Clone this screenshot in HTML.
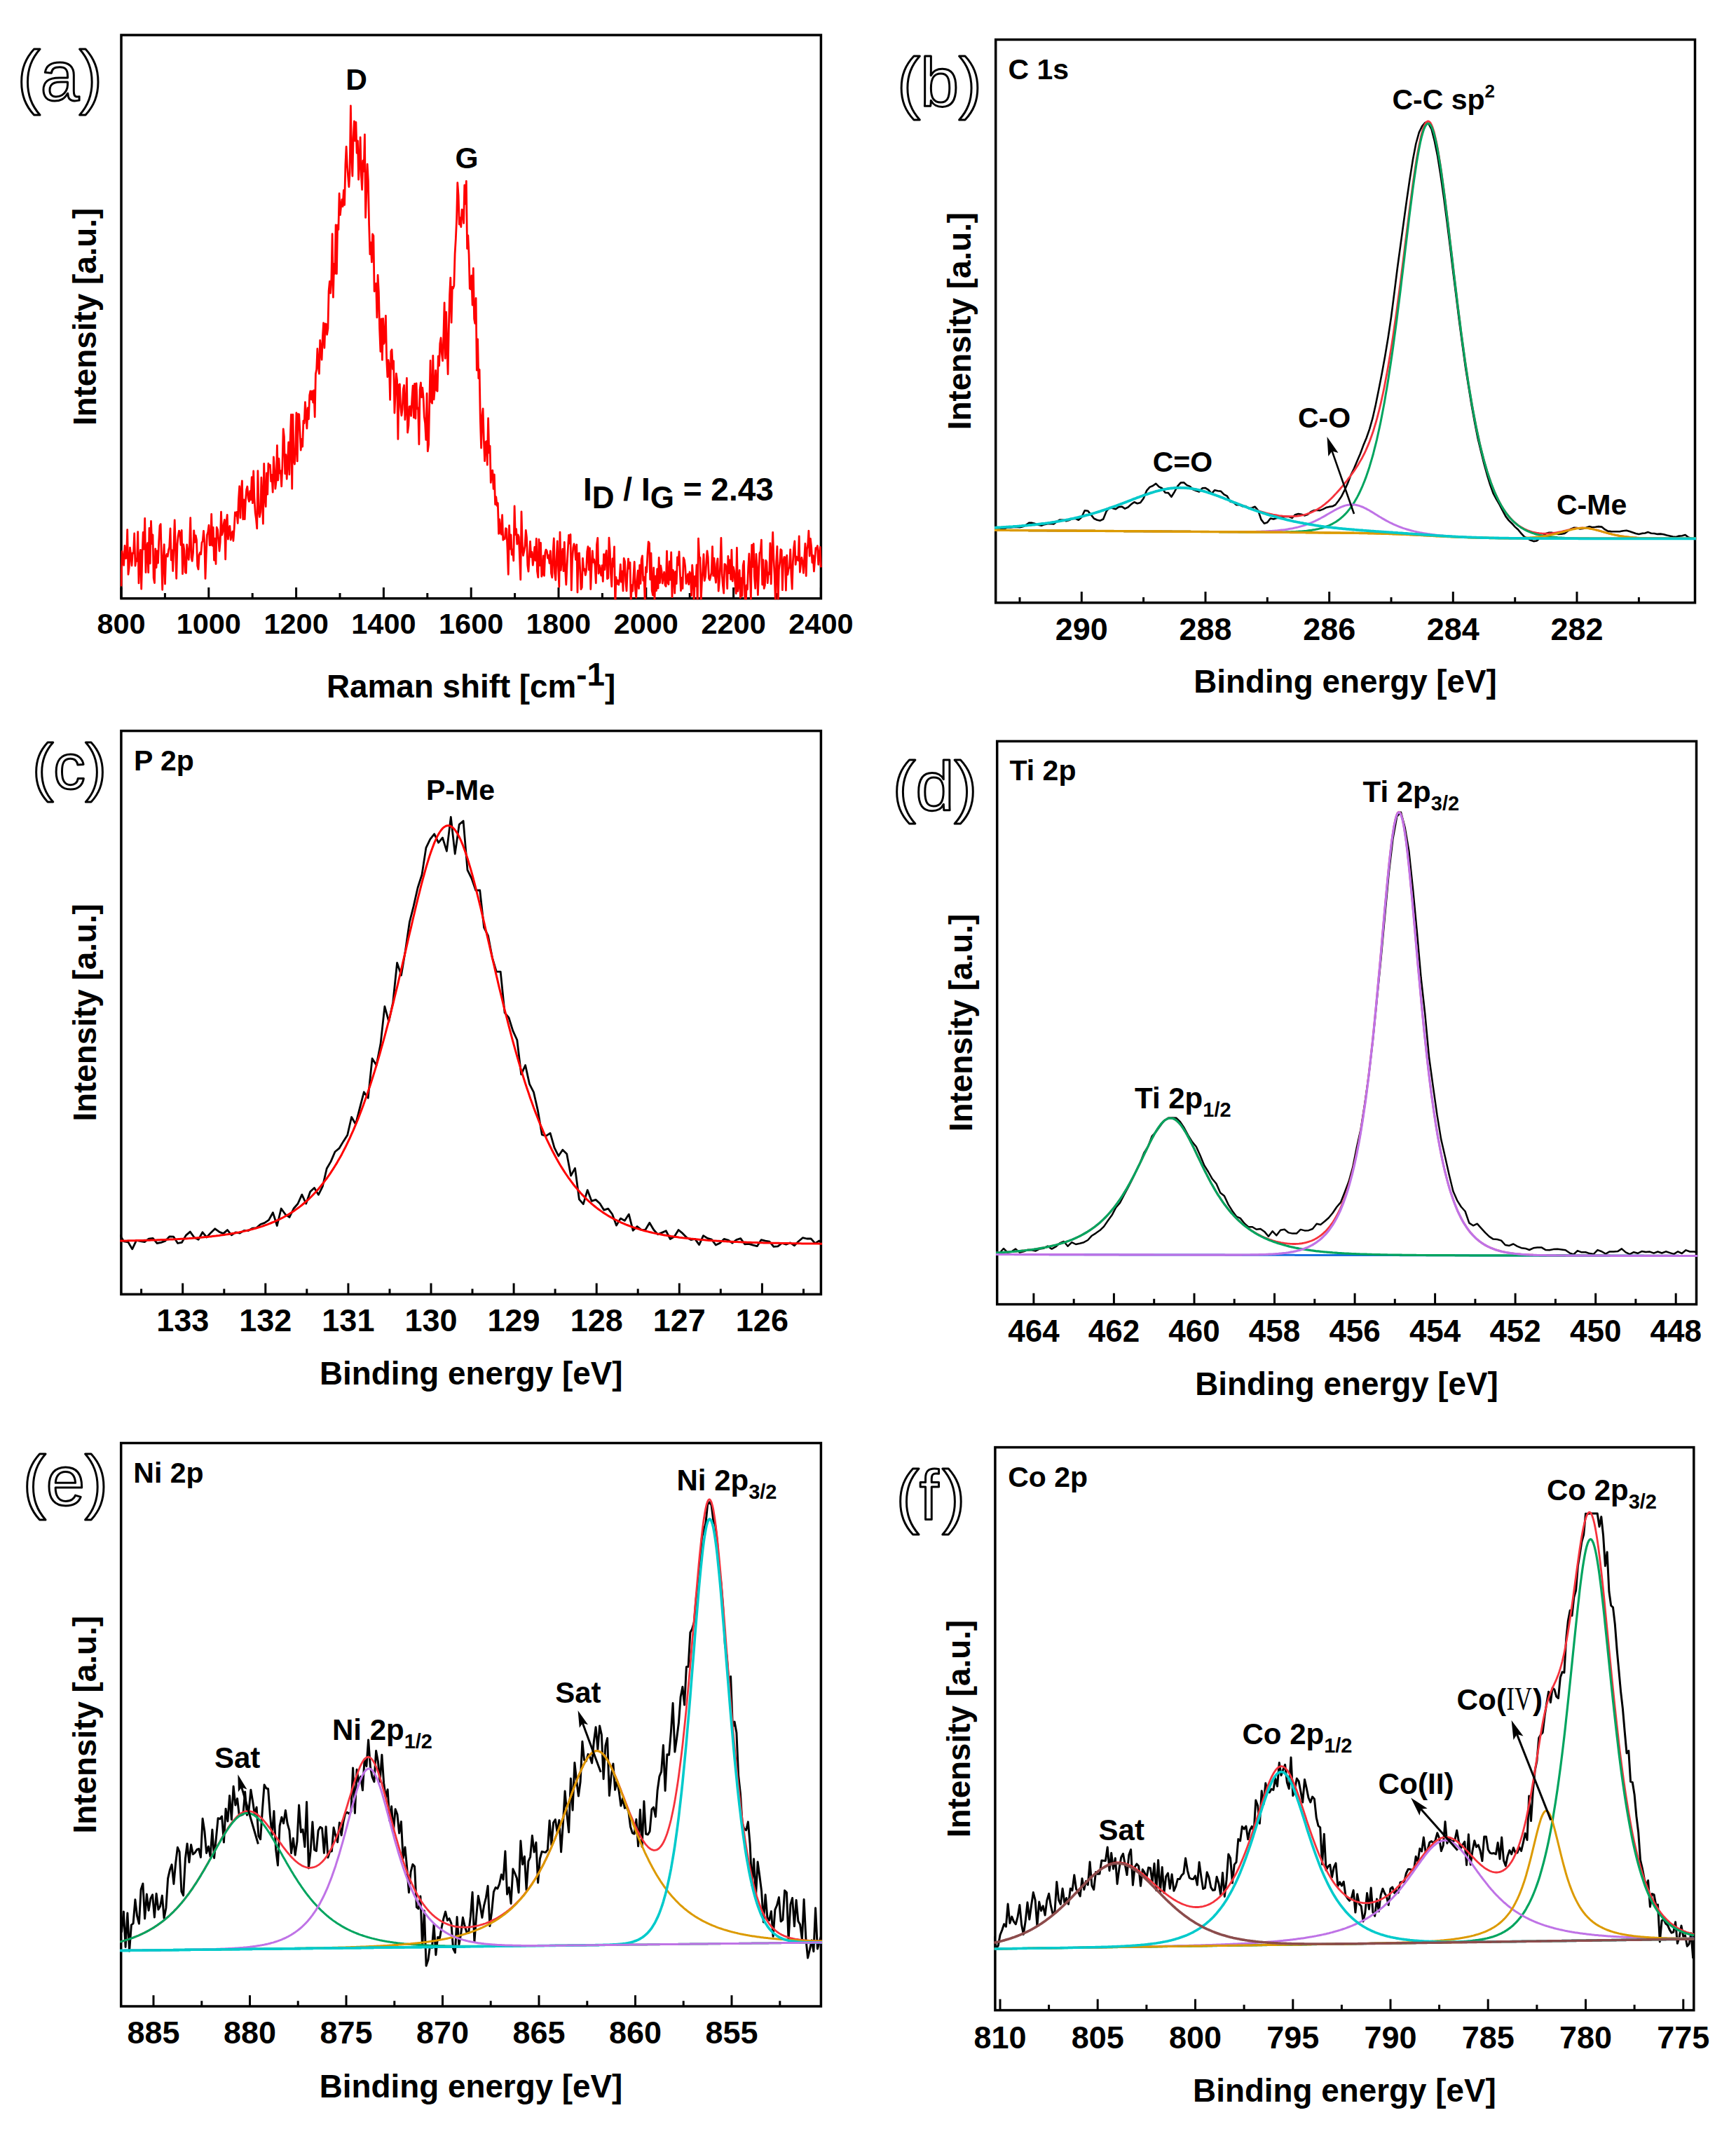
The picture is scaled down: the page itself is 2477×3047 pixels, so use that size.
<!DOCTYPE html>
<html lang="en"><head><meta charset="utf-8"><title>Raman and XPS spectra</title>
<style>html,body{margin:0;padding:0;background:#fff}svg{display:block}</style></head>
<body>
<svg width="2477" height="3047" viewBox="0 0 2477 3047">
<rect width="2477" height="3047" fill="#fff"/>
<path d="M173.0 853.7V837.9M297.8 853.7V837.9M422.6 853.7V837.9M547.4 853.7V837.9M672.2 853.7V837.9M797.0 853.7V837.9M921.8 853.7V837.9M1046.6 853.7V837.9M1171.4 853.7V837.9M235.4 853.7V845.9M360.2 853.7V845.9M485.0 853.7V845.9M609.8 853.7V845.9M734.6 853.7V845.9M859.4 853.7V845.9M984.2 853.7V845.9M1109.0 853.7V845.9" stroke="#000" stroke-width="3" fill="none"/>
<rect x="173.0" y="50.0" width="998.4" height="803.7" fill="none" stroke="#000" stroke-width="3.5"/>
<text x="173.0" y="903.9" font-size="41.5" text-anchor="middle" font-family="'Liberation Sans', sans-serif" font-weight="bold" >800</text>
<text x="297.8" y="903.9" font-size="41.5" text-anchor="middle" font-family="'Liberation Sans', sans-serif" font-weight="bold" >1000</text>
<text x="422.6" y="903.9" font-size="41.5" text-anchor="middle" font-family="'Liberation Sans', sans-serif" font-weight="bold" >1200</text>
<text x="547.4" y="903.9" font-size="41.5" text-anchor="middle" font-family="'Liberation Sans', sans-serif" font-weight="bold" >1400</text>
<text x="672.2" y="903.9" font-size="41.5" text-anchor="middle" font-family="'Liberation Sans', sans-serif" font-weight="bold" >1600</text>
<text x="797.0" y="903.9" font-size="41.5" text-anchor="middle" font-family="'Liberation Sans', sans-serif" font-weight="bold" >1800</text>
<text x="921.8" y="903.9" font-size="41.5" text-anchor="middle" font-family="'Liberation Sans', sans-serif" font-weight="bold" >2000</text>
<text x="1046.6" y="903.9" font-size="41.5" text-anchor="middle" font-family="'Liberation Sans', sans-serif" font-weight="bold" >2200</text>
<text x="1171.4" y="903.9" font-size="41.5" text-anchor="middle" font-family="'Liberation Sans', sans-serif" font-weight="bold" >2400</text>
<text x="672.2" y="994.5" font-size="45.8" text-anchor="middle" font-family="'Liberation Sans', sans-serif" font-weight="bold" >Raman shift [cm<tspan dy="-17">-1</tspan><tspan dy="17">]</tspan></text>
<text transform="translate(137.0 451.9) rotate(-90)" font-size="45.8" text-anchor="middle" font-family="'Liberation Sans', sans-serif" font-weight="bold">Intensity [a.u.]</text>
<text x="24.5" y="142.5" font-size="99.5" font-family="'Liberation Sans', sans-serif" fill="#fff" stroke="#000" stroke-width="3" stroke-linejoin="round">(a)</text>
<defs>
<clipPath id="ca"><rect x="171.4" y="48.4" width="1001.6" height="806.9"/></clipPath>
</defs>
<g clip-path="url(#ca)">
<polyline points="173.0,836.4 174.2,786.5 175.5,797.8 176.7,806.3 178.0,778.5 179.2,796.5 180.5,796.2 181.7,755.6 183.0,819.4 184.2,809.6 185.5,781.1 186.7,791.4 188.0,806.8 189.2,788.9 190.5,789.2 191.7,761.0 193.0,807.2 194.2,797.1 195.5,800.4 196.7,758.6 198.0,831.9 199.2,797.1 200.5,784.4 201.7,840.1 203.0,792.0 204.2,759.3 205.5,783.3 206.7,739.5 208.0,816.6 209.2,782.5 210.5,774.7 211.7,816.6 213.0,753.3 214.2,803.8 215.5,743.4 216.7,775.7 218.0,763.0 219.2,824.6 220.5,831.5 221.7,782.8 223.0,809.7 224.2,785.9 225.5,803.1 226.7,772.3 228.0,749.9 229.2,747.6 230.5,798.1 231.7,841.3 233.0,795.2 234.2,776.6 235.5,833.0 236.7,793.9 238.0,790.5 239.2,793.9 240.5,784.7 241.7,780.4 243.0,754.0 244.2,798.9 245.5,784.8 246.7,814.5 248.0,777.9 249.2,741.9 250.5,783.7 251.7,825.3 253.0,776.6 254.2,764.5 255.5,757.1 256.7,760.2 258.0,777.3 259.2,756.5 260.5,818.6 261.7,776.7 263.0,785.5 264.2,816.2 265.5,817.4 266.7,776.9 268.0,789.3 269.2,798.3 270.5,776.2 271.7,738.7 273.0,795.2 274.2,800.4 275.5,788.7 276.7,756.9 278.0,773.5 279.2,763.8 280.5,770.2 281.7,807.1 283.0,812.1 284.2,791.5 285.5,788.2 286.7,790.7 288.0,774.0 289.2,772.0 290.5,757.4 291.7,771.4 293.0,825.4 294.2,792.0 295.5,762.9 296.7,759.1 298.0,749.2 299.2,777.8 300.5,777.5 301.7,733.4 303.0,778.3 304.2,752.5 305.5,799.1 306.7,768.2 308.0,804.5 309.2,752.2 310.5,755.5 311.7,768.7 313.0,786.0 314.2,773.7 315.5,730.2 316.7,763.2 317.9,758.7 319.2,747.3 320.4,741.4 321.7,797.9 322.9,746.1 324.2,734.5 325.4,769.2 326.7,756.2 327.9,750.4 329.2,770.1 330.4,762.2 331.7,758.1 332.9,771.5 334.2,753.9 335.4,730.9 336.7,735.6 337.9,730.3 339.2,746.4 340.4,713.7 341.7,693.7 342.9,738.7 344.2,702.4 345.4,685.8 346.7,740.8 347.9,712.8 349.2,740.7 350.4,714.2 351.7,698.3 352.9,694.0 354.2,710.6 355.4,715.3 356.7,700.6 357.9,712.8 359.2,680.7 360.4,717.7 361.7,672.0 362.9,710.3 364.2,731.2 365.4,739.7 366.7,753.9 367.9,671.6 369.2,727.6 370.4,737.4 371.7,730.3 372.9,681.1 374.2,712.8 375.4,747.2 376.7,661.3 377.9,708.7 379.2,722.6 380.4,675.0 381.7,705.1 382.9,661.2 384.2,665.5 385.4,663.2 386.7,686.7 387.9,677.5 389.2,702.1 390.4,652.0 391.7,670.8 392.9,697.1 394.2,685.3 395.4,635.5 396.7,685.0 397.9,654.2 399.2,675.0 400.4,671.5 401.7,693.8 402.9,664.1 404.2,611.8 405.4,622.9 406.7,675.8 407.9,648.7 409.2,683.3 410.4,659.3 411.7,631.0 412.9,676.9 414.2,625.9 415.4,591.5 416.7,697.2 417.9,591.4 419.2,656.2 420.4,662.2 421.7,639.3 422.9,589.0 424.2,657.9 425.4,590.7 426.7,590.8 427.9,614.2 429.2,642.1 430.4,626.3 431.7,637.0 432.9,600.2 434.2,603.8 435.4,573.7 436.7,591.2 437.9,611.1 439.2,581.8 440.4,597.8 441.7,563.8 442.9,557.8 444.2,569.8 445.4,557.9 446.7,574.1 447.9,556.8 449.2,594.8 450.4,533.6 451.7,527.1 452.9,497.4 454.2,521.1 455.4,533.2 456.7,485.3 457.9,498.1 459.1,513.1 460.4,480.5 461.6,460.6 462.9,496.3 464.1,461.8 465.4,462.3 466.6,477.4 467.9,468.6 469.1,415.1 470.4,401.5 471.6,418.2 472.9,397.1 474.1,333.7 475.4,424.2 476.6,376.3 477.9,390.3 479.1,320.8 480.4,390.5 481.6,321.2 482.9,327.5 484.1,276.0 485.4,306.5 486.6,294.0 487.9,284.6 489.1,294.5 490.4,271.3 491.6,292.4 492.9,234.8 494.1,209.1 495.4,235.5 496.6,251.2 497.9,266.5 499.1,246.0 500.4,150.9 501.6,219.3 502.9,251.1 504.1,196.8 505.4,173.0 506.6,200.9 507.9,174.3 509.1,218.3 510.4,200.9 511.6,256.1 512.9,231.3 514.1,195.8 515.4,249.9 516.6,270.5 517.9,229.2 519.1,244.4 520.4,191.8 521.6,310.4 522.9,272.5 524.1,234.2 525.4,258.2 526.6,320.2 527.9,362.7 529.1,345.8 530.4,373.9 531.6,334.0 532.9,336.4 534.1,415.5 535.4,412.0 536.6,404.3 537.9,452.9 539.1,392.5 540.4,416.9 541.6,468.9 542.9,501.4 544.1,455.0 545.4,513.4 546.6,454.3 547.9,490.3 549.1,483.7 550.4,450.3 551.6,511.2 552.9,537.7 554.1,513.7 555.4,522.6 556.6,570.3 557.9,501.0 559.1,498.8 560.4,526.5 561.6,514.8 562.9,589.1 564.1,562.9 565.4,532.9 566.6,542.7 567.9,626.4 569.1,548.9 570.4,548.0 571.6,580.7 572.9,592.9 574.1,584.1 575.4,555.1 576.6,549.5 577.9,598.7 579.1,581.9 580.4,539.5 581.6,617.1 582.9,607.0 584.1,579.8 585.4,579.7 586.6,593.3 587.9,568.3 589.1,550.2 590.4,595.6 591.6,547.3 592.9,597.0 594.1,546.8 595.4,583.1 596.6,581.8 597.9,633.8 599.1,555.8 600.4,545.9 601.6,566.6 602.8,553.2 604.1,567.4 605.3,594.6 606.6,603.7 607.8,627.4 609.1,561.2 610.3,643.7 611.6,634.1 612.8,573.0 614.1,514.3 615.3,573.1 616.6,575.3 617.8,507.3 619.1,569.8 620.3,555.4 621.6,528.3 622.8,556.5 624.1,558.0 625.3,508.1 626.6,521.6 627.8,490.3 629.1,482.0 630.3,504.0 631.6,514.7 632.8,481.4 634.1,431.8 635.3,511.3 636.6,445.1 637.8,491.8 639.1,533.8 640.3,469.8 641.6,420.4 642.8,396.1 644.1,460.2 645.3,409.5 646.6,411.3 647.8,407.5 649.1,361.8 650.3,341.4 651.6,312.0 652.8,260.6 654.1,279.0 655.3,320.0 656.6,310.6 657.8,323.6 659.1,298.9 660.3,301.6 661.6,318.4 662.8,264.2 664.1,290.9 665.3,258.3 666.6,354.7 667.8,335.9 669.1,363.5 670.3,411.6 671.6,412.5 672.8,393.1 674.1,435.2 675.3,382.7 676.6,454.8 677.8,461.4 679.1,425.3 680.3,528.2 681.6,483.9 682.8,539.6 684.1,527.2 685.3,597.4 686.6,639.0 687.8,594.5 689.1,582.9 690.3,626.1 691.6,657.7 692.8,630.8 694.1,629.4 695.3,663.2 696.6,596.7 697.8,645.9 699.1,636.1 700.3,688.4 701.6,671.8 702.8,671.0 704.1,697.4 705.3,676.9 706.6,719.5 707.8,708.9 709.1,721.4 710.3,717.6 711.6,761.4 712.8,740.8 714.1,759.8 715.3,762.2 716.6,734.6 717.8,770.3 719.1,767.5 720.3,768.8 721.6,753.7 722.8,754.7 724.1,785.0 725.3,819.4 726.6,749.6 727.8,783.1 729.1,763.0 730.3,791.3 731.6,784.2 732.8,799.8 734.1,721.9 735.3,762.7 736.6,754.6 737.8,776.2 739.1,762.8 740.3,765.7 741.6,797.5 742.8,826.9 744.0,729.8 745.3,777.1 746.5,792.5 747.8,786.2 749.0,779.0 750.3,756.4 751.5,766.8 752.8,806.3 754.0,815.2 755.3,793.2 756.5,772.3 757.8,794.5 759.0,787.4 760.3,806.2 761.5,796.8 762.8,780.3 764.0,799.5 765.3,768.3 766.5,814.9 767.8,823.6 769.0,769.5 770.3,806.7 771.5,774.4 772.8,822.3 774.0,818.7 775.3,792.8 776.5,821.3 777.8,788.7 779.0,784.1 780.3,786.0 781.5,796.1 782.8,792.1 784.0,803.3 785.3,785.8 786.5,817.8 787.8,823.9 789.0,789.2 790.3,768.0 791.5,817.6 792.8,827.4 794.0,797.6 795.3,772.0 796.5,808.0 797.8,837.1 799.0,759.1 800.3,813.5 801.5,795.5 802.8,783.2 804.0,814.6 805.3,773.5 806.5,810.4 807.8,834.0 809.0,808.1 810.3,784.1 811.5,763.5 812.8,775.2 814.0,762.5 815.3,841.9 816.5,799.5 817.8,781.4 819.0,775.8 820.3,781.3 821.5,798.4 822.8,776.8 824.0,845.0 825.3,789.5 826.5,788.9 827.8,814.1 829.0,840.6 830.3,837.9 831.5,796.4 832.8,813.7 834.0,811.4 835.3,820.4 836.5,814.2 837.8,786.8 839.0,779.7 840.3,812.9 841.5,781.8 842.8,840.5 844.0,810.2 845.3,785.9 846.5,802.2 847.8,798.1 849.0,806.9 850.3,831.8 851.5,776.9 852.8,767.3 854.0,818.2 855.3,806.5 856.5,814.4 857.8,821.0 859.0,806.7 860.3,829.4 861.5,790.6 862.8,812.7 864.0,792.2 865.3,785.4 866.5,825.7 867.8,824.7 869.0,767.1 870.3,786.0 871.5,818.6 872.8,836.6 874.0,796.8 875.3,808.0 876.5,779.8 877.8,865.3 879.0,823.4 880.3,833.1 881.5,827.8 882.8,834.2 884.0,826.8 885.3,805.2 886.5,830.1 887.7,814.9 889.0,842.9 890.2,796.3 891.5,800.8 892.7,828.6 894.0,842.9 895.2,816.9 896.5,797.2 897.7,811.0 899.0,802.3 900.2,857.5 901.5,834.6 902.7,843.1 904.0,821.1 905.2,801.5 906.5,841.3 907.7,852.4 909.0,827.9 910.2,814.0 911.5,839.5 912.7,806.2 914.0,832.5 915.2,798.6 916.5,792.8 917.7,828.2 919.0,823.1 920.2,859.2 921.5,809.1 922.7,816.1 924.0,789.5 925.2,772.8 926.5,775.0 927.7,826.7 929.0,789.1 930.2,842.2 931.5,849.1 932.7,809.9 934.0,854.7 935.2,821.9 936.5,842.7 937.7,811.7 939.0,839.1 940.2,795.4 941.5,831.5 942.7,806.8 944.0,814.4 945.2,832.0 946.5,821.6 947.7,816.0 949.0,834.5 950.2,836.4 951.5,786.1 952.7,830.9 954.0,833.6 955.2,801.0 956.5,827.2 957.7,787.9 959.0,851.6 960.2,813.1 961.5,816.8 962.7,846.2 964.0,815.4 965.2,832.6 966.5,794.8 967.7,805.8 969.0,786.9 970.2,814.2 971.5,842.7 972.7,824.2 974.0,839.5 975.2,795.6 976.5,798.9 977.7,808.5 979.0,832.5 980.2,827.5 981.5,819.0 982.7,833.7 984.0,816.0 985.2,819.0 986.5,849.6 987.7,806.1 989.0,823.8 990.2,856.7 991.5,822.1 992.7,836.0 994.0,805.8 995.2,864.8 996.5,768.1 997.7,793.8 999.0,795.7 1000.2,857.2 1001.5,828.1 1002.7,814.0 1004.0,790.6 1005.2,828.4 1006.5,822.7 1007.7,804.2 1009.0,785.8 1010.2,794.8 1011.5,825.1 1012.7,827.4 1014.0,821.9 1015.2,816.7 1016.5,779.6 1017.7,821.4 1019.0,796.5 1020.2,821.2 1021.5,831.0 1022.7,804.8 1024.0,796.8 1025.2,843.2 1026.5,828.4 1027.7,805.7 1028.9,767.4 1030.2,819.2 1031.4,834.8 1032.7,846.1 1033.9,804.7 1035.2,805.5 1036.4,810.1 1037.7,839.6 1038.9,793.3 1040.2,817.7 1041.4,799.0 1042.7,826.5 1043.9,784.5 1045.2,829.0 1046.4,808.9 1047.7,815.1 1048.9,832.4 1050.2,846.6 1051.4,781.3 1052.7,843.4 1053.9,833.1 1055.2,813.5 1056.4,852.6 1057.7,824.6 1058.9,850.0 1060.2,806.7 1061.4,800.4 1062.7,848.5 1063.9,870.1 1065.2,834.9 1066.4,840.8 1067.7,809.4 1068.9,789.8 1070.2,815.1 1071.4,854.7 1072.7,777.3 1073.9,808.5 1075.2,775.6 1076.4,821.9 1077.7,839.3 1078.9,790.3 1080.2,809.1 1081.4,848.7 1082.7,815.8 1083.9,788.9 1085.2,786.7 1086.4,770.2 1087.7,834.0 1088.9,798.6 1090.2,839.5 1091.4,834.8 1092.7,799.3 1093.9,801.9 1095.2,831.6 1096.4,816.8 1097.7,819.1 1098.9,774.8 1100.2,832.9 1101.4,791.8 1102.7,759.4 1103.9,797.1 1105.2,820.6 1106.4,858.8 1107.7,801.6 1108.9,779.3 1110.2,858.4 1111.4,812.8 1112.7,802.8 1113.9,783.7 1115.2,785.0 1116.4,841.7 1117.7,801.1 1118.9,794.6 1120.2,794.8 1121.4,842.2 1122.7,792.2 1123.9,819.8 1125.2,811.0 1126.4,810.0 1127.7,783.9 1128.9,818.7 1130.2,840.1 1131.4,801.4 1132.7,780.9 1133.9,771.8 1135.2,805.4 1136.4,794.2 1137.7,797.5 1138.9,799.6 1140.2,764.8 1141.4,816.2 1142.7,803.1 1143.9,795.4 1145.2,801.9 1146.4,817.4 1147.7,796.8 1148.9,775.4 1150.2,821.5 1151.4,784.1 1152.7,777.0 1153.9,757.2 1155.2,793.2 1156.4,768.4 1157.7,780.3 1158.9,802.5 1160.2,792.5 1161.4,815.0 1162.7,798.3 1163.9,781.6 1165.2,783.1 1166.4,778.7 1167.7,805.3 1168.9,790.6 1170.2,780.4 1171.4,809.4" fill="none" stroke="#ff0000" stroke-width="2.8" stroke-linejoin="round" stroke-linecap="butt" />
</g>
<text x="508.5" y="128.2" font-size="42.5" text-anchor="middle" font-family="'Liberation Sans', sans-serif" font-weight="bold" >D</text>
<text x="666.0" y="240.1" font-size="42.5" text-anchor="middle" font-family="'Liberation Sans', sans-serif" font-weight="bold" >G</text>
<text x="832.0" y="714.4" font-size="46" text-anchor="start" font-family="'Liberation Sans', sans-serif" font-weight="bold" >I<tspan dy="11" font-size="44">D</tspan><tspan dy="-11"> / I</tspan><tspan dy="11" font-size="44">G</tspan><tspan dy="-11"> = 2.43</tspan></text>
<path d="M1543.3 859.8V844.0M1720.0 859.8V844.0M1896.7 859.8V844.0M2073.3 859.8V844.0M2250.0 859.8V844.0M1455.0 859.8V852.0M1631.6 859.8V852.0M1808.3 859.8V852.0M1985.0 859.8V852.0M2161.7 859.8V852.0M2338.4 859.8V852.0" stroke="#000" stroke-width="3" fill="none"/>
<rect x="1420.7" y="56.5" width="997.8" height="803.3" fill="none" stroke="#000" stroke-width="3.5"/>
<text x="1543.3" y="913.3" font-size="45" text-anchor="middle" font-family="'Liberation Sans', sans-serif" font-weight="bold" >290</text>
<text x="1720.0" y="913.3" font-size="45" text-anchor="middle" font-family="'Liberation Sans', sans-serif" font-weight="bold" >288</text>
<text x="1896.7" y="913.3" font-size="45" text-anchor="middle" font-family="'Liberation Sans', sans-serif" font-weight="bold" >286</text>
<text x="2073.3" y="913.3" font-size="45" text-anchor="middle" font-family="'Liberation Sans', sans-serif" font-weight="bold" >284</text>
<text x="2250.0" y="913.3" font-size="45" text-anchor="middle" font-family="'Liberation Sans', sans-serif" font-weight="bold" >282</text>
<text x="1919.6" y="987.8" font-size="45.8" text-anchor="middle" font-family="'Liberation Sans', sans-serif" font-weight="bold" >Binding energy [eV]</text>
<text transform="translate(1384.7 458.1) rotate(-90)" font-size="45.8" text-anchor="middle" font-family="'Liberation Sans', sans-serif" font-weight="bold">Intensity [a.u.]</text>
<text x="1280.0" y="150.5" font-size="99" font-family="'Liberation Sans', sans-serif" fill="#fff" stroke="#000" stroke-width="3" stroke-linejoin="round">(b)</text>
<defs>
<clipPath id="cb"><rect x="1419.1" y="54.9" width="1001.0" height="806.5"/></clipPath>
</defs>
<g clip-path="url(#cb)">
<polyline points="1415.2,750.4 1419.6,750.5 1424.0,753.6 1428.5,754.6 1432.9,754.3 1437.3,752.4 1441.7,752.4 1446.1,752.0 1450.5,751.8 1455.0,752.2 1459.4,751.3 1463.8,749.0 1468.2,745.8 1472.6,745.9 1477.0,747.1 1481.5,748.7 1485.9,749.7 1490.3,748.1 1494.7,747.3 1499.1,746.9 1503.5,747.4 1508.0,744.0 1512.4,741.5 1516.8,741.8 1521.2,743.3 1525.6,742.0 1530.0,739.9 1534.5,739.8 1538.9,741.7 1543.3,737.7 1547.7,728.3 1552.1,728.7 1556.6,734.1 1561.0,739.8 1565.4,741.8 1569.8,742.7 1574.2,740.5 1578.6,729.5 1583.1,724.0 1587.5,725.1 1591.9,726.2 1596.3,723.1 1600.7,722.7 1605.1,725.6 1609.6,723.5 1614.0,719.4 1618.4,716.3 1622.8,718.3 1627.2,717.1 1631.6,711.0 1636.1,699.9 1640.5,694.9 1644.9,693.0 1649.3,689.9 1653.7,694.4 1658.1,696.5 1662.6,702.8 1667.0,703.1 1671.4,708.8 1675.8,701.7 1680.2,693.6 1684.6,688.6 1689.1,688.2 1693.5,692.1 1697.9,693.9 1702.3,698.2 1706.7,700.1 1711.1,701.4 1715.6,696.3 1720.0,696.1 1724.4,698.9 1728.8,704.2 1733.2,699.2 1737.6,700.2 1742.1,700.8 1746.5,705.3 1750.9,707.7 1755.3,715.4 1759.7,716.6 1764.2,720.2 1768.6,720.0 1773.0,722.3 1777.4,722.1 1781.8,725.3 1786.2,724.4 1790.7,722.8 1795.1,728.0 1799.5,741.1 1803.9,746.8 1808.3,745.3 1812.7,739.5 1817.2,740.4 1821.6,739.0 1826.0,738.6 1830.4,737.7 1834.8,736.8 1839.2,737.0 1843.7,738.9 1848.1,734.2 1852.5,733.1 1856.9,733.7 1861.3,735.4 1865.7,734.1 1870.2,730.1 1874.6,728.1 1879.0,727.7 1883.4,728.1 1887.8,726.4 1892.2,724.1 1896.7,722.9 1901.1,722.3 1905.5,720.0 1909.9,714.3 1914.3,707.7 1918.7,698.9 1923.2,688.8 1927.6,677.4 1932.0,668.3 1936.4,657.8 1940.8,647.5 1945.2,635.6 1949.7,624.7 1954.1,612.1 1958.5,596.7 1962.9,577.3 1967.3,555.5 1971.7,532.9 1976.2,508.3 1980.6,481.7 1985.0,452.2 1989.4,418.1 1993.8,383.0 1998.3,349.9 2002.7,317.8 2007.1,286.0 2011.5,255.7 2015.9,228.1 2020.3,205.0 2024.8,188.9 2029.2,179.9 2033.6,174.8 2038.0,175.9 2042.4,183.8 2046.8,200.9 2051.3,223.3 2055.7,251.1 2060.1,281.8 2064.5,315.7 2068.9,350.8 2073.3,387.5 2077.8,423.5 2082.2,459.1 2086.6,492.2 2091.0,524.0 2095.4,551.6 2099.8,578.9 2104.3,603.6 2108.7,625.8 2113.1,644.0 2117.5,661.7 2121.9,677.5 2126.3,691.9 2130.8,704.2 2135.2,712.4 2139.6,719.9 2144.0,728.5 2148.4,736.6 2152.8,742.4 2157.3,746.7 2161.7,751.6 2166.1,755.5 2170.5,760.8 2174.9,765.6 2179.3,767.9 2183.8,770.5 2188.2,772.1 2192.6,771.5 2197.0,767.7 2201.4,764.2 2205.9,761.1 2210.3,759.8 2214.7,759.9 2219.1,760.8 2223.5,761.9 2227.9,761.7 2232.4,761.0 2236.8,757.6 2241.2,754.6 2245.6,752.9 2250.0,753.1 2254.4,754.5 2258.9,754.0 2263.3,752.8 2267.7,751.1 2272.1,752.2 2276.5,751.7 2280.9,751.1 2285.4,751.6 2289.8,755.2 2294.2,757.6 2298.6,758.1 2303.0,758.2 2307.4,758.2 2311.9,758.1 2316.3,757.2 2320.7,756.8 2325.1,758.0 2329.5,759.5 2333.9,761.0 2338.4,762.0 2342.8,760.9 2347.2,760.5 2351.6,759.1 2356.0,760.7 2360.4,761.0 2364.9,761.9 2369.3,761.6 2373.7,762.2 2378.1,763.6 2382.5,764.5 2386.9,765.5 2391.4,766.1 2395.8,764.6 2400.2,764.3 2404.6,763.0 2409.0,766.6 2413.4,768.0 2417.9,768.5 2422.3,766.1" fill="none" stroke="#000" stroke-width="2.6" stroke-linejoin="round" stroke-linecap="butt" />
<polyline points="1415.2,752.9 1417.0,752.8 1418.7,752.7 1420.5,752.6 1422.3,752.5 1424.0,752.4 1425.8,752.4 1427.6,752.3 1429.3,752.2 1431.1,752.1 1432.9,752.0 1434.6,751.9 1436.4,751.7 1438.2,751.6 1439.9,751.5 1441.7,751.4 1443.5,751.3 1445.2,751.2 1447.0,751.0 1448.8,750.9 1450.5,750.8 1452.3,750.6 1454.1,750.5 1455.8,750.3 1457.6,750.2 1459.4,750.0 1461.1,749.9 1462.9,749.7 1464.7,749.6 1466.4,749.4 1468.2,749.2 1470.0,749.0 1471.7,748.9 1473.5,748.7 1475.3,748.5 1477.0,748.3 1478.8,748.1 1480.6,747.9 1482.3,747.7 1484.1,747.5 1485.9,747.2 1487.6,747.0 1489.4,746.8 1491.2,746.6 1492.9,746.3 1494.7,746.1 1496.5,745.8 1498.2,745.6 1500.0,745.3 1501.8,745.0 1503.5,744.8 1505.3,744.5 1507.1,744.2 1508.8,743.9 1510.6,743.6 1512.4,743.3 1514.1,743.0 1515.9,742.7 1517.7,742.3 1519.4,742.0 1521.2,741.7 1523.0,741.3 1524.7,741.0 1526.5,740.6 1528.3,740.2 1530.0,739.9 1531.8,739.5 1533.6,739.1 1535.3,738.7 1537.1,738.3 1538.9,737.9 1540.6,737.4 1542.4,737.0 1544.2,736.6 1546.0,736.1 1547.7,735.7 1549.5,735.2 1551.3,734.7 1553.0,734.3 1554.8,733.8 1556.6,733.3 1558.3,732.8 1560.1,732.3 1561.9,731.7 1563.6,731.2 1565.4,730.7 1567.2,730.1 1568.9,729.6 1570.7,729.0 1572.5,728.4 1574.2,727.9 1576.0,727.3 1577.8,726.7 1579.5,726.1 1581.3,725.5 1583.1,724.9 1584.8,724.3 1586.6,723.6 1588.4,723.0 1590.1,722.4 1591.9,721.7 1593.7,721.1 1595.4,720.4 1597.2,719.8 1599.0,719.1 1600.7,718.4 1602.5,717.7 1604.3,717.1 1606.0,716.4 1607.8,715.7 1609.6,715.0 1611.3,714.4 1613.1,713.7 1614.9,713.0 1616.6,712.3 1618.4,711.6 1620.2,711.0 1621.9,710.3 1623.7,709.6 1625.5,709.0 1627.2,708.3 1629.0,707.7 1630.8,707.0 1632.5,706.4 1634.3,705.8 1636.1,705.2 1637.8,704.6 1639.6,704.0 1641.4,703.4 1643.1,702.8 1644.9,702.3 1646.7,701.7 1648.4,701.2 1650.2,700.7 1652.0,700.3 1653.7,699.8 1655.5,699.4 1657.3,698.9 1659.0,698.5 1660.8,698.2 1662.6,697.8 1664.3,697.5 1666.1,697.2 1667.9,696.9 1669.6,696.7 1671.4,696.5 1673.2,696.3 1674.9,696.1 1676.7,696.0 1678.5,695.9 1680.2,695.8 1682.0,695.8 1683.8,695.7 1685.5,695.8 1687.3,695.8 1689.1,695.9 1690.8,696.0 1692.6,696.1 1694.4,696.3 1696.1,696.4 1697.9,696.7 1699.7,696.9 1701.4,697.2 1703.2,697.5 1705.0,697.8 1706.7,698.1 1708.5,698.5 1710.3,698.9 1712.0,699.3 1713.8,699.8 1715.6,700.2 1717.3,700.7 1719.1,701.2 1720.9,701.7 1722.6,702.3 1724.4,702.8 1726.2,703.4 1727.9,704.0 1729.7,704.6 1731.5,705.2 1733.2,705.8 1735.0,706.5 1736.8,707.1 1738.5,707.8 1740.3,708.4 1742.1,709.1 1743.8,709.8 1745.6,710.5 1747.4,711.2 1749.1,711.8 1750.9,712.5 1752.7,713.2 1754.4,713.9 1756.2,714.6 1758.0,715.3 1759.7,716.0 1761.5,716.7 1763.3,717.4 1765.0,718.1 1766.8,718.8 1768.6,719.4 1770.3,720.1 1772.1,720.8 1773.9,721.4 1775.6,722.1 1777.4,722.7 1779.2,723.4 1780.9,724.0 1782.7,724.6 1784.5,725.2 1786.2,725.8 1788.0,726.4 1789.8,727.0 1791.5,727.6 1793.3,728.1 1795.1,728.7 1796.8,729.2 1798.6,729.7 1800.4,730.2 1802.1,730.7 1803.9,731.2 1805.7,731.7 1807.4,732.1 1809.2,732.5 1811.0,732.9 1812.7,733.3 1814.5,733.7 1816.3,734.1 1818.0,734.4 1819.8,734.7 1821.6,735.0 1823.3,735.3 1825.1,735.6 1826.9,735.8 1828.6,736.0 1830.4,736.2 1832.2,736.3 1833.9,736.5 1835.7,736.6 1837.5,736.6 1839.2,736.7 1841.0,736.7 1842.8,736.7 1844.5,736.6 1846.3,736.6 1848.1,736.4 1849.8,736.3 1851.6,736.1 1853.4,735.8 1855.1,735.6 1856.9,735.2 1858.7,734.9 1860.4,734.5 1862.2,734.0 1864.0,733.5 1865.7,732.9 1867.5,732.3 1869.3,731.7 1871.0,730.9 1872.8,730.2 1874.6,729.3 1876.3,728.4 1878.1,727.5 1879.9,726.5 1881.6,725.4 1883.4,724.3 1885.2,723.1 1886.9,721.8 1888.7,720.5 1890.5,719.1 1892.2,717.7 1894.0,716.2 1895.8,714.6 1897.5,713.0 1899.3,711.3 1901.1,709.5 1902.8,707.7 1904.6,705.8 1906.4,703.9 1908.1,702.0 1909.9,700.0 1911.7,698.0 1913.4,695.9 1915.2,693.8 1917.0,691.7 1918.7,689.5 1920.5,687.3 1922.3,685.0 1924.0,682.7 1925.8,680.4 1927.6,678.0 1929.3,675.6 1931.1,673.1 1932.9,670.6 1934.6,667.9 1936.4,665.2 1938.2,662.4 1939.9,659.4 1941.7,656.4 1943.5,653.2 1945.2,649.8 1947.0,646.3 1948.8,642.5 1950.5,638.6 1952.3,634.4 1954.1,630.0 1955.8,625.3 1957.6,620.3 1959.4,615.0 1961.1,609.4 1962.9,603.5 1964.7,597.2 1966.4,590.6 1968.2,583.6 1970.0,576.2 1971.7,568.4 1973.5,560.2 1975.3,551.6 1977.0,542.6 1978.8,533.1 1980.6,523.2 1982.3,512.8 1984.1,502.1 1985.9,490.9 1987.7,479.3 1989.4,467.3 1991.2,454.9 1993.0,442.1 1994.7,429.0 1996.5,415.6 1998.3,402.0 2000.0,388.1 2001.8,374.0 2003.6,359.8 2005.3,345.5 2007.1,331.3 2008.9,317.1 2010.6,303.1 2012.4,289.3 2014.2,275.8 2015.9,262.8 2017.7,250.2 2019.5,238.3 2021.2,227.1 2023.0,216.7 2024.8,207.3 2026.5,198.8 2028.3,191.4 2030.1,185.1 2031.8,180.1 2033.6,176.4 2035.4,173.9 2037.1,172.9 2038.9,173.2 2040.7,174.8 2042.4,177.8 2044.2,182.1 2046.0,187.7 2047.7,194.6 2049.5,202.6 2051.3,211.6 2053.0,221.7 2054.8,232.7 2056.6,244.6 2058.3,257.1 2060.1,270.3 2061.9,284.0 2063.6,298.1 2065.4,312.6 2067.2,327.3 2068.9,342.2 2070.7,357.2 2072.5,372.3 2074.2,387.2 2076.0,402.1 2077.8,416.8 2079.5,431.4 2081.3,445.6 2083.1,459.6 2084.8,473.3 2086.6,486.6 2088.4,499.6 2090.1,512.2 2091.9,524.4 2093.7,536.2 2095.4,547.6 2097.2,558.6 2099.0,569.2 2100.7,579.3 2102.5,589.1 2104.3,598.5 2106.0,607.5 2107.8,616.1 2109.6,624.3 2111.3,632.2 2113.1,639.7 2114.9,646.8 2116.6,653.6 2118.4,660.1 2120.2,666.3 2121.9,672.1 2123.7,677.7 2125.5,683.0 2127.2,688.0 2129.0,692.8 2130.8,697.3 2132.5,701.5 2134.3,705.6 2136.1,709.4 2137.8,713.0 2139.6,716.4 2141.4,719.6 2143.1,722.7 2144.9,725.6 2146.7,728.3 2148.4,730.8 2150.2,733.2 2152.0,735.4 2153.7,737.5 2155.5,739.5 2157.3,741.4 2159.0,743.1 2160.8,744.8 2162.6,746.3 2164.3,747.7 2166.1,749.1 2167.9,750.3 2169.6,751.5 2171.4,752.5 2173.2,753.5 2174.9,754.4 2176.7,755.3 2178.5,756.1 2180.2,756.8 2182.0,757.4 2183.8,758.0 2185.5,758.6 2187.3,759.0 2189.1,759.5 2190.8,759.8 2192.6,760.2 2194.4,760.4 2196.1,760.7 2197.9,760.8 2199.7,761.0 2201.4,761.1 2203.2,761.1 2205.0,761.2 2206.7,761.1 2208.5,761.1 2210.3,761.0 2212.0,760.8 2213.8,760.7 2215.6,760.5 2217.3,760.2 2219.1,760.0 2220.9,759.7 2222.6,759.3 2224.4,759.0 2226.2,758.6 2227.9,758.3 2229.7,757.9 2231.5,757.4 2233.2,757.0 2235.0,756.6 2236.8,756.2 2238.5,755.8 2240.3,755.4 2242.1,755.0 2243.8,754.6 2245.6,754.3 2247.4,754.0 2249.1,753.7 2250.9,753.5 2252.7,753.3 2254.4,753.2 2256.2,753.1 2258.0,753.0 2259.7,753.1 2261.5,753.1 2263.3,753.3 2265.0,753.5 2266.8,753.7 2268.6,754.0 2270.3,754.3 2272.1,754.6 2273.9,755.0 2275.6,755.5 2277.4,755.9 2279.2,756.4 2280.9,756.9 2282.7,757.4 2284.5,757.9 2286.2,758.4 2288.0,758.9 2289.8,759.4 2291.5,759.9 2293.3,760.4 2295.1,760.8 2296.8,761.3 2298.6,761.7 2300.4,762.2 2302.1,762.6 2303.9,763.0 2305.7,763.4 2307.4,763.7 2309.2,764.0 2311.0,764.4 2312.7,764.7 2314.5,764.9 2316.3,765.2 2318.0,765.5 2319.8,765.7 2321.6,765.9 2323.3,766.1 2325.1,766.3 2326.9,766.5 2328.6,766.6 2330.4,766.8 2332.2,766.9 2333.9,767.0 2335.7,767.2 2337.5,767.3 2339.2,767.4 2341.0,767.5 2342.8,767.5 2344.5,767.6 2346.3,767.7 2348.1,767.7 2349.8,767.8 2351.6,767.8 2353.4,767.9 2355.1,767.9 2356.9,768.0 2358.7,768.0 2360.4,768.0 2362.2,768.1 2364.0,768.1 2365.7,768.1 2367.5,768.1 2369.3,768.2 2371.0,768.2 2372.8,768.2 2374.6,768.2 2376.3,768.2 2378.1,768.2 2379.9,768.2 2381.6,768.2 2383.4,768.2 2385.2,768.3 2386.9,768.3 2388.7,768.3 2390.5,768.3 2392.2,768.3 2394.0,768.3 2395.8,768.3 2397.5,768.3 2399.3,768.3 2401.1,768.3 2402.8,768.3 2404.6,768.3 2406.4,768.3 2408.1,768.3 2409.9,768.3 2411.7,768.3 2413.4,768.3 2415.2,768.3 2417.0,768.3 2418.7,768.3 2420.5,768.3 2422.3,768.3 2424.0,768.3 2425.8,768.3" fill="none" stroke="#f5323c" stroke-width="2.8" stroke-linejoin="round" stroke-linecap="butt" />
<polyline points="1415.2,756.3 1417.0,756.3 1418.7,756.3 1420.5,756.3 1422.3,756.3 1424.0,756.3 1425.8,756.3 1427.6,756.4 1429.3,756.4 1431.1,756.4 1432.9,756.4 1434.6,756.4 1436.4,756.4 1438.2,756.4 1439.9,756.4 1441.7,756.5 1443.5,756.5 1445.2,756.5 1447.0,756.5 1448.8,756.5 1450.5,756.5 1452.3,756.5 1454.1,756.6 1455.8,756.6 1457.6,756.6 1459.4,756.6 1461.1,756.6 1462.9,756.6 1464.7,756.6 1466.4,756.6 1468.2,756.7 1470.0,756.7 1471.7,756.7 1473.5,756.7 1475.3,756.7 1477.0,756.7 1478.8,756.7 1480.6,756.7 1482.3,756.8 1484.1,756.8 1485.9,756.8 1487.6,756.8 1489.4,756.8 1491.2,756.8 1492.9,756.8 1494.7,756.9 1496.5,756.9 1498.2,756.9 1500.0,756.9 1501.8,756.9 1503.5,756.9 1505.3,756.9 1507.1,756.9 1508.8,757.0 1510.6,757.0 1512.4,757.0 1514.1,757.0 1515.9,757.0 1517.7,757.0 1519.4,757.0 1521.2,757.0 1523.0,757.1 1524.7,757.1 1526.5,757.1 1528.3,757.1 1530.0,757.1 1531.8,757.1 1533.6,757.1 1535.3,757.1 1537.1,757.2 1538.9,757.2 1540.6,757.2 1542.4,757.2 1544.2,757.2 1546.0,757.2 1547.7,757.2 1549.5,757.3 1551.3,757.3 1553.0,757.3 1554.8,757.3 1556.6,757.3 1558.3,757.3 1560.1,757.3 1561.9,757.3 1563.6,757.4 1565.4,757.4 1567.2,757.4 1568.9,757.4 1570.7,757.4 1572.5,757.4 1574.2,757.4 1576.0,757.4 1577.8,757.5 1579.5,757.5 1581.3,757.5 1583.1,757.5 1584.8,757.5 1586.6,757.5 1588.4,757.5 1590.1,757.6 1591.9,757.6 1593.7,757.6 1595.4,757.6 1597.2,757.6 1599.0,757.6 1600.7,757.6 1602.5,757.6 1604.3,757.7 1606.0,757.7 1607.8,757.7 1609.6,757.7 1611.3,757.7 1613.1,757.7 1614.9,757.7 1616.6,757.7 1618.4,757.8 1620.2,757.8 1621.9,757.8 1623.7,757.8 1625.5,757.8 1627.2,757.8 1629.0,757.8 1630.8,757.8 1632.5,757.9 1634.3,757.9 1636.1,757.9 1637.8,757.9 1639.6,757.9 1641.4,757.9 1643.1,757.9 1644.9,758.0 1646.7,758.0 1648.4,758.0 1650.2,758.0 1652.0,758.0 1653.7,758.0 1655.5,758.0 1657.3,758.0 1659.0,758.1 1660.8,758.1 1662.6,758.1 1664.3,758.1 1666.1,758.1 1667.9,758.1 1669.6,758.1 1671.4,758.1 1673.2,758.2 1674.9,758.2 1676.7,758.2 1678.5,758.2 1680.2,758.2 1682.0,758.2 1683.8,758.2 1685.5,758.3 1687.3,758.3 1689.1,758.3 1690.8,758.3 1692.6,758.3 1694.4,758.3 1696.1,758.3 1697.9,758.3 1699.7,758.4 1701.4,758.4 1703.2,758.4 1705.0,758.4 1706.7,758.4 1708.5,758.4 1710.3,758.4 1712.0,758.4 1713.8,758.5 1715.6,758.5 1717.3,758.5 1719.1,758.5 1720.9,758.5 1722.6,758.5 1724.4,758.5 1726.2,758.6 1727.9,758.6 1729.7,758.6 1731.5,758.6 1733.2,758.6 1735.0,758.6 1736.8,758.6 1738.5,758.6 1740.3,758.7 1742.1,758.7 1743.8,758.7 1745.6,758.7 1747.4,758.7 1749.1,758.7 1750.9,758.7 1752.7,758.7 1754.4,758.8 1756.2,758.8 1758.0,758.8 1759.7,758.8 1761.5,758.8 1763.3,758.8 1765.0,758.8 1766.8,758.8 1768.6,758.9 1770.3,758.9 1772.1,758.9 1773.9,758.9 1775.6,758.9 1777.4,758.9 1779.2,758.9 1780.9,758.9 1782.7,759.0 1784.5,759.0 1786.2,759.0 1788.0,759.0 1789.8,759.0 1791.5,759.0 1793.3,759.0 1795.1,759.0 1796.8,759.0 1798.6,759.0 1800.4,759.0 1802.1,759.0 1803.9,759.0 1805.7,759.0 1807.4,759.1 1809.2,759.1 1811.0,759.1 1812.7,759.1 1814.5,759.0 1816.3,759.0 1818.0,759.0 1819.8,759.0 1821.6,759.0 1823.3,759.0 1825.1,759.0 1826.9,759.0 1828.6,758.9 1830.4,758.9 1832.2,758.9 1833.9,758.9 1835.7,758.8 1837.5,758.8 1839.2,758.7 1841.0,758.7 1842.8,758.6 1844.5,758.6 1846.3,758.5 1848.1,758.4 1849.8,758.3 1851.6,758.2 1853.4,758.1 1855.1,758.0 1856.9,757.9 1858.7,757.7 1860.4,757.6 1862.2,757.4 1864.0,757.3 1865.7,757.1 1867.5,756.8 1869.3,756.6 1871.0,756.4 1872.8,756.1 1874.6,755.8 1876.3,755.5 1878.1,755.1 1879.9,754.8 1881.6,754.4 1883.4,753.9 1885.2,753.5 1886.9,753.0 1888.7,752.4 1890.5,751.8 1892.2,751.2 1894.0,750.5 1895.8,749.8 1897.5,749.0 1899.3,748.2 1901.1,747.3 1902.8,746.3 1904.6,745.3 1906.4,744.2 1908.1,743.0 1909.9,741.7 1911.7,740.4 1913.4,739.0 1915.2,737.4 1917.0,735.8 1918.7,734.1 1920.5,732.2 1922.3,730.2 1924.0,728.1 1925.8,725.9 1927.6,723.5 1929.3,721.0 1931.1,718.4 1932.9,715.5 1934.6,712.5 1936.4,709.4 1938.2,706.0 1939.9,702.5 1941.7,698.7 1943.5,694.7 1945.2,690.5 1947.0,686.1 1948.8,681.4 1950.5,676.4 1952.3,671.2 1954.1,665.7 1955.8,659.9 1957.6,653.8 1959.4,647.5 1961.1,640.7 1962.9,633.7 1964.7,626.3 1966.4,618.5 1968.2,610.4 1970.0,601.9 1971.7,593.1 1973.5,583.8 1975.3,574.2 1977.0,564.1 1978.8,553.7 1980.6,542.8 1982.3,531.6 1984.1,519.9 1985.9,507.8 1987.7,495.4 1989.4,482.6 1991.2,469.4 1993.0,455.9 1994.7,442.1 1996.5,428.1 1998.3,413.8 2000.0,399.2 2001.8,384.6 2003.6,369.8 2005.3,355.0 2007.1,340.2 2008.9,325.5 2010.6,311.0 2012.4,296.8 2014.2,282.9 2015.9,269.5 2017.7,256.6 2019.5,244.3 2021.2,232.8 2023.0,222.1 2024.8,212.3 2026.5,203.5 2028.3,195.8 2030.1,189.3 2031.8,184.1 2033.6,180.1 2035.4,177.5 2037.1,176.2 2038.9,176.3 2040.7,177.7 2042.4,180.6 2044.2,184.7 2046.0,190.2 2047.7,196.9 2049.5,204.7 2051.3,213.7 2053.0,223.6 2054.8,234.5 2056.6,246.2 2058.3,258.7 2060.1,271.8 2061.9,285.4 2063.6,299.4 2065.4,313.9 2067.2,328.5 2068.9,343.4 2070.7,358.3 2072.5,373.3 2074.2,388.2 2076.0,403.0 2077.8,417.7 2079.5,432.1 2081.3,446.4 2083.1,460.3 2084.8,473.9 2086.6,487.2 2088.4,500.2 2090.1,512.7 2091.9,524.9 2093.7,536.7 2095.4,548.1 2097.2,559.0 2099.0,569.6 2100.7,579.8 2102.5,589.5 2104.3,598.9 2106.0,607.8 2107.8,616.4 2109.6,624.6 2111.3,632.5 2113.1,640.0 2114.9,647.1 2116.6,653.9 2118.4,660.4 2120.2,666.5 2121.9,672.4 2123.7,677.9 2125.5,683.2 2127.2,688.2 2129.0,693.0 2130.8,697.5 2132.5,701.8 2134.3,705.8 2136.1,709.6 2137.8,713.2 2139.6,716.6 2141.4,719.9 2143.1,722.9 2144.9,725.8 2146.7,728.5 2148.4,731.1 2150.2,733.5 2152.0,735.7 2153.7,737.9 2155.5,739.9 2157.3,741.7 2159.0,743.5 2160.8,745.2 2162.6,746.7 2164.3,748.2 2166.1,749.6 2167.9,750.9 2169.6,752.1 2171.4,753.2 2173.2,754.3 2174.9,755.3 2176.7,756.2 2178.5,757.1 2180.2,757.9 2182.0,758.6 2183.8,759.3 2185.5,760.0 2187.3,760.6 2189.1,761.2 2190.8,761.7 2192.6,762.2 2194.4,762.6 2196.1,763.1 2197.9,763.5 2199.7,763.8 2201.4,764.2 2203.2,764.5 2205.0,764.8 2206.7,765.1 2208.5,765.3 2210.3,765.6 2212.0,765.8 2213.8,766.0 2215.6,766.2 2217.3,766.3 2219.1,766.5 2220.9,766.6 2222.6,766.8 2224.4,766.9 2226.2,767.0 2227.9,767.1 2229.7,767.2 2231.5,767.3 2233.2,767.4 2235.0,767.5 2236.8,767.5 2238.5,767.6 2240.3,767.7 2242.1,767.7 2243.8,767.8 2245.6,767.8 2247.4,767.9 2249.1,767.9 2250.9,767.9 2252.7,768.0 2254.4,768.0 2256.2,768.0 2258.0,768.0 2259.7,768.1 2261.5,768.1 2263.3,768.1 2265.0,768.1 2266.8,768.1 2268.6,768.2 2270.3,768.2 2272.1,768.2 2273.9,768.2 2275.6,768.2 2277.4,768.2 2279.2,768.2 2280.9,768.2 2282.7,768.2 2284.5,768.2 2286.2,768.2 2288.0,768.2 2289.8,768.3 2291.5,768.3 2293.3,768.3 2295.1,768.3 2296.8,768.3 2298.6,768.3 2300.4,768.3 2302.1,768.3 2303.9,768.3 2305.7,768.3 2307.4,768.3 2309.2,768.3 2311.0,768.3 2312.7,768.3 2314.5,768.3 2316.3,768.3 2318.0,768.3 2319.8,768.3 2321.6,768.3 2323.3,768.3 2325.1,768.3 2326.9,768.3 2328.6,768.3 2330.4,768.3 2332.2,768.3 2333.9,768.3 2335.7,768.3 2337.5,768.3 2339.2,768.3 2341.0,768.3 2342.8,768.3 2344.5,768.3 2346.3,768.3 2348.1,768.3 2349.8,768.3 2351.6,768.3 2353.4,768.3 2355.1,768.3 2356.9,768.3 2358.7,768.3 2360.4,768.3 2362.2,768.3 2364.0,768.3 2365.7,768.3 2367.5,768.3 2369.3,768.3 2371.0,768.3 2372.8,768.3 2374.6,768.3 2376.3,768.3 2378.1,768.3 2379.9,768.3 2381.6,768.3 2383.4,768.3 2385.2,768.3 2386.9,768.3 2388.7,768.3 2390.5,768.3 2392.2,768.3 2394.0,768.3 2395.8,768.3 2397.5,768.3 2399.3,768.3 2401.1,768.3 2402.8,768.3 2404.6,768.3 2406.4,768.3 2408.1,768.3 2409.9,768.3 2411.7,768.3 2413.4,768.3 2415.2,768.3 2417.0,768.3 2418.7,768.3 2420.5,768.3 2422.3,768.3 2424.0,768.3 2425.8,768.3" fill="none" stroke="#00a45f" stroke-width="3" stroke-linejoin="round" stroke-linecap="butt" />
<polyline points="1415.2,756.3 1417.0,756.3 1418.7,756.3 1420.5,756.3 1422.3,756.3 1424.0,756.3 1425.8,756.3 1427.6,756.4 1429.3,756.4 1431.1,756.4 1432.9,756.4 1434.6,756.4 1436.4,756.4 1438.2,756.4 1439.9,756.4 1441.7,756.5 1443.5,756.5 1445.2,756.5 1447.0,756.5 1448.8,756.5 1450.5,756.5 1452.3,756.5 1454.1,756.6 1455.8,756.6 1457.6,756.6 1459.4,756.6 1461.1,756.6 1462.9,756.6 1464.7,756.6 1466.4,756.6 1468.2,756.7 1470.0,756.7 1471.7,756.7 1473.5,756.7 1475.3,756.7 1477.0,756.7 1478.8,756.7 1480.6,756.7 1482.3,756.8 1484.1,756.8 1485.9,756.8 1487.6,756.8 1489.4,756.8 1491.2,756.8 1492.9,756.8 1494.7,756.9 1496.5,756.9 1498.2,756.9 1500.0,756.9 1501.8,756.9 1503.5,756.9 1505.3,756.9 1507.1,756.9 1508.8,757.0 1510.6,757.0 1512.4,757.0 1514.1,757.0 1515.9,757.0 1517.7,757.0 1519.4,757.0 1521.2,757.0 1523.0,757.1 1524.7,757.1 1526.5,757.1 1528.3,757.1 1530.0,757.1 1531.8,757.1 1533.6,757.1 1535.3,757.1 1537.1,757.2 1538.9,757.2 1540.6,757.2 1542.4,757.2 1544.2,757.2 1546.0,757.2 1547.7,757.2 1549.5,757.3 1551.3,757.3 1553.0,757.3 1554.8,757.3 1556.6,757.3 1558.3,757.3 1560.1,757.3 1561.9,757.3 1563.6,757.4 1565.4,757.4 1567.2,757.4 1568.9,757.4 1570.7,757.4 1572.5,757.4 1574.2,757.4 1576.0,757.4 1577.8,757.5 1579.5,757.5 1581.3,757.5 1583.1,757.5 1584.8,757.5 1586.6,757.5 1588.4,757.5 1590.1,757.6 1591.9,757.6 1593.7,757.6 1595.4,757.6 1597.2,757.6 1599.0,757.6 1600.7,757.6 1602.5,757.6 1604.3,757.7 1606.0,757.7 1607.8,757.7 1609.6,757.7 1611.3,757.7 1613.1,757.7 1614.9,757.7 1616.6,757.7 1618.4,757.8 1620.2,757.8 1621.9,757.8 1623.7,757.8 1625.5,757.8 1627.2,757.8 1629.0,757.8 1630.8,757.8 1632.5,757.9 1634.3,757.9 1636.1,757.9 1637.8,757.9 1639.6,757.9 1641.4,757.9 1643.1,757.9 1644.9,758.0 1646.7,758.0 1648.4,758.0 1650.2,758.0 1652.0,758.0 1653.7,758.0 1655.5,758.0 1657.3,758.0 1659.0,758.1 1660.8,758.1 1662.6,758.1 1664.3,758.1 1666.1,758.1 1667.9,758.1 1669.6,758.1 1671.4,758.1 1673.2,758.2 1674.9,758.2 1676.7,758.2 1678.5,758.2 1680.2,758.2 1682.0,758.2 1683.8,758.2 1685.5,758.3 1687.3,758.3 1689.1,758.3 1690.8,758.3 1692.6,758.3 1694.4,758.3 1696.1,758.3 1697.9,758.3 1699.7,758.4 1701.4,758.4 1703.2,758.4 1705.0,758.4 1706.7,758.4 1708.5,758.4 1710.3,758.4 1712.0,758.4 1713.8,758.5 1715.6,758.5 1717.3,758.5 1719.1,758.5 1720.9,758.5 1722.6,758.5 1724.4,758.5 1726.2,758.5 1727.9,758.5 1729.7,758.6 1731.5,758.6 1733.2,758.6 1735.0,758.6 1736.8,758.6 1738.5,758.6 1740.3,758.6 1742.1,758.6 1743.8,758.6 1745.6,758.6 1747.4,758.6 1749.1,758.6 1750.9,758.6 1752.7,758.7 1754.4,758.7 1756.2,758.7 1758.0,758.7 1759.7,758.7 1761.5,758.7 1763.3,758.7 1765.0,758.7 1766.8,758.7 1768.6,758.6 1770.3,758.6 1772.1,758.6 1773.9,758.6 1775.6,758.6 1777.4,758.6 1779.2,758.6 1780.9,758.6 1782.7,758.5 1784.5,758.5 1786.2,758.5 1788.0,758.5 1789.8,758.4 1791.5,758.4 1793.3,758.3 1795.1,758.3 1796.8,758.2 1798.6,758.2 1800.4,758.1 1802.1,758.1 1803.9,758.0 1805.7,757.9 1807.4,757.8 1809.2,757.7 1811.0,757.6 1812.7,757.5 1814.5,757.4 1816.3,757.3 1818.0,757.2 1819.8,757.0 1821.6,756.9 1823.3,756.7 1825.1,756.5 1826.9,756.3 1828.6,756.1 1830.4,755.9 1832.2,755.7 1833.9,755.5 1835.7,755.2 1837.5,754.9 1839.2,754.6 1841.0,754.3 1842.8,754.0 1844.5,753.7 1846.3,753.3 1848.1,752.9 1849.8,752.5 1851.6,752.1 1853.4,751.6 1855.1,751.1 1856.9,750.6 1858.7,750.1 1860.4,749.5 1862.2,749.0 1864.0,748.4 1865.7,747.7 1867.5,747.0 1869.3,746.3 1871.0,745.6 1872.8,744.9 1874.6,744.1 1876.3,743.3 1878.1,742.4 1879.9,741.6 1881.6,740.7 1883.4,739.8 1885.2,738.8 1886.9,737.8 1888.7,736.9 1890.5,735.9 1892.2,734.9 1894.0,733.8 1895.8,732.8 1897.5,731.8 1899.3,730.7 1901.1,729.7 1902.8,728.7 1904.6,727.7 1906.4,726.8 1908.1,725.8 1909.9,725.0 1911.7,724.1 1913.4,723.3 1915.2,722.6 1917.0,722.0 1918.7,721.4 1920.5,720.9 1922.3,720.5 1924.0,720.2 1925.8,720.0 1927.6,719.8 1929.3,719.8 1931.1,719.9 1932.9,720.1 1934.6,720.3 1936.4,720.7 1938.2,721.1 1939.9,721.7 1941.7,722.3 1943.5,723.0 1945.2,723.7 1947.0,724.6 1948.8,725.4 1950.5,726.4 1952.3,727.3 1954.1,728.3 1955.8,729.4 1957.6,730.4 1959.4,731.5 1961.1,732.6 1962.9,733.7 1964.7,734.8 1966.4,735.9 1968.2,737.0 1970.0,738.0 1971.7,739.1 1973.5,740.1 1975.3,741.1 1977.0,742.1 1978.8,743.1 1980.6,744.0 1982.3,745.0 1984.1,745.9 1985.9,746.7 1987.7,747.6 1989.4,748.4 1991.2,749.1 1993.0,749.9 1994.7,750.6 1996.5,751.3 1998.3,752.0 2000.0,752.6 2001.8,753.3 2003.6,753.9 2005.3,754.4 2007.1,755.0 2008.9,755.5 2010.6,756.0 2012.4,756.5 2014.2,757.0 2015.9,757.4 2017.7,757.9 2019.5,758.3 2021.2,758.7 2023.0,759.1 2024.8,759.4 2026.5,759.8 2028.3,760.1 2030.1,760.4 2031.8,760.7 2033.6,761.0 2035.4,761.3 2037.1,761.6 2038.9,761.8 2040.7,762.1 2042.4,762.3 2044.2,762.6 2046.0,762.8 2047.7,763.0 2049.5,763.2 2051.3,763.4 2053.0,763.6 2054.8,763.8 2056.6,764.0 2058.3,764.1 2060.1,764.3 2061.9,764.4 2063.6,764.6 2065.4,764.7 2067.2,764.9 2068.9,765.0 2070.7,765.1 2072.5,765.3 2074.2,765.4 2076.0,765.5 2077.8,765.6 2079.5,765.7 2081.3,765.8 2083.1,765.9 2084.8,766.0 2086.6,766.1 2088.4,766.2 2090.1,766.3 2091.9,766.4 2093.7,766.4 2095.4,766.5 2097.2,766.6 2099.0,766.6 2100.7,766.7 2102.5,766.8 2104.3,766.8 2106.0,766.9 2107.8,767.0 2109.6,767.0 2111.3,767.1 2113.1,767.1 2114.9,767.2 2116.6,767.2 2118.4,767.3 2120.2,767.3 2121.9,767.3 2123.7,767.4 2125.5,767.4 2127.2,767.5 2129.0,767.5 2130.8,767.5 2132.5,767.6 2134.3,767.6 2136.1,767.6 2137.8,767.6 2139.6,767.7 2141.4,767.7 2143.1,767.7 2144.9,767.7 2146.7,767.8 2148.4,767.8 2150.2,767.8 2152.0,767.8 2153.7,767.9 2155.5,767.9 2157.3,767.9 2159.0,767.9 2160.8,767.9 2162.6,767.9 2164.3,768.0 2166.1,768.0 2167.9,768.0 2169.6,768.0 2171.4,768.0 2173.2,768.0 2174.9,768.0 2176.7,768.0 2178.5,768.1 2180.2,768.1 2182.0,768.1 2183.8,768.1 2185.5,768.1 2187.3,768.1 2189.1,768.1 2190.8,768.1 2192.6,768.1 2194.4,768.1 2196.1,768.1 2197.9,768.2 2199.7,768.2 2201.4,768.2 2203.2,768.2 2205.0,768.2 2206.7,768.2 2208.5,768.2 2210.3,768.2 2212.0,768.2 2213.8,768.2 2215.6,768.2 2217.3,768.2 2219.1,768.2 2220.9,768.2 2222.6,768.2 2224.4,768.2 2226.2,768.2 2227.9,768.2 2229.7,768.2 2231.5,768.2 2233.2,768.2 2235.0,768.2 2236.8,768.2 2238.5,768.2 2240.3,768.2 2242.1,768.3 2243.8,768.3 2245.6,768.3 2247.4,768.3 2249.1,768.3 2250.9,768.3 2252.7,768.3 2254.4,768.3 2256.2,768.3 2258.0,768.3 2259.7,768.3 2261.5,768.3 2263.3,768.3 2265.0,768.3 2266.8,768.3 2268.6,768.3 2270.3,768.3 2272.1,768.3 2273.9,768.3 2275.6,768.3 2277.4,768.3 2279.2,768.3 2280.9,768.3 2282.7,768.3 2284.5,768.3 2286.2,768.3 2288.0,768.3 2289.8,768.3 2291.5,768.3 2293.3,768.3 2295.1,768.3 2296.8,768.3 2298.6,768.3 2300.4,768.3 2302.1,768.3 2303.9,768.3 2305.7,768.3 2307.4,768.3 2309.2,768.3 2311.0,768.3 2312.7,768.3 2314.5,768.3 2316.3,768.3 2318.0,768.3 2319.8,768.3 2321.6,768.3 2323.3,768.3 2325.1,768.3 2326.9,768.3 2328.6,768.3 2330.4,768.3 2332.2,768.3 2333.9,768.3 2335.7,768.3 2337.5,768.3 2339.2,768.3 2341.0,768.3 2342.8,768.3 2344.5,768.3 2346.3,768.3 2348.1,768.3 2349.8,768.3 2351.6,768.3 2353.4,768.3 2355.1,768.3 2356.9,768.3 2358.7,768.3 2360.4,768.3 2362.2,768.3 2364.0,768.3 2365.7,768.3 2367.5,768.3 2369.3,768.3 2371.0,768.3 2372.8,768.3 2374.6,768.3 2376.3,768.3 2378.1,768.3 2379.9,768.3 2381.6,768.3 2383.4,768.3 2385.2,768.3 2386.9,768.3 2388.7,768.3 2390.5,768.3 2392.2,768.3 2394.0,768.3 2395.8,768.3 2397.5,768.3 2399.3,768.3 2401.1,768.3 2402.8,768.3 2404.6,768.3 2406.4,768.3 2408.1,768.3 2409.9,768.3 2411.7,768.3 2413.4,768.3 2415.2,768.3 2417.0,768.3 2418.7,768.3 2420.5,768.3 2422.3,768.3 2424.0,768.3 2425.8,768.3" fill="none" stroke="#bf73e6" stroke-width="3" stroke-linejoin="round" stroke-linecap="butt" />
<polyline points="1415.2,756.3 1417.0,756.3 1418.7,756.3 1420.5,756.3 1422.3,756.3 1424.0,756.3 1425.8,756.3 1427.6,756.4 1429.3,756.4 1431.1,756.4 1432.9,756.4 1434.6,756.4 1436.4,756.4 1438.2,756.4 1439.9,756.4 1441.7,756.5 1443.5,756.5 1445.2,756.5 1447.0,756.5 1448.8,756.5 1450.5,756.5 1452.3,756.5 1454.1,756.6 1455.8,756.6 1457.6,756.6 1459.4,756.6 1461.1,756.6 1462.9,756.6 1464.7,756.6 1466.4,756.6 1468.2,756.7 1470.0,756.7 1471.7,756.7 1473.5,756.7 1475.3,756.7 1477.0,756.7 1478.8,756.7 1480.6,756.7 1482.3,756.8 1484.1,756.8 1485.9,756.8 1487.6,756.8 1489.4,756.8 1491.2,756.8 1492.9,756.8 1494.7,756.9 1496.5,756.9 1498.2,756.9 1500.0,756.9 1501.8,756.9 1503.5,756.9 1505.3,756.9 1507.1,756.9 1508.8,757.0 1510.6,757.0 1512.4,757.0 1514.1,757.0 1515.9,757.0 1517.7,757.0 1519.4,757.0 1521.2,757.0 1523.0,757.1 1524.7,757.1 1526.5,757.1 1528.3,757.1 1530.0,757.1 1531.8,757.1 1533.6,757.1 1535.3,757.1 1537.1,757.2 1538.9,757.2 1540.6,757.2 1542.4,757.2 1544.2,757.2 1546.0,757.2 1547.7,757.2 1549.5,757.3 1551.3,757.3 1553.0,757.3 1554.8,757.3 1556.6,757.3 1558.3,757.3 1560.1,757.3 1561.9,757.3 1563.6,757.4 1565.4,757.4 1567.2,757.4 1568.9,757.4 1570.7,757.4 1572.5,757.4 1574.2,757.4 1576.0,757.4 1577.8,757.5 1579.5,757.5 1581.3,757.5 1583.1,757.5 1584.8,757.5 1586.6,757.5 1588.4,757.5 1590.1,757.6 1591.9,757.6 1593.7,757.6 1595.4,757.6 1597.2,757.6 1599.0,757.6 1600.7,757.6 1602.5,757.6 1604.3,757.7 1606.0,757.7 1607.8,757.7 1609.6,757.7 1611.3,757.7 1613.1,757.7 1614.9,757.7 1616.6,757.7 1618.4,757.8 1620.2,757.8 1621.9,757.8 1623.7,757.8 1625.5,757.8 1627.2,757.8 1629.0,757.8 1630.8,757.8 1632.5,757.9 1634.3,757.9 1636.1,757.9 1637.8,757.9 1639.6,757.9 1641.4,757.9 1643.1,757.9 1644.9,758.0 1646.7,758.0 1648.4,758.0 1650.2,758.0 1652.0,758.0 1653.7,758.0 1655.5,758.0 1657.3,758.0 1659.0,758.1 1660.8,758.1 1662.6,758.1 1664.3,758.1 1666.1,758.1 1667.9,758.1 1669.6,758.1 1671.4,758.1 1673.2,758.2 1674.9,758.2 1676.7,758.2 1678.5,758.2 1680.2,758.2 1682.0,758.2 1683.8,758.2 1685.5,758.3 1687.3,758.3 1689.1,758.3 1690.8,758.3 1692.6,758.3 1694.4,758.3 1696.1,758.3 1697.9,758.3 1699.7,758.4 1701.4,758.4 1703.2,758.4 1705.0,758.4 1706.7,758.4 1708.5,758.4 1710.3,758.4 1712.0,758.4 1713.8,758.5 1715.6,758.5 1717.3,758.5 1719.1,758.5 1720.9,758.5 1722.6,758.5 1724.4,758.5 1726.2,758.6 1727.9,758.6 1729.7,758.6 1731.5,758.6 1733.2,758.6 1735.0,758.6 1736.8,758.6 1738.5,758.6 1740.3,758.7 1742.1,758.7 1743.8,758.7 1745.6,758.7 1747.4,758.7 1749.1,758.7 1750.9,758.7 1752.7,758.8 1754.4,758.8 1756.2,758.8 1758.0,758.8 1759.7,758.8 1761.5,758.8 1763.3,758.8 1765.0,758.8 1766.8,758.9 1768.6,758.9 1770.3,758.9 1772.1,758.9 1773.9,758.9 1775.6,758.9 1777.4,758.9 1779.2,759.0 1780.9,759.0 1782.7,759.0 1784.5,759.0 1786.2,759.0 1788.0,759.0 1789.8,759.0 1791.5,759.0 1793.3,759.1 1795.1,759.1 1796.8,759.1 1798.6,759.1 1800.4,759.1 1802.1,759.1 1803.9,759.1 1805.7,759.2 1807.4,759.2 1809.2,759.2 1811.0,759.2 1812.7,759.2 1814.5,759.2 1816.3,759.2 1818.0,759.3 1819.8,759.3 1821.6,759.3 1823.3,759.3 1825.1,759.3 1826.9,759.3 1828.6,759.3 1830.4,759.4 1832.2,759.4 1833.9,759.4 1835.7,759.4 1837.5,759.4 1839.2,759.4 1841.0,759.5 1842.8,759.5 1844.5,759.5 1846.3,759.5 1848.1,759.5 1849.8,759.5 1851.6,759.5 1853.4,759.6 1855.1,759.6 1856.9,759.6 1858.7,759.6 1860.4,759.6 1862.2,759.6 1864.0,759.7 1865.7,759.7 1867.5,759.7 1869.3,759.7 1871.0,759.7 1872.8,759.8 1874.6,759.8 1876.3,759.8 1878.1,759.8 1879.9,759.8 1881.6,759.9 1883.4,759.9 1885.2,759.9 1886.9,759.9 1888.7,759.9 1890.5,760.0 1892.2,760.0 1894.0,760.0 1895.8,760.0 1897.5,760.0 1899.3,760.1 1901.1,760.1 1902.8,760.1 1904.6,760.1 1906.4,760.1 1908.1,760.1 1909.9,760.1 1911.7,760.1 1913.4,760.2 1915.2,760.2 1917.0,760.2 1918.7,760.2 1920.5,760.2 1922.3,760.2 1924.0,760.3 1925.8,760.3 1927.6,760.3 1929.3,760.3 1931.1,760.3 1932.9,760.4 1934.6,760.4 1936.4,760.4 1938.2,760.4 1939.9,760.5 1941.7,760.5 1943.5,760.5 1945.2,760.6 1947.0,760.6 1948.8,760.6 1950.5,760.6 1952.3,760.7 1954.1,760.7 1955.8,760.8 1957.6,760.8 1959.4,760.8 1961.1,760.9 1962.9,760.9 1964.7,761.0 1966.4,761.0 1968.2,761.1 1970.0,761.1 1971.7,761.2 1973.5,761.2 1975.3,761.3 1977.0,761.3 1978.8,761.4 1980.6,761.4 1982.3,761.5 1984.1,761.5 1985.9,761.6 1987.7,761.7 1989.4,761.7 1991.2,761.8 1993.0,761.9 1994.7,761.9 1996.5,762.0 1998.3,762.1 2000.0,762.2 2001.8,762.2 2003.6,762.3 2005.3,762.4 2007.1,762.5 2008.9,762.6 2010.6,762.6 2012.4,762.7 2014.2,762.8 2015.9,762.9 2017.7,763.0 2019.5,763.1 2021.2,763.2 2023.0,763.3 2024.8,763.3 2026.5,763.4 2028.3,763.5 2030.1,763.6 2031.8,763.7 2033.6,763.8 2035.4,763.9 2037.1,764.0 2038.9,764.1 2040.7,764.2 2042.4,764.3 2044.2,764.4 2046.0,764.5 2047.7,764.6 2049.5,764.7 2051.3,764.8 2053.0,764.8 2054.8,764.9 2056.6,765.0 2058.3,765.1 2060.1,765.2 2061.9,765.3 2063.6,765.4 2065.4,765.5 2067.2,765.5 2068.9,765.6 2070.7,765.7 2072.5,765.8 2074.2,765.9 2076.0,765.9 2077.8,766.0 2079.5,766.1 2081.3,766.2 2083.1,766.2 2084.8,766.3 2086.6,766.4 2088.4,766.4 2090.1,766.5 2091.9,766.6 2093.7,766.6 2095.4,766.7 2097.2,766.7 2099.0,766.8 2100.7,766.8 2102.5,766.9 2104.3,766.9 2106.0,767.0 2107.8,767.0 2109.6,767.1 2111.3,767.1 2113.1,767.2 2114.9,767.2 2116.6,767.3 2118.4,767.3 2120.2,767.3 2121.9,767.4 2123.7,767.4 2125.5,767.4 2127.2,767.5 2129.0,767.5 2130.8,767.5 2132.5,767.5 2134.3,767.6 2136.1,767.6 2137.8,767.6 2139.6,767.6 2141.4,767.6 2143.1,767.6 2144.9,767.6 2146.7,767.7 2148.4,767.7 2150.2,767.7 2152.0,767.7 2153.7,767.7 2155.5,767.7 2157.3,767.6 2159.0,767.6 2160.8,767.6 2162.6,767.6 2164.3,767.6 2166.1,767.5 2167.9,767.5 2169.6,767.4 2171.4,767.4 2173.2,767.3 2174.9,767.3 2176.7,767.2 2178.5,767.1 2180.2,767.0 2182.0,766.9 2183.8,766.8 2185.5,766.7 2187.3,766.6 2189.1,766.5 2190.8,766.3 2192.6,766.1 2194.4,766.0 2196.1,765.8 2197.9,765.6 2199.7,765.3 2201.4,765.1 2203.2,764.8 2205.0,764.6 2206.7,764.3 2208.5,764.0 2210.3,763.6 2212.0,763.3 2213.8,762.9 2215.6,762.5 2217.3,762.1 2219.1,761.7 2220.9,761.3 2222.6,760.8 2224.4,760.3 2226.2,759.9 2227.9,759.4 2229.7,758.9 2231.5,758.4 2233.2,757.9 2235.0,757.4 2236.8,756.9 2238.5,756.4 2240.3,756.0 2242.1,755.5 2243.8,755.1 2245.6,754.7 2247.4,754.4 2249.1,754.1 2250.9,753.8 2252.7,753.6 2254.4,753.4 2256.2,753.3 2258.0,753.3 2259.7,753.3 2261.5,753.3 2263.3,753.4 2265.0,753.6 2266.8,753.8 2268.6,754.1 2270.3,754.4 2272.1,754.8 2273.9,755.1 2275.6,755.6 2277.4,756.0 2279.2,756.5 2280.9,756.9 2282.7,757.4 2284.5,757.9 2286.2,758.4 2288.0,758.9 2289.8,759.4 2291.5,759.9 2293.3,760.4 2295.1,760.9 2296.8,761.3 2298.6,761.8 2300.4,762.2 2302.1,762.6 2303.9,763.0 2305.7,763.4 2307.4,763.7 2309.2,764.1 2311.0,764.4 2312.7,764.7 2314.5,765.0 2316.3,765.2 2318.0,765.5 2319.8,765.7 2321.6,765.9 2323.3,766.1 2325.1,766.3 2326.9,766.5 2328.6,766.6 2330.4,766.8 2332.2,766.9 2333.9,767.0 2335.7,767.2 2337.5,767.3 2339.2,767.4 2341.0,767.5 2342.8,767.5 2344.5,767.6 2346.3,767.7 2348.1,767.7 2349.8,767.8 2351.6,767.9 2353.4,767.9 2355.1,767.9 2356.9,768.0 2358.7,768.0 2360.4,768.0 2362.2,768.1 2364.0,768.1 2365.7,768.1 2367.5,768.1 2369.3,768.2 2371.0,768.2 2372.8,768.2 2374.6,768.2 2376.3,768.2 2378.1,768.2 2379.9,768.2 2381.6,768.2 2383.4,768.2 2385.2,768.3 2386.9,768.3 2388.7,768.3 2390.5,768.3 2392.2,768.3 2394.0,768.3 2395.8,768.3 2397.5,768.3 2399.3,768.3 2401.1,768.3 2402.8,768.3 2404.6,768.3 2406.4,768.3 2408.1,768.3 2409.9,768.3 2411.7,768.3 2413.4,768.3 2415.2,768.3 2417.0,768.3 2418.7,768.3 2420.5,768.3 2422.3,768.3 2424.0,768.3 2425.8,768.3" fill="none" stroke="#dc9a00" stroke-width="3" stroke-linejoin="round" stroke-linecap="butt" />
<polyline points="1415.2,756.3 1417.0,756.3 1418.7,756.3 1420.5,756.3 1422.3,756.3 1424.0,756.3 1425.8,756.3 1427.6,756.4 1429.3,756.4 1431.1,756.4 1432.9,756.4 1434.6,756.4 1436.4,756.4 1438.2,756.4 1439.9,756.4 1441.7,756.5 1443.5,756.5 1445.2,756.5 1447.0,756.5 1448.8,756.5 1450.5,756.5 1452.3,756.5 1454.1,756.6 1455.8,756.6 1457.6,756.6 1459.4,756.6 1461.1,756.6 1462.9,756.6 1464.7,756.6 1466.4,756.6 1468.2,756.7 1470.0,756.7 1471.7,756.7 1473.5,756.7 1475.3,756.7 1477.0,756.7 1478.8,756.7 1480.6,756.7 1482.3,756.8 1484.1,756.8 1485.9,756.8 1487.6,756.8 1489.4,756.8 1491.2,756.8 1492.9,756.8 1494.7,756.9 1496.5,756.9 1498.2,756.9 1500.0,756.9 1501.8,756.9 1503.5,756.9 1505.3,756.9 1507.1,756.9 1508.8,757.0 1510.6,757.0 1512.4,757.0 1514.1,757.0 1515.9,757.0 1517.7,757.0 1519.4,757.0 1521.2,757.0 1523.0,757.1 1524.7,757.1 1526.5,757.1 1528.3,757.1 1530.0,757.1 1531.8,757.1 1533.6,757.1 1535.3,757.1 1537.1,757.2 1538.9,757.2 1540.6,757.2 1542.4,757.2 1544.2,757.2 1546.0,757.2 1547.7,757.2 1549.5,757.3 1551.3,757.3 1553.0,757.3 1554.8,757.3 1556.6,757.3 1558.3,757.3 1560.1,757.3 1561.9,757.3 1563.6,757.4 1565.4,757.4 1567.2,757.4 1568.9,757.4 1570.7,757.4 1572.5,757.4 1574.2,757.4 1576.0,757.4 1577.8,757.5 1579.5,757.5 1581.3,757.5 1583.1,757.5 1584.8,757.5 1586.6,757.5 1588.4,757.5 1590.1,757.6 1591.9,757.6 1593.7,757.6 1595.4,757.6 1597.2,757.6 1599.0,757.6 1600.7,757.6 1602.5,757.6 1604.3,757.7 1606.0,757.7 1607.8,757.7 1609.6,757.7 1611.3,757.7 1613.1,757.7 1614.9,757.7 1616.6,757.7 1618.4,757.8 1620.2,757.8 1621.9,757.8 1623.7,757.8 1625.5,757.8 1627.2,757.8 1629.0,757.8 1630.8,757.8 1632.5,757.9 1634.3,757.9 1636.1,757.9 1637.8,757.9 1639.6,757.9 1641.4,757.9 1643.1,757.9 1644.9,758.0 1646.7,758.0 1648.4,758.0 1650.2,758.0 1652.0,758.0 1653.7,758.0 1655.5,758.0 1657.3,758.0 1659.0,758.1 1660.8,758.1 1662.6,758.1 1664.3,758.1 1666.1,758.1 1667.9,758.1 1669.6,758.1 1671.4,758.1 1673.2,758.2 1674.9,758.2 1676.7,758.2 1678.5,758.2 1680.2,758.2 1682.0,758.2 1683.8,758.2 1685.5,758.3 1687.3,758.3 1689.1,758.3 1690.8,758.3 1692.6,758.3 1694.4,758.3 1696.1,758.3 1697.9,758.3 1699.7,758.4 1701.4,758.4 1703.2,758.4 1705.0,758.4 1706.7,758.4 1708.5,758.4 1710.3,758.4 1712.0,758.4 1713.8,758.5 1715.6,758.5 1717.3,758.5 1719.1,758.5 1720.9,758.5 1722.6,758.5 1724.4,758.5 1726.2,758.6 1727.9,758.6 1729.7,758.6 1731.5,758.6 1733.2,758.6 1735.0,758.6 1736.8,758.6 1738.5,758.6 1740.3,758.7 1742.1,758.7 1743.8,758.7 1745.6,758.7 1747.4,758.7 1749.1,758.7 1750.9,758.7 1752.7,758.8 1754.4,758.8 1756.2,758.8 1758.0,758.8 1759.7,758.8 1761.5,758.8 1763.3,758.8 1765.0,758.8 1766.8,758.9 1768.6,758.9 1770.3,758.9 1772.1,758.9 1773.9,758.9 1775.6,758.9 1777.4,758.9 1779.2,759.0 1780.9,759.0 1782.7,759.0 1784.5,759.0 1786.2,759.0 1788.0,759.0 1789.8,759.0 1791.5,759.0 1793.3,759.1 1795.1,759.1 1796.8,759.1 1798.6,759.1 1800.4,759.1 1802.1,759.1 1803.9,759.1 1805.7,759.2 1807.4,759.2 1809.2,759.2 1811.0,759.2 1812.7,759.2 1814.5,759.2 1816.3,759.2 1818.0,759.3 1819.8,759.3 1821.6,759.3 1823.3,759.3 1825.1,759.3 1826.9,759.3 1828.6,759.3 1830.4,759.4 1832.2,759.4 1833.9,759.4 1835.7,759.4 1837.5,759.4 1839.2,759.4 1841.0,759.5 1842.8,759.5 1844.5,759.5 1846.3,759.5 1848.1,759.5 1849.8,759.5 1851.6,759.5 1853.4,759.6 1855.1,759.6 1856.9,759.6 1858.7,759.6 1860.4,759.6 1862.2,759.6 1864.0,759.7 1865.7,759.7 1867.5,759.7 1869.3,759.7 1871.0,759.7 1872.8,759.8 1874.6,759.8 1876.3,759.8 1878.1,759.8 1879.9,759.8 1881.6,759.9 1883.4,759.9 1885.2,759.9 1886.9,759.9 1888.7,759.9 1890.5,760.0 1892.2,760.0 1894.0,760.0 1895.8,760.0 1897.5,760.0 1899.3,760.1 1901.1,760.1 1902.8,760.1 1904.6,760.1 1906.4,760.1 1908.1,760.1 1909.9,760.1 1911.7,760.1 1913.4,760.2 1915.2,760.2 1917.0,760.2 1918.7,760.2 1920.5,760.2 1922.3,760.2 1924.0,760.3 1925.8,760.3 1927.6,760.3 1929.3,760.3 1931.1,760.3 1932.9,760.4 1934.6,760.4 1936.4,760.4 1938.2,760.4 1939.9,760.5 1941.7,760.5 1943.5,760.5 1945.2,760.6 1947.0,760.6 1948.8,760.6 1950.5,760.6 1952.3,760.7 1954.1,760.7 1955.8,760.8 1957.6,760.8 1959.4,760.8 1961.1,760.9 1962.9,760.9 1964.7,761.0 1966.4,761.0 1968.2,761.1 1970.0,761.1 1971.7,761.2 1973.5,761.2 1975.3,761.3 1977.0,761.3 1978.8,761.4 1980.6,761.4 1982.3,761.5 1984.1,761.5 1985.9,761.6 1987.7,761.7 1989.4,761.7 1991.2,761.8 1993.0,761.9 1994.7,761.9 1996.5,762.0 1998.3,762.1 2000.0,762.2 2001.8,762.2 2003.6,762.3 2005.3,762.4 2007.1,762.5 2008.9,762.6 2010.6,762.6 2012.4,762.7 2014.2,762.8 2015.9,762.9 2017.7,763.0 2019.5,763.1 2021.2,763.2 2023.0,763.3 2024.8,763.3 2026.5,763.4 2028.3,763.5 2030.1,763.6 2031.8,763.7 2033.6,763.8 2035.4,763.9 2037.1,764.0 2038.9,764.1 2040.7,764.2 2042.4,764.3 2044.2,764.4 2046.0,764.5 2047.7,764.6 2049.5,764.7 2051.3,764.8 2053.0,764.8 2054.8,764.9 2056.6,765.0 2058.3,765.1 2060.1,765.2 2061.9,765.3 2063.6,765.4 2065.4,765.5 2067.2,765.5 2068.9,765.6 2070.7,765.7 2072.5,765.8 2074.2,765.9 2076.0,765.9 2077.8,766.0 2079.5,766.1 2081.3,766.2 2083.1,766.2 2084.8,766.3 2086.6,766.4 2088.4,766.4 2090.1,766.5 2091.9,766.6 2093.7,766.6 2095.4,766.7 2097.2,766.7 2099.0,766.8 2100.7,766.8 2102.5,766.9 2104.3,766.9 2106.0,767.0 2107.8,767.0 2109.6,767.1 2111.3,767.1 2113.1,767.2 2114.9,767.2 2116.6,767.3 2118.4,767.3 2120.2,767.3 2121.9,767.4 2123.7,767.4 2125.5,767.5 2127.2,767.5 2129.0,767.5 2130.8,767.5 2132.5,767.6 2134.3,767.6 2136.1,767.6 2137.8,767.7 2139.6,767.7 2141.4,767.7 2143.1,767.7 2144.9,767.8 2146.7,767.8 2148.4,767.8 2150.2,767.8 2152.0,767.8 2153.7,767.9 2155.5,767.9 2157.3,767.9 2159.0,767.9 2160.8,767.9 2162.6,767.9 2164.3,768.0 2166.1,768.0 2167.9,768.0 2169.6,768.0 2171.4,768.0 2173.2,768.0 2174.9,768.0 2176.7,768.0 2178.5,768.1 2180.2,768.1 2182.0,768.1 2183.8,768.1 2185.5,768.1 2187.3,768.1 2189.1,768.1 2190.8,768.1 2192.6,768.1 2194.4,768.1 2196.1,768.1 2197.9,768.2 2199.7,768.2 2201.4,768.2 2203.2,768.2 2205.0,768.2 2206.7,768.2 2208.5,768.2 2210.3,768.2 2212.0,768.2 2213.8,768.2 2215.6,768.2 2217.3,768.2 2219.1,768.2 2220.9,768.2 2222.6,768.2 2224.4,768.2 2226.2,768.2 2227.9,768.2 2229.7,768.2 2231.5,768.2 2233.2,768.2 2235.0,768.2 2236.8,768.2 2238.5,768.2 2240.3,768.2 2242.1,768.3 2243.8,768.3 2245.6,768.3 2247.4,768.3 2249.1,768.3 2250.9,768.3 2252.7,768.3 2254.4,768.3 2256.2,768.3 2258.0,768.3 2259.7,768.3 2261.5,768.3 2263.3,768.3 2265.0,768.3 2266.8,768.3 2268.6,768.3 2270.3,768.3 2272.1,768.3 2273.9,768.3 2275.6,768.3 2277.4,768.3 2279.2,768.3 2280.9,768.3 2282.7,768.3 2284.5,768.3 2286.2,768.3 2288.0,768.3 2289.8,768.3 2291.5,768.3 2293.3,768.3 2295.1,768.3 2296.8,768.3 2298.6,768.3 2300.4,768.3 2302.1,768.3 2303.9,768.3 2305.7,768.3 2307.4,768.3 2309.2,768.3 2311.0,768.3 2312.7,768.3 2314.5,768.3 2316.3,768.3 2318.0,768.3 2319.8,768.3 2321.6,768.3 2323.3,768.3 2325.1,768.3 2326.9,768.3 2328.6,768.3 2330.4,768.3 2332.2,768.3 2333.9,768.3 2335.7,768.3 2337.5,768.3 2339.2,768.3 2341.0,768.3 2342.8,768.3 2344.5,768.3 2346.3,768.3 2348.1,768.3 2349.8,768.3 2351.6,768.3 2353.4,768.3 2355.1,768.3 2356.9,768.3 2358.7,768.3 2360.4,768.3 2362.2,768.3 2364.0,768.3 2365.7,768.3 2367.5,768.3 2369.3,768.3 2371.0,768.3 2372.8,768.3 2374.6,768.3 2376.3,768.3 2378.1,768.3 2379.9,768.3 2381.6,768.3 2383.4,768.3 2385.2,768.3 2386.9,768.3 2388.7,768.3 2390.5,768.3 2392.2,768.3 2394.0,768.3 2395.8,768.3 2397.5,768.3 2399.3,768.3 2401.1,768.3 2402.8,768.3 2404.6,768.3 2406.4,768.3 2408.1,768.3 2409.9,768.3 2411.7,768.3 2413.4,768.3 2415.2,768.3 2417.0,768.3 2418.7,768.3 2420.5,768.3 2422.3,768.3 2424.0,768.3 2425.8,768.3" fill="none" stroke="#dc9a00" stroke-width="3.4" stroke-linejoin="round" stroke-linecap="butt" />
<polyline points="1415.2,752.9 1417.0,752.8 1418.7,752.7 1420.5,752.6 1422.3,752.5 1424.0,752.4 1425.8,752.4 1427.6,752.3 1429.3,752.2 1431.1,752.1 1432.9,752.0 1434.6,751.9 1436.4,751.7 1438.2,751.6 1439.9,751.5 1441.7,751.4 1443.5,751.3 1445.2,751.2 1447.0,751.0 1448.8,750.9 1450.5,750.8 1452.3,750.6 1454.1,750.5 1455.8,750.3 1457.6,750.2 1459.4,750.0 1461.1,749.9 1462.9,749.7 1464.7,749.6 1466.4,749.4 1468.2,749.2 1470.0,749.0 1471.7,748.9 1473.5,748.7 1475.3,748.5 1477.0,748.3 1478.8,748.1 1480.6,747.9 1482.3,747.7 1484.1,747.5 1485.9,747.2 1487.6,747.0 1489.4,746.8 1491.2,746.6 1492.9,746.3 1494.7,746.1 1496.5,745.8 1498.2,745.6 1500.0,745.3 1501.8,745.0 1503.5,744.8 1505.3,744.5 1507.1,744.2 1508.8,743.9 1510.6,743.6 1512.4,743.3 1514.1,743.0 1515.9,742.7 1517.7,742.3 1519.4,742.0 1521.2,741.7 1523.0,741.3 1524.7,741.0 1526.5,740.6 1528.3,740.2 1530.0,739.9 1531.8,739.5 1533.6,739.1 1535.3,738.7 1537.1,738.3 1538.9,737.9 1540.6,737.4 1542.4,737.0 1544.2,736.6 1546.0,736.1 1547.7,735.7 1549.5,735.2 1551.3,734.7 1553.0,734.3 1554.8,733.8 1556.6,733.3 1558.3,732.8 1560.1,732.3 1561.9,731.7 1563.6,731.2 1565.4,730.7 1567.2,730.1 1568.9,729.6 1570.7,729.0 1572.5,728.4 1574.2,727.9 1576.0,727.3 1577.8,726.7 1579.5,726.1 1581.3,725.5 1583.1,724.9 1584.8,724.3 1586.6,723.6 1588.4,723.0 1590.1,722.4 1591.9,721.7 1593.7,721.1 1595.4,720.4 1597.2,719.8 1599.0,719.1 1600.7,718.4 1602.5,717.7 1604.3,717.1 1606.0,716.4 1607.8,715.7 1609.6,715.0 1611.3,714.4 1613.1,713.7 1614.9,713.0 1616.6,712.3 1618.4,711.6 1620.2,711.0 1621.9,710.3 1623.7,709.6 1625.5,709.0 1627.2,708.3 1629.0,707.7 1630.8,707.0 1632.5,706.4 1634.3,705.8 1636.1,705.2 1637.8,704.6 1639.6,704.0 1641.4,703.4 1643.1,702.8 1644.9,702.3 1646.7,701.7 1648.4,701.2 1650.2,700.7 1652.0,700.3 1653.7,699.8 1655.5,699.4 1657.3,698.9 1659.0,698.5 1660.8,698.2 1662.6,697.8 1664.3,697.5 1666.1,697.2 1667.9,696.9 1669.6,696.7 1671.4,696.5 1673.2,696.3 1674.9,696.1 1676.7,696.0 1678.5,695.9 1680.2,695.8 1682.0,695.8 1683.8,695.7 1685.5,695.8 1687.3,695.8 1689.1,695.9 1690.8,696.0 1692.6,696.1 1694.4,696.3 1696.1,696.4 1697.9,696.7 1699.7,696.9 1701.4,697.2 1703.2,697.5 1705.0,697.8 1706.7,698.1 1708.5,698.5 1710.3,698.9 1712.0,699.3 1713.8,699.8 1715.6,700.2 1717.3,700.7 1719.1,701.2 1720.9,701.8 1722.6,702.3 1724.4,702.9 1726.2,703.4 1727.9,704.0 1729.7,704.6 1731.5,705.2 1733.2,705.9 1735.0,706.5 1736.8,707.2 1738.5,707.8 1740.3,708.5 1742.1,709.2 1743.8,709.8 1745.6,710.5 1747.4,711.2 1749.1,711.9 1750.9,712.6 1752.7,713.3 1754.4,714.0 1756.2,714.7 1758.0,715.4 1759.7,716.2 1761.5,716.9 1763.3,717.6 1765.0,718.3 1766.8,719.0 1768.6,719.7 1770.3,720.4 1772.1,721.0 1773.9,721.7 1775.6,722.4 1777.4,723.1 1779.2,723.8 1780.9,724.4 1782.7,725.1 1784.5,725.7 1786.2,726.4 1788.0,727.0 1789.8,727.7 1791.5,728.3 1793.3,728.9 1795.1,729.5 1796.8,730.1 1798.6,730.7 1800.4,731.3 1802.1,731.9 1803.9,732.4 1805.7,733.0 1807.4,733.6 1809.2,734.1 1811.0,734.7 1812.7,735.2 1814.5,735.7 1816.3,736.2 1818.0,736.7 1819.8,737.2 1821.6,737.7 1823.3,738.2 1825.1,738.7 1826.9,739.1 1828.6,739.6 1830.4,740.0 1832.2,740.5 1833.9,740.9 1835.7,741.4 1837.5,741.8 1839.2,742.2 1841.0,742.6 1842.8,743.0 1844.5,743.4 1846.3,743.8 1848.1,744.1 1849.8,744.5 1851.6,744.9 1853.4,745.2 1855.1,745.6 1856.9,745.9 1858.7,746.2 1860.4,746.6 1862.2,746.9 1864.0,747.2 1865.7,747.5 1867.5,747.8 1869.3,748.1 1871.0,748.4 1872.8,748.7 1874.6,749.0 1876.3,749.3 1878.1,749.6 1879.9,749.8 1881.6,750.1 1883.4,750.3 1885.2,750.6 1886.9,750.8 1888.7,751.1 1890.5,751.3 1892.2,751.6 1894.0,751.8 1895.8,752.0 1897.5,752.2 1899.3,752.4 1901.1,752.6 1902.8,752.8 1904.6,753.0 1906.4,753.2 1908.1,753.4 1909.9,753.6 1911.7,753.8 1913.4,753.9 1915.2,754.1 1917.0,754.3 1918.7,754.4 1920.5,754.6 1922.3,754.8 1924.0,754.9 1925.8,755.1 1927.6,755.2 1929.3,755.4 1931.1,755.5 1932.9,755.7 1934.6,755.8 1936.4,756.0 1938.2,756.1 1939.9,756.3 1941.7,756.4 1943.5,756.5 1945.2,756.7 1947.0,756.8 1948.8,756.9 1950.5,757.1 1952.3,757.2 1954.1,757.3 1955.8,757.5 1957.6,757.6 1959.4,757.7 1961.1,757.8 1962.9,758.0 1964.7,758.1 1966.4,758.2 1968.2,758.3 1970.0,758.4 1971.7,758.6 1973.5,758.7 1975.3,758.8 1977.0,758.9 1978.8,759.1 1980.6,759.2 1982.3,759.3 1984.1,759.4 1985.9,759.5 1987.7,759.7 1989.4,759.8 1991.2,759.9 1993.0,760.0 1994.7,760.2 1996.5,760.3 1998.3,760.4 2000.0,760.5 2001.8,760.6 2003.6,760.8 2005.3,760.9 2007.1,761.0 2008.9,761.1 2010.6,761.3 2012.4,761.4 2014.2,761.5 2015.9,761.6 2017.7,761.8 2019.5,761.9 2021.2,762.0 2023.0,762.1 2024.8,762.3 2026.5,762.4 2028.3,762.5 2030.1,762.6 2031.8,762.8 2033.6,762.9 2035.4,763.0 2037.1,763.1 2038.9,763.2 2040.7,763.4 2042.4,763.5 2044.2,763.6 2046.0,763.7 2047.7,763.8 2049.5,763.9 2051.3,764.1 2053.0,764.2 2054.8,764.3 2056.6,764.4 2058.3,764.5 2060.1,764.6 2061.9,764.7 2063.6,764.8 2065.4,764.9 2067.2,765.0 2068.9,765.1 2070.7,765.2 2072.5,765.3 2074.2,765.4 2076.0,765.5 2077.8,765.6 2079.5,765.7 2081.3,765.8 2083.1,765.8 2084.8,765.9 2086.6,766.0 2088.4,766.1 2090.1,766.2 2091.9,766.2 2093.7,766.3 2095.4,766.4 2097.2,766.4 2099.0,766.5 2100.7,766.6 2102.5,766.6 2104.3,766.7 2106.0,766.7 2107.8,766.8 2109.6,766.9 2111.3,766.9 2113.1,767.0 2114.9,767.0 2116.6,767.1 2118.4,767.1 2120.2,767.2 2121.9,767.2 2123.7,767.2 2125.5,767.3 2127.2,767.3 2129.0,767.4 2130.8,767.4 2132.5,767.4 2134.3,767.5 2136.1,767.5 2137.8,767.5 2139.6,767.6 2141.4,767.6 2143.1,767.6 2144.9,767.6 2146.7,767.7 2148.4,767.7 2150.2,767.7 2152.0,767.7 2153.7,767.8 2155.5,767.8 2157.3,767.8 2159.0,767.8 2160.8,767.8 2162.6,767.9 2164.3,767.9 2166.1,767.9 2167.9,767.9 2169.6,767.9 2171.4,767.9 2173.2,768.0 2174.9,768.0 2176.7,768.0 2178.5,768.0 2180.2,768.0 2182.0,768.0 2183.8,768.0 2185.5,768.0 2187.3,768.1 2189.1,768.1 2190.8,768.1 2192.6,768.1 2194.4,768.1 2196.1,768.1 2197.9,768.1 2199.7,768.1 2201.4,768.1 2203.2,768.1 2205.0,768.1 2206.7,768.1 2208.5,768.2 2210.3,768.2 2212.0,768.2 2213.8,768.2 2215.6,768.2 2217.3,768.2 2219.1,768.2 2220.9,768.2 2222.6,768.2 2224.4,768.2 2226.2,768.2 2227.9,768.2 2229.7,768.2 2231.5,768.2 2233.2,768.2 2235.0,768.2 2236.8,768.2 2238.5,768.2 2240.3,768.2 2242.1,768.2 2243.8,768.2 2245.6,768.2 2247.4,768.2 2249.1,768.2 2250.9,768.2 2252.7,768.3 2254.4,768.3 2256.2,768.3 2258.0,768.3 2259.7,768.3 2261.5,768.3 2263.3,768.3 2265.0,768.3 2266.8,768.3 2268.6,768.3 2270.3,768.3 2272.1,768.3 2273.9,768.3 2275.6,768.3 2277.4,768.3 2279.2,768.3 2280.9,768.3 2282.7,768.3 2284.5,768.3 2286.2,768.3 2288.0,768.3 2289.8,768.3 2291.5,768.3 2293.3,768.3 2295.1,768.3 2296.8,768.3 2298.6,768.3 2300.4,768.3 2302.1,768.3 2303.9,768.3 2305.7,768.3 2307.4,768.3 2309.2,768.3 2311.0,768.3 2312.7,768.3 2314.5,768.3 2316.3,768.3 2318.0,768.3 2319.8,768.3 2321.6,768.3 2323.3,768.3 2325.1,768.3 2326.9,768.3 2328.6,768.3 2330.4,768.3 2332.2,768.3 2333.9,768.3 2335.7,768.3 2337.5,768.3 2339.2,768.3 2341.0,768.3 2342.8,768.3 2344.5,768.3 2346.3,768.3 2348.1,768.3 2349.8,768.3 2351.6,768.3 2353.4,768.3 2355.1,768.3 2356.9,768.3 2358.7,768.3 2360.4,768.3 2362.2,768.3 2364.0,768.3 2365.7,768.3 2367.5,768.3 2369.3,768.3 2371.0,768.3 2372.8,768.3 2374.6,768.3 2376.3,768.3 2378.1,768.3 2379.9,768.3 2381.6,768.3 2383.4,768.3 2385.2,768.3 2386.9,768.3 2388.7,768.3 2390.5,768.3 2392.2,768.3 2394.0,768.3 2395.8,768.3 2397.5,768.3 2399.3,768.3 2401.1,768.3 2402.8,768.3 2404.6,768.3 2406.4,768.3 2408.1,768.3 2409.9,768.3 2411.7,768.3 2413.4,768.3 2415.2,768.3 2417.0,768.3 2418.7,768.3 2420.5,768.3 2422.3,768.3 2424.0,768.3 2425.8,768.3" fill="none" stroke="#00cacb" stroke-width="3.8" stroke-linejoin="round" stroke-linecap="butt" />
</g>
<text x="1438.5" y="112.9" font-size="41" text-anchor="start" font-family="'Liberation Sans', sans-serif" font-weight="bold" >C 1s</text>
<text x="1986.5" y="156.0" font-size="41" text-anchor="start" font-family="'Liberation Sans', sans-serif" font-weight="bold" >C-C sp<tspan font-size="26" dy="-17">2</tspan></text>
<text x="1852.0" y="609.5" font-size="41" text-anchor="start" font-family="'Liberation Sans', sans-serif" font-weight="bold" >C-O</text>
<text x="1644.7" y="673.4" font-size="41" text-anchor="start" font-family="'Liberation Sans', sans-serif" font-weight="bold" >C=O</text>
<text x="2221.0" y="734.0" font-size="41" text-anchor="start" font-family="'Liberation Sans', sans-serif" font-weight="bold" >C-Me</text>
<line x1="1932.0" y1="733.0" x2="1900.6" y2="643.4" stroke="#000" stroke-width="2.6"/>
<polygon points="1893.5,623.0 1909.5,646.0 1900.6,643.4 1895.3,651.0" fill="#000"/>
<path d="M260.7 1846.3V1830.5M378.8 1846.3V1830.5M496.9 1846.3V1830.5M615.0 1846.3V1830.5M733.1 1846.3V1830.5M851.2 1846.3V1830.5M969.3 1846.3V1830.5M1087.4 1846.3V1830.5M201.6 1846.3V1838.5M319.8 1846.3V1838.5M437.8 1846.3V1838.5M556.0 1846.3V1838.5M674.0 1846.3V1838.5M792.1 1846.3V1838.5M910.2 1846.3V1838.5M1028.3 1846.3V1838.5M1146.5 1846.3V1838.5" stroke="#000" stroke-width="3" fill="none"/>
<rect x="172.9" y="1042.6" width="998.5" height="803.7" fill="none" stroke="#000" stroke-width="3.5"/>
<text x="260.7" y="1899.4" font-size="45" text-anchor="middle" font-family="'Liberation Sans', sans-serif" font-weight="bold" >133</text>
<text x="378.8" y="1899.4" font-size="45" text-anchor="middle" font-family="'Liberation Sans', sans-serif" font-weight="bold" >132</text>
<text x="496.9" y="1899.4" font-size="45" text-anchor="middle" font-family="'Liberation Sans', sans-serif" font-weight="bold" >131</text>
<text x="615.0" y="1899.4" font-size="45" text-anchor="middle" font-family="'Liberation Sans', sans-serif" font-weight="bold" >130</text>
<text x="733.1" y="1899.4" font-size="45" text-anchor="middle" font-family="'Liberation Sans', sans-serif" font-weight="bold" >129</text>
<text x="851.2" y="1899.4" font-size="45" text-anchor="middle" font-family="'Liberation Sans', sans-serif" font-weight="bold" >128</text>
<text x="969.3" y="1899.4" font-size="45" text-anchor="middle" font-family="'Liberation Sans', sans-serif" font-weight="bold" >127</text>
<text x="1087.4" y="1899.4" font-size="45" text-anchor="middle" font-family="'Liberation Sans', sans-serif" font-weight="bold" >126</text>
<text x="672.2" y="1975.0" font-size="45.8" text-anchor="middle" font-family="'Liberation Sans', sans-serif" font-weight="bold" >Binding energy [eV]</text>
<text transform="translate(136.9 1444.4) rotate(-90)" font-size="45.8" text-anchor="middle" font-family="'Liberation Sans', sans-serif" font-weight="bold">Intensity [a.u.]</text>
<text x="46.0" y="1125.0" font-size="91" font-family="'Liberation Sans', sans-serif" fill="#fff" stroke="#000" stroke-width="3" stroke-linejoin="round">(c)</text>
<defs>
<clipPath id="cc"><rect x="171.3" y="1041.0" width="1001.7" height="806.9"/></clipPath>
</defs>
<g clip-path="url(#cc)">
<polyline points="170.9,1761.6 176.8,1770.9 182.8,1771.8 188.7,1781.9 194.6,1769.3 200.5,1770.6 206.4,1771.5 212.3,1767.2 218.2,1766.4 224.1,1773.5 230.0,1772.4 235.9,1770.1 241.8,1763.9 247.7,1764.2 253.6,1773.5 259.5,1772.3 265.4,1762.1 271.3,1757.1 277.2,1765.2 283.1,1768.2 289.0,1757.8 294.9,1765.0 300.9,1758.4 306.8,1752.8 312.7,1757.2 318.6,1759.6 324.5,1754.6 330.4,1761.9 336.3,1757.9 342.2,1759.1 348.1,1755.4 354.0,1755.7 359.9,1752.1 365.8,1751.6 371.7,1746.5 377.6,1744.4 383.5,1740.4 389.4,1729.7 395.3,1748.5 401.2,1724.0 407.1,1732.3 413.0,1736.4 419.0,1724.0 424.9,1717.3 430.8,1704.1 436.7,1717.0 442.6,1700.0 448.5,1694.5 454.4,1704.4 460.3,1692.5 466.2,1667.0 472.1,1656.9 478.0,1643.0 483.9,1638.2 489.8,1628.4 495.7,1619.2 501.6,1593.5 507.5,1603.7 513.4,1580.4 519.3,1557.8 525.2,1566.3 531.1,1510.0 537.1,1519.4 543.0,1489.3 548.9,1435.7 554.8,1457.3 560.7,1430.0 566.6,1373.5 572.5,1391.2 578.4,1356.3 584.3,1315.7 590.2,1292.3 596.1,1266.2 602.0,1247.8 607.9,1209.4 613.8,1197.2 619.7,1189.7 625.6,1202.1 631.5,1195.0 637.4,1214.2 643.3,1165.5 649.2,1218.1 655.2,1176.1 661.1,1171.1 667.0,1241.2 672.9,1253.0 678.8,1270.1 684.7,1269.8 690.6,1323.1 696.5,1334.9 702.4,1366.1 708.3,1386.1 714.2,1386.1 720.1,1444.6 726.0,1451.6 731.9,1470.7 737.8,1483.5 743.7,1532.7 749.6,1519.5 755.5,1546.4 761.4,1557.8 767.3,1583.6 773.3,1618.6 779.2,1620.3 785.1,1616.4 791.0,1637.1 796.9,1649.0 802.8,1640.2 808.7,1646.0 814.6,1677.2 820.5,1666.4 826.4,1710.8 832.3,1717.6 838.2,1697.6 844.1,1713.3 850.0,1711.4 855.9,1716.8 861.8,1726.2 867.7,1724.2 873.6,1732.0 879.5,1748.1 885.4,1738.1 891.4,1741.2 897.3,1732.1 903.2,1755.3 909.1,1749.5 915.0,1754.4 920.9,1754.3 926.8,1744.3 932.7,1754.2 938.6,1760.9 944.5,1758.4 950.4,1755.8 956.3,1767.5 962.2,1764.1 968.1,1754.5 974.0,1759.4 979.9,1765.4 985.8,1768.5 991.7,1767.4 997.6,1775.6 1003.5,1762.6 1009.5,1766.4 1015.4,1768.0 1021.3,1776.0 1027.2,1773.3 1033.1,1767.4 1039.0,1769.0 1044.9,1773.2 1050.8,1768.5 1056.7,1766.6 1062.6,1774.8 1068.5,1774.4 1074.4,1776.2 1080.3,1777.7 1086.2,1768.6 1092.1,1770.2 1098.0,1771.2 1103.9,1778.3 1109.8,1777.9 1115.7,1773.5 1121.6,1775.2 1127.6,1772.9 1133.5,1776.7 1139.4,1770.7 1145.3,1765.7 1151.2,1767.0 1157.1,1766.8 1163.0,1773.6 1168.9,1770.0 1174.8,1775.7 1180.7,1770.2" fill="none" stroke="#000" stroke-width="2.8" stroke-linejoin="round" stroke-linecap="butt" />
<polyline points="170.9,1770.0 173.3,1770.0 175.7,1769.9 178.0,1769.9 180.4,1769.9 182.8,1769.8 185.1,1769.8 187.5,1769.7 189.8,1769.7 192.2,1769.7 194.6,1769.6 196.9,1769.6 199.3,1769.5 201.7,1769.5 204.0,1769.4 206.4,1769.3 208.7,1769.3 211.1,1769.2 213.5,1769.2 215.8,1769.1 218.2,1769.0 220.5,1768.9 222.9,1768.9 225.3,1768.8 227.6,1768.7 230.0,1768.6 232.4,1768.5 234.7,1768.4 237.1,1768.3 239.4,1768.2 241.8,1768.1 244.2,1768.0 246.5,1767.9 248.9,1767.8 251.3,1767.7 253.6,1767.6 256.0,1767.4 258.3,1767.3 260.7,1767.2 263.1,1767.0 265.4,1766.9 267.8,1766.7 270.1,1766.6 272.5,1766.4 274.9,1766.2 277.2,1766.0 279.6,1765.9 282.0,1765.7 284.3,1765.5 286.7,1765.3 289.0,1765.0 291.4,1764.8 293.8,1764.6 296.1,1764.4 298.5,1764.1 300.9,1763.9 303.2,1763.6 305.6,1763.3 307.9,1763.1 310.3,1762.8 312.7,1762.5 315.0,1762.1 317.4,1761.8 319.8,1761.5 322.1,1761.1 324.5,1760.8 326.8,1760.4 329.2,1760.0 331.6,1759.6 333.9,1759.2 336.3,1758.8 338.6,1758.3 341.0,1757.9 343.4,1757.4 345.7,1756.9 348.1,1756.4 350.5,1755.9 352.8,1755.3 355.2,1754.7 357.5,1754.1 359.9,1753.5 362.3,1752.9 364.6,1752.2 367.0,1751.5 369.4,1750.8 371.7,1750.1 374.1,1749.3 376.4,1748.5 378.8,1747.7 381.2,1746.8 383.5,1745.9 385.9,1745.0 388.2,1744.0 390.6,1743.1 393.0,1742.0 395.3,1740.9 397.7,1739.8 400.1,1738.7 402.4,1737.5 404.8,1736.2 407.1,1734.9 409.5,1733.6 411.9,1732.2 414.2,1730.8 416.6,1729.3 419.0,1727.7 421.3,1726.1 423.7,1724.4 426.0,1722.7 428.4,1720.9 430.8,1719.0 433.1,1717.0 435.5,1715.0 437.9,1712.9 440.2,1710.8 442.6,1708.5 444.9,1706.2 447.3,1703.8 449.7,1701.3 452.0,1698.7 454.4,1696.0 456.7,1693.2 459.1,1690.3 461.5,1687.3 463.8,1684.2 466.2,1681.0 468.6,1677.7 470.9,1674.3 473.3,1670.7 475.6,1667.1 478.0,1663.3 480.4,1659.4 482.7,1655.3 485.1,1651.2 487.5,1646.9 489.8,1642.4 492.2,1637.8 494.5,1633.1 496.9,1628.2 499.3,1623.1 501.6,1617.9 504.0,1612.6 506.3,1607.1 508.7,1601.4 511.1,1595.6 513.4,1589.6 515.8,1583.4 518.2,1577.0 520.5,1570.5 522.9,1563.8 525.2,1556.9 527.6,1549.9 530.0,1542.6 532.3,1535.2 534.7,1527.6 537.1,1519.8 539.4,1511.8 541.8,1503.7 544.1,1495.4 546.5,1486.9 548.9,1478.2 551.2,1469.3 553.6,1460.3 556.0,1451.1 558.3,1441.8 560.7,1432.3 563.0,1422.7 565.4,1413.0 567.8,1403.1 570.1,1393.2 572.5,1383.1 574.8,1373.0 577.2,1362.8 579.6,1352.6 581.9,1342.4 584.3,1332.2 586.7,1322.1 589.0,1312.0 591.4,1302.0 593.7,1292.1 596.1,1282.4 598.5,1272.9 600.8,1263.6 603.2,1254.6 605.6,1245.9 607.9,1237.5 610.3,1229.5 612.6,1222.0 615.0,1215.0 617.4,1208.4 619.7,1202.4 622.1,1197.0 624.4,1192.2 626.8,1188.0 629.2,1184.5 631.5,1181.7 633.9,1179.7 636.3,1178.3 638.6,1177.7 641.0,1177.8 643.3,1178.7 645.7,1180.2 648.1,1182.6 650.4,1185.6 652.8,1189.3 655.2,1193.7 657.5,1198.7 659.9,1204.3 662.2,1210.5 664.6,1217.2 667.0,1224.4 669.3,1232.1 671.7,1240.2 674.1,1248.7 676.4,1257.5 678.8,1266.6 681.1,1276.0 683.5,1285.6 685.9,1295.4 688.2,1305.3 690.6,1315.3 692.9,1325.5 695.3,1335.7 697.7,1345.9 700.0,1356.1 702.4,1366.3 704.8,1376.5 707.1,1386.6 709.5,1396.7 711.8,1406.6 714.2,1416.4 716.6,1426.2 718.9,1435.8 721.3,1445.2 723.7,1454.5 726.0,1463.6 728.4,1472.6 730.7,1481.4 733.1,1490.1 735.5,1498.6 737.8,1506.8 740.2,1515.0 742.5,1522.9 744.9,1530.6 747.3,1538.2 749.6,1545.6 752.0,1552.8 754.4,1559.8 756.7,1566.7 759.1,1573.3 761.4,1579.8 763.8,1586.1 766.2,1592.3 768.5,1598.2 770.9,1604.1 773.3,1609.7 775.6,1615.2 778.0,1620.5 780.3,1625.7 782.7,1630.7 785.1,1635.5 787.4,1640.2 789.8,1644.8 792.2,1649.2 794.5,1653.5 796.9,1657.7 799.2,1661.7 801.6,1665.6 804.0,1669.4 806.3,1673.0 808.7,1676.5 811.0,1679.9 813.4,1683.2 815.8,1686.4 818.1,1689.5 820.5,1692.5 822.9,1695.3 825.2,1698.1 827.6,1700.8 829.9,1703.4 832.3,1705.9 834.7,1708.3 837.0,1710.6 839.4,1712.8 841.8,1715.0 844.1,1717.1 846.5,1719.1 848.8,1721.0 851.2,1722.9 853.6,1724.7 855.9,1726.4 858.3,1728.1 860.6,1729.7 863.0,1731.3 865.4,1732.8 867.7,1734.2 870.1,1735.6 872.5,1737.0 874.8,1738.3 877.2,1739.5 879.5,1740.7 881.9,1741.9 884.3,1743.0 886.6,1744.1 889.0,1745.1 891.4,1746.1 893.7,1747.1 896.1,1748.0 898.4,1748.9 900.8,1749.8 903.2,1750.6 905.5,1751.4 907.9,1752.2 910.3,1752.9 912.6,1753.7 915.0,1754.3 917.3,1755.0 919.7,1755.7 922.1,1756.3 924.4,1756.9 926.8,1757.5 929.1,1758.0 931.5,1758.6 933.9,1759.1 936.2,1759.6 938.6,1760.1 941.0,1760.6 943.3,1761.0 945.7,1761.5 948.0,1761.9 950.4,1762.3 952.8,1762.7 955.1,1763.1 957.5,1763.5 959.9,1763.8 962.2,1764.2 964.6,1764.5 966.9,1764.8 969.3,1765.2 971.7,1765.5 974.0,1765.8 976.4,1766.0 978.7,1766.3 981.1,1766.6 983.5,1766.8 985.8,1767.1 988.2,1767.3 990.6,1767.6 992.9,1767.8 995.3,1768.0 997.6,1768.2 1000.0,1768.4 1002.4,1768.6 1004.7,1768.8 1007.1,1769.0 1009.5,1769.2 1011.8,1769.4 1014.2,1769.5 1016.5,1769.7 1018.9,1769.9 1021.3,1770.0 1023.6,1770.2 1026.0,1770.3 1028.4,1770.4 1030.7,1770.6 1033.1,1770.7 1035.4,1770.8 1037.8,1771.0 1040.2,1771.1 1042.5,1771.2 1044.9,1771.3 1047.2,1771.4 1049.6,1771.5 1052.0,1771.6 1054.3,1771.7 1056.7,1771.8 1059.1,1771.9 1061.4,1772.0 1063.8,1772.1 1066.1,1772.2 1068.5,1772.2 1070.9,1772.3 1073.2,1772.4 1075.6,1772.5 1078.0,1772.5 1080.3,1772.6 1082.7,1772.7 1085.0,1772.7 1087.4,1772.8 1089.8,1772.9 1092.1,1772.9 1094.5,1773.0 1096.8,1773.0 1099.2,1773.1 1101.6,1773.2 1103.9,1773.2 1106.3,1773.3 1108.7,1773.3 1111.0,1773.3 1113.4,1773.4 1115.7,1773.4 1118.1,1773.5 1120.5,1773.5 1122.8,1773.6 1125.2,1773.6 1127.6,1773.6 1129.9,1773.7 1132.3,1773.7 1134.6,1773.7 1137.0,1773.8 1139.4,1773.8 1141.7,1773.8 1144.1,1773.9 1146.5,1773.9 1148.8,1773.9 1151.2,1774.0 1153.5,1774.0 1155.9,1774.0 1158.3,1774.0 1160.6,1774.1 1163.0,1774.1 1165.3,1774.1 1167.7,1774.1 1170.1,1774.2 1172.4,1774.2 1174.8,1774.2 1177.2,1774.2 1179.5,1774.2" fill="none" stroke="#ff0000" stroke-width="3" stroke-linejoin="round" stroke-linecap="butt" />
</g>
<text x="191.0" y="1098.6" font-size="41" text-anchor="start" font-family="'Liberation Sans', sans-serif" font-weight="bold" >P 2p</text>
<text x="657.0" y="1141.4" font-size="41" text-anchor="middle" font-family="'Liberation Sans', sans-serif" font-weight="bold" >P-Me</text>
<path d="M1474.9 1860.6V1844.8M1589.4 1860.6V1844.8M1704.0 1860.6V1844.8M1818.5 1860.6V1844.8M1933.1 1860.6V1844.8M2047.6 1860.6V1844.8M2162.1 1860.6V1844.8M2276.7 1860.6V1844.8M2391.2 1860.6V1844.8M1532.2 1860.6V1852.8M1646.7 1860.6V1852.8M1761.2 1860.6V1852.8M1875.8 1860.6V1852.8M1990.3 1860.6V1852.8M2104.9 1860.6V1852.8M2219.4 1860.6V1852.8M2333.9 1860.6V1852.8" stroke="#000" stroke-width="3" fill="none"/>
<rect x="1422.7" y="1057.4" width="997.8" height="803.2" fill="none" stroke="#000" stroke-width="3.5"/>
<text x="1474.9" y="1913.5" font-size="44" text-anchor="middle" font-family="'Liberation Sans', sans-serif" font-weight="bold" >464</text>
<text x="1589.4" y="1913.5" font-size="44" text-anchor="middle" font-family="'Liberation Sans', sans-serif" font-weight="bold" >462</text>
<text x="1704.0" y="1913.5" font-size="44" text-anchor="middle" font-family="'Liberation Sans', sans-serif" font-weight="bold" >460</text>
<text x="1818.5" y="1913.5" font-size="44" text-anchor="middle" font-family="'Liberation Sans', sans-serif" font-weight="bold" >458</text>
<text x="1933.1" y="1913.5" font-size="44" text-anchor="middle" font-family="'Liberation Sans', sans-serif" font-weight="bold" >456</text>
<text x="2047.6" y="1913.5" font-size="44" text-anchor="middle" font-family="'Liberation Sans', sans-serif" font-weight="bold" >454</text>
<text x="2162.1" y="1913.5" font-size="44" text-anchor="middle" font-family="'Liberation Sans', sans-serif" font-weight="bold" >452</text>
<text x="2276.7" y="1913.5" font-size="44" text-anchor="middle" font-family="'Liberation Sans', sans-serif" font-weight="bold" >450</text>
<text x="2391.2" y="1913.5" font-size="44" text-anchor="middle" font-family="'Liberation Sans', sans-serif" font-weight="bold" >448</text>
<text x="1921.6" y="1990.0" font-size="45.8" text-anchor="middle" font-family="'Liberation Sans', sans-serif" font-weight="bold" >Binding energy [eV]</text>
<text transform="translate(1386.7 1459.0) rotate(-90)" font-size="45.8" text-anchor="middle" font-family="'Liberation Sans', sans-serif" font-weight="bold">Intensity [a.u.]</text>
<text x="1273.5" y="1155.4" font-size="99" font-family="'Liberation Sans', sans-serif" fill="#fff" stroke="#000" stroke-width="3" stroke-linejoin="round">(d)</text>
<defs>
<clipPath id="cd"><rect x="1421.1" y="1055.8" width="1001.0" height="806.4"/></clipPath>
</defs>
<g clip-path="url(#cd)">
<polyline points="1420.5,1786.1 1426.2,1787.5 1431.9,1781.0 1437.7,1786.6 1443.4,1785.3 1449.1,1781.6 1454.9,1786.6 1460.6,1785.3 1466.3,1782.9 1472.0,1783.3 1477.8,1784.4 1483.5,1781.4 1489.2,1780.7 1494.9,1777.6 1500.7,1781.6 1506.4,1778.5 1512.1,1773.4 1517.9,1771.0 1523.6,1777.7 1529.3,1772.2 1535.0,1775.0 1540.8,1773.7 1546.5,1772.2 1552.2,1769.0 1557.9,1762.7 1563.7,1759.1 1569.4,1755.1 1575.1,1749.6 1580.8,1741.3 1586.6,1733.3 1592.3,1722.4 1598.0,1716.0 1603.8,1704.6 1609.5,1694.2 1615.2,1683.0 1620.9,1670.8 1626.7,1659.0 1632.4,1644.4 1638.1,1635.5 1643.8,1620.5 1649.6,1614.4 1655.3,1606.2 1661.0,1598.7 1666.8,1594.7 1672.5,1594.4 1678.2,1594.7 1683.9,1600.2 1689.7,1609.0 1695.4,1619.6 1701.1,1628.8 1706.8,1635.7 1712.6,1648.6 1718.3,1662.4 1724.0,1671.5 1729.8,1681.8 1735.5,1688.5 1741.2,1701.5 1746.9,1706.0 1752.7,1718.4 1758.4,1727.4 1764.1,1735.3 1769.8,1737.9 1775.6,1745.2 1781.3,1750.2 1787.0,1750.2 1792.7,1753.7 1798.5,1752.9 1804.2,1756.9 1809.9,1763.8 1815.7,1756.3 1821.4,1762.3 1827.1,1754.7 1832.8,1753.8 1838.6,1758.4 1844.3,1759.6 1850.0,1759.6 1855.7,1753.9 1861.5,1755.4 1867.2,1755.2 1872.9,1753.0 1878.7,1745.8 1884.4,1746.9 1890.1,1742.3 1895.8,1737.3 1901.6,1730.3 1907.3,1721.8 1913.0,1715.1 1918.7,1700.8 1924.5,1685.5 1930.2,1665.2 1935.9,1636.6 1941.7,1610.4 1947.4,1574.0 1953.1,1533.5 1958.8,1484.5 1964.6,1426.3 1970.3,1368.8 1976.0,1306.6 1981.7,1245.3 1987.5,1196.2 1993.2,1164.7 1998.9,1158.6 2004.6,1180.1 2010.4,1214.3 2016.1,1268.6 2021.8,1328.8 2027.6,1395.0 2033.3,1446.3 2039.0,1507.6 2044.7,1549.4 2050.5,1590.4 2056.2,1625.1 2061.9,1650.0 2067.6,1675.6 2073.4,1699.2 2079.1,1712.3 2084.8,1721.5 2090.6,1728.0 2096.3,1744.6 2102.0,1748.3 2107.7,1745.7 2113.5,1752.2 2119.2,1758.3 2124.9,1763.9 2130.6,1767.6 2136.4,1768.0 2142.1,1769.6 2147.8,1776.0 2153.5,1776.9 2159.3,1774.5 2165.0,1777.8 2170.7,1780.2 2176.5,1780.9 2182.2,1783.0 2187.9,1780.3 2193.6,1779.6 2199.4,1779.4 2205.1,1782.9 2210.8,1783.3 2216.5,1782.1 2222.3,1781.7 2228.0,1782.5 2233.7,1783.2 2239.5,1787.3 2245.2,1789.5 2250.9,1784.1 2256.6,1786.3 2262.4,1786.3 2268.1,1788.1 2273.8,1789.0 2279.5,1783.1 2285.3,1785.2 2291.0,1788.6 2296.7,1785.4 2302.5,1785.6 2308.2,1785.1 2313.9,1781.4 2319.6,1786.4 2325.4,1789.1 2331.1,1786.2 2336.8,1787.8 2342.5,1785.1 2348.3,1785.9 2354.0,1785.6 2359.7,1787.6 2365.4,1785.5 2371.2,1787.5 2376.9,1785.3 2382.6,1787.1 2388.4,1788.9 2394.1,1785.3 2399.8,1788.0 2405.5,1783.3 2411.3,1785.5 2417.0,1785.5 2422.7,1786.3" fill="none" stroke="#000" stroke-width="2.5" stroke-linejoin="round" stroke-linecap="butt" />
<polyline points="1420.5,1787.0 1422.2,1786.9 1423.9,1786.8 1425.6,1786.8 1427.4,1786.7 1429.1,1786.6 1430.8,1786.5 1432.5,1786.3 1434.2,1786.2 1436.0,1786.1 1437.7,1786.0 1439.4,1785.9 1441.1,1785.8 1442.8,1785.6 1444.5,1785.5 1446.3,1785.3 1448.0,1785.2 1449.7,1785.1 1451.4,1784.9 1453.1,1784.7 1454.9,1784.6 1456.6,1784.4 1458.3,1784.2 1460.0,1784.0 1461.7,1783.9 1463.4,1783.7 1465.2,1783.5 1466.9,1783.2 1468.6,1783.0 1470.3,1782.8 1472.0,1782.6 1473.8,1782.3 1475.5,1782.1 1477.2,1781.8 1478.9,1781.6 1480.6,1781.3 1482.3,1781.0 1484.1,1780.7 1485.8,1780.4 1487.5,1780.1 1489.2,1779.8 1490.9,1779.5 1492.7,1779.1 1494.4,1778.8 1496.1,1778.4 1497.8,1778.0 1499.5,1777.6 1501.2,1777.2 1503.0,1776.8 1504.7,1776.4 1506.4,1776.0 1508.1,1775.5 1509.8,1775.0 1511.6,1774.5 1513.3,1774.0 1515.0,1773.5 1516.7,1773.0 1518.4,1772.4 1520.1,1771.8 1521.9,1771.2 1523.6,1770.6 1525.3,1770.0 1527.0,1769.3 1528.7,1768.7 1530.5,1768.0 1532.2,1767.2 1533.9,1766.5 1535.6,1765.7 1537.3,1764.9 1539.0,1764.1 1540.8,1763.2 1542.5,1762.4 1544.2,1761.4 1545.9,1760.5 1547.6,1759.5 1549.4,1758.5 1551.1,1757.5 1552.8,1756.4 1554.5,1755.3 1556.2,1754.2 1557.9,1753.0 1559.7,1751.7 1561.4,1750.5 1563.1,1749.2 1564.8,1747.8 1566.5,1746.4 1568.3,1745.0 1570.0,1743.5 1571.7,1741.9 1573.4,1740.3 1575.1,1738.7 1576.8,1737.0 1578.6,1735.2 1580.3,1733.4 1582.0,1731.5 1583.7,1729.6 1585.4,1727.6 1587.1,1725.5 1588.9,1723.4 1590.6,1721.2 1592.3,1718.9 1594.0,1716.6 1595.7,1714.2 1597.5,1711.7 1599.2,1709.2 1600.9,1706.6 1602.6,1703.9 1604.3,1701.1 1606.0,1698.3 1607.8,1695.4 1609.5,1692.4 1611.2,1689.3 1612.9,1686.2 1614.6,1683.0 1616.4,1679.8 1618.1,1676.5 1619.8,1673.1 1621.5,1669.7 1623.2,1666.2 1624.9,1662.7 1626.7,1659.1 1628.4,1655.6 1630.1,1652.0 1631.8,1648.4 1633.5,1644.8 1635.3,1641.2 1637.0,1637.6 1638.7,1634.1 1640.4,1630.6 1642.1,1627.2 1643.8,1623.9 1645.6,1620.7 1647.3,1617.6 1649.0,1614.6 1650.7,1611.8 1652.4,1609.2 1654.2,1606.7 1655.9,1604.4 1657.6,1602.4 1659.3,1600.5 1661.0,1598.9 1662.7,1597.6 1664.5,1596.6 1666.2,1595.8 1667.9,1595.2 1669.6,1595.0 1671.3,1595.1 1673.1,1595.4 1674.8,1596.0 1676.5,1596.9 1678.2,1598.1 1679.9,1599.5 1681.6,1601.2 1683.4,1603.1 1685.1,1605.2 1686.8,1607.6 1688.5,1610.1 1690.2,1612.8 1692.0,1615.7 1693.7,1618.7 1695.4,1621.9 1697.1,1625.1 1698.8,1628.5 1700.5,1631.9 1702.3,1635.4 1704.0,1638.9 1705.7,1642.5 1707.4,1646.1 1709.1,1649.7 1710.9,1653.3 1712.6,1656.9 1714.3,1660.5 1716.0,1664.0 1717.7,1667.5 1719.4,1671.0 1721.2,1674.4 1722.9,1677.8 1724.6,1681.1 1726.3,1684.3 1728.0,1687.5 1729.8,1690.6 1731.5,1693.6 1733.2,1696.6 1734.9,1699.5 1736.6,1702.3 1738.3,1705.0 1740.1,1707.7 1741.8,1710.3 1743.5,1712.8 1745.2,1715.3 1746.9,1717.7 1748.7,1720.0 1750.4,1722.2 1752.1,1724.4 1753.8,1726.5 1755.5,1728.5 1757.2,1730.5 1759.0,1732.4 1760.7,1734.3 1762.4,1736.1 1764.1,1737.8 1765.8,1739.5 1767.5,1741.1 1769.3,1742.7 1771.0,1744.2 1772.7,1745.7 1774.4,1747.1 1776.1,1748.5 1777.9,1749.8 1779.6,1751.1 1781.3,1752.4 1783.0,1753.5 1784.7,1754.7 1786.4,1755.8 1788.2,1756.9 1789.9,1757.9 1791.6,1758.9 1793.3,1759.9 1795.0,1760.8 1796.8,1761.7 1798.5,1762.6 1800.2,1763.4 1801.9,1764.2 1803.6,1765.0 1805.3,1765.7 1807.1,1766.4 1808.8,1767.1 1810.5,1767.7 1812.2,1768.3 1813.9,1768.9 1815.7,1769.5 1817.4,1770.0 1819.1,1770.5 1820.8,1771.0 1822.5,1771.4 1824.2,1771.8 1826.0,1772.2 1827.7,1772.6 1829.4,1772.9 1831.1,1773.2 1832.8,1773.5 1834.6,1773.7 1836.3,1773.9 1838.0,1774.1 1839.7,1774.2 1841.4,1774.4 1843.1,1774.4 1844.9,1774.5 1846.6,1774.5 1848.3,1774.5 1850.0,1774.4 1851.7,1774.3 1853.5,1774.2 1855.2,1774.0 1856.9,1773.8 1858.6,1773.5 1860.3,1773.2 1862.0,1772.8 1863.8,1772.4 1865.5,1771.9 1867.2,1771.4 1868.9,1770.8 1870.6,1770.2 1872.4,1769.5 1874.1,1768.7 1875.8,1767.9 1877.5,1766.9 1879.2,1766.0 1880.9,1764.9 1882.7,1763.7 1884.4,1762.5 1886.1,1761.1 1887.8,1759.7 1889.5,1758.1 1891.3,1756.4 1893.0,1754.6 1894.7,1752.7 1896.4,1750.7 1898.1,1748.5 1899.8,1746.2 1901.6,1743.7 1903.3,1741.1 1905.0,1738.2 1906.7,1735.2 1908.4,1732.1 1910.2,1728.7 1911.9,1725.1 1913.6,1721.2 1915.3,1717.1 1917.0,1712.8 1918.7,1708.2 1920.5,1703.4 1922.2,1698.2 1923.9,1692.7 1925.6,1686.9 1927.3,1680.7 1929.1,1674.2 1930.8,1667.2 1932.5,1659.9 1934.2,1652.1 1935.9,1643.9 1937.6,1635.2 1939.4,1626.1 1941.1,1616.4 1942.8,1606.1 1944.5,1595.3 1946.2,1583.9 1948.0,1571.9 1949.7,1559.3 1951.4,1546.1 1953.1,1532.2 1954.8,1517.6 1956.5,1502.4 1958.3,1486.5 1960.0,1470.1 1961.7,1453.0 1963.4,1435.3 1965.1,1417.1 1966.8,1398.4 1968.6,1379.4 1970.3,1360.1 1972.0,1340.6 1973.7,1321.1 1975.4,1301.8 1977.2,1282.7 1978.9,1264.3 1980.6,1246.5 1982.3,1229.8 1984.0,1214.3 1985.7,1200.3 1987.5,1187.9 1989.2,1177.5 1990.9,1169.2 1992.6,1163.1 1994.3,1159.4 1996.1,1158.2 1997.8,1159.5 1999.5,1163.2 2001.2,1169.3 2002.9,1177.7 2004.6,1188.1 2006.4,1200.5 2008.1,1214.6 2009.8,1230.2 2011.5,1246.9 2013.2,1264.7 2015.0,1283.2 2016.7,1302.3 2018.4,1321.7 2020.1,1341.2 2021.8,1360.7 2023.5,1380.1 2025.3,1399.2 2027.0,1417.9 2028.7,1436.2 2030.4,1453.9 2032.1,1471.0 2033.9,1487.6 2035.6,1503.5 2037.3,1518.8 2039.0,1533.4 2040.7,1547.3 2042.4,1560.6 2044.2,1573.3 2045.9,1585.4 2047.6,1596.8 2049.3,1607.7 2051.0,1618.0 2052.8,1627.8 2054.5,1637.1 2056.2,1645.8 2057.9,1654.1 2059.6,1662.0 2061.3,1669.4 2063.1,1676.4 2064.8,1683.0 2066.5,1689.3 2068.2,1695.2 2069.9,1700.8 2071.7,1706.0 2073.4,1711.0 2075.1,1715.7 2076.8,1720.1 2078.5,1724.3 2080.2,1728.3 2082.0,1732.0 2083.7,1735.5 2085.4,1738.8 2087.1,1741.9 2088.8,1744.9 2090.6,1747.6 2092.3,1750.3 2094.0,1752.7 2095.7,1755.1 2097.4,1757.3 2099.1,1759.3 2100.9,1761.3 2102.6,1763.1 2104.3,1764.8 2106.0,1766.5 2107.7,1768.0 2109.5,1769.4 2111.2,1770.8 2112.9,1772.1 2114.6,1773.3 2116.3,1774.4 2118.0,1775.5 2119.8,1776.5 2121.5,1777.4 2123.2,1778.3 2124.9,1779.1 2126.6,1779.9 2128.4,1780.6 2130.1,1781.3 2131.8,1781.9 2133.5,1782.5 2135.2,1783.1 2136.9,1783.6 2138.7,1784.1 2140.4,1784.6 2142.1,1785.0 2143.8,1785.5 2145.5,1785.8 2147.2,1786.2 2149.0,1786.5 2150.7,1786.8 2152.4,1787.1 2154.1,1787.4 2155.8,1787.7 2157.6,1787.9 2159.3,1788.1 2161.0,1788.3 2162.7,1788.5 2164.4,1788.7 2166.1,1788.9 2167.9,1789.0 2169.6,1789.2 2171.3,1789.3 2173.0,1789.5 2174.7,1789.6 2176.5,1789.7 2178.2,1789.8 2179.9,1789.9 2181.6,1790.0 2183.3,1790.1 2185.0,1790.1 2186.8,1790.2 2188.5,1790.3 2190.2,1790.3 2191.9,1790.4 2193.6,1790.5 2195.4,1790.5 2197.1,1790.6 2198.8,1790.6 2200.5,1790.6 2202.2,1790.7 2203.9,1790.7 2205.7,1790.7 2207.4,1790.8 2209.1,1790.8 2210.8,1790.8 2212.5,1790.9 2214.3,1790.9 2216.0,1790.9 2217.7,1790.9 2219.4,1790.9 2221.1,1791.0 2222.8,1791.0 2224.6,1791.0 2226.3,1791.0 2228.0,1791.0 2229.7,1791.0 2231.4,1791.0 2233.2,1791.0 2234.9,1791.1 2236.6,1791.1 2238.3,1791.1 2240.0,1791.1 2241.7,1791.1 2243.5,1791.1 2245.2,1791.1 2246.9,1791.1 2248.6,1791.1 2250.3,1791.1 2252.1,1791.1 2253.8,1791.1 2255.5,1791.1 2257.2,1791.2 2258.9,1791.2 2260.6,1791.2 2262.4,1791.2 2264.1,1791.2 2265.8,1791.2 2267.5,1791.2 2269.2,1791.2 2271.0,1791.2 2272.7,1791.2 2274.4,1791.2 2276.1,1791.2 2277.8,1791.2 2279.5,1791.2 2281.3,1791.2 2283.0,1791.2 2284.7,1791.2 2286.4,1791.2 2288.1,1791.2 2289.9,1791.2 2291.6,1791.2 2293.3,1791.2 2295.0,1791.2 2296.7,1791.2 2298.4,1791.3 2300.2,1791.3 2301.9,1791.3 2303.6,1791.3 2305.3,1791.3 2307.0,1791.3 2308.8,1791.3 2310.5,1791.3 2312.2,1791.3 2313.9,1791.3 2315.6,1791.3 2317.3,1791.3 2319.1,1791.3 2320.8,1791.3 2322.5,1791.3 2324.2,1791.3 2325.9,1791.3 2327.7,1791.3 2329.4,1791.3 2331.1,1791.3 2332.8,1791.3 2334.5,1791.3 2336.2,1791.3 2338.0,1791.3 2339.7,1791.3 2341.4,1791.3 2343.1,1791.3 2344.8,1791.3 2346.5,1791.4 2348.3,1791.4 2350.0,1791.4 2351.7,1791.4 2353.4,1791.4 2355.1,1791.4 2356.9,1791.4 2358.6,1791.4 2360.3,1791.4 2362.0,1791.4 2363.7,1791.4 2365.4,1791.4 2367.2,1791.4 2368.9,1791.4 2370.6,1791.4 2372.3,1791.4 2374.0,1791.4 2375.8,1791.4 2377.5,1791.4 2379.2,1791.4 2380.9,1791.4 2382.6,1791.4 2384.3,1791.4 2386.1,1791.4 2387.8,1791.4 2389.5,1791.4 2391.2,1791.4 2392.9,1791.4 2394.7,1791.4 2396.4,1791.5 2398.1,1791.5 2399.8,1791.5 2401.5,1791.5 2403.2,1791.5 2405.0,1791.5 2406.7,1791.5 2408.4,1791.5 2410.1,1791.5 2411.8,1791.5 2413.6,1791.5 2415.3,1791.5 2417.0,1791.5 2418.7,1791.5 2420.4,1791.5 2422.1,1791.5 2423.9,1791.5 2425.6,1791.5" fill="none" stroke="#f5323c" stroke-width="2.8" stroke-linejoin="round" stroke-linecap="butt" />
<polyline points="1420.5,1789.5 1422.2,1789.5 1423.9,1789.5 1425.6,1789.5 1427.4,1789.5 1429.1,1789.5 1430.8,1789.5 1432.5,1789.5 1434.2,1789.5 1436.0,1789.5 1437.7,1789.5 1439.4,1789.5 1441.1,1789.5 1442.8,1789.5 1444.5,1789.5 1446.3,1789.5 1448.0,1789.6 1449.7,1789.6 1451.4,1789.6 1453.1,1789.6 1454.9,1789.6 1456.6,1789.6 1458.3,1789.6 1460.0,1789.6 1461.7,1789.6 1463.4,1789.6 1465.2,1789.6 1466.9,1789.6 1468.6,1789.6 1470.3,1789.6 1472.0,1789.6 1473.8,1789.6 1475.5,1789.6 1477.2,1789.6 1478.9,1789.6 1480.6,1789.6 1482.3,1789.6 1484.1,1789.6 1485.8,1789.6 1487.5,1789.6 1489.2,1789.6 1490.9,1789.6 1492.7,1789.6 1494.4,1789.6 1496.1,1789.6 1497.8,1789.7 1499.5,1789.7 1501.2,1789.7 1503.0,1789.7 1504.7,1789.7 1506.4,1789.7 1508.1,1789.7 1509.8,1789.7 1511.6,1789.7 1513.3,1789.7 1515.0,1789.7 1516.7,1789.7 1518.4,1789.7 1520.1,1789.7 1521.9,1789.7 1523.6,1789.7 1525.3,1789.7 1527.0,1789.7 1528.7,1789.7 1530.5,1789.7 1532.2,1789.7 1533.9,1789.7 1535.6,1789.7 1537.3,1789.7 1539.0,1789.7 1540.8,1789.7 1542.5,1789.7 1544.2,1789.7 1545.9,1789.7 1547.6,1789.8 1549.4,1789.8 1551.1,1789.8 1552.8,1789.8 1554.5,1789.8 1556.2,1789.8 1557.9,1789.8 1559.7,1789.8 1561.4,1789.8 1563.1,1789.8 1564.8,1789.8 1566.5,1789.8 1568.3,1789.8 1570.0,1789.8 1571.7,1789.8 1573.4,1789.8 1575.1,1789.8 1576.8,1789.8 1578.6,1789.8 1580.3,1789.8 1582.0,1789.8 1583.7,1789.8 1585.4,1789.8 1587.1,1789.8 1588.9,1789.8 1590.6,1789.8 1592.3,1789.8 1594.0,1789.8 1595.7,1789.8 1597.5,1789.9 1599.2,1789.9 1600.9,1789.9 1602.6,1789.9 1604.3,1789.9 1606.0,1789.9 1607.8,1789.9 1609.5,1789.9 1611.2,1789.9 1612.9,1789.9 1614.6,1789.9 1616.4,1789.9 1618.1,1789.9 1619.8,1789.9 1621.5,1789.9 1623.2,1789.9 1624.9,1789.9 1626.7,1789.9 1628.4,1789.9 1630.1,1789.9 1631.8,1789.9 1633.5,1789.9 1635.3,1789.9 1637.0,1789.9 1638.7,1789.9 1640.4,1789.9 1642.1,1789.9 1643.8,1789.9 1645.6,1789.9 1647.3,1790.0 1649.0,1790.0 1650.7,1790.0 1652.4,1790.0 1654.2,1790.0 1655.9,1790.0 1657.6,1790.0 1659.3,1790.0 1661.0,1790.0 1662.7,1790.0 1664.5,1790.0 1666.2,1790.0 1667.9,1790.0 1669.6,1790.0 1671.3,1790.0 1673.1,1790.0 1674.8,1790.0 1676.5,1790.0 1678.2,1790.0 1679.9,1790.0 1681.6,1790.0 1683.4,1790.0 1685.1,1790.0 1686.8,1790.0 1688.5,1790.0 1690.2,1790.0 1692.0,1790.0 1693.7,1790.0 1695.4,1790.0 1697.1,1790.0 1698.8,1790.1 1700.5,1790.1 1702.3,1790.1 1704.0,1790.1 1705.7,1790.1 1707.4,1790.1 1709.1,1790.1 1710.9,1790.1 1712.6,1790.1 1714.3,1790.1 1716.0,1790.1 1717.7,1790.1 1719.4,1790.1 1721.2,1790.1 1722.9,1790.1 1724.6,1790.1 1726.3,1790.1 1728.0,1790.1 1729.8,1790.1 1731.5,1790.1 1733.2,1790.1 1734.9,1790.1 1736.6,1790.1 1738.3,1790.1 1740.1,1790.1 1741.8,1790.1 1743.5,1790.1 1745.2,1790.1 1746.9,1790.1 1748.7,1790.2 1750.4,1790.2 1752.1,1790.2 1753.8,1790.2 1755.5,1790.2 1757.2,1790.2 1759.0,1790.2 1760.7,1790.2 1762.4,1790.2 1764.1,1790.2 1765.8,1790.2 1767.5,1790.2 1769.3,1790.2 1771.0,1790.2 1772.7,1790.2 1774.4,1790.2 1776.1,1790.2 1777.9,1790.2 1779.6,1790.2 1781.3,1790.2 1783.0,1790.2 1784.7,1790.2 1786.4,1790.2 1788.2,1790.2 1789.9,1790.2 1791.6,1790.2 1793.3,1790.2 1795.0,1790.2 1796.8,1790.2 1798.5,1790.3 1800.2,1790.3 1801.9,1790.3 1803.6,1790.3 1805.3,1790.3 1807.1,1790.3 1808.8,1790.3 1810.5,1790.3 1812.2,1790.3 1813.9,1790.3 1815.7,1790.3 1817.4,1790.3 1819.1,1790.3 1820.8,1790.3 1822.5,1790.3 1824.2,1790.3 1826.0,1790.3 1827.7,1790.3 1829.4,1790.3 1831.1,1790.3 1832.8,1790.3 1834.6,1790.3 1836.3,1790.3 1838.0,1790.3 1839.7,1790.3 1841.4,1790.3 1843.1,1790.3 1844.9,1790.3 1846.6,1790.3 1848.3,1790.4 1850.0,1790.4 1851.7,1790.4 1853.5,1790.4 1855.2,1790.4 1856.9,1790.4 1858.6,1790.4 1860.3,1790.4 1862.0,1790.4 1863.8,1790.4 1865.5,1790.4 1867.2,1790.4 1868.9,1790.4 1870.6,1790.4 1872.4,1790.4 1874.1,1790.4 1875.8,1790.4 1877.5,1790.4 1879.2,1790.4 1880.9,1790.4 1882.7,1790.4 1884.4,1790.4 1886.1,1790.4 1887.8,1790.4 1889.5,1790.4 1891.3,1790.4 1893.0,1790.4 1894.7,1790.4 1896.4,1790.4 1898.1,1790.5 1899.8,1790.5 1901.6,1790.5 1903.3,1790.5 1905.0,1790.5 1906.7,1790.5 1908.4,1790.5 1910.2,1790.5 1911.9,1790.5 1913.6,1790.5 1915.3,1790.5 1917.0,1790.5 1918.7,1790.5 1920.5,1790.5 1922.2,1790.5 1923.9,1790.5 1925.6,1790.5 1927.3,1790.5 1929.1,1790.5 1930.8,1790.5 1932.5,1790.5 1934.2,1790.5 1935.9,1790.5 1937.6,1790.5 1939.4,1790.5 1941.1,1790.5 1942.8,1790.5 1944.5,1790.5 1946.2,1790.5 1948.0,1790.6 1949.7,1790.6 1951.4,1790.6 1953.1,1790.6 1954.8,1790.6 1956.5,1790.6 1958.3,1790.6 1960.0,1790.6 1961.7,1790.6 1963.4,1790.6 1965.1,1790.6 1966.8,1790.6 1968.6,1790.6 1970.3,1790.6 1972.0,1790.6 1973.7,1790.6 1975.4,1790.6 1977.2,1790.6 1978.9,1790.6 1980.6,1790.6 1982.3,1790.6 1984.0,1790.6 1985.7,1790.6 1987.5,1790.6 1989.2,1790.6 1990.9,1790.6 1992.6,1790.6 1994.3,1790.6 1996.1,1790.6 1997.8,1790.7 1999.5,1790.7 2001.2,1790.7 2002.9,1790.7 2004.6,1790.7 2006.4,1790.7 2008.1,1790.7 2009.8,1790.7 2011.5,1790.7 2013.2,1790.7 2015.0,1790.7 2016.7,1790.7 2018.4,1790.7 2020.1,1790.7 2021.8,1790.7 2023.5,1790.7 2025.3,1790.7 2027.0,1790.7 2028.7,1790.7 2030.4,1790.7 2032.1,1790.7 2033.9,1790.7 2035.6,1790.7 2037.3,1790.7 2039.0,1790.7 2040.7,1790.7 2042.4,1790.7 2044.2,1790.7 2045.9,1790.7 2047.6,1790.8 2049.3,1790.8 2051.0,1790.8 2052.8,1790.8 2054.5,1790.8 2056.2,1790.8 2057.9,1790.8 2059.6,1790.8 2061.3,1790.8 2063.1,1790.8 2064.8,1790.8 2066.5,1790.8 2068.2,1790.8 2069.9,1790.8 2071.7,1790.8 2073.4,1790.8 2075.1,1790.8 2076.8,1790.8 2078.5,1790.8 2080.2,1790.8 2082.0,1790.8 2083.7,1790.8 2085.4,1790.8 2087.1,1790.8 2088.8,1790.8 2090.6,1790.8 2092.3,1790.8 2094.0,1790.8 2095.7,1790.8 2097.4,1790.9 2099.1,1790.9 2100.9,1790.9 2102.6,1790.9 2104.3,1790.9 2106.0,1790.9 2107.7,1790.9 2109.5,1790.9 2111.2,1790.9 2112.9,1790.9 2114.6,1790.9 2116.3,1790.9 2118.0,1790.9 2119.8,1790.9 2121.5,1790.9 2123.2,1790.9 2124.9,1790.9 2126.6,1790.9 2128.4,1790.9 2130.1,1790.9 2131.8,1790.9 2133.5,1790.9 2135.2,1790.9 2136.9,1790.9 2138.7,1790.9 2140.4,1790.9 2142.1,1790.9 2143.8,1790.9 2145.5,1790.9 2147.2,1791.0 2149.0,1791.0 2150.7,1791.0 2152.4,1791.0 2154.1,1791.0 2155.8,1791.0 2157.6,1791.0 2159.3,1791.0 2161.0,1791.0 2162.7,1791.0 2164.4,1791.0 2166.1,1791.0 2167.9,1791.0 2169.6,1791.0 2171.3,1791.0 2173.0,1791.0 2174.7,1791.0 2176.5,1791.0 2178.2,1791.0 2179.9,1791.0 2181.6,1791.0 2183.3,1791.0 2185.0,1791.0 2186.8,1791.0 2188.5,1791.0 2190.2,1791.0 2191.9,1791.0 2193.6,1791.0 2195.4,1791.0 2197.1,1791.1 2198.8,1791.1 2200.5,1791.1 2202.2,1791.1 2203.9,1791.1 2205.7,1791.1 2207.4,1791.1 2209.1,1791.1 2210.8,1791.1 2212.5,1791.1 2214.3,1791.1 2216.0,1791.1 2217.7,1791.1 2219.4,1791.1 2221.1,1791.1 2222.8,1791.1 2224.6,1791.1 2226.3,1791.1 2228.0,1791.1 2229.7,1791.1 2231.4,1791.1 2233.2,1791.1 2234.9,1791.1 2236.6,1791.1 2238.3,1791.1 2240.0,1791.1 2241.7,1791.1 2243.5,1791.1 2245.2,1791.1 2246.9,1791.2 2248.6,1791.2 2250.3,1791.2 2252.1,1791.2 2253.8,1791.2 2255.5,1791.2 2257.2,1791.2 2258.9,1791.2 2260.6,1791.2 2262.4,1791.2 2264.1,1791.2 2265.8,1791.2 2267.5,1791.2 2269.2,1791.2 2271.0,1791.2 2272.7,1791.2 2274.4,1791.2 2276.1,1791.2 2277.8,1791.2 2279.5,1791.2 2281.3,1791.2 2283.0,1791.2 2284.7,1791.2 2286.4,1791.2 2288.1,1791.2 2289.9,1791.2 2291.6,1791.2 2293.3,1791.2 2295.0,1791.2 2296.7,1791.3 2298.4,1791.3 2300.2,1791.3 2301.9,1791.3 2303.6,1791.3 2305.3,1791.3 2307.0,1791.3 2308.8,1791.3 2310.5,1791.3 2312.2,1791.3 2313.9,1791.3 2315.6,1791.3 2317.3,1791.3 2319.1,1791.3 2320.8,1791.3 2322.5,1791.3 2324.2,1791.3 2325.9,1791.3 2327.7,1791.3 2329.4,1791.3 2331.1,1791.3 2332.8,1791.3 2334.5,1791.3 2336.2,1791.3 2338.0,1791.3 2339.7,1791.3 2341.4,1791.3 2343.1,1791.3 2344.8,1791.3 2346.5,1791.4 2348.3,1791.4 2350.0,1791.4 2351.7,1791.4 2353.4,1791.4 2355.1,1791.4 2356.9,1791.4 2358.6,1791.4 2360.3,1791.4 2362.0,1791.4 2363.7,1791.4 2365.4,1791.4 2367.2,1791.4 2368.9,1791.4 2370.6,1791.4 2372.3,1791.4 2374.0,1791.4 2375.8,1791.4 2377.5,1791.4 2379.2,1791.4 2380.9,1791.4 2382.6,1791.4 2384.3,1791.4 2386.1,1791.4 2387.8,1791.4 2389.5,1791.4 2391.2,1791.4 2392.9,1791.4 2394.7,1791.4 2396.4,1791.5 2398.1,1791.5 2399.8,1791.5 2401.5,1791.5 2403.2,1791.5 2405.0,1791.5 2406.7,1791.5 2408.4,1791.5 2410.1,1791.5 2411.8,1791.5 2413.6,1791.5 2415.3,1791.5 2417.0,1791.5 2418.7,1791.5 2420.4,1791.5 2422.1,1791.5 2423.9,1791.5 2425.6,1791.5" fill="none" stroke="#1a6fdf" stroke-width="3" stroke-linejoin="round" stroke-linecap="butt" />
<polyline points="1420.5,1787.0 1422.2,1786.9 1423.9,1786.8 1425.6,1786.8 1427.4,1786.7 1429.1,1786.6 1430.8,1786.5 1432.5,1786.3 1434.2,1786.2 1436.0,1786.1 1437.7,1786.0 1439.4,1785.9 1441.1,1785.8 1442.8,1785.6 1444.5,1785.5 1446.3,1785.3 1448.0,1785.2 1449.7,1785.1 1451.4,1784.9 1453.1,1784.7 1454.9,1784.6 1456.6,1784.4 1458.3,1784.2 1460.0,1784.0 1461.7,1783.9 1463.4,1783.7 1465.2,1783.5 1466.9,1783.2 1468.6,1783.0 1470.3,1782.8 1472.0,1782.6 1473.8,1782.3 1475.5,1782.1 1477.2,1781.8 1478.9,1781.6 1480.6,1781.3 1482.3,1781.0 1484.1,1780.7 1485.8,1780.4 1487.5,1780.1 1489.2,1779.8 1490.9,1779.5 1492.7,1779.1 1494.4,1778.8 1496.1,1778.4 1497.8,1778.0 1499.5,1777.6 1501.2,1777.2 1503.0,1776.8 1504.7,1776.4 1506.4,1776.0 1508.1,1775.5 1509.8,1775.0 1511.6,1774.5 1513.3,1774.0 1515.0,1773.5 1516.7,1773.0 1518.4,1772.4 1520.1,1771.8 1521.9,1771.2 1523.6,1770.6 1525.3,1770.0 1527.0,1769.3 1528.7,1768.7 1530.5,1768.0 1532.2,1767.2 1533.9,1766.5 1535.6,1765.7 1537.3,1764.9 1539.0,1764.1 1540.8,1763.2 1542.5,1762.4 1544.2,1761.4 1545.9,1760.5 1547.6,1759.5 1549.4,1758.5 1551.1,1757.5 1552.8,1756.4 1554.5,1755.3 1556.2,1754.2 1557.9,1753.0 1559.7,1751.7 1561.4,1750.5 1563.1,1749.2 1564.8,1747.8 1566.5,1746.4 1568.3,1745.0 1570.0,1743.5 1571.7,1741.9 1573.4,1740.3 1575.1,1738.7 1576.8,1737.0 1578.6,1735.2 1580.3,1733.4 1582.0,1731.5 1583.7,1729.6 1585.4,1727.6 1587.1,1725.5 1588.9,1723.4 1590.6,1721.2 1592.3,1718.9 1594.0,1716.6 1595.7,1714.2 1597.5,1711.7 1599.2,1709.2 1600.9,1706.6 1602.6,1703.9 1604.3,1701.1 1606.0,1698.3 1607.8,1695.4 1609.5,1692.4 1611.2,1689.3 1612.9,1686.2 1614.6,1683.0 1616.4,1679.8 1618.1,1676.5 1619.8,1673.1 1621.5,1669.7 1623.2,1666.2 1624.9,1662.7 1626.7,1659.1 1628.4,1655.6 1630.1,1652.0 1631.8,1648.4 1633.5,1644.8 1635.3,1641.2 1637.0,1637.6 1638.7,1634.1 1640.4,1630.6 1642.1,1627.2 1643.8,1623.9 1645.6,1620.7 1647.3,1617.6 1649.0,1614.6 1650.7,1611.8 1652.4,1609.2 1654.2,1606.7 1655.9,1604.4 1657.6,1602.4 1659.3,1600.5 1661.0,1598.9 1662.7,1597.6 1664.5,1596.6 1666.2,1595.8 1667.9,1595.2 1669.6,1595.0 1671.3,1595.1 1673.1,1595.4 1674.8,1596.0 1676.5,1596.9 1678.2,1598.1 1679.9,1599.5 1681.6,1601.2 1683.4,1603.1 1685.1,1605.2 1686.8,1607.6 1688.5,1610.1 1690.2,1612.8 1692.0,1615.7 1693.7,1618.7 1695.4,1621.9 1697.1,1625.1 1698.8,1628.5 1700.5,1631.9 1702.3,1635.4 1704.0,1638.9 1705.7,1642.5 1707.4,1646.1 1709.1,1649.7 1710.9,1653.3 1712.6,1656.9 1714.3,1660.5 1716.0,1664.0 1717.7,1667.6 1719.4,1671.0 1721.2,1674.4 1722.9,1677.8 1724.6,1681.1 1726.3,1684.3 1728.0,1687.5 1729.8,1690.6 1731.5,1693.6 1733.2,1696.6 1734.9,1699.5 1736.6,1702.3 1738.3,1705.1 1740.1,1707.7 1741.8,1710.3 1743.5,1712.8 1745.2,1715.3 1746.9,1717.7 1748.7,1720.0 1750.4,1722.3 1752.1,1724.4 1753.8,1726.5 1755.5,1728.6 1757.2,1730.6 1759.0,1732.5 1760.7,1734.4 1762.4,1736.2 1764.1,1737.9 1765.8,1739.6 1767.5,1741.2 1769.3,1742.8 1771.0,1744.4 1772.7,1745.9 1774.4,1747.3 1776.1,1748.7 1777.9,1750.0 1779.6,1751.3 1781.3,1752.6 1783.0,1753.8 1784.7,1755.0 1786.4,1756.1 1788.2,1757.2 1789.9,1758.3 1791.6,1759.4 1793.3,1760.4 1795.0,1761.3 1796.8,1762.3 1798.5,1763.2 1800.2,1764.1 1801.9,1764.9 1803.6,1765.7 1805.3,1766.5 1807.1,1767.3 1808.8,1768.0 1810.5,1768.8 1812.2,1769.5 1813.9,1770.1 1815.7,1770.8 1817.4,1771.4 1819.1,1772.0 1820.8,1772.6 1822.5,1773.2 1824.2,1773.8 1826.0,1774.3 1827.7,1774.8 1829.4,1775.3 1831.1,1775.8 1832.8,1776.3 1834.6,1776.8 1836.3,1777.2 1838.0,1777.6 1839.7,1778.1 1841.4,1778.5 1843.1,1778.9 1844.9,1779.2 1846.6,1779.6 1848.3,1780.0 1850.0,1780.3 1851.7,1780.6 1853.5,1781.0 1855.2,1781.3 1856.9,1781.6 1858.6,1781.9 1860.3,1782.2 1862.0,1782.4 1863.8,1782.7 1865.5,1783.0 1867.2,1783.2 1868.9,1783.4 1870.6,1783.7 1872.4,1783.9 1874.1,1784.1 1875.8,1784.3 1877.5,1784.6 1879.2,1784.8 1880.9,1784.9 1882.7,1785.1 1884.4,1785.3 1886.1,1785.5 1887.8,1785.7 1889.5,1785.8 1891.3,1786.0 1893.0,1786.1 1894.7,1786.3 1896.4,1786.4 1898.1,1786.6 1899.8,1786.7 1901.6,1786.9 1903.3,1787.0 1905.0,1787.1 1906.7,1787.2 1908.4,1787.3 1910.2,1787.5 1911.9,1787.6 1913.6,1787.7 1915.3,1787.8 1917.0,1787.9 1918.7,1788.0 1920.5,1788.1 1922.2,1788.1 1923.9,1788.2 1925.6,1788.3 1927.3,1788.4 1929.1,1788.5 1930.8,1788.6 1932.5,1788.6 1934.2,1788.7 1935.9,1788.8 1937.6,1788.8 1939.4,1788.9 1941.1,1789.0 1942.8,1789.0 1944.5,1789.1 1946.2,1789.1 1948.0,1789.2 1949.7,1789.2 1951.4,1789.3 1953.1,1789.3 1954.8,1789.4 1956.5,1789.4 1958.3,1789.5 1960.0,1789.5 1961.7,1789.6 1963.4,1789.6 1965.1,1789.7 1966.8,1789.7 1968.6,1789.7 1970.3,1789.8 1972.0,1789.8 1973.7,1789.8 1975.4,1789.9 1977.2,1789.9 1978.9,1789.9 1980.6,1790.0 1982.3,1790.0 1984.0,1790.0 1985.7,1790.0 1987.5,1790.1 1989.2,1790.1 1990.9,1790.1 1992.6,1790.1 1994.3,1790.2 1996.1,1790.2 1997.8,1790.2 1999.5,1790.2 2001.2,1790.3 2002.9,1790.3 2004.6,1790.3 2006.4,1790.3 2008.1,1790.3 2009.8,1790.3 2011.5,1790.4 2013.2,1790.4 2015.0,1790.4 2016.7,1790.4 2018.4,1790.4 2020.1,1790.4 2021.8,1790.5 2023.5,1790.5 2025.3,1790.5 2027.0,1790.5 2028.7,1790.5 2030.4,1790.5 2032.1,1790.5 2033.9,1790.5 2035.6,1790.6 2037.3,1790.6 2039.0,1790.6 2040.7,1790.6 2042.4,1790.6 2044.2,1790.6 2045.9,1790.6 2047.6,1790.6 2049.3,1790.6 2051.0,1790.6 2052.8,1790.6 2054.5,1790.7 2056.2,1790.7 2057.9,1790.7 2059.6,1790.7 2061.3,1790.7 2063.1,1790.7 2064.8,1790.7 2066.5,1790.7 2068.2,1790.7 2069.9,1790.7 2071.7,1790.7 2073.4,1790.7 2075.1,1790.7 2076.8,1790.8 2078.5,1790.8 2080.2,1790.8 2082.0,1790.8 2083.7,1790.8 2085.4,1790.8 2087.1,1790.8 2088.8,1790.8 2090.6,1790.8 2092.3,1790.8 2094.0,1790.8 2095.7,1790.8 2097.4,1790.8 2099.1,1790.8 2100.9,1790.8 2102.6,1790.8 2104.3,1790.8 2106.0,1790.8 2107.7,1790.8 2109.5,1790.9 2111.2,1790.9 2112.9,1790.9 2114.6,1790.9 2116.3,1790.9 2118.0,1790.9 2119.8,1790.9 2121.5,1790.9 2123.2,1790.9 2124.9,1790.9 2126.6,1790.9 2128.4,1790.9 2130.1,1790.9 2131.8,1790.9 2133.5,1790.9 2135.2,1790.9 2136.9,1790.9 2138.7,1790.9 2140.4,1790.9 2142.1,1790.9 2143.8,1790.9 2145.5,1790.9 2147.2,1790.9 2149.0,1790.9 2150.7,1791.0 2152.4,1791.0 2154.1,1791.0 2155.8,1791.0 2157.6,1791.0 2159.3,1791.0 2161.0,1791.0 2162.7,1791.0 2164.4,1791.0 2166.1,1791.0 2167.9,1791.0 2169.6,1791.0 2171.3,1791.0 2173.0,1791.0 2174.7,1791.0 2176.5,1791.0 2178.2,1791.0 2179.9,1791.0 2181.6,1791.0 2183.3,1791.0 2185.0,1791.0 2186.8,1791.0 2188.5,1791.0 2190.2,1791.0 2191.9,1791.0 2193.6,1791.0 2195.4,1791.0 2197.1,1791.1 2198.8,1791.1 2200.5,1791.1 2202.2,1791.1 2203.9,1791.1 2205.7,1791.1 2207.4,1791.1 2209.1,1791.1 2210.8,1791.1 2212.5,1791.1 2214.3,1791.1 2216.0,1791.1 2217.7,1791.1 2219.4,1791.1 2221.1,1791.1 2222.8,1791.1 2224.6,1791.1 2226.3,1791.1 2228.0,1791.1 2229.7,1791.1 2231.4,1791.1 2233.2,1791.1 2234.9,1791.1 2236.6,1791.1 2238.3,1791.1 2240.0,1791.1 2241.7,1791.1 2243.5,1791.1 2245.2,1791.1 2246.9,1791.2 2248.6,1791.2 2250.3,1791.2 2252.1,1791.2 2253.8,1791.2 2255.5,1791.2 2257.2,1791.2 2258.9,1791.2 2260.6,1791.2 2262.4,1791.2 2264.1,1791.2 2265.8,1791.2 2267.5,1791.2 2269.2,1791.2 2271.0,1791.2 2272.7,1791.2 2274.4,1791.2 2276.1,1791.2 2277.8,1791.2 2279.5,1791.2 2281.3,1791.2 2283.0,1791.2 2284.7,1791.2 2286.4,1791.2 2288.1,1791.2 2289.9,1791.2 2291.6,1791.2 2293.3,1791.2 2295.0,1791.2 2296.7,1791.3 2298.4,1791.3 2300.2,1791.3 2301.9,1791.3 2303.6,1791.3 2305.3,1791.3 2307.0,1791.3 2308.8,1791.3 2310.5,1791.3 2312.2,1791.3 2313.9,1791.3 2315.6,1791.3 2317.3,1791.3 2319.1,1791.3 2320.8,1791.3 2322.5,1791.3 2324.2,1791.3 2325.9,1791.3 2327.7,1791.3 2329.4,1791.3 2331.1,1791.3 2332.8,1791.3 2334.5,1791.3 2336.2,1791.3 2338.0,1791.3 2339.7,1791.3 2341.4,1791.3 2343.1,1791.3 2344.8,1791.3 2346.5,1791.4 2348.3,1791.4 2350.0,1791.4 2351.7,1791.4 2353.4,1791.4 2355.1,1791.4 2356.9,1791.4 2358.6,1791.4 2360.3,1791.4 2362.0,1791.4 2363.7,1791.4 2365.4,1791.4 2367.2,1791.4 2368.9,1791.4 2370.6,1791.4 2372.3,1791.4 2374.0,1791.4 2375.8,1791.4 2377.5,1791.4 2379.2,1791.4 2380.9,1791.4 2382.6,1791.4 2384.3,1791.4 2386.1,1791.4 2387.8,1791.4 2389.5,1791.4 2391.2,1791.4 2392.9,1791.4 2394.7,1791.4 2396.4,1791.5 2398.1,1791.5 2399.8,1791.5 2401.5,1791.5 2403.2,1791.5 2405.0,1791.5 2406.7,1791.5 2408.4,1791.5 2410.1,1791.5 2411.8,1791.5 2413.6,1791.5 2415.3,1791.5 2417.0,1791.5 2418.7,1791.5 2420.4,1791.5 2422.1,1791.5 2423.9,1791.5 2425.6,1791.5" fill="none" stroke="#00a45f" stroke-width="3.2" stroke-linejoin="round" stroke-linecap="butt" />
<polyline points="1420.5,1789.5 1422.2,1789.5 1423.9,1789.5 1425.6,1789.5 1427.4,1789.5 1429.1,1789.5 1430.8,1789.5 1432.5,1789.5 1434.2,1789.5 1436.0,1789.5 1437.7,1789.5 1439.4,1789.5 1441.1,1789.5 1442.8,1789.5 1444.5,1789.5 1446.3,1789.5 1448.0,1789.6 1449.7,1789.6 1451.4,1789.6 1453.1,1789.6 1454.9,1789.6 1456.6,1789.6 1458.3,1789.6 1460.0,1789.6 1461.7,1789.6 1463.4,1789.6 1465.2,1789.6 1466.9,1789.6 1468.6,1789.6 1470.3,1789.6 1472.0,1789.6 1473.8,1789.6 1475.5,1789.6 1477.2,1789.6 1478.9,1789.6 1480.6,1789.6 1482.3,1789.6 1484.1,1789.6 1485.8,1789.6 1487.5,1789.6 1489.2,1789.6 1490.9,1789.6 1492.7,1789.6 1494.4,1789.6 1496.1,1789.6 1497.8,1789.7 1499.5,1789.7 1501.2,1789.7 1503.0,1789.7 1504.7,1789.7 1506.4,1789.7 1508.1,1789.7 1509.8,1789.7 1511.6,1789.7 1513.3,1789.7 1515.0,1789.7 1516.7,1789.7 1518.4,1789.7 1520.1,1789.7 1521.9,1789.7 1523.6,1789.7 1525.3,1789.7 1527.0,1789.7 1528.7,1789.7 1530.5,1789.7 1532.2,1789.7 1533.9,1789.7 1535.6,1789.7 1537.3,1789.7 1539.0,1789.7 1540.8,1789.7 1542.5,1789.7 1544.2,1789.7 1545.9,1789.7 1547.6,1789.8 1549.4,1789.8 1551.1,1789.8 1552.8,1789.8 1554.5,1789.8 1556.2,1789.8 1557.9,1789.8 1559.7,1789.8 1561.4,1789.8 1563.1,1789.8 1564.8,1789.8 1566.5,1789.8 1568.3,1789.8 1570.0,1789.8 1571.7,1789.8 1573.4,1789.8 1575.1,1789.8 1576.8,1789.8 1578.6,1789.8 1580.3,1789.8 1582.0,1789.8 1583.7,1789.8 1585.4,1789.8 1587.1,1789.8 1588.9,1789.8 1590.6,1789.8 1592.3,1789.8 1594.0,1789.8 1595.7,1789.8 1597.5,1789.9 1599.2,1789.9 1600.9,1789.9 1602.6,1789.9 1604.3,1789.9 1606.0,1789.9 1607.8,1789.9 1609.5,1789.9 1611.2,1789.9 1612.9,1789.9 1614.6,1789.9 1616.4,1789.9 1618.1,1789.9 1619.8,1789.9 1621.5,1789.9 1623.2,1789.9 1624.9,1789.9 1626.7,1789.9 1628.4,1789.9 1630.1,1789.9 1631.8,1789.9 1633.5,1789.9 1635.3,1789.9 1637.0,1789.9 1638.7,1789.9 1640.4,1789.9 1642.1,1789.9 1643.8,1789.9 1645.6,1789.9 1647.3,1790.0 1649.0,1790.0 1650.7,1790.0 1652.4,1790.0 1654.2,1790.0 1655.9,1790.0 1657.6,1790.0 1659.3,1790.0 1661.0,1790.0 1662.7,1790.0 1664.5,1790.0 1666.2,1790.0 1667.9,1790.0 1669.6,1790.0 1671.3,1790.0 1673.1,1790.0 1674.8,1790.0 1676.5,1790.0 1678.2,1790.0 1679.9,1790.0 1681.6,1790.0 1683.4,1790.0 1685.1,1790.0 1686.8,1790.0 1688.5,1790.0 1690.2,1790.0 1692.0,1790.0 1693.7,1790.0 1695.4,1790.0 1697.1,1790.0 1698.8,1790.1 1700.5,1790.1 1702.3,1790.1 1704.0,1790.1 1705.7,1790.1 1707.4,1790.1 1709.1,1790.1 1710.9,1790.1 1712.6,1790.1 1714.3,1790.1 1716.0,1790.1 1717.7,1790.1 1719.4,1790.1 1721.2,1790.1 1722.9,1790.1 1724.6,1790.1 1726.3,1790.1 1728.0,1790.1 1729.8,1790.1 1731.5,1790.1 1733.2,1790.1 1734.9,1790.1 1736.6,1790.1 1738.3,1790.1 1740.1,1790.1 1741.8,1790.1 1743.5,1790.1 1745.2,1790.1 1746.9,1790.1 1748.7,1790.1 1750.4,1790.1 1752.1,1790.1 1753.8,1790.1 1755.5,1790.1 1757.2,1790.1 1759.0,1790.1 1760.7,1790.1 1762.4,1790.1 1764.1,1790.1 1765.8,1790.1 1767.5,1790.1 1769.3,1790.1 1771.0,1790.1 1772.7,1790.0 1774.4,1790.0 1776.1,1790.0 1777.9,1790.0 1779.6,1790.0 1781.3,1790.0 1783.0,1790.0 1784.7,1789.9 1786.4,1789.9 1788.2,1789.9 1789.9,1789.9 1791.6,1789.8 1793.3,1789.8 1795.0,1789.8 1796.8,1789.7 1798.5,1789.7 1800.2,1789.6 1801.9,1789.6 1803.6,1789.5 1805.3,1789.5 1807.1,1789.4 1808.8,1789.3 1810.5,1789.2 1812.2,1789.2 1813.9,1789.1 1815.7,1789.0 1817.4,1788.9 1819.1,1788.8 1820.8,1788.6 1822.5,1788.5 1824.2,1788.4 1826.0,1788.2 1827.7,1788.1 1829.4,1787.9 1831.1,1787.7 1832.8,1787.5 1834.6,1787.3 1836.3,1787.0 1838.0,1786.8 1839.7,1786.5 1841.4,1786.2 1843.1,1785.9 1844.9,1785.6 1846.6,1785.2 1848.3,1784.9 1850.0,1784.5 1851.7,1784.0 1853.5,1783.6 1855.2,1783.1 1856.9,1782.6 1858.6,1782.0 1860.3,1781.4 1862.0,1780.8 1863.8,1780.1 1865.5,1779.4 1867.2,1778.6 1868.9,1777.8 1870.6,1776.9 1872.4,1776.0 1874.1,1775.0 1875.8,1773.9 1877.5,1772.8 1879.2,1771.6 1880.9,1770.3 1882.7,1769.0 1884.4,1767.6 1886.1,1766.0 1887.8,1764.4 1889.5,1762.7 1891.3,1760.9 1893.0,1758.9 1894.7,1756.9 1896.4,1754.7 1898.1,1752.4 1899.8,1749.9 1901.6,1747.3 1903.3,1744.5 1905.0,1741.6 1906.7,1738.5 1908.4,1735.2 1910.2,1731.7 1911.9,1728.0 1913.6,1724.0 1915.3,1719.9 1917.0,1715.4 1918.7,1710.8 1920.5,1705.8 1922.2,1700.5 1923.9,1695.0 1925.6,1689.1 1927.3,1682.8 1929.1,1676.2 1930.8,1669.2 1932.5,1661.8 1934.2,1654.0 1935.9,1645.7 1937.6,1636.9 1939.4,1627.7 1941.1,1617.9 1942.8,1607.6 1944.5,1596.8 1946.2,1585.3 1948.0,1573.3 1949.7,1560.6 1951.4,1547.3 1953.1,1533.4 1954.8,1518.8 1956.5,1503.5 1958.3,1487.6 1960.0,1471.1 1961.7,1454.0 1963.4,1436.2 1965.1,1418.0 1966.8,1399.3 1968.6,1380.2 1970.3,1360.9 1972.0,1341.4 1973.7,1321.9 1975.4,1302.5 1977.2,1283.5 1978.9,1264.9 1980.6,1247.2 1982.3,1230.4 1984.0,1214.9 1985.7,1200.8 1987.5,1188.5 1989.2,1178.0 1990.9,1169.7 1992.6,1163.6 1994.3,1159.9 1996.1,1158.6 1997.8,1159.9 1999.5,1163.6 2001.2,1169.7 2002.9,1178.0 2004.6,1188.5 2006.4,1200.9 2008.1,1215.0 2009.8,1230.5 2011.5,1247.3 2013.2,1265.0 2015.0,1283.5 2016.7,1302.6 2018.4,1321.9 2020.1,1341.5 2021.8,1361.0 2023.5,1380.3 2025.3,1399.4 2027.0,1418.1 2028.7,1436.4 2030.4,1454.1 2032.1,1471.2 2033.9,1487.8 2035.6,1503.7 2037.3,1518.9 2039.0,1533.5 2040.7,1547.5 2042.4,1560.8 2044.2,1573.5 2045.9,1585.5 2047.6,1597.0 2049.3,1607.8 2051.0,1618.2 2052.8,1627.9 2054.5,1637.2 2056.2,1645.9 2057.9,1654.2 2059.6,1662.1 2061.3,1669.5 2063.1,1676.5 2064.8,1683.1 2066.5,1689.3 2068.2,1695.3 2069.9,1700.8 2071.7,1706.1 2073.4,1711.1 2075.1,1715.8 2076.8,1720.2 2078.5,1724.4 2080.2,1728.3 2082.0,1732.0 2083.7,1735.5 2085.4,1738.8 2087.1,1742.0 2088.8,1744.9 2090.6,1747.7 2092.3,1750.3 2094.0,1752.8 2095.7,1755.1 2097.4,1757.3 2099.1,1759.4 2100.9,1761.3 2102.6,1763.1 2104.3,1764.9 2106.0,1766.5 2107.7,1768.0 2109.5,1769.5 2111.2,1770.8 2112.9,1772.1 2114.6,1773.3 2116.3,1774.4 2118.0,1775.5 2119.8,1776.5 2121.5,1777.4 2123.2,1778.3 2124.9,1779.1 2126.6,1779.9 2128.4,1780.6 2130.1,1781.3 2131.8,1782.0 2133.5,1782.6 2135.2,1783.1 2136.9,1783.7 2138.7,1784.1 2140.4,1784.6 2142.1,1785.1 2143.8,1785.5 2145.5,1785.8 2147.2,1786.2 2149.0,1786.5 2150.7,1786.9 2152.4,1787.1 2154.1,1787.4 2155.8,1787.7 2157.6,1787.9 2159.3,1788.1 2161.0,1788.3 2162.7,1788.5 2164.4,1788.7 2166.1,1788.9 2167.9,1789.1 2169.6,1789.2 2171.3,1789.3 2173.0,1789.5 2174.7,1789.6 2176.5,1789.7 2178.2,1789.8 2179.9,1789.9 2181.6,1790.0 2183.3,1790.1 2185.0,1790.1 2186.8,1790.2 2188.5,1790.3 2190.2,1790.4 2191.9,1790.4 2193.6,1790.5 2195.4,1790.5 2197.1,1790.6 2198.8,1790.6 2200.5,1790.6 2202.2,1790.7 2203.9,1790.7 2205.7,1790.7 2207.4,1790.8 2209.1,1790.8 2210.8,1790.8 2212.5,1790.9 2214.3,1790.9 2216.0,1790.9 2217.7,1790.9 2219.4,1790.9 2221.1,1791.0 2222.8,1791.0 2224.6,1791.0 2226.3,1791.0 2228.0,1791.0 2229.7,1791.0 2231.4,1791.0 2233.2,1791.0 2234.9,1791.1 2236.6,1791.1 2238.3,1791.1 2240.0,1791.1 2241.7,1791.1 2243.5,1791.1 2245.2,1791.1 2246.9,1791.1 2248.6,1791.1 2250.3,1791.1 2252.1,1791.1 2253.8,1791.1 2255.5,1791.1 2257.2,1791.2 2258.9,1791.2 2260.6,1791.2 2262.4,1791.2 2264.1,1791.2 2265.8,1791.2 2267.5,1791.2 2269.2,1791.2 2271.0,1791.2 2272.7,1791.2 2274.4,1791.2 2276.1,1791.2 2277.8,1791.2 2279.5,1791.2 2281.3,1791.2 2283.0,1791.2 2284.7,1791.2 2286.4,1791.2 2288.1,1791.2 2289.9,1791.2 2291.6,1791.2 2293.3,1791.2 2295.0,1791.2 2296.7,1791.2 2298.4,1791.3 2300.2,1791.3 2301.9,1791.3 2303.6,1791.3 2305.3,1791.3 2307.0,1791.3 2308.8,1791.3 2310.5,1791.3 2312.2,1791.3 2313.9,1791.3 2315.6,1791.3 2317.3,1791.3 2319.1,1791.3 2320.8,1791.3 2322.5,1791.3 2324.2,1791.3 2325.9,1791.3 2327.7,1791.3 2329.4,1791.3 2331.1,1791.3 2332.8,1791.3 2334.5,1791.3 2336.2,1791.3 2338.0,1791.3 2339.7,1791.3 2341.4,1791.3 2343.1,1791.3 2344.8,1791.3 2346.5,1791.4 2348.3,1791.4 2350.0,1791.4 2351.7,1791.4 2353.4,1791.4 2355.1,1791.4 2356.9,1791.4 2358.6,1791.4 2360.3,1791.4 2362.0,1791.4 2363.7,1791.4 2365.4,1791.4 2367.2,1791.4 2368.9,1791.4 2370.6,1791.4 2372.3,1791.4 2374.0,1791.4 2375.8,1791.4 2377.5,1791.4 2379.2,1791.4 2380.9,1791.4 2382.6,1791.4 2384.3,1791.4 2386.1,1791.4 2387.8,1791.4 2389.5,1791.4 2391.2,1791.4 2392.9,1791.4 2394.7,1791.4 2396.4,1791.5 2398.1,1791.5 2399.8,1791.5 2401.5,1791.5 2403.2,1791.5 2405.0,1791.5 2406.7,1791.5 2408.4,1791.5 2410.1,1791.5 2411.8,1791.5 2413.6,1791.5 2415.3,1791.5 2417.0,1791.5 2418.7,1791.5 2420.4,1791.5 2422.1,1791.5 2423.9,1791.5 2425.6,1791.5" fill="none" stroke="#bf73e6" stroke-width="3.2" stroke-linejoin="round" stroke-linecap="butt" />
</g>
<text x="1440.5" y="1112.7" font-size="41" text-anchor="start" font-family="'Liberation Sans', sans-serif" font-weight="bold" >Ti 2p</text>
<text x="1944.5" y="1143.5" font-size="42" text-anchor="start" font-family="'Liberation Sans', sans-serif" font-weight="bold" >Ti 2p<tspan font-size="29" dy="12">3/2</tspan></text>
<text x="1619.0" y="1581.3" font-size="42" text-anchor="start" font-family="'Liberation Sans', sans-serif" font-weight="bold" >Ti 2p<tspan font-size="29" dy="12">1/2</tspan></text>
<path d="M219.0 2862.0V2846.2M356.5 2862.0V2846.2M494.0 2862.0V2846.2M631.5 2862.0V2846.2M769.0 2862.0V2846.2M906.5 2862.0V2846.2M1044.0 2862.0V2846.2M287.8 2862.0V2854.2M425.2 2862.0V2854.2M562.8 2862.0V2854.2M700.2 2862.0V2854.2M837.8 2862.0V2854.2M975.2 2862.0V2854.2M1112.8 2862.0V2854.2" stroke="#000" stroke-width="3" fill="none"/>
<rect x="172.7" y="2058.5" width="998.7" height="803.5" fill="none" stroke="#000" stroke-width="3.5"/>
<text x="219.0" y="2914.8" font-size="45" text-anchor="middle" font-family="'Liberation Sans', sans-serif" font-weight="bold" >885</text>
<text x="356.5" y="2914.8" font-size="45" text-anchor="middle" font-family="'Liberation Sans', sans-serif" font-weight="bold" >880</text>
<text x="494.0" y="2914.8" font-size="45" text-anchor="middle" font-family="'Liberation Sans', sans-serif" font-weight="bold" >875</text>
<text x="631.5" y="2914.8" font-size="45" text-anchor="middle" font-family="'Liberation Sans', sans-serif" font-weight="bold" >870</text>
<text x="769.0" y="2914.8" font-size="45" text-anchor="middle" font-family="'Liberation Sans', sans-serif" font-weight="bold" >865</text>
<text x="906.5" y="2914.8" font-size="45" text-anchor="middle" font-family="'Liberation Sans', sans-serif" font-weight="bold" >860</text>
<text x="1044.0" y="2914.8" font-size="45" text-anchor="middle" font-family="'Liberation Sans', sans-serif" font-weight="bold" >855</text>
<text x="672.1" y="2991.7" font-size="45.8" text-anchor="middle" font-family="'Liberation Sans', sans-serif" font-weight="bold" >Binding energy [eV]</text>
<text transform="translate(136.7 2460.2) rotate(-90)" font-size="45.8" text-anchor="middle" font-family="'Liberation Sans', sans-serif" font-weight="bold">Intensity [a.u.]</text>
<text x="32.5" y="2147.0" font-size="99.5" font-family="'Liberation Sans', sans-serif" fill="#fff" stroke="#000" stroke-width="3" stroke-linejoin="round">(e)</text>
<defs>
<clipPath id="ce"><rect x="171.1" y="2056.9" width="1001.9" height="806.7"/></clipPath>
</defs>
<g clip-path="url(#ce)">
<polyline points="170.9,2756.4 173.6,2755.7 176.4,2726.9 179.1,2777.5 181.9,2729.1 184.6,2783.1 187.4,2745.9 190.1,2743.9 192.9,2709.8 195.6,2733.2 198.4,2744.1 201.1,2695.5 203.9,2687.0 206.6,2736.9 209.4,2702.1 212.1,2725.3 214.9,2708.1 217.6,2702.9 220.4,2735.0 223.1,2701.2 225.9,2724.0 228.6,2719.3 231.4,2704.1 234.1,2736.3 236.9,2721.7 239.6,2679.6 242.4,2667.3 245.1,2659.8 247.9,2687.4 250.6,2658.0 253.4,2635.3 256.1,2641.7 258.9,2698.1 261.6,2703.9 264.4,2651.8 267.1,2629.9 269.9,2656.5 272.6,2631.5 275.4,2645.1 278.1,2642.9 280.9,2638.5 283.6,2637.4 286.4,2649.4 289.1,2594.3 291.9,2612.5 294.6,2643.4 297.4,2634.0 300.1,2648.2 302.9,2609.9 305.6,2650.4 308.4,2621.9 311.1,2593.7 313.9,2594.6 316.6,2591.0 319.4,2628.1 322.1,2580.2 324.9,2597.9 327.6,2561.4 330.4,2595.6 333.1,2548.2 335.9,2575.1 338.6,2565.6 341.4,2590.3 344.1,2589.4 346.9,2588.2 349.6,2555.9 352.4,2589.2 355.1,2582.0 357.9,2553.2 360.6,2569.4 363.4,2588.7 366.1,2578.0 368.9,2619.0 371.6,2623.8 374.4,2581.7 377.1,2546.1 379.9,2551.0 382.6,2551.8 385.4,2589.7 388.1,2617.7 390.9,2583.6 393.6,2638.0 396.4,2660.9 399.1,2604.7 401.9,2592.2 404.6,2601.0 407.4,2582.5 410.1,2601.1 412.9,2611.1 415.6,2643.5 418.4,2622.2 421.1,2646.2 423.9,2627.3 426.6,2574.9 429.4,2613.7 432.1,2609.8 434.9,2634.5 437.6,2570.6 440.4,2664.9 443.1,2641.2 445.9,2598.9 448.6,2638.7 451.4,2640.5 454.1,2611.2 456.9,2606.2 459.6,2608.0 462.4,2643.3 465.1,2605.7 467.9,2649.8 470.6,2641.3 473.4,2640.7 476.1,2607.1 478.9,2618.8 481.6,2627.9 484.4,2599.9 487.1,2618.0 489.9,2599.2 492.6,2587.3 495.4,2585.3 498.1,2587.2 500.9,2584.3 503.6,2521.9 506.4,2586.5 509.1,2524.3 511.9,2542.6 514.6,2534.2 517.4,2553.8 520.1,2509.8 522.9,2519.6 525.6,2481.9 528.4,2520.3 531.1,2535.0 533.9,2541.7 536.6,2497.6 539.4,2513.1 542.1,2541.6 544.9,2503.2 547.6,2543.2 550.4,2563.9 553.1,2552.8 555.9,2597.2 558.6,2576.7 561.4,2612.3 564.1,2580.8 566.9,2588.2 569.6,2615.0 572.4,2598.5 575.1,2651.2 577.9,2635.0 580.6,2663.1 583.4,2699.7 586.1,2670.1 588.9,2659.5 591.6,2662.6 594.4,2720.6 597.1,2722.9 599.9,2705.0 602.6,2777.5 605.4,2725.8 608.1,2804.2 610.9,2795.8 613.6,2775.5 616.4,2778.4 619.1,2745.1 621.9,2788.7 624.6,2763.4 627.4,2764.9 630.1,2749.8 632.9,2736.6 635.6,2727.0 638.4,2739.4 641.1,2736.7 643.9,2743.5 646.6,2779.9 649.4,2785.4 652.1,2734.5 654.9,2774.0 657.6,2759.5 660.4,2735.3 663.1,2747.3 665.9,2756.3 668.6,2757.2 671.4,2733.9 674.1,2699.2 676.9,2770.0 679.6,2734.5 682.4,2704.5 685.1,2718.1 687.9,2735.4 690.6,2718.3 693.4,2707.0 696.1,2690.3 698.9,2747.6 701.6,2727.9 704.4,2698.9 707.1,2692.5 709.9,2694.1 712.6,2687.5 715.4,2674.0 718.1,2681.1 720.9,2640.8 723.6,2702.2 726.4,2692.5 729.1,2715.4 731.9,2666.0 734.6,2672.0 737.4,2679.1 740.1,2699.7 742.9,2626.1 745.6,2659.6 748.4,2648.2 751.1,2696.0 753.9,2655.2 756.6,2649.0 759.4,2618.5 762.1,2642.1 764.9,2628.2 767.6,2685.7 770.4,2651.5 773.1,2641.3 775.9,2641.9 778.6,2642.3 781.4,2638.7 784.1,2597.0 786.9,2631.9 789.6,2600.0 792.4,2595.6 795.1,2613.9 797.9,2596.5 800.6,2641.8 803.4,2600.9 806.1,2555.1 808.9,2587.9 811.6,2613.7 814.4,2537.0 817.1,2582.2 819.9,2514.4 822.6,2539.5 825.4,2562.1 828.1,2541.8 830.9,2484.2 833.6,2510.6 836.4,2512.1 839.1,2502.4 841.9,2506.7 844.6,2515.0 847.4,2484.0 850.1,2463.7 852.9,2495.5 855.6,2461.9 858.4,2474.6 861.1,2537.7 863.9,2490.0 866.6,2479.5 869.4,2561.5 872.1,2533.5 874.9,2515.9 877.6,2553.3 880.4,2539.6 883.1,2554.4 885.9,2576.1 888.6,2565.2 891.4,2579.2 894.1,2577.9 896.9,2584.5 899.6,2606.0 902.4,2614.9 905.1,2616.0 907.9,2595.3 910.6,2633.6 913.4,2581.6 916.1,2634.3 918.9,2569.6 921.6,2616.3 924.4,2617.1 927.1,2612.5 929.9,2581.1 932.6,2578.1 935.4,2591.5 938.1,2554.0 940.9,2534.0 943.6,2527.4 946.4,2489.6 949.1,2554.4 951.9,2502.8 954.6,2503.3 957.4,2470.3 960.1,2429.5 962.9,2499.1 965.6,2479.7 968.4,2457.8 971.1,2420.8 973.9,2406.3 976.6,2432.0 979.4,2377.7 982.1,2377.6 984.9,2328.6 987.6,2323.7 990.4,2313.8 993.1,2281.0 995.9,2259.3 998.6,2233.2 1001.4,2193.7 1004.1,2182.6 1006.9,2173.4 1009.6,2146.1 1012.4,2142.8 1015.1,2146.9 1017.9,2169.7 1020.6,2175.4 1023.4,2198.6 1026.1,2237.1 1028.9,2257.9 1031.6,2291.8 1034.4,2345.7 1037.1,2362.8 1039.9,2400.2 1042.6,2391.5 1045.4,2464.0 1048.1,2456.1 1050.9,2471.8 1053.6,2532.6 1056.4,2558.3 1059.1,2600.5 1061.9,2609.1 1064.6,2610.8 1067.4,2598.9 1070.1,2630.4 1072.9,2689.5 1075.6,2651.8 1078.4,2706.4 1081.1,2655.9 1083.9,2676.4 1086.6,2697.9 1089.4,2741.9 1092.1,2702.8 1094.9,2735.5 1097.6,2739.3 1100.4,2726.5 1103.1,2762.2 1105.9,2724.1 1108.6,2717.9 1111.4,2706.5 1114.1,2741.0 1116.9,2738.6 1119.6,2696.8 1122.4,2699.6 1125.1,2767.4 1127.9,2716.7 1130.6,2707.5 1133.4,2747.8 1136.1,2710.4 1138.9,2740.5 1141.6,2745.3 1144.4,2766.5 1147.1,2709.4 1149.9,2765.6 1152.6,2793.0 1155.4,2781.1 1158.1,2767.8 1160.9,2783.7 1163.6,2721.8 1166.4,2780.0 1169.1,2770.8 1171.9,2760.3" fill="none" stroke="#000" stroke-width="3.0" stroke-linejoin="round" stroke-linecap="butt" />
<polyline points="170.9,2770.1 172.2,2769.7 173.6,2769.4 175.0,2769.0 176.4,2768.6 177.7,2768.2 179.1,2767.7 180.5,2767.3 181.9,2766.9 183.2,2766.4 184.6,2766.0 186.0,2765.5 187.4,2765.0 188.7,2764.5 190.1,2764.0 191.5,2763.5 192.9,2762.9 194.2,2762.4 195.6,2761.8 197.0,2761.2 198.4,2760.7 199.7,2760.0 201.1,2759.4 202.5,2758.8 203.9,2758.1 205.2,2757.5 206.6,2756.8 208.0,2756.1 209.4,2755.4 210.7,2754.6 212.1,2753.9 213.5,2753.1 214.9,2752.3 216.2,2751.5 217.6,2750.7 219.0,2749.8 220.4,2749.0 221.7,2748.1 223.1,2747.2 224.5,2746.2 225.9,2745.3 227.2,2744.3 228.6,2743.3 230.0,2742.3 231.4,2741.3 232.7,2740.2 234.1,2739.1 235.5,2738.0 236.9,2736.8 238.2,2735.6 239.6,2734.5 241.0,2733.2 242.4,2732.0 243.7,2730.7 245.1,2729.4 246.5,2728.0 247.9,2726.7 249.2,2725.3 250.6,2723.9 252.0,2722.4 253.4,2720.9 254.7,2719.4 256.1,2717.8 257.5,2716.2 258.9,2714.6 260.2,2713.0 261.6,2711.3 263.0,2709.6 264.4,2707.8 265.7,2706.1 267.1,2704.2 268.5,2702.4 269.9,2700.5 271.2,2698.6 272.6,2696.6 274.0,2694.7 275.4,2692.6 276.7,2690.6 278.1,2688.5 279.5,2686.4 280.9,2684.2 282.2,2682.1 283.6,2679.9 285.0,2677.6 286.4,2675.4 287.7,2673.1 289.1,2670.8 290.5,2668.4 291.9,2666.0 293.2,2663.7 294.6,2661.2 296.0,2658.8 297.4,2656.4 298.7,2653.9 300.1,2651.4 301.5,2649.0 302.9,2646.5 304.2,2644.0 305.6,2641.5 307.0,2639.0 308.4,2636.5 309.7,2634.0 311.1,2631.5 312.5,2629.1 313.9,2626.7 315.2,2624.3 316.6,2621.9 318.0,2619.5 319.4,2617.2 320.7,2614.9 322.1,2612.7 323.5,2610.5 324.9,2608.4 326.2,2606.3 327.6,2604.3 329.0,2602.4 330.4,2600.5 331.7,2598.7 333.1,2597.0 334.5,2595.4 335.9,2593.9 337.2,2592.5 338.6,2591.1 340.0,2589.9 341.4,2588.7 342.7,2587.7 344.1,2586.8 345.5,2586.0 346.9,2585.3 348.2,2584.7 349.6,2584.3 351.0,2583.9 352.4,2583.7 353.7,2583.6 355.1,2583.6 356.5,2583.7 357.9,2584.0 359.2,2584.3 360.6,2584.8 362.0,2585.4 363.4,2586.0 364.7,2586.8 366.1,2587.7 367.5,2588.7 368.9,2589.8 370.2,2591.0 371.6,2592.2 373.0,2593.6 374.4,2595.0 375.7,2596.5 377.1,2598.0 378.5,2599.6 379.9,2601.3 381.2,2603.0 382.6,2604.8 384.0,2606.6 385.4,2608.4 386.7,2610.3 388.1,2612.2 389.5,2614.1 390.9,2616.1 392.2,2618.0 393.6,2620.0 395.0,2621.9 396.4,2623.9 397.7,2625.8 399.1,2627.8 400.5,2629.7 401.9,2631.6 403.2,2633.5 404.6,2635.3 406.0,2637.1 407.4,2638.9 408.7,2640.6 410.1,2642.3 411.5,2644.0 412.9,2645.6 414.2,2647.2 415.6,2648.7 417.0,2650.2 418.4,2651.6 419.7,2652.9 421.1,2654.2 422.5,2655.4 423.9,2656.5 425.2,2657.6 426.6,2658.6 428.0,2659.5 429.4,2660.4 430.7,2661.2 432.1,2661.9 433.5,2662.5 434.9,2663.0 436.2,2663.5 437.6,2663.8 439.0,2664.1 440.4,2664.3 441.7,2664.4 443.1,2664.3 444.5,2664.2 445.9,2664.0 447.2,2663.7 448.6,2663.3 450.0,2662.8 451.4,2662.2 452.7,2661.4 454.1,2660.6 455.5,2659.6 456.9,2658.5 458.2,2657.3 459.6,2656.0 461.0,2654.5 462.4,2653.0 463.7,2651.3 465.1,2649.4 466.5,2647.5 467.9,2645.4 469.2,2643.1 470.6,2640.8 472.0,2638.3 473.4,2635.6 474.7,2632.9 476.1,2629.9 477.5,2626.9 478.9,2623.7 480.2,2620.4 481.6,2616.9 483.0,2613.3 484.4,2609.6 485.7,2605.7 487.1,2601.8 488.5,2597.7 489.9,2593.5 491.2,2589.2 492.6,2584.9 494.0,2580.5 495.4,2576.0 496.7,2571.5 498.1,2566.9 499.5,2562.4 500.9,2557.8 502.2,2553.3 503.6,2548.9 505.0,2544.5 506.4,2540.2 507.7,2536.1 509.1,2532.1 510.5,2528.3 511.9,2524.8 513.2,2521.4 514.6,2518.4 516.0,2515.6 517.4,2513.2 518.7,2511.1 520.1,2509.4 521.5,2508.0 522.9,2507.1 524.2,2506.5 525.6,2506.4 527.0,2506.7 528.4,2507.5 529.7,2508.6 531.1,2510.2 532.5,2512.1 533.9,2514.5 535.2,2517.2 536.6,2520.3 538.0,2523.7 539.4,2527.4 540.7,2531.4 542.1,2535.6 543.5,2540.1 544.9,2544.8 546.2,2549.6 547.6,2554.6 549.0,2559.7 550.4,2564.9 551.7,2570.1 553.1,2575.5 554.5,2580.8 555.9,2586.1 557.2,2591.5 558.6,2596.8 560.0,2602.0 561.4,2607.2 562.7,2612.4 564.1,2617.4 565.5,2622.4 566.9,2627.2 568.2,2632.0 569.6,2636.7 571.0,2641.2 572.4,2645.7 573.7,2650.0 575.1,2654.2 576.5,2658.2 577.9,2662.2 579.2,2666.0 580.6,2669.8 582.0,2673.4 583.4,2676.8 584.7,2680.2 586.1,2683.4 587.5,2686.6 588.9,2689.6 590.2,2692.5 591.6,2695.3 593.0,2698.0 594.4,2700.6 595.7,2703.1 597.1,2705.5 598.5,2707.9 599.9,2710.1 601.2,2712.2 602.6,2714.3 604.0,2716.3 605.4,2718.1 606.7,2720.0 608.1,2721.7 609.5,2723.4 610.9,2725.0 612.2,2726.5 613.6,2727.9 615.0,2729.3 616.4,2730.7 617.7,2731.9 619.1,2733.1 620.5,2734.3 621.9,2735.4 623.2,2736.4 624.6,2737.4 626.0,2738.4 627.4,2739.3 628.7,2740.1 630.1,2740.9 631.5,2741.7 632.9,2742.4 634.2,2743.1 635.6,2743.7 637.0,2744.3 638.4,2744.9 639.7,2745.4 641.1,2745.9 642.5,2746.3 643.9,2746.7 645.2,2747.1 646.6,2747.4 648.0,2747.8 649.4,2748.0 650.7,2748.3 652.1,2748.5 653.5,2748.7 654.9,2748.9 656.2,2749.0 657.6,2749.1 659.0,2749.2 660.4,2749.2 661.7,2749.3 663.1,2749.3 664.5,2749.3 665.9,2749.2 667.2,2749.1 668.6,2749.0 670.0,2748.9 671.4,2748.8 672.7,2748.6 674.1,2748.4 675.5,2748.2 676.9,2748.0 678.2,2747.7 679.6,2747.5 681.0,2747.2 682.4,2746.8 683.7,2746.5 685.1,2746.1 686.5,2745.7 687.9,2745.3 689.2,2744.9 690.6,2744.4 692.0,2744.0 693.4,2743.5 694.7,2742.9 696.1,2742.4 697.5,2741.8 698.9,2741.2 700.2,2740.6 701.6,2740.0 703.0,2739.3 704.4,2738.6 705.7,2737.9 707.1,2737.2 708.5,2736.5 709.9,2735.7 711.2,2734.9 712.6,2734.0 714.0,2733.2 715.4,2732.3 716.7,2731.4 718.1,2730.5 719.5,2729.5 720.9,2728.5 722.2,2727.5 723.6,2726.4 725.0,2725.4 726.4,2724.3 727.7,2723.1 729.1,2722.0 730.5,2720.8 731.9,2719.5 733.2,2718.3 734.6,2717.0 736.0,2715.6 737.4,2714.2 738.7,2712.8 740.1,2711.4 741.5,2709.9 742.9,2708.4 744.2,2706.8 745.6,2705.2 747.0,2703.6 748.4,2701.9 749.7,2700.2 751.1,2698.4 752.5,2696.6 753.9,2694.8 755.2,2692.9 756.6,2690.9 758.0,2688.9 759.4,2686.9 760.7,2684.8 762.1,2682.7 763.5,2680.5 764.9,2678.2 766.2,2675.9 767.6,2673.6 769.0,2671.2 770.4,2668.7 771.7,2666.2 773.1,2663.6 774.5,2661.0 775.9,2658.3 777.2,2655.6 778.6,2652.8 780.0,2649.9 781.4,2647.0 782.7,2644.0 784.1,2641.0 785.5,2637.9 786.9,2634.7 788.2,2631.5 789.6,2628.3 791.0,2625.0 792.4,2621.6 793.7,2618.2 795.1,2614.7 796.5,2611.2 797.9,2607.6 799.2,2604.0 800.6,2600.4 802.0,2596.7 803.4,2593.0 804.7,2589.3 806.1,2585.5 807.5,2581.7 808.9,2577.9 810.2,2574.1 811.6,2570.3 813.0,2566.5 814.4,2562.8 815.7,2559.0 817.1,2555.3 818.5,2551.5 819.9,2547.9 821.2,2544.3 822.6,2540.7 824.0,2537.3 825.4,2533.9 826.7,2530.6 828.1,2527.4 829.5,2524.3 830.9,2521.3 832.2,2518.5 833.6,2515.8 835.0,2513.3 836.4,2510.9 837.7,2508.7 839.1,2506.7 840.5,2504.8 841.9,2503.2 843.2,2501.8 844.6,2500.5 846.0,2499.5 847.4,2498.7 848.7,2498.1 850.1,2497.7 851.5,2497.6 852.9,2497.7 854.2,2498.0 855.6,2498.5 857.0,2499.3 858.4,2500.3 859.7,2501.5 861.1,2502.9 862.5,2504.4 863.9,2506.2 865.2,2508.2 866.6,2510.3 868.0,2512.7 869.4,2515.1 870.7,2517.7 872.1,2520.5 873.5,2523.4 874.9,2526.4 876.2,2529.5 877.6,2532.7 879.0,2536.0 880.4,2539.3 881.7,2542.8 883.1,2546.3 884.5,2549.8 885.9,2553.3 887.2,2556.9 888.6,2560.5 890.0,2564.1 891.4,2567.7 892.7,2571.3 894.1,2574.8 895.5,2578.4 896.9,2581.9 898.2,2585.3 899.6,2588.7 901.0,2592.1 902.4,2595.4 903.7,2598.6 905.1,2601.7 906.5,2604.8 907.9,2607.7 909.2,2610.6 910.6,2613.4 912.0,2616.1 913.4,2618.6 914.7,2621.1 916.1,2623.4 917.5,2625.6 918.9,2627.6 920.2,2629.6 921.6,2631.3 923.0,2632.9 924.4,2634.4 925.7,2635.7 927.1,2636.8 928.5,2637.7 929.9,2638.4 931.2,2638.9 932.6,2639.3 934.0,2639.4 935.4,2639.2 936.7,2638.9 938.1,2638.2 939.5,2637.3 940.9,2636.2 942.2,2634.7 943.6,2633.0 945.0,2630.9 946.4,2628.6 947.7,2625.8 949.1,2622.8 950.5,2619.3 951.9,2615.5 953.2,2611.3 954.6,2606.6 956.0,2601.5 957.4,2596.0 958.7,2590.0 960.1,2583.5 961.5,2576.6 962.9,2569.1 964.2,2561.1 965.6,2552.5 967.0,2543.5 968.4,2533.8 969.7,2523.6 971.1,2512.8 972.5,2501.4 973.9,2489.5 975.2,2477.0 976.6,2464.0 978.0,2450.4 979.4,2436.3 980.7,2421.7 982.1,2406.6 983.5,2391.1 984.9,2375.3 986.2,2359.2 987.6,2342.9 989.0,2326.4 990.4,2309.8 991.7,2293.4 993.1,2277.0 994.5,2261.0 995.9,2245.4 997.2,2230.3 998.6,2215.9 1000.0,2202.3 1001.4,2189.7 1002.7,2178.3 1004.1,2168.0 1005.5,2159.2 1006.9,2151.8 1008.2,2146.0 1009.6,2141.9 1011.0,2139.5 1012.4,2138.8 1013.7,2140.0 1015.1,2142.9 1016.5,2147.6 1017.9,2153.9 1019.2,2161.9 1020.6,2171.4 1022.0,2182.4 1023.4,2194.6 1024.7,2208.1 1026.1,2222.5 1027.5,2237.8 1028.9,2253.9 1030.2,2270.6 1031.6,2287.8 1033.0,2305.3 1034.4,2323.1 1035.7,2340.9 1037.1,2358.8 1038.5,2376.5 1039.9,2394.1 1041.2,2411.4 1042.6,2428.4 1044.0,2445.1 1045.4,2461.3 1046.7,2477.0 1048.1,2492.3 1049.5,2507.1 1050.9,2521.3 1052.2,2535.0 1053.6,2548.1 1055.0,2560.7 1056.4,2572.7 1057.7,2584.2 1059.1,2595.2 1060.5,2605.6 1061.9,2615.6 1063.2,2625.0 1064.6,2633.9 1066.0,2642.4 1067.4,2650.4 1068.7,2658.0 1070.1,2665.1 1071.5,2671.9 1072.9,2678.2 1074.2,2684.2 1075.6,2689.9 1077.0,2695.2 1078.4,2700.1 1079.7,2704.8 1081.1,2709.2 1082.5,2713.3 1083.9,2717.2 1085.2,2720.8 1086.6,2724.2 1088.0,2727.3 1089.4,2730.3 1090.7,2733.0 1092.1,2735.6 1093.5,2738.0 1094.9,2740.2 1096.2,2742.3 1097.6,2744.3 1099.0,2746.1 1100.4,2747.8 1101.7,2749.3 1103.1,2750.8 1104.5,2752.1 1105.9,2753.4 1107.2,2754.5 1108.6,2755.6 1110.0,2756.6 1111.4,2757.6 1112.7,2758.4 1114.1,2759.2 1115.5,2760.0 1116.9,2760.6 1118.2,2761.3 1119.6,2761.9 1121.0,2762.4 1122.4,2762.9 1123.7,2763.4 1125.1,2763.8 1126.5,2764.2 1127.9,2764.6 1129.2,2764.9 1130.6,2765.2 1132.0,2765.5 1133.4,2765.8 1134.7,2766.1 1136.1,2766.3 1137.5,2766.5 1138.9,2766.7 1140.2,2766.9 1141.6,2767.1 1143.0,2767.2 1144.4,2767.4 1145.7,2767.5 1147.1,2767.7 1148.5,2767.8 1149.9,2767.9 1151.2,2768.0 1152.6,2768.1 1154.0,2768.2 1155.4,2768.3 1156.7,2768.4 1158.1,2768.4 1159.5,2768.5 1160.9,2768.6 1162.2,2768.6 1163.6,2768.7 1165.0,2768.8 1166.4,2768.8 1167.7,2768.9 1169.1,2768.9 1170.5,2768.9 1171.9,2769.0 1173.2,2769.0" fill="none" stroke="#f5323c" stroke-width="2.8" stroke-linejoin="round" stroke-linecap="butt" />
<polyline points="170.9,2770.1 172.2,2769.7 173.6,2769.4 175.0,2769.0 176.4,2768.6 177.7,2768.2 179.1,2767.7 180.5,2767.3 181.9,2766.9 183.2,2766.4 184.6,2766.0 186.0,2765.5 187.4,2765.0 188.7,2764.5 190.1,2764.0 191.5,2763.5 192.9,2762.9 194.2,2762.4 195.6,2761.8 197.0,2761.3 198.4,2760.7 199.7,2760.1 201.1,2759.4 202.5,2758.8 203.9,2758.1 205.2,2757.5 206.6,2756.8 208.0,2756.1 209.4,2755.4 210.7,2754.6 212.1,2753.9 213.5,2753.1 214.9,2752.3 216.2,2751.5 217.6,2750.7 219.0,2749.9 220.4,2749.0 221.7,2748.1 223.1,2747.2 224.5,2746.3 225.9,2745.3 227.2,2744.3 228.6,2743.3 230.0,2742.3 231.4,2741.3 232.7,2740.2 234.1,2739.1 235.5,2738.0 236.9,2736.9 238.2,2735.7 239.6,2734.5 241.0,2733.3 242.4,2732.0 243.7,2730.7 245.1,2729.4 246.5,2728.1 247.9,2726.7 249.2,2725.3 250.6,2723.9 252.0,2722.5 253.4,2721.0 254.7,2719.5 256.1,2717.9 257.5,2716.3 258.9,2714.7 260.2,2713.1 261.6,2711.4 263.0,2709.7 264.4,2707.9 265.7,2706.2 267.1,2704.4 268.5,2702.5 269.9,2700.6 271.2,2698.7 272.6,2696.8 274.0,2694.8 275.4,2692.8 276.7,2690.8 278.1,2688.7 279.5,2686.6 280.9,2684.5 282.2,2682.3 283.6,2680.1 285.0,2677.9 286.4,2675.6 287.7,2673.3 289.1,2671.0 290.5,2668.7 291.9,2666.4 293.2,2664.0 294.6,2661.6 296.0,2659.2 297.4,2656.8 298.7,2654.3 300.1,2651.9 301.5,2649.4 302.9,2646.9 304.2,2644.5 305.6,2642.0 307.0,2639.5 308.4,2637.1 309.7,2634.6 311.1,2632.2 312.5,2629.8 313.9,2627.4 315.2,2625.0 316.6,2622.7 318.0,2620.3 319.4,2618.1 320.7,2615.8 322.1,2613.7 323.5,2611.5 324.9,2609.5 326.2,2607.4 327.6,2605.5 329.0,2603.6 330.4,2601.8 331.7,2600.1 333.1,2598.5 334.5,2596.9 335.9,2595.5 337.2,2594.1 338.6,2592.8 340.0,2591.7 341.4,2590.6 342.7,2589.7 344.1,2588.9 345.5,2588.2 346.9,2587.6 348.2,2587.1 349.6,2586.8 351.0,2586.5 352.4,2586.4 353.7,2586.5 355.1,2586.6 356.5,2586.9 357.9,2587.3 359.2,2587.8 360.6,2588.4 362.0,2589.1 363.4,2590.0 364.7,2591.0 366.1,2592.0 367.5,2593.2 368.9,2594.5 370.2,2595.9 371.6,2597.4 373.0,2599.0 374.4,2600.6 375.7,2602.4 377.1,2604.2 378.5,2606.1 379.9,2608.0 381.2,2610.0 382.6,2612.1 384.0,2614.2 385.4,2616.4 386.7,2618.6 388.1,2620.9 389.5,2623.2 390.9,2625.5 392.2,2627.9 393.6,2630.3 395.0,2632.7 396.4,2635.1 397.7,2637.5 399.1,2639.9 400.5,2642.4 401.9,2644.8 403.2,2647.3 404.6,2649.7 406.0,2652.1 407.4,2654.5 408.7,2656.9 410.1,2659.3 411.5,2661.7 412.9,2664.0 414.2,2666.3 415.6,2668.7 417.0,2670.9 418.4,2673.2 419.7,2675.4 421.1,2677.6 422.5,2679.8 423.9,2681.9 425.2,2684.1 426.6,2686.1 428.0,2688.2 429.4,2690.2 430.7,2692.2 432.1,2694.2 433.5,2696.1 434.9,2698.0 436.2,2699.8 437.6,2701.7 439.0,2703.5 440.4,2705.2 441.7,2706.9 443.1,2708.6 444.5,2710.3 445.9,2711.9 447.2,2713.5 448.6,2715.1 450.0,2716.6 451.4,2718.1 452.7,2719.6 454.1,2721.0 455.5,2722.4 456.9,2723.8 458.2,2725.1 459.6,2726.4 461.0,2727.7 462.4,2729.0 463.7,2730.2 465.1,2731.4 466.5,2732.6 467.9,2733.7 469.2,2734.9 470.6,2736.0 472.0,2737.0 473.4,2738.1 474.7,2739.1 476.1,2740.1 477.5,2741.1 478.9,2742.0 480.2,2742.9 481.6,2743.9 483.0,2744.7 484.4,2745.6 485.7,2746.4 487.1,2747.3 488.5,2748.1 489.9,2748.9 491.2,2749.6 492.6,2750.4 494.0,2751.1 495.4,2751.8 496.7,2752.5 498.1,2753.2 499.5,2753.8 500.9,2754.5 502.2,2755.1 503.6,2755.7 505.0,2756.3 506.4,2756.9 507.7,2757.4 509.1,2758.0 510.5,2758.5 511.9,2759.1 513.2,2759.6 514.6,2760.1 516.0,2760.5 517.4,2761.0 518.7,2761.5 520.1,2761.9 521.5,2762.4 522.9,2762.8 524.2,2763.2 525.6,2763.6 527.0,2764.0 528.4,2764.4 529.7,2764.7 531.1,2765.1 532.5,2765.4 533.9,2765.8 535.2,2766.1 536.6,2766.4 538.0,2766.8 539.4,2767.1 540.7,2767.4 542.1,2767.7 543.5,2767.9 544.9,2768.2 546.2,2768.5 547.6,2768.7 549.0,2769.0 550.4,2769.2 551.7,2769.5 553.1,2769.7 554.5,2769.9 555.9,2770.1 557.2,2770.4 558.6,2770.6 560.0,2770.8 561.4,2771.0 562.7,2771.2 564.1,2771.3 565.5,2771.5 566.9,2771.7 568.2,2771.9 569.6,2772.0 571.0,2772.2 572.4,2772.3 573.7,2772.5 575.1,2772.6 576.5,2772.8 577.9,2772.9 579.2,2773.0 580.6,2773.2 582.0,2773.3 583.4,2773.4 584.7,2773.5 586.1,2773.6 587.5,2773.7 588.9,2773.8 590.2,2773.9 591.6,2774.0 593.0,2774.1 594.4,2774.2 595.7,2774.3 597.1,2774.4 598.5,2774.5 599.9,2774.6 601.2,2774.6 602.6,2774.7 604.0,2774.8 605.4,2774.9 606.7,2774.9 608.1,2775.0 609.5,2775.1 610.9,2775.1 612.2,2775.2 613.6,2775.2 615.0,2775.3 616.4,2775.3 617.7,2775.4 619.1,2775.4 620.5,2775.5 621.9,2775.5 623.2,2775.6 624.6,2775.6 626.0,2775.6 627.4,2775.7 628.7,2775.7 630.1,2775.7 631.5,2775.8 632.9,2775.8 634.2,2775.8 635.6,2775.9 637.0,2775.9 638.4,2775.9 639.7,2775.9 641.1,2776.0 642.5,2776.0 643.9,2776.0 645.2,2776.0 646.6,2776.1 648.0,2776.1 649.4,2776.1 650.7,2776.1 652.1,2776.1 653.5,2776.1 654.9,2776.1 656.2,2776.2 657.6,2776.2 659.0,2776.2 660.4,2776.2 661.7,2776.2 663.1,2776.2 664.5,2776.2 665.9,2776.2 667.2,2776.2 668.6,2776.2 670.0,2776.2 671.4,2776.2 672.7,2776.2 674.1,2776.2 675.5,2776.2 676.9,2776.2 678.2,2776.2 679.6,2776.2 681.0,2776.2 682.4,2776.2 683.7,2776.2 685.1,2776.2 686.5,2776.2 687.9,2776.2 689.2,2776.2 690.6,2776.2 692.0,2776.2 693.4,2776.2 694.7,2776.2 696.1,2776.2 697.5,2776.2 698.9,2776.2 700.2,2776.2 701.6,2776.2 703.0,2776.2 704.4,2776.2 705.7,2776.2 707.1,2776.1 708.5,2776.1 709.9,2776.1 711.2,2776.1 712.6,2776.1 714.0,2776.1 715.4,2776.1 716.7,2776.1 718.1,2776.1 719.5,2776.1 720.9,2776.0 722.2,2776.0 723.6,2776.0 725.0,2776.0 726.4,2776.0 727.7,2776.0 729.1,2776.0 730.5,2776.0 731.9,2776.0 733.2,2775.9 734.6,2775.9 736.0,2775.9 737.4,2775.9 738.7,2775.9 740.1,2775.9 741.5,2775.9 742.9,2775.9 744.2,2775.8 745.6,2775.8 747.0,2775.8 748.4,2775.8 749.7,2775.8 751.1,2775.8 752.5,2775.8 753.9,2775.8 755.2,2775.7 756.6,2775.7 758.0,2775.7 759.4,2775.7 760.7,2775.7 762.1,2775.7 763.5,2775.7 764.9,2775.6 766.2,2775.6 767.6,2775.6 769.0,2775.6 770.4,2775.6 771.7,2775.6 773.1,2775.6 774.5,2775.5 775.9,2775.5 777.2,2775.5 778.6,2775.5 780.0,2775.5 781.4,2775.5 782.7,2775.5 784.1,2775.4 785.5,2775.4 786.9,2775.4 788.2,2775.4 789.6,2775.4 791.0,2775.4 792.4,2775.3 793.7,2775.3 795.1,2775.3 796.5,2775.3 797.9,2775.3 799.2,2775.3 800.6,2775.3 802.0,2775.2 803.4,2775.2 804.7,2775.2 806.1,2775.2 807.5,2775.2 808.9,2775.2 810.2,2775.1 811.6,2775.1 813.0,2775.1 814.4,2775.1 815.7,2775.1 817.1,2775.1 818.5,2775.1 819.9,2775.0 821.2,2775.0 822.6,2775.0 824.0,2775.0 825.4,2775.0 826.7,2775.0 828.1,2774.9 829.5,2774.9 830.9,2774.9 832.2,2774.9 833.6,2774.9 835.0,2774.9 836.4,2774.9 837.7,2774.8 839.1,2774.8 840.5,2774.8 841.9,2774.8 843.2,2774.8 844.6,2774.8 846.0,2774.7 847.4,2774.7 848.7,2774.7 850.1,2774.7 851.5,2774.7 852.9,2774.7 854.2,2774.7 855.6,2774.6 857.0,2774.6 858.4,2774.6 859.7,2774.6 861.1,2774.6 862.5,2774.6 863.9,2774.5 865.2,2774.5 866.6,2774.5 868.0,2774.5 869.4,2774.5 870.7,2774.5 872.1,2774.4 873.5,2774.4 874.9,2774.4 876.2,2774.4 877.6,2774.4 879.0,2774.4 880.4,2774.4 881.7,2774.3 883.1,2774.3 884.5,2774.3 885.9,2774.3 887.2,2774.3 888.6,2774.3 890.0,2774.2 891.4,2774.2 892.7,2774.2 894.1,2774.2 895.5,2774.2 896.9,2774.2 898.2,2774.1 899.6,2774.1 901.0,2774.1 902.4,2774.1 903.7,2774.1 905.1,2774.1 906.5,2774.1 907.9,2774.0 909.2,2774.0 910.6,2774.0 912.0,2774.0 913.4,2774.0 914.7,2774.0 916.1,2773.9 917.5,2773.9 918.9,2773.9 920.2,2773.9 921.6,2773.9 923.0,2773.9 924.4,2773.8 925.7,2773.8 927.1,2773.8 928.5,2773.8 929.9,2773.8 931.2,2773.8 932.6,2773.7 934.0,2773.7 935.4,2773.7 936.7,2773.7 938.1,2773.7 939.5,2773.7 940.9,2773.7 942.2,2773.6 943.6,2773.6 945.0,2773.6 946.4,2773.6 947.7,2773.6 949.1,2773.6 950.5,2773.5 951.9,2773.5 953.2,2773.5 954.6,2773.5 956.0,2773.5 957.4,2773.5 958.7,2773.4 960.1,2773.4 961.5,2773.4 962.9,2773.4 964.2,2773.4 965.6,2773.4 967.0,2773.4 968.4,2773.3 969.7,2773.3 971.1,2773.3 972.5,2773.3 973.9,2773.3 975.2,2773.3 976.6,2773.2 978.0,2773.2 979.4,2773.2 980.7,2773.2 982.1,2773.2 983.5,2773.2 984.9,2773.1 986.2,2773.1 987.6,2773.1 989.0,2773.1 990.4,2773.1 991.7,2773.1 993.1,2773.1 994.5,2773.0 995.9,2773.0 997.2,2773.0 998.6,2773.0 1000.0,2773.0 1001.4,2773.0 1002.7,2772.9 1004.1,2772.9 1005.5,2772.9 1006.9,2772.9 1008.2,2772.9 1009.6,2772.9 1011.0,2772.8 1012.4,2772.8 1013.7,2772.8 1015.1,2772.8 1016.5,2772.8 1017.9,2772.8 1019.2,2772.8 1020.6,2772.7 1022.0,2772.7 1023.4,2772.7 1024.7,2772.7 1026.1,2772.7 1027.5,2772.7 1028.9,2772.6 1030.2,2772.6 1031.6,2772.6 1033.0,2772.6 1034.4,2772.6 1035.7,2772.6 1037.1,2772.5 1038.5,2772.5 1039.9,2772.5 1041.2,2772.5 1042.6,2772.5 1044.0,2772.5 1045.4,2772.5 1046.7,2772.4 1048.1,2772.4 1049.5,2772.4 1050.9,2772.4 1052.2,2772.4 1053.6,2772.4 1055.0,2772.3 1056.4,2772.3 1057.7,2772.3 1059.1,2772.3 1060.5,2772.3 1061.9,2772.3 1063.2,2772.2 1064.6,2772.2 1066.0,2772.2 1067.4,2772.2 1068.7,2772.2 1070.1,2772.2 1071.5,2772.2 1072.9,2772.1 1074.2,2772.1 1075.6,2772.1 1077.0,2772.1 1078.4,2772.1 1079.7,2772.1 1081.1,2772.0 1082.5,2772.0 1083.9,2772.0 1085.2,2772.0 1086.6,2772.0 1088.0,2772.0 1089.4,2771.9 1090.7,2771.9 1092.1,2771.9 1093.5,2771.9 1094.9,2771.9 1096.2,2771.9 1097.6,2771.8 1099.0,2771.8 1100.4,2771.8 1101.7,2771.8 1103.1,2771.8 1104.5,2771.8 1105.9,2771.8 1107.2,2771.7 1108.6,2771.7 1110.0,2771.7 1111.4,2771.7 1112.7,2771.7 1114.1,2771.7 1115.5,2771.6 1116.9,2771.6 1118.2,2771.6 1119.6,2771.6 1121.0,2771.6 1122.4,2771.6 1123.7,2771.5 1125.1,2771.5 1126.5,2771.5 1127.9,2771.5 1129.2,2771.5 1130.6,2771.5 1132.0,2771.5 1133.4,2771.4 1134.7,2771.4 1136.1,2771.4 1137.5,2771.4 1138.9,2771.4 1140.2,2771.4 1141.6,2771.3 1143.0,2771.3 1144.4,2771.3 1145.7,2771.3 1147.1,2771.3 1148.5,2771.3 1149.9,2771.2 1151.2,2771.2 1152.6,2771.2 1154.0,2771.2 1155.4,2771.2 1156.7,2771.2 1158.1,2771.2 1159.5,2771.1 1160.9,2771.1 1162.2,2771.1 1163.6,2771.1 1165.0,2771.1 1166.4,2771.1 1167.7,2771.0 1169.1,2771.0 1170.5,2771.0 1171.9,2771.0 1173.2,2771.0" fill="none" stroke="#00a45f" stroke-width="3" stroke-linejoin="round" stroke-linecap="butt" />
<polyline points="170.9,2782.5 172.2,2782.5 173.6,2782.5 175.0,2782.5 176.4,2782.5 177.7,2782.4 179.1,2782.4 180.5,2782.4 181.9,2782.4 183.2,2782.4 184.6,2782.4 186.0,2782.3 187.4,2782.3 188.7,2782.3 190.1,2782.3 191.5,2782.3 192.9,2782.3 194.2,2782.3 195.6,2782.2 197.0,2782.2 198.4,2782.2 199.7,2782.2 201.1,2782.2 202.5,2782.2 203.9,2782.1 205.2,2782.1 206.6,2782.1 208.0,2782.1 209.4,2782.1 210.7,2782.1 212.1,2782.0 213.5,2782.0 214.9,2782.0 216.2,2782.0 217.6,2782.0 219.0,2782.0 220.4,2781.9 221.7,2781.9 223.1,2781.9 224.5,2781.9 225.9,2781.9 227.2,2781.9 228.6,2781.9 230.0,2781.8 231.4,2781.8 232.7,2781.8 234.1,2781.8 235.5,2781.8 236.9,2781.8 238.2,2781.7 239.6,2781.7 241.0,2781.7 242.4,2781.7 243.7,2781.7 245.1,2781.7 246.5,2781.6 247.9,2781.6 249.2,2781.6 250.6,2781.6 252.0,2781.6 253.4,2781.6 254.7,2781.6 256.1,2781.5 257.5,2781.5 258.9,2781.5 260.2,2781.5 261.6,2781.5 263.0,2781.5 264.4,2781.4 265.7,2781.4 267.1,2781.4 268.5,2781.4 269.9,2781.4 271.2,2781.4 272.6,2781.3 274.0,2781.3 275.4,2781.3 276.7,2781.3 278.1,2781.3 279.5,2781.3 280.9,2781.2 282.2,2781.2 283.6,2781.2 285.0,2781.2 286.4,2781.2 287.7,2781.2 289.1,2781.1 290.5,2781.1 291.9,2781.1 293.2,2781.1 294.6,2781.1 296.0,2781.1 297.4,2781.0 298.7,2781.0 300.1,2781.0 301.5,2781.0 302.9,2781.0 304.2,2781.0 305.6,2781.0 307.0,2780.9 308.4,2780.9 309.7,2780.9 311.1,2780.9 312.5,2780.9 313.9,2780.9 315.2,2780.8 316.6,2780.8 318.0,2780.8 319.4,2780.8 320.7,2780.8 322.1,2780.8 323.5,2780.7 324.9,2780.7 326.2,2780.7 327.6,2780.7 329.0,2780.7 330.4,2780.7 331.7,2780.6 333.1,2780.6 334.5,2780.6 335.9,2780.6 337.2,2780.6 338.6,2780.6 340.0,2780.5 341.4,2780.5 342.7,2780.5 344.1,2780.5 345.5,2780.5 346.9,2780.4 348.2,2780.4 349.6,2780.4 351.0,2780.4 352.4,2780.4 353.7,2780.4 355.1,2780.3 356.5,2780.3 357.9,2780.3 359.2,2780.3 360.6,2780.3 362.0,2780.3 363.4,2780.2 364.7,2780.2 366.1,2780.2 367.5,2780.2 368.9,2780.2 370.2,2780.1 371.6,2780.1 373.0,2780.1 374.4,2780.1 375.7,2780.1 377.1,2780.1 378.5,2780.0 379.9,2780.0 381.2,2780.0 382.6,2780.0 384.0,2780.0 385.4,2779.9 386.7,2779.9 388.1,2779.9 389.5,2779.9 390.9,2779.9 392.2,2779.8 393.6,2779.8 395.0,2779.8 396.4,2779.8 397.7,2779.8 399.1,2779.7 400.5,2779.7 401.9,2779.7 403.2,2779.7 404.6,2779.7 406.0,2779.6 407.4,2779.6 408.7,2779.6 410.1,2779.6 411.5,2779.6 412.9,2779.5 414.2,2779.5 415.6,2779.5 417.0,2779.5 418.4,2779.4 419.7,2779.4 421.1,2779.4 422.5,2779.4 423.9,2779.4 425.2,2779.3 426.6,2779.3 428.0,2779.3 429.4,2779.3 430.7,2779.2 432.1,2779.2 433.5,2779.2 434.9,2779.2 436.2,2779.1 437.6,2779.1 439.0,2779.1 440.4,2779.1 441.7,2779.0 443.1,2779.0 444.5,2779.0 445.9,2779.0 447.2,2778.9 448.6,2778.9 450.0,2778.9 451.4,2778.9 452.7,2778.8 454.1,2778.8 455.5,2778.8 456.9,2778.7 458.2,2778.7 459.6,2778.7 461.0,2778.7 462.4,2778.6 463.7,2778.6 465.1,2778.6 466.5,2778.5 467.9,2778.5 469.2,2778.5 470.6,2778.4 472.0,2778.4 473.4,2778.4 474.7,2778.3 476.1,2778.3 477.5,2778.3 478.9,2778.2 480.2,2778.2 481.6,2778.2 483.0,2778.1 484.4,2778.1 485.7,2778.1 487.1,2778.0 488.5,2778.0 489.9,2777.9 491.2,2777.9 492.6,2777.9 494.0,2777.8 495.4,2777.8 496.7,2777.7 498.1,2777.7 499.5,2777.7 500.9,2777.6 502.2,2777.6 503.6,2777.5 505.0,2777.5 506.4,2777.4 507.7,2777.4 509.1,2777.3 510.5,2777.3 511.9,2777.2 513.2,2777.2 514.6,2777.1 516.0,2777.1 517.4,2777.0 518.7,2777.0 520.1,2776.9 521.5,2776.9 522.9,2776.8 524.2,2776.7 525.6,2776.7 527.0,2776.6 528.4,2776.6 529.7,2776.5 531.1,2776.4 532.5,2776.4 533.9,2776.3 535.2,2776.2 536.6,2776.2 538.0,2776.1 539.4,2776.0 540.7,2776.0 542.1,2775.9 543.5,2775.8 544.9,2775.8 546.2,2775.7 547.6,2775.6 549.0,2775.5 550.4,2775.4 551.7,2775.4 553.1,2775.3 554.5,2775.2 555.9,2775.1 557.2,2775.0 558.6,2774.9 560.0,2774.8 561.4,2774.7 562.7,2774.6 564.1,2774.5 565.5,2774.5 566.9,2774.4 568.2,2774.2 569.6,2774.1 571.0,2774.0 572.4,2773.9 573.7,2773.8 575.1,2773.7 576.5,2773.6 577.9,2773.5 579.2,2773.4 580.6,2773.2 582.0,2773.1 583.4,2773.0 584.7,2772.9 586.1,2772.7 587.5,2772.6 588.9,2772.5 590.2,2772.3 591.6,2772.2 593.0,2772.0 594.4,2771.9 595.7,2771.7 597.1,2771.6 598.5,2771.4 599.9,2771.3 601.2,2771.1 602.6,2770.9 604.0,2770.8 605.4,2770.6 606.7,2770.4 608.1,2770.2 609.5,2770.1 610.9,2769.9 612.2,2769.7 613.6,2769.5 615.0,2769.3 616.4,2769.1 617.7,2768.9 619.1,2768.7 620.5,2768.4 621.9,2768.2 623.2,2768.0 624.6,2767.8 626.0,2767.5 627.4,2767.3 628.7,2767.0 630.1,2766.8 631.5,2766.5 632.9,2766.3 634.2,2766.0 635.6,2765.8 637.0,2765.5 638.4,2765.2 639.7,2764.9 641.1,2764.6 642.5,2764.3 643.9,2764.0 645.2,2763.7 646.6,2763.4 648.0,2763.0 649.4,2762.7 650.7,2762.4 652.1,2762.0 653.5,2761.7 654.9,2761.3 656.2,2760.9 657.6,2760.6 659.0,2760.2 660.4,2759.8 661.7,2759.4 663.1,2759.0 664.5,2758.5 665.9,2758.1 667.2,2757.7 668.6,2757.2 670.0,2756.8 671.4,2756.3 672.7,2755.8 674.1,2755.3 675.5,2754.8 676.9,2754.3 678.2,2753.8 679.6,2753.2 681.0,2752.7 682.4,2752.1 683.7,2751.6 685.1,2751.0 686.5,2750.4 687.9,2749.8 689.2,2749.1 690.6,2748.5 692.0,2747.8 693.4,2747.2 694.7,2746.5 696.1,2745.8 697.5,2745.1 698.9,2744.3 700.2,2743.6 701.6,2742.8 703.0,2742.0 704.4,2741.2 705.7,2740.4 707.1,2739.6 708.5,2738.7 709.9,2737.8 711.2,2736.9 712.6,2736.0 714.0,2735.1 715.4,2734.1 716.7,2733.1 718.1,2732.1 719.5,2731.0 720.9,2730.0 722.2,2728.9 723.6,2727.8 725.0,2726.6 726.4,2725.5 727.7,2724.3 729.1,2723.1 730.5,2721.8 731.9,2720.5 733.2,2719.2 734.6,2717.9 736.0,2716.5 737.4,2715.1 738.7,2713.6 740.1,2712.1 741.5,2710.6 742.9,2709.1 744.2,2707.5 745.6,2705.8 747.0,2704.2 748.4,2702.5 749.7,2700.7 751.1,2698.9 752.5,2697.1 753.9,2695.2 755.2,2693.3 756.6,2691.3 758.0,2689.3 759.4,2687.3 760.7,2685.1 762.1,2683.0 763.5,2680.8 764.9,2678.5 766.2,2676.2 767.6,2673.8 769.0,2671.4 770.4,2668.9 771.7,2666.4 773.1,2663.8 774.5,2661.2 775.9,2658.5 777.2,2655.7 778.6,2652.9 780.0,2650.1 781.4,2647.1 782.7,2644.1 784.1,2641.1 785.5,2638.0 786.9,2634.9 788.2,2631.6 789.6,2628.4 791.0,2625.1 792.4,2621.7 793.7,2618.3 795.1,2614.8 796.5,2611.3 797.9,2607.7 799.2,2604.1 800.6,2600.5 802.0,2596.8 803.4,2593.1 804.7,2589.3 806.1,2585.6 807.5,2581.8 808.9,2578.0 810.2,2574.2 811.6,2570.4 813.0,2566.6 814.4,2562.8 815.7,2559.0 817.1,2555.3 818.5,2551.6 819.9,2547.9 821.2,2544.3 822.6,2540.8 824.0,2537.3 825.4,2533.9 826.7,2530.6 828.1,2527.4 829.5,2524.3 830.9,2521.4 832.2,2518.5 833.6,2515.8 835.0,2513.3 836.4,2510.9 837.7,2508.7 839.1,2506.7 840.5,2504.9 841.9,2503.2 843.2,2501.8 844.6,2500.6 846.0,2499.5 847.4,2498.7 848.7,2498.2 850.1,2497.8 851.5,2497.7 852.9,2497.8 854.2,2498.1 855.6,2498.6 857.0,2499.4 858.4,2500.4 859.7,2501.6 861.1,2503.0 862.5,2504.6 863.9,2506.4 865.2,2508.4 866.6,2510.6 868.0,2512.9 869.4,2515.4 870.7,2518.1 872.1,2520.9 873.5,2523.8 874.9,2526.9 876.2,2530.0 877.6,2533.3 879.0,2536.7 880.4,2540.1 881.7,2543.6 883.1,2547.2 884.5,2550.8 885.9,2554.5 887.2,2558.2 888.6,2561.9 890.0,2565.7 891.4,2569.5 892.7,2573.2 894.1,2577.0 895.5,2580.8 896.9,2584.5 898.2,2588.3 899.6,2592.0 901.0,2595.6 902.4,2599.3 903.7,2602.9 905.1,2606.5 906.5,2610.0 907.9,2613.5 909.2,2616.9 910.6,2620.3 912.0,2623.7 913.4,2627.0 914.7,2630.2 916.1,2633.4 917.5,2636.5 918.9,2639.6 920.2,2642.6 921.6,2645.5 923.0,2648.4 924.4,2651.2 925.7,2654.0 927.1,2656.7 928.5,2659.4 929.9,2662.0 931.2,2664.6 932.6,2667.1 934.0,2669.5 935.4,2671.9 936.7,2674.2 938.1,2676.5 939.5,2678.7 940.9,2680.9 942.2,2683.0 943.6,2685.1 945.0,2687.2 946.4,2689.1 947.7,2691.1 949.1,2693.0 950.5,2694.8 951.9,2696.6 953.2,2698.4 954.6,2700.1 956.0,2701.8 957.4,2703.4 958.7,2705.0 960.1,2706.6 961.5,2708.1 962.9,2709.6 964.2,2711.0 965.6,2712.4 967.0,2713.8 968.4,2715.2 969.7,2716.5 971.1,2717.8 972.5,2719.0 973.9,2720.2 975.2,2721.4 976.6,2722.6 978.0,2723.7 979.4,2724.8 980.7,2725.9 982.1,2727.0 983.5,2728.0 984.9,2729.0 986.2,2730.0 987.6,2730.9 989.0,2731.9 990.4,2732.8 991.7,2733.7 993.1,2734.6 994.5,2735.4 995.9,2736.2 997.2,2737.0 998.6,2737.8 1000.0,2738.6 1001.4,2739.4 1002.7,2740.1 1004.1,2740.8 1005.5,2741.5 1006.9,2742.2 1008.2,2742.9 1009.6,2743.5 1011.0,2744.2 1012.4,2744.8 1013.7,2745.4 1015.1,2746.0 1016.5,2746.6 1017.9,2747.1 1019.2,2747.7 1020.6,2748.2 1022.0,2748.8 1023.4,2749.3 1024.7,2749.8 1026.1,2750.3 1027.5,2750.8 1028.9,2751.2 1030.2,2751.7 1031.6,2752.1 1033.0,2752.6 1034.4,2753.0 1035.7,2753.4 1037.1,2753.8 1038.5,2754.2 1039.9,2754.6 1041.2,2755.0 1042.6,2755.4 1044.0,2755.7 1045.4,2756.1 1046.7,2756.4 1048.1,2756.8 1049.5,2757.1 1050.9,2757.4 1052.2,2757.7 1053.6,2758.1 1055.0,2758.4 1056.4,2758.7 1057.7,2758.9 1059.1,2759.2 1060.5,2759.5 1061.9,2759.8 1063.2,2760.0 1064.6,2760.3 1066.0,2760.5 1067.4,2760.8 1068.7,2761.0 1070.1,2761.3 1071.5,2761.5 1072.9,2761.7 1074.2,2761.9 1075.6,2762.1 1077.0,2762.3 1078.4,2762.5 1079.7,2762.7 1081.1,2762.9 1082.5,2763.1 1083.9,2763.3 1085.2,2763.5 1086.6,2763.7 1088.0,2763.8 1089.4,2764.0 1090.7,2764.2 1092.1,2764.3 1093.5,2764.5 1094.9,2764.6 1096.2,2764.8 1097.6,2764.9 1099.0,2765.1 1100.4,2765.2 1101.7,2765.3 1103.1,2765.5 1104.5,2765.6 1105.9,2765.7 1107.2,2765.8 1108.6,2766.0 1110.0,2766.1 1111.4,2766.2 1112.7,2766.3 1114.1,2766.4 1115.5,2766.5 1116.9,2766.6 1118.2,2766.7 1119.6,2766.8 1121.0,2766.9 1122.4,2767.0 1123.7,2767.1 1125.1,2767.2 1126.5,2767.3 1127.9,2767.3 1129.2,2767.4 1130.6,2767.5 1132.0,2767.6 1133.4,2767.7 1134.7,2767.7 1136.1,2767.8 1137.5,2767.9 1138.9,2767.9 1140.2,2768.0 1141.6,2768.1 1143.0,2768.1 1144.4,2768.2 1145.7,2768.2 1147.1,2768.3 1148.5,2768.3 1149.9,2768.4 1151.2,2768.5 1152.6,2768.5 1154.0,2768.6 1155.4,2768.6 1156.7,2768.6 1158.1,2768.7 1159.5,2768.7 1160.9,2768.8 1162.2,2768.8 1163.6,2768.9 1165.0,2768.9 1166.4,2768.9 1167.7,2769.0 1169.1,2769.0 1170.5,2769.0 1171.9,2769.1 1173.2,2769.1" fill="none" stroke="#dc9a00" stroke-width="3" stroke-linejoin="round" stroke-linecap="butt" />
<polyline points="170.9,2782.5 172.2,2782.5 173.6,2782.5 175.0,2782.5 176.4,2782.5 177.7,2782.4 179.1,2782.4 180.5,2782.4 181.9,2782.4 183.2,2782.4 184.6,2782.4 186.0,2782.3 187.4,2782.3 188.7,2782.3 190.1,2782.3 191.5,2782.3 192.9,2782.3 194.2,2782.3 195.6,2782.2 197.0,2782.2 198.4,2782.2 199.7,2782.2 201.1,2782.2 202.5,2782.2 203.9,2782.1 205.2,2782.1 206.6,2782.1 208.0,2782.1 209.4,2782.1 210.7,2782.1 212.1,2782.0 213.5,2782.0 214.9,2782.0 216.2,2782.0 217.6,2782.0 219.0,2782.0 220.4,2782.0 221.7,2781.9 223.1,2781.9 224.5,2781.9 225.9,2781.9 227.2,2781.9 228.6,2781.9 230.0,2781.8 231.4,2781.8 232.7,2781.8 234.1,2781.8 235.5,2781.8 236.9,2781.8 238.2,2781.7 239.6,2781.7 241.0,2781.7 242.4,2781.7 243.7,2781.7 245.1,2781.7 246.5,2781.7 247.9,2781.6 249.2,2781.6 250.6,2781.6 252.0,2781.6 253.4,2781.6 254.7,2781.6 256.1,2781.5 257.5,2781.5 258.9,2781.5 260.2,2781.5 261.6,2781.5 263.0,2781.5 264.4,2781.4 265.7,2781.4 267.1,2781.4 268.5,2781.4 269.9,2781.4 271.2,2781.4 272.6,2781.3 274.0,2781.3 275.4,2781.3 276.7,2781.3 278.1,2781.3 279.5,2781.3 280.9,2781.3 282.2,2781.2 283.6,2781.2 285.0,2781.2 286.4,2781.2 287.7,2781.2 289.1,2781.2 290.5,2781.1 291.9,2781.1 293.2,2781.1 294.6,2781.1 296.0,2781.1 297.4,2781.1 298.7,2781.0 300.1,2781.0 301.5,2781.0 302.9,2781.0 304.2,2781.0 305.6,2781.0 307.0,2781.0 308.4,2780.9 309.7,2780.9 311.1,2780.9 312.5,2780.9 313.9,2780.9 315.2,2780.9 316.6,2780.8 318.0,2780.8 319.4,2780.8 320.7,2780.8 322.1,2780.8 323.5,2780.8 324.9,2780.7 326.2,2780.7 327.6,2780.7 329.0,2780.7 330.4,2780.7 331.7,2780.7 333.1,2780.7 334.5,2780.6 335.9,2780.6 337.2,2780.6 338.6,2780.6 340.0,2780.6 341.4,2780.6 342.7,2780.5 344.1,2780.5 345.5,2780.5 346.9,2780.5 348.2,2780.5 349.6,2780.5 351.0,2780.4 352.4,2780.4 353.7,2780.4 355.1,2780.4 356.5,2780.4 357.9,2780.4 359.2,2780.4 360.6,2780.3 362.0,2780.3 363.4,2780.3 364.7,2780.3 366.1,2780.3 367.5,2780.3 368.9,2780.2 370.2,2780.2 371.6,2780.2 373.0,2780.2 374.4,2780.2 375.7,2780.2 377.1,2780.1 378.5,2780.1 379.9,2780.1 381.2,2780.1 382.6,2780.1 384.0,2780.1 385.4,2780.1 386.7,2780.0 388.1,2780.0 389.5,2780.0 390.9,2780.0 392.2,2780.0 393.6,2780.0 395.0,2779.9 396.4,2779.9 397.7,2779.9 399.1,2779.9 400.5,2779.9 401.9,2779.9 403.2,2779.8 404.6,2779.8 406.0,2779.8 407.4,2779.8 408.7,2779.8 410.1,2779.8 411.5,2779.8 412.9,2779.7 414.2,2779.7 415.6,2779.7 417.0,2779.7 418.4,2779.7 419.7,2779.7 421.1,2779.6 422.5,2779.6 423.9,2779.6 425.2,2779.6 426.6,2779.6 428.0,2779.6 429.4,2779.5 430.7,2779.5 432.1,2779.5 433.5,2779.5 434.9,2779.5 436.2,2779.5 437.6,2779.4 439.0,2779.4 440.4,2779.4 441.7,2779.4 443.1,2779.4 444.5,2779.4 445.9,2779.4 447.2,2779.3 448.6,2779.3 450.0,2779.3 451.4,2779.3 452.7,2779.3 454.1,2779.3 455.5,2779.2 456.9,2779.2 458.2,2779.2 459.6,2779.2 461.0,2779.2 462.4,2779.2 463.7,2779.1 465.1,2779.1 466.5,2779.1 467.9,2779.1 469.2,2779.1 470.6,2779.1 472.0,2779.1 473.4,2779.0 474.7,2779.0 476.1,2779.0 477.5,2779.0 478.9,2779.0 480.2,2779.0 481.6,2778.9 483.0,2778.9 484.4,2778.9 485.7,2778.9 487.1,2778.9 488.5,2778.9 489.9,2778.8 491.2,2778.8 492.6,2778.8 494.0,2778.8 495.4,2778.8 496.7,2778.8 498.1,2778.8 499.5,2778.7 500.9,2778.7 502.2,2778.7 503.6,2778.7 505.0,2778.7 506.4,2778.7 507.7,2778.6 509.1,2778.6 510.5,2778.6 511.9,2778.6 513.2,2778.6 514.6,2778.6 516.0,2778.5 517.4,2778.5 518.7,2778.5 520.1,2778.5 521.5,2778.5 522.9,2778.5 524.2,2778.5 525.6,2778.4 527.0,2778.4 528.4,2778.4 529.7,2778.4 531.1,2778.4 532.5,2778.4 533.9,2778.3 535.2,2778.3 536.6,2778.3 538.0,2778.3 539.4,2778.3 540.7,2778.3 542.1,2778.2 543.5,2778.2 544.9,2778.2 546.2,2778.2 547.6,2778.2 549.0,2778.2 550.4,2778.2 551.7,2778.1 553.1,2778.1 554.5,2778.1 555.9,2778.1 557.2,2778.1 558.6,2778.1 560.0,2778.0 561.4,2778.0 562.7,2778.0 564.1,2778.0 565.5,2778.0 566.9,2778.0 568.2,2777.9 569.6,2777.9 571.0,2777.9 572.4,2777.9 573.7,2777.9 575.1,2777.9 576.5,2777.9 577.9,2777.8 579.2,2777.8 580.6,2777.8 582.0,2777.8 583.4,2777.8 584.7,2777.8 586.1,2777.7 587.5,2777.7 588.9,2777.7 590.2,2777.7 591.6,2777.7 593.0,2777.7 594.4,2777.6 595.7,2777.6 597.1,2777.6 598.5,2777.6 599.9,2777.6 601.2,2777.6 602.6,2777.5 604.0,2777.5 605.4,2777.5 606.7,2777.5 608.1,2777.5 609.5,2777.5 610.9,2777.5 612.2,2777.4 613.6,2777.4 615.0,2777.4 616.4,2777.4 617.7,2777.4 619.1,2777.4 620.5,2777.3 621.9,2777.3 623.2,2777.3 624.6,2777.3 626.0,2777.3 627.4,2777.3 628.7,2777.2 630.1,2777.2 631.5,2777.2 632.9,2777.2 634.2,2777.2 635.6,2777.2 637.0,2777.2 638.4,2777.1 639.7,2777.1 641.1,2777.1 642.5,2777.1 643.9,2777.1 645.2,2777.1 646.6,2777.0 648.0,2777.0 649.4,2777.0 650.7,2777.0 652.1,2777.0 653.5,2777.0 654.9,2776.9 656.2,2776.9 657.6,2776.9 659.0,2776.9 660.4,2776.9 661.7,2776.9 663.1,2776.9 664.5,2776.8 665.9,2776.8 667.2,2776.8 668.6,2776.8 670.0,2776.8 671.4,2776.8 672.7,2776.7 674.1,2776.7 675.5,2776.7 676.9,2776.7 678.2,2776.7 679.6,2776.7 681.0,2776.6 682.4,2776.6 683.7,2776.6 685.1,2776.6 686.5,2776.6 687.9,2776.6 689.2,2776.6 690.6,2776.5 692.0,2776.5 693.4,2776.5 694.7,2776.5 696.1,2776.5 697.5,2776.5 698.9,2776.4 700.2,2776.4 701.6,2776.4 703.0,2776.4 704.4,2776.4 705.7,2776.4 707.1,2776.3 708.5,2776.3 709.9,2776.3 711.2,2776.3 712.6,2776.3 714.0,2776.3 715.4,2776.3 716.7,2776.2 718.1,2776.2 719.5,2776.2 720.9,2776.2 722.2,2776.2 723.6,2776.2 725.0,2776.1 726.4,2776.1 727.7,2776.1 729.1,2776.1 730.5,2776.1 731.9,2776.1 733.2,2776.0 734.6,2776.0 736.0,2776.0 737.4,2776.0 738.7,2776.0 740.1,2776.0 741.5,2776.0 742.9,2775.9 744.2,2775.9 745.6,2775.9 747.0,2775.9 748.4,2775.9 749.7,2775.9 751.1,2775.8 752.5,2775.8 753.9,2775.8 755.2,2775.8 756.6,2775.8 758.0,2775.8 759.4,2775.7 760.7,2775.7 762.1,2775.7 763.5,2775.7 764.9,2775.7 766.2,2775.7 767.6,2775.6 769.0,2775.6 770.4,2775.6 771.7,2775.6 773.1,2775.6 774.5,2775.6 775.9,2775.6 777.2,2775.5 778.6,2775.5 780.0,2775.5 781.4,2775.5 782.7,2775.5 784.1,2775.5 785.5,2775.4 786.9,2775.4 788.2,2775.4 789.6,2775.4 791.0,2775.4 792.4,2775.4 793.7,2775.3 795.1,2775.3 796.5,2775.3 797.9,2775.3 799.2,2775.3 800.6,2775.3 802.0,2775.3 803.4,2775.2 804.7,2775.2 806.1,2775.2 807.5,2775.2 808.9,2775.2 810.2,2775.2 811.6,2775.1 813.0,2775.1 814.4,2775.1 815.7,2775.1 817.1,2775.1 818.5,2775.1 819.9,2775.0 821.2,2775.0 822.6,2775.0 824.0,2775.0 825.4,2775.0 826.7,2775.0 828.1,2774.9 829.5,2774.9 830.9,2774.9 832.2,2774.9 833.6,2774.9 835.0,2774.9 836.4,2774.8 837.7,2774.8 839.1,2774.8 840.5,2774.8 841.9,2774.8 843.2,2774.7 844.6,2774.7 846.0,2774.7 847.4,2774.7 848.7,2774.7 850.1,2774.6 851.5,2774.6 852.9,2774.6 854.2,2774.6 855.6,2774.5 857.0,2774.5 858.4,2774.5 859.7,2774.5 861.1,2774.4 862.5,2774.4 863.9,2774.3 865.2,2774.3 866.6,2774.3 868.0,2774.2 869.4,2774.2 870.7,2774.1 872.1,2774.1 873.5,2774.0 874.9,2773.9 876.2,2773.9 877.6,2773.8 879.0,2773.7 880.4,2773.6 881.7,2773.5 883.1,2773.4 884.5,2773.3 885.9,2773.1 887.2,2773.0 888.6,2772.8 890.0,2772.6 891.4,2772.5 892.7,2772.3 894.1,2772.0 895.5,2771.8 896.9,2771.5 898.2,2771.2 899.6,2770.9 901.0,2770.6 902.4,2770.2 903.7,2769.8 905.1,2769.3 906.5,2768.8 907.9,2768.3 909.2,2767.7 910.6,2767.1 912.0,2766.4 913.4,2765.6 914.7,2764.8 916.1,2764.0 917.5,2763.0 918.9,2762.0 920.2,2760.9 921.6,2759.7 923.0,2758.4 924.4,2757.0 925.7,2755.5 927.1,2753.8 928.5,2752.1 929.9,2750.2 931.2,2748.1 932.6,2745.9 934.0,2743.6 935.4,2741.0 936.7,2738.3 938.1,2735.4 939.5,2732.3 940.9,2728.9 942.2,2725.3 943.6,2721.5 945.0,2717.4 946.4,2713.0 947.7,2708.3 949.1,2703.4 950.5,2698.1 951.9,2692.4 953.2,2686.4 954.6,2680.0 956.0,2673.2 957.4,2666.1 958.7,2658.5 960.1,2650.4 961.5,2641.9 962.9,2632.9 964.2,2623.5 965.6,2613.5 967.0,2603.0 968.4,2592.0 969.7,2580.4 971.1,2568.3 972.5,2555.7 973.9,2542.5 975.2,2528.8 976.6,2514.6 978.0,2499.9 979.4,2484.6 980.7,2468.9 982.1,2452.8 983.5,2436.3 984.9,2419.5 986.2,2402.3 987.6,2385.0 989.0,2367.6 990.4,2350.1 991.7,2332.7 993.1,2315.5 994.5,2298.6 995.9,2282.2 997.2,2266.3 998.6,2251.1 1000.0,2236.7 1001.4,2223.3 1002.7,2211.1 1004.1,2200.1 1005.5,2190.6 1006.9,2182.5 1008.2,2176.0 1009.6,2171.2 1011.0,2168.1 1012.4,2166.9 1013.7,2167.4 1015.1,2169.7 1016.5,2173.8 1017.9,2179.6 1019.2,2187.0 1020.6,2195.9 1022.0,2206.3 1023.4,2218.1 1024.7,2231.0 1026.1,2244.9 1027.5,2259.7 1028.9,2275.4 1030.2,2291.6 1031.6,2308.3 1033.0,2325.4 1034.4,2342.7 1035.7,2360.1 1037.1,2377.5 1038.5,2394.8 1039.9,2412.0 1041.2,2428.9 1042.6,2445.6 1044.0,2461.8 1045.4,2477.7 1046.7,2493.0 1048.1,2508.0 1049.5,2522.4 1050.9,2536.2 1052.2,2549.6 1053.6,2562.4 1055.0,2574.7 1056.4,2586.4 1057.7,2597.6 1059.1,2608.3 1060.5,2618.4 1061.9,2628.1 1063.2,2637.2 1064.6,2645.9 1066.0,2654.1 1067.4,2661.8 1068.7,2669.1 1070.1,2676.0 1071.5,2682.5 1072.9,2688.7 1074.2,2694.4 1075.6,2699.8 1077.0,2704.9 1078.4,2709.7 1079.7,2714.1 1081.1,2718.3 1082.5,2722.2 1083.9,2725.9 1085.2,2729.3 1086.6,2732.5 1088.0,2735.4 1089.4,2738.2 1090.7,2740.8 1092.1,2743.2 1093.5,2745.4 1094.9,2747.5 1096.2,2749.4 1097.6,2751.2 1099.0,2752.8 1100.4,2754.4 1101.7,2755.8 1103.1,2757.1 1104.5,2758.3 1105.9,2759.4 1107.2,2760.4 1108.6,2761.4 1110.0,2762.3 1111.4,2763.1 1112.7,2763.8 1114.1,2764.5 1115.5,2765.1 1116.9,2765.7 1118.2,2766.2 1119.6,2766.7 1121.0,2767.1 1122.4,2767.5 1123.7,2767.8 1125.1,2768.2 1126.5,2768.5 1127.9,2768.7 1129.2,2769.0 1130.6,2769.2 1132.0,2769.4 1133.4,2769.6 1134.7,2769.8 1136.1,2769.9 1137.5,2770.0 1138.9,2770.2 1140.2,2770.3 1141.6,2770.4 1143.0,2770.4 1144.4,2770.5 1145.7,2770.6 1147.1,2770.6 1148.5,2770.7 1149.9,2770.7 1151.2,2770.8 1152.6,2770.8 1154.0,2770.8 1155.4,2770.9 1156.7,2770.9 1158.1,2770.9 1159.5,2770.9 1160.9,2770.9 1162.2,2770.9 1163.6,2770.9 1165.0,2770.9 1166.4,2770.9 1167.7,2770.9 1169.1,2770.9 1170.5,2770.9 1171.9,2770.9 1173.2,2770.9" fill="none" stroke="#00cacb" stroke-width="3.6" stroke-linejoin="round" stroke-linecap="butt" />
<polyline points="170.9,2782.5 172.2,2782.5 173.6,2782.5 175.0,2782.5 176.4,2782.5 177.7,2782.4 179.1,2782.4 180.5,2782.4 181.9,2782.4 183.2,2782.4 184.6,2782.4 186.0,2782.3 187.4,2782.3 188.7,2782.3 190.1,2782.3 191.5,2782.3 192.9,2782.3 194.2,2782.2 195.6,2782.2 197.0,2782.2 198.4,2782.2 199.7,2782.2 201.1,2782.2 202.5,2782.2 203.9,2782.1 205.2,2782.1 206.6,2782.1 208.0,2782.1 209.4,2782.1 210.7,2782.1 212.1,2782.0 213.5,2782.0 214.9,2782.0 216.2,2782.0 217.6,2782.0 219.0,2782.0 220.4,2781.9 221.7,2781.9 223.1,2781.9 224.5,2781.9 225.9,2781.9 227.2,2781.9 228.6,2781.8 230.0,2781.8 231.4,2781.8 232.7,2781.8 234.1,2781.8 235.5,2781.7 236.9,2781.7 238.2,2781.7 239.6,2781.7 241.0,2781.7 242.4,2781.7 243.7,2781.6 245.1,2781.6 246.5,2781.6 247.9,2781.6 249.2,2781.6 250.6,2781.5 252.0,2781.5 253.4,2781.5 254.7,2781.5 256.1,2781.5 257.5,2781.5 258.9,2781.4 260.2,2781.4 261.6,2781.4 263.0,2781.4 264.4,2781.3 265.7,2781.3 267.1,2781.3 268.5,2781.3 269.9,2781.3 271.2,2781.2 272.6,2781.2 274.0,2781.2 275.4,2781.2 276.7,2781.1 278.1,2781.1 279.5,2781.1 280.9,2781.1 282.2,2781.0 283.6,2781.0 285.0,2781.0 286.4,2781.0 287.7,2780.9 289.1,2780.9 290.5,2780.9 291.9,2780.8 293.2,2780.8 294.6,2780.8 296.0,2780.7 297.4,2780.7 298.7,2780.7 300.1,2780.6 301.5,2780.6 302.9,2780.5 304.2,2780.5 305.6,2780.5 307.0,2780.4 308.4,2780.4 309.7,2780.3 311.1,2780.3 312.5,2780.2 313.9,2780.2 315.2,2780.1 316.6,2780.1 318.0,2780.0 319.4,2780.0 320.7,2779.9 322.1,2779.8 323.5,2779.8 324.9,2779.7 326.2,2779.6 327.6,2779.6 329.0,2779.5 330.4,2779.4 331.7,2779.3 333.1,2779.3 334.5,2779.2 335.9,2779.1 337.2,2779.0 338.6,2778.9 340.0,2778.8 341.4,2778.7 342.7,2778.6 344.1,2778.5 345.5,2778.4 346.9,2778.3 348.2,2778.1 349.6,2778.0 351.0,2777.9 352.4,2777.7 353.7,2777.6 355.1,2777.4 356.5,2777.3 357.9,2777.1 359.2,2777.0 360.6,2776.8 362.0,2776.6 363.4,2776.4 364.7,2776.2 366.1,2776.0 367.5,2775.8 368.9,2775.6 370.2,2775.4 371.6,2775.1 373.0,2774.9 374.4,2774.6 375.7,2774.4 377.1,2774.1 378.5,2773.8 379.9,2773.5 381.2,2773.2 382.6,2772.9 384.0,2772.5 385.4,2772.2 386.7,2771.8 388.1,2771.4 389.5,2771.1 390.9,2770.7 392.2,2770.2 393.6,2769.8 395.0,2769.3 396.4,2768.9 397.7,2768.4 399.1,2767.9 400.5,2767.3 401.9,2766.8 403.2,2766.2 404.6,2765.6 406.0,2765.0 407.4,2764.4 408.7,2763.7 410.1,2763.0 411.5,2762.3 412.9,2761.5 414.2,2760.8 415.6,2760.0 417.0,2759.1 418.4,2758.2 419.7,2757.3 421.1,2756.4 422.5,2755.4 423.9,2754.4 425.2,2753.4 426.6,2752.3 428.0,2751.2 429.4,2750.0 430.7,2748.8 432.1,2747.5 433.5,2746.2 434.9,2744.8 436.2,2743.4 437.6,2741.9 439.0,2740.4 440.4,2738.8 441.7,2737.2 443.1,2735.5 444.5,2733.7 445.9,2731.9 447.2,2729.9 448.6,2728.0 450.0,2725.9 451.4,2723.8 452.7,2721.6 454.1,2719.3 455.5,2716.9 456.9,2714.4 458.2,2711.9 459.6,2709.3 461.0,2706.5 462.4,2703.7 463.7,2700.8 465.1,2697.7 466.5,2694.6 467.9,2691.3 469.2,2688.0 470.6,2684.5 472.0,2680.9 473.4,2677.3 474.7,2673.5 476.1,2669.5 477.5,2665.5 478.9,2661.4 480.2,2657.1 481.6,2652.7 483.0,2648.3 484.4,2643.7 485.7,2639.0 487.1,2634.2 488.5,2629.4 489.9,2624.4 491.2,2619.4 492.6,2614.3 494.0,2609.2 495.4,2604.0 496.7,2598.8 498.1,2593.6 499.5,2588.4 500.9,2583.2 502.2,2578.1 503.6,2573.0 505.0,2568.1 506.4,2563.2 507.7,2558.6 509.1,2554.1 510.5,2549.7 511.9,2545.7 513.2,2541.9 514.6,2538.3 516.0,2535.1 517.4,2532.2 518.7,2529.7 520.1,2527.5 521.5,2525.8 522.9,2524.4 524.2,2523.5 525.6,2523.0 527.0,2523.0 528.4,2523.3 529.7,2524.1 531.1,2525.4 532.5,2527.0 533.9,2529.1 535.2,2531.5 536.6,2534.3 538.0,2537.4 539.4,2540.8 540.7,2544.6 542.1,2548.6 543.5,2552.8 544.9,2557.2 546.2,2561.8 547.6,2566.6 549.0,2571.5 550.4,2576.5 551.7,2581.6 553.1,2586.7 554.5,2591.9 555.9,2597.1 557.2,2602.2 558.6,2607.4 560.0,2612.5 561.4,2617.6 562.7,2622.6 564.1,2627.5 565.5,2632.4 566.9,2637.1 568.2,2641.8 569.6,2646.4 571.0,2650.8 572.4,2655.2 573.7,2659.4 575.1,2663.6 576.5,2667.6 577.9,2671.5 579.2,2675.3 580.6,2679.0 582.0,2682.5 583.4,2686.0 584.7,2689.3 586.1,2692.6 587.5,2695.7 588.9,2698.7 590.2,2701.6 591.6,2704.5 593.0,2707.2 594.4,2709.8 595.7,2712.4 597.1,2714.8 598.5,2717.2 599.9,2719.4 601.2,2721.6 602.6,2723.7 604.0,2725.8 605.4,2727.7 606.7,2729.6 608.1,2731.4 609.5,2733.2 610.9,2734.9 612.2,2736.5 613.6,2738.1 615.0,2739.6 616.4,2741.0 617.7,2742.4 619.1,2743.8 620.5,2745.1 621.9,2746.3 623.2,2747.5 624.6,2748.7 626.0,2749.8 627.4,2750.8 628.7,2751.9 630.1,2752.9 631.5,2753.8 632.9,2754.7 634.2,2755.6 635.6,2756.4 637.0,2757.2 638.4,2758.0 639.7,2758.8 641.1,2759.5 642.5,2760.2 643.9,2760.9 645.2,2761.5 646.6,2762.1 648.0,2762.7 649.4,2763.3 650.7,2763.8 652.1,2764.3 653.5,2764.8 654.9,2765.3 656.2,2765.8 657.6,2766.2 659.0,2766.6 660.4,2767.1 661.7,2767.5 663.1,2767.8 664.5,2768.2 665.9,2768.5 667.2,2768.9 668.6,2769.2 670.0,2769.5 671.4,2769.8 672.7,2770.1 674.1,2770.3 675.5,2770.6 676.9,2770.8 678.2,2771.1 679.6,2771.3 681.0,2771.5 682.4,2771.7 683.7,2771.9 685.1,2772.1 686.5,2772.3 687.9,2772.5 689.2,2772.6 690.6,2772.8 692.0,2772.9 693.4,2773.1 694.7,2773.2 696.1,2773.3 697.5,2773.5 698.9,2773.6 700.2,2773.7 701.6,2773.8 703.0,2773.9 704.4,2774.0 705.7,2774.1 707.1,2774.2 708.5,2774.3 709.9,2774.4 711.2,2774.4 712.6,2774.5 714.0,2774.6 715.4,2774.6 716.7,2774.7 718.1,2774.8 719.5,2774.8 720.9,2774.9 722.2,2774.9 723.6,2774.9 725.0,2775.0 726.4,2775.0 727.7,2775.1 729.1,2775.1 730.5,2775.1 731.9,2775.2 733.2,2775.2 734.6,2775.2 736.0,2775.2 737.4,2775.3 738.7,2775.3 740.1,2775.3 741.5,2775.3 742.9,2775.3 744.2,2775.4 745.6,2775.4 747.0,2775.4 748.4,2775.4 749.7,2775.4 751.1,2775.4 752.5,2775.4 753.9,2775.4 755.2,2775.4 756.6,2775.4 758.0,2775.4 759.4,2775.4 760.7,2775.4 762.1,2775.4 763.5,2775.4 764.9,2775.4 766.2,2775.4 767.6,2775.4 769.0,2775.4 770.4,2775.4 771.7,2775.4 773.1,2775.4 774.5,2775.4 775.9,2775.4 777.2,2775.4 778.6,2775.4 780.0,2775.4 781.4,2775.4 782.7,2775.4 784.1,2775.3 785.5,2775.3 786.9,2775.3 788.2,2775.3 789.6,2775.3 791.0,2775.3 792.4,2775.3 793.7,2775.3 795.1,2775.3 796.5,2775.2 797.9,2775.2 799.2,2775.2 800.6,2775.2 802.0,2775.2 803.4,2775.2 804.7,2775.2 806.1,2775.2 807.5,2775.1 808.9,2775.1 810.2,2775.1 811.6,2775.1 813.0,2775.1 814.4,2775.1 815.7,2775.1 817.1,2775.1 818.5,2775.0 819.9,2775.0 821.2,2775.0 822.6,2775.0 824.0,2775.0 825.4,2775.0 826.7,2775.0 828.1,2774.9 829.5,2774.9 830.9,2774.9 832.2,2774.9 833.6,2774.9 835.0,2774.9 836.4,2774.8 837.7,2774.8 839.1,2774.8 840.5,2774.8 841.9,2774.8 843.2,2774.8 844.6,2774.8 846.0,2774.7 847.4,2774.7 848.7,2774.7 850.1,2774.7 851.5,2774.7 852.9,2774.7 854.2,2774.6 855.6,2774.6 857.0,2774.6 858.4,2774.6 859.7,2774.6 861.1,2774.6 862.5,2774.6 863.9,2774.5 865.2,2774.5 866.6,2774.5 868.0,2774.5 869.4,2774.5 870.7,2774.5 872.1,2774.4 873.5,2774.4 874.9,2774.4 876.2,2774.4 877.6,2774.4 879.0,2774.4 880.4,2774.3 881.7,2774.3 883.1,2774.3 884.5,2774.3 885.9,2774.3 887.2,2774.3 888.6,2774.3 890.0,2774.2 891.4,2774.2 892.7,2774.2 894.1,2774.2 895.5,2774.2 896.9,2774.2 898.2,2774.1 899.6,2774.1 901.0,2774.1 902.4,2774.1 903.7,2774.1 905.1,2774.1 906.5,2774.1 907.9,2774.0 909.2,2774.0 910.6,2774.0 912.0,2774.0 913.4,2774.0 914.7,2774.0 916.1,2773.9 917.5,2773.9 918.9,2773.9 920.2,2773.9 921.6,2773.9 923.0,2773.9 924.4,2773.8 925.7,2773.8 927.1,2773.8 928.5,2773.8 929.9,2773.8 931.2,2773.8 932.6,2773.7 934.0,2773.7 935.4,2773.7 936.7,2773.7 938.1,2773.7 939.5,2773.7 940.9,2773.7 942.2,2773.6 943.6,2773.6 945.0,2773.6 946.4,2773.6 947.7,2773.6 949.1,2773.6 950.5,2773.5 951.9,2773.5 953.2,2773.5 954.6,2773.5 956.0,2773.5 957.4,2773.5 958.7,2773.4 960.1,2773.4 961.5,2773.4 962.9,2773.4 964.2,2773.4 965.6,2773.4 967.0,2773.4 968.4,2773.3 969.7,2773.3 971.1,2773.3 972.5,2773.3 973.9,2773.3 975.2,2773.3 976.6,2773.2 978.0,2773.2 979.4,2773.2 980.7,2773.2 982.1,2773.2 983.5,2773.2 984.9,2773.1 986.2,2773.1 987.6,2773.1 989.0,2773.1 990.4,2773.1 991.7,2773.1 993.1,2773.1 994.5,2773.0 995.9,2773.0 997.2,2773.0 998.6,2773.0 1000.0,2773.0 1001.4,2773.0 1002.7,2772.9 1004.1,2772.9 1005.5,2772.9 1006.9,2772.9 1008.2,2772.9 1009.6,2772.9 1011.0,2772.8 1012.4,2772.8 1013.7,2772.8 1015.1,2772.8 1016.5,2772.8 1017.9,2772.8 1019.2,2772.8 1020.6,2772.7 1022.0,2772.7 1023.4,2772.7 1024.7,2772.7 1026.1,2772.7 1027.5,2772.7 1028.9,2772.6 1030.2,2772.6 1031.6,2772.6 1033.0,2772.6 1034.4,2772.6 1035.7,2772.6 1037.1,2772.5 1038.5,2772.5 1039.9,2772.5 1041.2,2772.5 1042.6,2772.5 1044.0,2772.5 1045.4,2772.5 1046.7,2772.4 1048.1,2772.4 1049.5,2772.4 1050.9,2772.4 1052.2,2772.4 1053.6,2772.4 1055.0,2772.3 1056.4,2772.3 1057.7,2772.3 1059.1,2772.3 1060.5,2772.3 1061.9,2772.3 1063.2,2772.2 1064.6,2772.2 1066.0,2772.2 1067.4,2772.2 1068.7,2772.2 1070.1,2772.2 1071.5,2772.2 1072.9,2772.1 1074.2,2772.1 1075.6,2772.1 1077.0,2772.1 1078.4,2772.1 1079.7,2772.1 1081.1,2772.0 1082.5,2772.0 1083.9,2772.0 1085.2,2772.0 1086.6,2772.0 1088.0,2772.0 1089.4,2771.9 1090.7,2771.9 1092.1,2771.9 1093.5,2771.9 1094.9,2771.9 1096.2,2771.9 1097.6,2771.8 1099.0,2771.8 1100.4,2771.8 1101.7,2771.8 1103.1,2771.8 1104.5,2771.8 1105.9,2771.8 1107.2,2771.7 1108.6,2771.7 1110.0,2771.7 1111.4,2771.7 1112.7,2771.7 1114.1,2771.7 1115.5,2771.6 1116.9,2771.6 1118.2,2771.6 1119.6,2771.6 1121.0,2771.6 1122.4,2771.6 1123.7,2771.5 1125.1,2771.5 1126.5,2771.5 1127.9,2771.5 1129.2,2771.5 1130.6,2771.5 1132.0,2771.5 1133.4,2771.4 1134.7,2771.4 1136.1,2771.4 1137.5,2771.4 1138.9,2771.4 1140.2,2771.4 1141.6,2771.3 1143.0,2771.3 1144.4,2771.3 1145.7,2771.3 1147.1,2771.3 1148.5,2771.3 1149.9,2771.2 1151.2,2771.2 1152.6,2771.2 1154.0,2771.2 1155.4,2771.2 1156.7,2771.2 1158.1,2771.2 1159.5,2771.1 1160.9,2771.1 1162.2,2771.1 1163.6,2771.1 1165.0,2771.1 1166.4,2771.1 1167.7,2771.0 1169.1,2771.0 1170.5,2771.0 1171.9,2771.0 1173.2,2771.0" fill="none" stroke="#bf73e6" stroke-width="3" stroke-linejoin="round" stroke-linecap="butt" />
<polyline points="170.9,2782.5 172.2,2782.5 173.6,2782.5 175.0,2782.5 176.4,2782.5 177.7,2782.4 179.1,2782.4 180.5,2782.4 181.9,2782.4 183.2,2782.4 184.6,2782.4 186.0,2782.3 187.4,2782.3 188.7,2782.3 190.1,2782.3 191.5,2782.3 192.9,2782.3 194.2,2782.3 195.6,2782.2 197.0,2782.2 198.4,2782.2 199.7,2782.2 201.1,2782.2 202.5,2782.2 203.9,2782.1 205.2,2782.1 206.6,2782.1 208.0,2782.1 209.4,2782.1 210.7,2782.1 212.1,2782.0 213.5,2782.0 214.9,2782.0 216.2,2782.0 217.6,2782.0 219.0,2782.0 220.4,2782.0 221.7,2781.9 223.1,2781.9 224.5,2781.9 225.9,2781.9 227.2,2781.9 228.6,2781.9 230.0,2781.8 231.4,2781.8 232.7,2781.8 234.1,2781.8 235.5,2781.8 236.9,2781.8 238.2,2781.7 239.6,2781.7 241.0,2781.7 242.4,2781.7 243.7,2781.7 245.1,2781.7 246.5,2781.7 247.9,2781.6 249.2,2781.6 250.6,2781.6 252.0,2781.6 253.4,2781.6 254.7,2781.6 256.1,2781.5 257.5,2781.5 258.9,2781.5 260.2,2781.5 261.6,2781.5 263.0,2781.5 264.4,2781.4 265.7,2781.4 267.1,2781.4 268.5,2781.4 269.9,2781.4 271.2,2781.4 272.6,2781.3 274.0,2781.3 275.4,2781.3 276.7,2781.3 278.1,2781.3 279.5,2781.3 280.9,2781.3 282.2,2781.2 283.6,2781.2 285.0,2781.2 286.4,2781.2 287.7,2781.2 289.1,2781.2 290.5,2781.1 291.9,2781.1 293.2,2781.1 294.6,2781.1 296.0,2781.1 297.4,2781.1 298.7,2781.0 300.1,2781.0 301.5,2781.0 302.9,2781.0 304.2,2781.0 305.6,2781.0 307.0,2781.0 308.4,2780.9 309.7,2780.9 311.1,2780.9 312.5,2780.9 313.9,2780.9 315.2,2780.9 316.6,2780.8 318.0,2780.8 319.4,2780.8 320.7,2780.8 322.1,2780.8 323.5,2780.8 324.9,2780.7 326.2,2780.7 327.6,2780.7 329.0,2780.7 330.4,2780.7 331.7,2780.7 333.1,2780.7 334.5,2780.6 335.9,2780.6 337.2,2780.6 338.6,2780.6 340.0,2780.6 341.4,2780.6 342.7,2780.5 344.1,2780.5 345.5,2780.5 346.9,2780.5 348.2,2780.5 349.6,2780.5 351.0,2780.4 352.4,2780.4 353.7,2780.4 355.1,2780.4 356.5,2780.4 357.9,2780.4 359.2,2780.4 360.6,2780.3 362.0,2780.3 363.4,2780.3 364.7,2780.3 366.1,2780.3 367.5,2780.3 368.9,2780.2 370.2,2780.2 371.6,2780.2 373.0,2780.2 374.4,2780.2 375.7,2780.2 377.1,2780.1 378.5,2780.1 379.9,2780.1 381.2,2780.1 382.6,2780.1 384.0,2780.1 385.4,2780.1 386.7,2780.0 388.1,2780.0 389.5,2780.0 390.9,2780.0 392.2,2780.0 393.6,2780.0 395.0,2779.9 396.4,2779.9 397.7,2779.9 399.1,2779.9 400.5,2779.9 401.9,2779.9 403.2,2779.8 404.6,2779.8 406.0,2779.8 407.4,2779.8 408.7,2779.8 410.1,2779.8 411.5,2779.8 412.9,2779.7 414.2,2779.7 415.6,2779.7 417.0,2779.7 418.4,2779.7 419.7,2779.7 421.1,2779.6 422.5,2779.6 423.9,2779.6 425.2,2779.6 426.6,2779.6 428.0,2779.6 429.4,2779.5 430.7,2779.5 432.1,2779.5 433.5,2779.5 434.9,2779.5 436.2,2779.5 437.6,2779.4 439.0,2779.4 440.4,2779.4 441.7,2779.4 443.1,2779.4 444.5,2779.4 445.9,2779.4 447.2,2779.3 448.6,2779.3 450.0,2779.3 451.4,2779.3 452.7,2779.3 454.1,2779.3 455.5,2779.2 456.9,2779.2 458.2,2779.2 459.6,2779.2 461.0,2779.2 462.4,2779.2 463.7,2779.1 465.1,2779.1 466.5,2779.1 467.9,2779.1 469.2,2779.1 470.6,2779.1 472.0,2779.1 473.4,2779.0 474.7,2779.0 476.1,2779.0 477.5,2779.0 478.9,2779.0 480.2,2779.0 481.6,2778.9 483.0,2778.9 484.4,2778.9 485.7,2778.9 487.1,2778.9 488.5,2778.9 489.9,2778.8 491.2,2778.8 492.6,2778.8 494.0,2778.8 495.4,2778.8 496.7,2778.8 498.1,2778.8 499.5,2778.7 500.9,2778.7 502.2,2778.7 503.6,2778.7 505.0,2778.7 506.4,2778.7 507.7,2778.6 509.1,2778.6 510.5,2778.6 511.9,2778.6 513.2,2778.6 514.6,2778.6 516.0,2778.5 517.4,2778.5 518.7,2778.5 520.1,2778.5 521.5,2778.5 522.9,2778.5 524.2,2778.5 525.6,2778.4 527.0,2778.4 528.4,2778.4 529.7,2778.4 531.1,2778.4 532.5,2778.4 533.9,2778.3 535.2,2778.3 536.6,2778.3 538.0,2778.3 539.4,2778.3 540.7,2778.3 542.1,2778.2 543.5,2778.2 544.9,2778.2 546.2,2778.2 547.6,2778.2 549.0,2778.2 550.4,2778.2 551.7,2778.1 553.1,2778.1 554.5,2778.1 555.9,2778.1 557.2,2778.1 558.6,2778.1 560.0,2778.0 561.4,2778.0 562.7,2778.0 564.1,2778.0 565.5,2778.0 566.9,2778.0 568.2,2777.9 569.6,2777.9 571.0,2777.9 572.4,2777.9 573.7,2777.9 575.1,2777.9 576.5,2777.9 577.9,2777.8 579.2,2777.8 580.6,2777.8 582.0,2777.8 583.4,2777.8 584.7,2777.8 586.1,2777.7 587.5,2777.7 588.9,2777.7 590.2,2777.7 591.6,2777.7 593.0,2777.7 594.4,2777.6 595.7,2777.6 597.1,2777.6 598.5,2777.6 599.9,2777.6 601.2,2777.6 602.6,2777.5 604.0,2777.5 605.4,2777.5 606.7,2777.5 608.1,2777.5 609.5,2777.5 610.9,2777.5 612.2,2777.4 613.6,2777.4 615.0,2777.4 616.4,2777.4 617.7,2777.4 619.1,2777.4 620.5,2777.3 621.9,2777.3 623.2,2777.3 624.6,2777.3 626.0,2777.3 627.4,2777.3 628.7,2777.2 630.1,2777.2 631.5,2777.2 632.9,2777.2 634.2,2777.2 635.6,2777.2 637.0,2777.2 638.4,2777.1 639.7,2777.1 641.1,2777.1 642.5,2777.1 643.9,2777.1 645.2,2777.1 646.6,2777.0 648.0,2777.0 649.4,2777.0 650.7,2777.0 652.1,2777.0 653.5,2777.0 654.9,2776.9 656.2,2776.9 657.6,2776.9 659.0,2776.9 660.4,2776.9 661.7,2776.9 663.1,2776.9 664.5,2776.8 665.9,2776.8 667.2,2776.8 668.6,2776.8 670.0,2776.8 671.4,2776.8" fill="none" stroke="#00cacb" stroke-width="3.6" stroke-linejoin="round" stroke-linecap="butt" />
</g>
<text x="190.3" y="2114.5" font-size="41" text-anchor="start" font-family="'Liberation Sans', sans-serif" font-weight="bold" >Ni 2p</text>
<text x="965.5" y="2125.9" font-size="42" text-anchor="start" font-family="'Liberation Sans', sans-serif" font-weight="bold" >Ni 2p<tspan font-size="29" dy="12">3/2</tspan></text>
<text x="474.0" y="2482.1" font-size="42" text-anchor="start" font-family="'Liberation Sans', sans-serif" font-weight="bold" >Ni 2p<tspan font-size="29" dy="12">1/2</tspan></text>
<text x="306.0" y="2521.7" font-size="42" text-anchor="start" font-family="'Liberation Sans', sans-serif" font-weight="bold" >Sat</text>
<text x="792.2" y="2429.2" font-size="42" text-anchor="start" font-family="'Liberation Sans', sans-serif" font-weight="bold" >Sat</text>
<line x1="368.4" y1="2630.5" x2="344.8" y2="2549.7" stroke="#000" stroke-width="3.0"/>
<polygon points="339.4,2531.3 352.4,2552.5 344.8,2549.7 339.9,2556.2" fill="#000"/>
<line x1="857.2" y1="2528.0" x2="831.3" y2="2458.0" stroke="#000" stroke-width="3.0"/>
<polygon points="824.6,2440.0 839.0,2460.2 831.3,2458.0 826.8,2464.8" fill="#000"/>
<path d="M1427.0 2867.6V2851.8M1566.2 2867.6V2851.8M1705.5 2867.6V2851.8M1844.8 2867.6V2851.8M1984.0 2867.6V2851.8M2123.2 2867.6V2851.8M2262.5 2867.6V2851.8M2401.8 2867.6V2851.8M1496.6 2867.6V2859.8M1635.9 2867.6V2859.8M1775.1 2867.6V2859.8M1914.4 2867.6V2859.8M2053.6 2867.6V2859.8M2192.9 2867.6V2859.8M2332.1 2867.6V2859.8" stroke="#000" stroke-width="3" fill="none"/>
<rect x="1419.9" y="2064.6" width="996.9" height="803.0" fill="none" stroke="#000" stroke-width="3.5"/>
<text x="1427.0" y="2921.5" font-size="45" text-anchor="middle" font-family="'Liberation Sans', sans-serif" font-weight="bold" >810</text>
<text x="1566.2" y="2921.5" font-size="45" text-anchor="middle" font-family="'Liberation Sans', sans-serif" font-weight="bold" >805</text>
<text x="1705.5" y="2921.5" font-size="45" text-anchor="middle" font-family="'Liberation Sans', sans-serif" font-weight="bold" >800</text>
<text x="1844.8" y="2921.5" font-size="45" text-anchor="middle" font-family="'Liberation Sans', sans-serif" font-weight="bold" >795</text>
<text x="1984.0" y="2921.5" font-size="45" text-anchor="middle" font-family="'Liberation Sans', sans-serif" font-weight="bold" >790</text>
<text x="2123.2" y="2921.5" font-size="45" text-anchor="middle" font-family="'Liberation Sans', sans-serif" font-weight="bold" >785</text>
<text x="2262.5" y="2921.5" font-size="45" text-anchor="middle" font-family="'Liberation Sans', sans-serif" font-weight="bold" >780</text>
<text x="2401.8" y="2921.5" font-size="45" text-anchor="middle" font-family="'Liberation Sans', sans-serif" font-weight="bold" >775</text>
<text x="1918.4" y="2997.8" font-size="45.8" text-anchor="middle" font-family="'Liberation Sans', sans-serif" font-weight="bold" >Binding energy [eV]</text>
<text transform="translate(1383.9 2466.1) rotate(-90)" font-size="45.8" text-anchor="middle" font-family="'Liberation Sans', sans-serif" font-weight="bold">Intensity [a.u.]</text>
<text x="1278.5" y="2168.3" font-size="99.5" font-family="'Liberation Sans', sans-serif" fill="#fff" stroke="#000" stroke-width="3" stroke-linejoin="round">(f<tspan dx="5">)</tspan></text>
<defs>
<clipPath id="cf"><rect x="1418.3" y="2063.0" width="1000.1" height="806.2"/></clipPath>
</defs>
<g clip-path="url(#cf)">
<polyline points="1418.6,2762.4 1421.4,2778.6 1424.2,2775.7 1427.0,2760.3 1429.8,2753.3 1432.6,2744.7 1435.4,2748.3 1438.1,2716.0 1440.9,2743.4 1443.7,2734.1 1446.5,2741.1 1449.3,2744.9 1452.1,2734.3 1454.9,2717.6 1457.6,2745.6 1460.4,2759.4 1463.2,2740.3 1466.0,2713.8 1468.8,2738.0 1471.6,2717.8 1474.3,2699.6 1477.1,2710.4 1479.9,2747.5 1482.7,2713.1 1485.5,2725.7 1488.3,2718.8 1491.1,2732.0 1493.8,2710.9 1496.6,2701.3 1499.4,2718.7 1502.2,2730.5 1505.0,2726.8 1507.8,2684.4 1510.6,2710.3 1513.3,2716.4 1516.1,2694.0 1518.9,2714.3 1521.7,2707.6 1524.5,2716.2 1527.3,2693.9 1530.0,2696.6 1532.8,2674.8 1535.6,2694.7 1538.4,2699.0 1541.2,2704.9 1544.0,2679.7 1546.8,2695.5 1549.5,2683.5 1552.3,2688.7 1555.1,2656.0 1557.9,2689.9 1560.7,2695.5 1563.5,2670.6 1566.3,2673.3 1569.0,2673.0 1571.8,2654.1 1574.6,2654.2 1577.4,2654.4 1580.2,2634.9 1583.0,2668.5 1585.7,2643.2 1588.5,2665.9 1591.3,2650.7 1594.1,2687.4 1596.9,2665.8 1599.7,2649.5 1602.5,2644.3 1605.2,2659.6 1608.0,2674.6 1610.8,2646.1 1613.6,2638.3 1616.4,2689.1 1619.2,2663.2 1622.0,2658.9 1624.7,2662.0 1627.5,2690.3 1630.3,2666.8 1633.1,2671.3 1635.9,2678.5 1638.7,2664.1 1641.4,2664.7 1644.2,2685.1 1647.0,2658.3 1649.8,2696.7 1652.6,2653.4 1655.4,2699.0 1658.2,2663.6 1660.9,2700.2 1663.7,2676.8 1666.5,2672.1 1669.3,2694.0 1672.1,2673.7 1674.9,2697.3 1677.7,2691.0 1680.4,2680.5 1683.2,2680.5 1686.0,2675.1 1688.8,2672.5 1691.6,2650.7 1694.4,2668.3 1697.1,2678.7 1699.9,2680.3 1702.7,2680.4 1705.5,2675.9 1708.3,2688.9 1711.1,2656.5 1713.9,2677.1 1716.6,2694.4 1719.4,2693.1 1722.2,2670.7 1725.0,2678.1 1727.8,2692.4 1730.6,2696.6 1733.4,2696.1 1736.1,2677.2 1738.9,2686.5 1741.7,2703.2 1744.5,2671.4 1747.3,2705.4 1750.1,2681.2 1752.8,2645.0 1755.6,2650.6 1758.4,2686.1 1761.2,2659.9 1764.0,2656.3 1766.8,2623.6 1769.6,2626.0 1772.3,2605.6 1775.1,2609.2 1777.9,2605.0 1780.7,2623.7 1783.5,2610.6 1786.3,2605.3 1789.1,2612.8 1791.8,2568.1 1794.6,2575.7 1797.4,2601.2 1800.2,2554.8 1803.0,2573.7 1805.8,2543.7 1808.5,2556.3 1811.3,2556.9 1814.1,2552.0 1816.9,2553.3 1819.7,2536.8 1822.5,2548.1 1825.3,2514.6 1828.0,2532.6 1830.8,2524.6 1833.6,2517.3 1836.4,2542.9 1839.2,2551.6 1842.0,2506.9 1844.8,2561.6 1847.5,2552.3 1850.3,2537.0 1853.1,2541.1 1855.9,2555.5 1858.7,2571.1 1861.5,2538.5 1864.2,2550.6 1867.0,2564.5 1869.8,2570.9 1872.6,2563.1 1875.4,2566.2 1878.2,2592.7 1881.0,2604.5 1883.7,2606.9 1886.5,2659.4 1889.3,2616.2 1892.1,2667.9 1894.9,2662.7 1897.7,2660.0 1900.5,2677.9 1903.2,2663.9 1906.0,2657.9 1908.8,2690.7 1911.6,2684.8 1914.4,2690.0 1917.2,2684.2 1919.9,2703.7 1922.7,2708.0 1925.5,2711.4 1928.3,2707.9 1931.1,2696.5 1933.9,2728.0 1936.7,2702.0 1939.4,2716.1 1942.2,2719.0 1945.0,2740.9 1947.8,2728.6 1950.6,2700.4 1953.4,2723.4 1956.2,2693.0 1958.9,2727.8 1961.7,2733.1 1964.5,2708.9 1967.3,2726.6 1970.1,2703.5 1972.9,2694.2 1975.6,2700.5 1978.4,2705.3 1981.2,2717.5 1984.0,2694.1 1986.8,2692.0 1989.6,2700.4 1992.4,2696.3 1995.1,2699.8 1997.9,2685.3 2000.7,2684.4 2003.5,2685.0 2006.3,2672.5 2009.1,2666.6 2011.9,2666.6 2014.6,2667.2 2017.4,2667.6 2020.2,2648.2 2023.0,2655.9 2025.8,2637.1 2028.6,2641.0 2031.3,2621.0 2034.1,2641.9 2036.9,2639.0 2039.7,2628.3 2042.5,2626.5 2045.3,2629.1 2048.1,2625.0 2050.8,2614.8 2053.6,2622.0 2056.4,2640.4 2059.2,2632.8 2062.0,2598.5 2064.8,2629.4 2067.6,2622.7 2070.3,2625.7 2073.1,2627.0 2075.9,2624.6 2078.7,2611.0 2081.5,2627.5 2084.3,2636.5 2087.0,2631.6 2089.8,2627.2 2092.6,2660.4 2095.4,2616.8 2098.2,2660.0 2101.0,2640.2 2103.8,2625.8 2106.5,2634.7 2109.3,2631.8 2112.1,2640.0 2114.9,2654.6 2117.7,2620.1 2120.5,2620.0 2123.3,2638.6 2126.0,2643.1 2128.8,2644.1 2131.6,2643.6 2134.4,2645.0 2137.2,2628.6 2140.0,2651.8 2142.7,2620.9 2145.5,2653.9 2148.3,2661.6 2151.1,2647.9 2153.9,2639.5 2156.7,2645.0 2159.5,2635.8 2162.2,2642.9 2165.0,2642.9 2167.8,2635.1 2170.6,2640.4 2173.4,2628.4 2176.2,2615.2 2179.0,2624.7 2181.7,2562.1 2184.5,2597.6 2187.3,2554.7 2190.1,2526.0 2192.9,2512.0 2195.7,2479.3 2198.4,2474.5 2201.2,2471.4 2204.0,2448.1 2206.8,2429.8 2209.6,2413.2 2212.4,2428.6 2215.2,2407.6 2217.9,2410.0 2220.7,2420.1 2223.5,2422.5 2226.3,2393.0 2229.1,2385.1 2231.9,2386.0 2234.7,2337.6 2237.4,2312.0 2240.2,2297.3 2243.0,2304.8 2245.8,2278.5 2248.6,2268.9 2251.4,2233.8 2254.1,2217.5 2256.9,2199.3 2259.7,2189.2 2262.5,2159.2 2265.3,2159.6 2268.1,2159.1 2270.9,2159.1 2273.6,2159.1 2276.4,2159.0 2279.2,2159.0 2282.0,2177.7 2284.8,2163.6 2287.6,2190.6 2290.4,2233.8 2293.1,2213.9 2295.9,2270.3 2298.7,2290.4 2301.5,2292.8 2304.3,2316.8 2307.1,2353.2 2309.8,2382.3 2312.6,2413.1 2315.4,2437.4 2318.2,2470.0 2321.0,2500.9 2323.8,2497.5 2326.6,2541.6 2329.3,2542.4 2332.1,2559.9 2334.9,2590.9 2337.7,2613.7 2340.5,2653.1 2343.3,2665.0 2346.1,2679.6 2348.8,2689.8 2351.6,2682.5 2354.4,2720.0 2357.2,2701.6 2360.0,2702.6 2362.8,2717.5 2365.5,2717.0 2368.3,2769.9 2371.1,2739.8 2373.9,2737.9 2376.7,2744.0 2379.5,2746.4 2382.3,2752.9 2385.0,2757.1 2387.8,2756.0 2390.6,2741.8 2393.4,2772.3 2396.2,2763.0 2399.0,2746.9 2401.8,2762.5 2404.5,2760.9 2407.3,2776.3 2410.1,2773.0 2412.9,2757.8 2415.7,2793.6" fill="none" stroke="#000" stroke-width="3.0" stroke-linejoin="round" stroke-linecap="butt" />
<polyline points="1418.6,2771.3 1420.0,2771.0 1421.4,2770.7 1422.8,2770.4 1424.2,2770.0 1425.6,2769.7 1427.0,2769.4 1428.4,2769.0 1429.8,2768.7 1431.2,2768.3 1432.6,2767.9 1434.0,2767.5 1435.4,2767.1 1436.7,2766.7 1438.1,2766.3 1439.5,2765.9 1440.9,2765.4 1442.3,2765.0 1443.7,2764.5 1445.1,2764.0 1446.5,2763.5 1447.9,2763.0 1449.3,2762.5 1450.7,2762.0 1452.1,2761.5 1453.5,2760.9 1454.8,2760.4 1456.2,2759.8 1457.6,2759.2 1459.0,2758.6 1460.4,2758.0 1461.8,2757.3 1463.2,2756.7 1464.6,2756.0 1466.0,2755.4 1467.4,2754.7 1468.8,2754.0 1470.2,2753.2 1471.6,2752.5 1473.0,2751.7 1474.3,2751.0 1475.7,2750.2 1477.1,2749.4 1478.5,2748.5 1479.9,2747.7 1481.3,2746.8 1482.7,2746.0 1484.1,2745.1 1485.5,2744.2 1486.9,2743.2 1488.3,2742.3 1489.7,2741.3 1491.1,2740.3 1492.4,2739.3 1493.8,2738.3 1495.2,2737.2 1496.6,2736.2 1498.0,2735.1 1499.4,2734.0 1500.8,2732.9 1502.2,2731.7 1503.6,2730.6 1505.0,2729.4 1506.4,2728.2 1507.8,2727.0 1509.2,2725.8 1510.5,2724.5 1511.9,2723.3 1513.3,2722.0 1514.7,2720.7 1516.1,2719.4 1517.5,2718.1 1518.9,2716.7 1520.3,2715.4 1521.7,2714.0 1523.1,2712.6 1524.5,2711.2 1525.9,2709.8 1527.3,2708.4 1528.7,2707.0 1530.0,2705.5 1531.4,2704.1 1532.8,2702.6 1534.2,2701.2 1535.6,2699.7 1537.0,2698.2 1538.4,2696.8 1539.8,2695.3 1541.2,2693.8 1542.6,2692.4 1544.0,2690.9 1545.4,2689.4 1546.8,2688.0 1548.1,2686.6 1549.5,2685.1 1550.9,2683.7 1552.3,2682.3 1553.7,2680.9 1555.1,2679.6 1556.5,2678.2 1557.9,2676.9 1559.3,2675.6 1560.7,2674.3 1562.1,2673.1 1563.5,2671.9 1564.9,2670.7 1566.2,2669.6 1567.6,2668.5 1569.0,2667.4 1570.4,2666.4 1571.8,2665.4 1573.2,2664.5 1574.6,2663.6 1576.0,2662.8 1577.4,2662.0 1578.8,2661.2 1580.2,2660.5 1581.6,2659.9 1583.0,2659.4 1584.4,2658.8 1585.7,2658.4 1587.1,2658.0 1588.5,2657.6 1589.9,2657.4 1591.3,2657.2 1592.7,2657.0 1594.1,2656.9 1595.5,2656.9 1596.9,2656.9 1598.3,2657.0 1599.7,2657.1 1601.1,2657.3 1602.5,2657.6 1603.8,2657.9 1605.2,2658.3 1606.6,2658.8 1608.0,2659.3 1609.4,2659.8 1610.8,2660.4 1612.2,2661.1 1613.6,2661.8 1615.0,2662.5 1616.4,2663.3 1617.8,2664.1 1619.2,2665.0 1620.6,2665.9 1621.9,2666.9 1623.3,2667.9 1624.7,2668.9 1626.1,2669.9 1627.5,2671.0 1628.9,2672.1 1630.3,2673.2 1631.7,2674.4 1633.1,2675.5 1634.5,2676.7 1635.9,2677.9 1637.3,2679.1 1638.7,2680.3 1640.1,2681.6 1641.4,2682.8 1642.8,2684.0 1644.2,2685.3 1645.6,2686.5 1647.0,2687.7 1648.4,2689.0 1649.8,2690.2 1651.2,2691.4 1652.6,2692.6 1654.0,2693.8 1655.4,2695.0 1656.8,2696.2 1658.2,2697.4 1659.5,2698.5 1660.9,2699.6 1662.3,2700.7 1663.7,2701.8 1665.1,2702.9 1666.5,2703.9 1667.9,2705.0 1669.3,2705.9 1670.7,2706.9 1672.1,2707.9 1673.5,2708.8 1674.9,2709.7 1676.3,2710.5 1677.6,2711.3 1679.0,2712.1 1680.4,2712.9 1681.8,2713.6 1683.2,2714.3 1684.6,2715.0 1686.0,2715.6 1687.4,2716.2 1688.8,2716.8 1690.2,2717.3 1691.6,2717.8 1693.0,2718.3 1694.4,2718.7 1695.8,2719.0 1697.1,2719.4 1698.5,2719.7 1699.9,2719.9 1701.3,2720.1 1702.7,2720.3 1704.1,2720.4 1705.5,2720.5 1706.9,2720.5 1708.3,2720.5 1709.7,2720.5 1711.1,2720.4 1712.5,2720.2 1713.9,2720.0 1715.2,2719.8 1716.6,2719.5 1718.0,2719.1 1719.4,2718.7 1720.8,2718.3 1722.2,2717.8 1723.6,2717.2 1725.0,2716.6 1726.4,2716.0 1727.8,2715.2 1729.2,2714.4 1730.6,2713.6 1732.0,2712.7 1733.3,2711.7 1734.7,2710.7 1736.1,2709.6 1737.5,2708.4 1738.9,2707.2 1740.3,2705.9 1741.7,2704.5 1743.1,2703.1 1744.5,2701.5 1745.9,2700.0 1747.3,2698.3 1748.7,2696.5 1750.1,2694.7 1751.5,2692.8 1752.8,2690.8 1754.2,2688.8 1755.6,2686.6 1757.0,2684.3 1758.4,2682.0 1759.8,2679.6 1761.2,2677.1 1762.6,2674.5 1764.0,2671.8 1765.4,2669.0 1766.8,2666.1 1768.2,2663.1 1769.6,2660.1 1770.9,2656.9 1772.3,2653.6 1773.7,2650.3 1775.1,2646.8 1776.5,2643.3 1777.9,2639.6 1779.3,2635.9 1780.7,2632.1 1782.1,2628.2 1783.5,2624.3 1784.9,2620.2 1786.3,2616.1 1787.7,2612.0 1789.0,2607.7 1790.4,2603.5 1791.8,2599.2 1793.2,2594.8 1794.6,2590.5 1796.0,2586.1 1797.4,2581.8 1798.8,2577.4 1800.2,2573.1 1801.6,2568.9 1803.0,2564.7 1804.4,2560.5 1805.8,2556.5 1807.2,2552.6 1808.5,2548.9 1809.9,2545.2 1811.3,2541.8 1812.7,2538.5 1814.1,2535.5 1815.5,2532.7 1816.9,2530.1 1818.3,2527.8 1819.7,2525.7 1821.1,2523.9 1822.5,2522.4 1823.9,2521.3 1825.3,2520.4 1826.6,2519.9 1828.0,2519.6 1829.4,2519.7 1830.8,2520.2 1832.2,2520.9 1833.6,2522.0 1835.0,2523.3 1836.4,2525.0 1837.8,2526.9 1839.2,2529.1 1840.6,2531.6 1842.0,2534.3 1843.4,2537.2 1844.7,2540.4 1846.1,2543.7 1847.5,2547.2 1848.9,2550.8 1850.3,2554.6 1851.7,2558.5 1853.1,2562.5 1854.5,2566.6 1855.9,2570.8 1857.3,2575.0 1858.7,2579.2 1860.1,2583.4 1861.5,2587.7 1862.9,2591.9 1864.2,2596.2 1865.6,2600.4 1867.0,2604.5 1868.4,2608.7 1869.8,2612.7 1871.2,2616.7 1872.6,2620.7 1874.0,2624.5 1875.4,2628.3 1876.8,2632.0 1878.2,2635.7 1879.6,2639.2 1881.0,2642.7 1882.3,2646.0 1883.7,2649.3 1885.1,2652.5 1886.5,2655.6 1887.9,2658.6 1889.3,2661.5 1890.7,2664.3 1892.1,2667.0 1893.5,2669.6 1894.9,2672.2 1896.3,2674.6 1897.7,2677.0 1899.1,2679.3 1900.4,2681.4 1901.8,2683.5 1903.2,2685.6 1904.6,2687.5 1906.0,2689.4 1907.4,2691.1 1908.8,2692.8 1910.2,2694.5 1911.6,2696.0 1913.0,2697.5 1914.4,2698.9 1915.8,2700.3 1917.2,2701.5 1918.6,2702.7 1919.9,2703.9 1921.3,2705.0 1922.7,2706.0 1924.1,2706.9 1925.5,2707.8 1926.9,2708.6 1928.3,2709.4 1929.7,2710.1 1931.1,2710.8 1932.5,2711.4 1933.9,2712.0 1935.3,2712.5 1936.7,2712.9 1938.0,2713.3 1939.4,2713.7 1940.8,2714.0 1942.2,2714.2 1943.6,2714.4 1945.0,2714.6 1946.4,2714.7 1947.8,2714.7 1949.2,2714.7 1950.6,2714.7 1952.0,2714.6 1953.4,2714.5 1954.8,2714.3 1956.1,2714.1 1957.5,2713.9 1958.9,2713.6 1960.3,2713.2 1961.7,2712.8 1963.1,2712.4 1964.5,2711.9 1965.9,2711.4 1967.3,2710.9 1968.7,2710.3 1970.1,2709.6 1971.5,2708.9 1972.9,2708.2 1974.3,2707.4 1975.6,2706.6 1977.0,2705.8 1978.4,2704.9 1979.8,2703.9 1981.2,2703.0 1982.6,2701.9 1984.0,2700.9 1985.4,2699.8 1986.8,2698.6 1988.2,2697.5 1989.6,2696.2 1991.0,2695.0 1992.4,2693.7 1993.7,2692.3 1995.1,2690.9 1996.5,2689.5 1997.9,2688.0 1999.3,2686.6 2000.7,2685.0 2002.1,2683.4 2003.5,2681.8 2004.9,2680.2 2006.3,2678.5 2007.7,2676.8 2009.1,2675.1 2010.5,2673.4 2011.8,2671.6 2013.2,2669.8 2014.6,2667.9 2016.0,2666.1 2017.4,2664.2 2018.8,2662.4 2020.2,2660.5 2021.6,2658.6 2023.0,2656.7 2024.4,2654.8 2025.8,2652.9 2027.2,2651.0 2028.6,2649.2 2030.0,2647.3 2031.3,2645.5 2032.7,2643.7 2034.1,2641.9 2035.5,2640.2 2036.9,2638.5 2038.3,2636.9 2039.7,2635.3 2041.1,2633.7 2042.5,2632.3 2043.9,2630.9 2045.3,2629.5 2046.7,2628.3 2048.1,2627.1 2049.4,2626.0 2050.8,2625.0 2052.2,2624.1 2053.6,2623.3 2055.0,2622.6 2056.4,2622.0 2057.8,2621.5 2059.2,2621.1 2060.6,2620.9 2062.0,2620.7 2063.4,2620.6 2064.8,2620.7 2066.2,2620.8 2067.5,2621.1 2068.9,2621.4 2070.3,2621.9 2071.7,2622.5 2073.1,2623.1 2074.5,2623.9 2075.9,2624.7 2077.3,2625.6 2078.7,2626.6 2080.1,2627.7 2081.5,2628.8 2082.9,2630.0 2084.3,2631.2 2085.7,2632.5 2087.0,2633.9 2088.4,2635.3 2089.8,2636.7 2091.2,2638.1 2092.6,2639.6 2094.0,2641.1 2095.4,2642.6 2096.8,2644.1 2098.2,2645.6 2099.6,2647.1 2101.0,2648.6 2102.4,2650.0 2103.8,2651.5 2105.1,2652.9 2106.5,2654.3 2107.9,2655.7 2109.3,2657.0 2110.7,2658.3 2112.1,2659.6 2113.5,2660.8 2114.9,2661.9 2116.3,2663.0 2117.7,2664.1 2119.1,2665.1 2120.5,2666.0 2121.9,2666.8 2123.2,2667.6 2124.6,2668.3 2126.0,2669.0 2127.4,2669.5 2128.8,2670.0 2130.2,2670.4 2131.6,2670.7 2133.0,2670.9 2134.4,2671.0 2135.8,2671.0 2137.2,2670.9 2138.6,2670.7 2140.0,2670.3 2141.4,2669.9 2142.7,2669.3 2144.1,2668.7 2145.5,2667.8 2146.9,2666.9 2148.3,2665.8 2149.7,2664.5 2151.1,2663.1 2152.5,2661.5 2153.9,2659.8 2155.3,2657.8 2156.7,2655.7 2158.1,2653.4 2159.5,2650.9 2160.8,2648.2 2162.2,2645.2 2163.6,2642.0 2165.0,2638.6 2166.4,2634.9 2167.8,2630.9 2169.2,2626.7 2170.6,2622.1 2172.0,2617.3 2173.4,2612.2 2174.8,2606.7 2176.2,2600.9 2177.6,2594.8 2178.9,2588.4 2180.3,2581.6 2181.7,2574.5 2183.1,2567.0 2184.5,2559.3 2185.9,2551.3 2187.3,2543.0 2188.7,2534.5 2190.1,2525.8 2191.5,2517.0 2192.9,2508.2 2194.3,2499.3 2195.7,2490.5 2197.1,2481.9 2198.4,2473.5 2199.8,2465.4 2201.2,2457.7 2202.6,2450.5 2204.0,2443.8 2205.4,2437.6 2206.8,2431.9 2208.2,2426.8 2209.6,2422.2 2211.0,2418.1 2212.4,2414.4 2213.8,2411.0 2215.2,2407.9 2216.5,2404.8 2217.9,2401.9 2219.3,2398.9 2220.7,2395.7 2222.1,2392.3 2223.5,2388.7 2224.9,2384.7 2226.3,2380.2 2227.7,2375.3 2229.1,2370.0 2230.5,2364.1 2231.9,2357.7 2233.3,2350.9 2234.6,2343.4 2236.0,2335.6 2237.4,2327.2 2238.8,2318.4 2240.2,2309.2 2241.6,2299.6 2243.0,2289.8 2244.4,2279.7 2245.8,2269.4 2247.2,2259.1 2248.6,2248.7 2250.0,2238.5 2251.4,2228.4 2252.8,2218.5 2254.1,2209.1 2255.5,2200.1 2256.9,2191.8 2258.3,2184.1 2259.7,2177.2 2261.1,2171.2 2262.5,2166.1 2263.9,2162.1 2265.3,2159.3 2266.7,2157.6 2268.1,2157.1 2269.5,2157.9 2270.9,2160.0 2272.2,2163.3 2273.6,2167.8 2275.0,2173.5 2276.4,2180.4 2277.8,2188.4 2279.2,2197.4 2280.6,2207.3 2282.0,2218.1 2283.4,2229.7 2284.8,2241.9 2286.2,2254.7 2287.6,2268.0 2289.0,2281.7 2290.3,2295.7 2291.7,2309.8 2293.1,2324.1 2294.5,2338.5 2295.9,2352.9 2297.3,2367.1 2298.7,2381.3 2300.1,2395.3 2301.5,2409.1 2302.9,2422.6 2304.3,2435.9 2305.7,2448.8 2307.1,2461.5 2308.5,2473.8 2309.8,2485.7 2311.2,2497.3 2312.6,2508.5 2314.0,2519.4 2315.4,2529.8 2316.8,2539.9 2318.2,2549.7 2319.6,2559.1 2321.0,2568.1 2322.4,2576.8 2323.8,2585.2 2325.2,2593.2 2326.6,2600.9 2327.9,2608.3 2329.3,2615.4 2330.7,2622.2 2332.1,2628.7 2333.5,2634.9 2334.9,2640.9 2336.3,2646.6 2337.7,2652.1 2339.1,2657.3 2340.5,2662.3 2341.9,2667.1 2343.3,2671.7 2344.7,2676.1 2346.0,2680.3 2347.4,2684.3 2348.8,2688.1 2350.2,2691.8 2351.6,2695.3 2353.0,2698.6 2354.4,2701.8 2355.8,2704.8 2357.2,2707.7 2358.6,2710.5 2360.0,2713.2 2361.4,2715.7 2362.8,2718.1 2364.2,2720.4 2365.5,2722.6 2366.9,2724.7 2368.3,2726.7 2369.7,2728.6 2371.1,2730.4 2372.5,2732.1 2373.9,2733.8 2375.3,2735.3 2376.7,2736.8 2378.1,2738.3 2379.5,2739.6 2380.9,2740.9 2382.3,2742.2 2383.6,2743.3 2385.0,2744.5 2386.4,2745.5 2387.8,2746.5 2389.2,2747.5 2390.6,2748.4 2392.0,2749.3 2393.4,2750.1 2394.8,2750.9 2396.2,2751.7 2397.6,2752.4 2399.0,2753.0 2400.4,2753.7 2401.7,2754.3 2403.1,2754.9 2404.5,2755.4 2405.9,2756.0 2407.3,2756.5 2408.7,2756.9 2410.1,2757.4 2411.5,2757.8 2412.9,2758.2 2414.3,2758.6 2415.7,2758.9 2417.1,2759.3" fill="none" stroke="#f5323c" stroke-width="2.8" stroke-linejoin="round" stroke-linecap="butt" />
<polyline points="1418.6,2780.0 1420.0,2780.0 1421.4,2780.0 1422.8,2780.0 1424.2,2779.9 1425.6,2779.9 1427.0,2779.9 1428.4,2779.9 1429.8,2779.9 1431.2,2779.8 1432.6,2779.8 1434.0,2779.8 1435.4,2779.8 1436.7,2779.8 1438.1,2779.7 1439.5,2779.7 1440.9,2779.7 1442.3,2779.7 1443.7,2779.7 1445.1,2779.6 1446.5,2779.6 1447.9,2779.6 1449.3,2779.6 1450.7,2779.6 1452.1,2779.5 1453.5,2779.5 1454.8,2779.5 1456.2,2779.5 1457.6,2779.5 1459.0,2779.5 1460.4,2779.4 1461.8,2779.4 1463.2,2779.4 1464.6,2779.4 1466.0,2779.4 1467.4,2779.3 1468.8,2779.3 1470.2,2779.3 1471.6,2779.3 1473.0,2779.3 1474.3,2779.2 1475.7,2779.2 1477.1,2779.2 1478.5,2779.2 1479.9,2779.2 1481.3,2779.1 1482.7,2779.1 1484.1,2779.1 1485.5,2779.1 1486.9,2779.1 1488.3,2779.0 1489.7,2779.0 1491.1,2779.0 1492.4,2779.0 1493.8,2779.0 1495.2,2778.9 1496.6,2778.9 1498.0,2778.9 1499.4,2778.9 1500.8,2778.9 1502.2,2778.8 1503.6,2778.8 1505.0,2778.8 1506.4,2778.8 1507.8,2778.8 1509.2,2778.7 1510.5,2778.7 1511.9,2778.7 1513.3,2778.7 1514.7,2778.7 1516.1,2778.6 1517.5,2778.6 1518.9,2778.6 1520.3,2778.6 1521.7,2778.6 1523.1,2778.6 1524.5,2778.5 1525.9,2778.5 1527.3,2778.5 1528.7,2778.5 1530.0,2778.5 1531.4,2778.4 1532.8,2778.4 1534.2,2778.4 1535.6,2778.4 1537.0,2778.4 1538.4,2778.3 1539.8,2778.3 1541.2,2778.3 1542.6,2778.3 1544.0,2778.3 1545.4,2778.2 1546.8,2778.2 1548.1,2778.2 1549.5,2778.2 1550.9,2778.2 1552.3,2778.1 1553.7,2778.1 1555.1,2778.1 1556.5,2778.1 1557.9,2778.1 1559.3,2778.0 1560.7,2778.0 1562.1,2778.0 1563.5,2778.0 1564.9,2778.0 1566.2,2777.9 1567.6,2777.9 1569.0,2777.9 1570.4,2777.9 1571.8,2777.9 1573.2,2777.8 1574.6,2777.8 1576.0,2777.8 1577.4,2777.8 1578.8,2777.8 1580.2,2777.7 1581.6,2777.7 1583.0,2777.7 1584.4,2777.7 1585.7,2777.7 1587.1,2777.7 1588.5,2777.6 1589.9,2777.6 1591.3,2777.6 1592.7,2777.6 1594.1,2777.6 1595.5,2777.5 1596.9,2777.5 1598.3,2777.5 1599.7,2777.5 1601.1,2777.5 1602.5,2777.4 1603.8,2777.4 1605.2,2777.4 1606.6,2777.4 1608.0,2777.4 1609.4,2777.3 1610.8,2777.3 1612.2,2777.3 1613.6,2777.3 1615.0,2777.3 1616.4,2777.2 1617.8,2777.2 1619.2,2777.2 1620.6,2777.2 1621.9,2777.2 1623.3,2777.1 1624.7,2777.1 1626.1,2777.1 1627.5,2777.1 1628.9,2777.1 1630.3,2777.0 1631.7,2777.0 1633.1,2777.0 1634.5,2777.0 1635.9,2777.0 1637.3,2776.9 1638.7,2776.9 1640.1,2776.9 1641.4,2776.9 1642.8,2776.9 1644.2,2776.8 1645.6,2776.8 1647.0,2776.8 1648.4,2776.8 1649.8,2776.8 1651.2,2776.8 1652.6,2776.7 1654.0,2776.7 1655.4,2776.7 1656.8,2776.7 1658.2,2776.7 1659.5,2776.6 1660.9,2776.6 1662.3,2776.6 1663.7,2776.6 1665.1,2776.6 1666.5,2776.5 1667.9,2776.5 1669.3,2776.5 1670.7,2776.5 1672.1,2776.5 1673.5,2776.4 1674.9,2776.4 1676.3,2776.4 1677.6,2776.4 1679.0,2776.4 1680.4,2776.3 1681.8,2776.3 1683.2,2776.3 1684.6,2776.3 1686.0,2776.3 1687.4,2776.2 1688.8,2776.2 1690.2,2776.2 1691.6,2776.2 1693.0,2776.2 1694.4,2776.1 1695.8,2776.1 1697.1,2776.1 1698.5,2776.1 1699.9,2776.1 1701.3,2776.0 1702.7,2776.0 1704.1,2776.0 1705.5,2776.0 1706.9,2776.0 1708.3,2776.0 1709.7,2775.9 1711.1,2775.9 1712.5,2775.9 1713.9,2775.9 1715.2,2775.9 1716.6,2775.8 1718.0,2775.8 1719.4,2775.8 1720.8,2775.8 1722.2,2775.8 1723.6,2775.7 1725.0,2775.7 1726.4,2775.7 1727.8,2775.7 1729.2,2775.7 1730.6,2775.6 1732.0,2775.6 1733.3,2775.6 1734.7,2775.6 1736.1,2775.6 1737.5,2775.5 1738.9,2775.5 1740.3,2775.5 1741.7,2775.5 1743.1,2775.5 1744.5,2775.4 1745.9,2775.4 1747.3,2775.4 1748.7,2775.4 1750.1,2775.4 1751.5,2775.3 1752.8,2775.3 1754.2,2775.3 1755.6,2775.3 1757.0,2775.3 1758.4,2775.2 1759.8,2775.2 1761.2,2775.2 1762.6,2775.2 1764.0,2775.2 1765.4,2775.1 1766.8,2775.1 1768.2,2775.1 1769.6,2775.1 1770.9,2775.1 1772.3,2775.1 1773.7,2775.0 1775.1,2775.0 1776.5,2775.0 1777.9,2775.0 1779.3,2775.0 1780.7,2774.9 1782.1,2774.9 1783.5,2774.9 1784.9,2774.9 1786.3,2774.9 1787.7,2774.8 1789.0,2774.8 1790.4,2774.8 1791.8,2774.8 1793.2,2774.8 1794.6,2774.7 1796.0,2774.7 1797.4,2774.7 1798.8,2774.7 1800.2,2774.7 1801.6,2774.6 1803.0,2774.6 1804.4,2774.6 1805.8,2774.6 1807.2,2774.6 1808.5,2774.5 1809.9,2774.5 1811.3,2774.5 1812.7,2774.5 1814.1,2774.5 1815.5,2774.4 1816.9,2774.4 1818.3,2774.4 1819.7,2774.4 1821.1,2774.4 1822.5,2774.3 1823.9,2774.3 1825.3,2774.3 1826.6,2774.3 1828.0,2774.3 1829.4,2774.2 1830.8,2774.2 1832.2,2774.2 1833.6,2774.2 1835.0,2774.2 1836.4,2774.2 1837.8,2774.1 1839.2,2774.1 1840.6,2774.1 1842.0,2774.1 1843.4,2774.1 1844.7,2774.0 1846.1,2774.0 1847.5,2774.0 1848.9,2774.0 1850.3,2774.0 1851.7,2773.9 1853.1,2773.9 1854.5,2773.9 1855.9,2773.9 1857.3,2773.9 1858.7,2773.8 1860.1,2773.8 1861.5,2773.8 1862.9,2773.8 1864.2,2773.8 1865.6,2773.7 1867.0,2773.7 1868.4,2773.7 1869.8,2773.7 1871.2,2773.7 1872.6,2773.6 1874.0,2773.6 1875.4,2773.6 1876.8,2773.6 1878.2,2773.6 1879.6,2773.5 1881.0,2773.5 1882.3,2773.5 1883.7,2773.5 1885.1,2773.5 1886.5,2773.4 1887.9,2773.4 1889.3,2773.4 1890.7,2773.4 1892.1,2773.4 1893.5,2773.3 1894.9,2773.3 1896.3,2773.3 1897.7,2773.3 1899.1,2773.3 1900.4,2773.3 1901.8,2773.2 1903.2,2773.2 1904.6,2773.2 1906.0,2773.2 1907.4,2773.2 1908.8,2773.1 1910.2,2773.1 1911.6,2773.1 1913.0,2773.1 1914.4,2773.1 1915.8,2773.0 1917.2,2773.0 1918.6,2773.0 1919.9,2773.0 1921.3,2773.0 1922.7,2772.9 1924.1,2772.9 1925.5,2772.9 1926.9,2772.9 1928.3,2772.9 1929.7,2772.8 1931.1,2772.8 1932.5,2772.8 1933.9,2772.8 1935.3,2772.8 1936.7,2772.7 1938.0,2772.7 1939.4,2772.7 1940.8,2772.7 1942.2,2772.7 1943.6,2772.6 1945.0,2772.6 1946.4,2772.6 1947.8,2772.6 1949.2,2772.6 1950.6,2772.5 1952.0,2772.5 1953.4,2772.5 1954.8,2772.5 1956.1,2772.5 1957.5,2772.5 1958.9,2772.4 1960.3,2772.4 1961.7,2772.4 1963.1,2772.4 1964.5,2772.4 1965.9,2772.3 1967.3,2772.3 1968.7,2772.3 1970.1,2772.3 1971.5,2772.3 1972.9,2772.2 1974.3,2772.2 1975.6,2772.2 1977.0,2772.2 1978.4,2772.2 1979.8,2772.1 1981.2,2772.1 1982.6,2772.1 1984.0,2772.1 1985.4,2772.1 1986.8,2772.0 1988.2,2772.0 1989.6,2772.0 1991.0,2772.0 1992.4,2772.0 1993.7,2771.9 1995.1,2771.9 1996.5,2771.9 1997.9,2771.9 1999.3,2771.9 2000.7,2771.8 2002.1,2771.8 2003.5,2771.8 2004.9,2771.8 2006.3,2771.8 2007.7,2771.7 2009.1,2771.7 2010.5,2771.7 2011.8,2771.7 2013.2,2771.7 2014.6,2771.6 2016.0,2771.6 2017.4,2771.6 2018.8,2771.6 2020.2,2771.6 2021.6,2771.6 2023.0,2771.5 2024.4,2771.5 2025.8,2771.5 2027.2,2771.5 2028.6,2771.5 2030.0,2771.4 2031.3,2771.4 2032.7,2771.4 2034.1,2771.4 2035.5,2771.4 2036.9,2771.3 2038.3,2771.3 2039.7,2771.3 2041.1,2771.3 2042.5,2771.3 2043.9,2771.2 2045.3,2771.2 2046.7,2771.2 2048.1,2771.2 2049.4,2771.2 2050.8,2771.1 2052.2,2771.1 2053.6,2771.1 2055.0,2771.1 2056.4,2771.1 2057.8,2771.0 2059.2,2771.0 2060.6,2771.0 2062.0,2771.0 2063.4,2771.0 2064.8,2770.9 2066.2,2770.9 2067.5,2770.9 2068.9,2770.9 2070.3,2770.9 2071.7,2770.8 2073.1,2770.8 2074.5,2770.8 2075.9,2770.8 2077.3,2770.8 2078.7,2770.7 2080.1,2770.7 2081.5,2770.7 2082.9,2770.7 2084.3,2770.7 2085.7,2770.7 2087.0,2770.6 2088.4,2770.6 2089.8,2770.6 2091.2,2770.6 2092.6,2770.6 2094.0,2770.5 2095.4,2770.5 2096.8,2770.5 2098.2,2770.5 2099.6,2770.5 2101.0,2770.4 2102.4,2770.4 2103.8,2770.4 2105.1,2770.4 2106.5,2770.4 2107.9,2770.3 2109.3,2770.3 2110.7,2770.3 2112.1,2770.3 2113.5,2770.3 2114.9,2770.2 2116.3,2770.2 2117.7,2770.2 2119.1,2770.2 2120.5,2770.2 2121.9,2770.1 2123.2,2770.1 2124.6,2770.1 2126.0,2770.1 2127.4,2770.1 2128.8,2770.0 2130.2,2770.0 2131.6,2770.0 2133.0,2770.0 2134.4,2770.0 2135.8,2769.9 2137.2,2769.9 2138.6,2769.9 2140.0,2769.9 2141.4,2769.9 2142.7,2769.8 2144.1,2769.8 2145.5,2769.8 2146.9,2769.8 2148.3,2769.8 2149.7,2769.8 2151.1,2769.7 2152.5,2769.7 2153.9,2769.7 2155.3,2769.7 2156.7,2769.7 2158.1,2769.6 2159.5,2769.6 2160.8,2769.6 2162.2,2769.6 2163.6,2769.6 2165.0,2769.5 2166.4,2769.5 2167.8,2769.5 2169.2,2769.5 2170.6,2769.5 2172.0,2769.4 2173.4,2769.4 2174.8,2769.4 2176.2,2769.4 2177.6,2769.4 2178.9,2769.3 2180.3,2769.3 2181.7,2769.3 2183.1,2769.3 2184.5,2769.3 2185.9,2769.2 2187.3,2769.2 2188.7,2769.2 2190.1,2769.2 2191.5,2769.2 2192.9,2769.1 2194.3,2769.1 2195.7,2769.1 2197.1,2769.1 2198.4,2769.1 2199.8,2769.0 2201.2,2769.0 2202.6,2769.0 2204.0,2769.0 2205.4,2769.0 2206.8,2769.0 2208.2,2768.9 2209.6,2768.9 2211.0,2768.9 2212.4,2768.9 2213.8,2768.9 2215.2,2768.8 2216.5,2768.8 2217.9,2768.8 2219.3,2768.8 2220.7,2768.8 2222.1,2768.7 2223.5,2768.7 2224.9,2768.7 2226.3,2768.7 2227.7,2768.7 2229.1,2768.6 2230.5,2768.6 2231.9,2768.6 2233.3,2768.6 2234.6,2768.6 2236.0,2768.5 2237.4,2768.5 2238.8,2768.5 2240.2,2768.5 2241.6,2768.5 2243.0,2768.4 2244.4,2768.4 2245.8,2768.4 2247.2,2768.4 2248.6,2768.4 2250.0,2768.3 2251.4,2768.3 2252.8,2768.3 2254.1,2768.3 2255.5,2768.3 2256.9,2768.2 2258.3,2768.2 2259.7,2768.2 2261.1,2768.2 2262.5,2768.2 2263.9,2768.1 2265.3,2768.1 2266.7,2768.1 2268.1,2768.1 2269.5,2768.1 2270.9,2768.1 2272.2,2768.0 2273.6,2768.0 2275.0,2768.0 2276.4,2768.0 2277.8,2768.0 2279.2,2767.9 2280.6,2767.9 2282.0,2767.9 2283.4,2767.9 2284.8,2767.9 2286.2,2767.8 2287.6,2767.8 2289.0,2767.8 2290.3,2767.8 2291.7,2767.8 2293.1,2767.7 2294.5,2767.7 2295.9,2767.7 2297.3,2767.7 2298.7,2767.7 2300.1,2767.6 2301.5,2767.6 2302.9,2767.6 2304.3,2767.6 2305.7,2767.6 2307.1,2767.5 2308.5,2767.5 2309.8,2767.5 2311.2,2767.5 2312.6,2767.5 2314.0,2767.4 2315.4,2767.4 2316.8,2767.4 2318.2,2767.4 2319.6,2767.4 2321.0,2767.3 2322.4,2767.3 2323.8,2767.3 2325.2,2767.3 2326.6,2767.3 2327.9,2767.2 2329.3,2767.2 2330.7,2767.2 2332.1,2767.2 2333.5,2767.2 2334.9,2767.2 2336.3,2767.1 2337.7,2767.1 2339.1,2767.1 2340.5,2767.1 2341.9,2767.1 2343.3,2767.0 2344.7,2767.0 2346.0,2767.0 2347.4,2767.0 2348.8,2767.0 2350.2,2766.9 2351.6,2766.9 2353.0,2766.9 2354.4,2766.9 2355.8,2766.9 2357.2,2766.8 2358.6,2766.8 2360.0,2766.8 2361.4,2766.8 2362.8,2766.8 2364.2,2766.7 2365.5,2766.7 2366.9,2766.7 2368.3,2766.7 2369.7,2766.7 2371.1,2766.6 2372.5,2766.6 2373.9,2766.6 2375.3,2766.6 2376.7,2766.6 2378.1,2766.5 2379.5,2766.5 2380.9,2766.5 2382.3,2766.5 2383.6,2766.5 2385.0,2766.4 2386.4,2766.4 2387.8,2766.4 2389.2,2766.4 2390.6,2766.4 2392.0,2766.3 2393.4,2766.3 2394.8,2766.3 2396.2,2766.3 2397.6,2766.3 2399.0,2766.3 2400.4,2766.2 2401.7,2766.2 2403.1,2766.2 2404.5,2766.2 2405.9,2766.2 2407.3,2766.1 2408.7,2766.1 2410.1,2766.1 2411.5,2766.1 2412.9,2766.1 2414.3,2766.0 2415.7,2766.0 2417.1,2766.0" fill="none" stroke="#dc9a00" stroke-width="3" stroke-linejoin="round" stroke-linecap="butt" />
<polyline points="1418.6,2780.0 1420.0,2780.0 1421.4,2780.0 1422.8,2780.0 1424.2,2779.9 1425.6,2779.9 1427.0,2779.9 1428.4,2779.9 1429.8,2779.9 1431.2,2779.8 1432.6,2779.8 1434.0,2779.8 1435.4,2779.8 1436.7,2779.8 1438.1,2779.7 1439.5,2779.7 1440.9,2779.7 1442.3,2779.7 1443.7,2779.7 1445.1,2779.6 1446.5,2779.6 1447.9,2779.6 1449.3,2779.6 1450.7,2779.6 1452.1,2779.5 1453.5,2779.5 1454.8,2779.5 1456.2,2779.5 1457.6,2779.5 1459.0,2779.5 1460.4,2779.4 1461.8,2779.4 1463.2,2779.4 1464.6,2779.4 1466.0,2779.4 1467.4,2779.3 1468.8,2779.3 1470.2,2779.3 1471.6,2779.3 1473.0,2779.3 1474.3,2779.2 1475.7,2779.2 1477.1,2779.2 1478.5,2779.2 1479.9,2779.2 1481.3,2779.1 1482.7,2779.1 1484.1,2779.1 1485.5,2779.1 1486.9,2779.1 1488.3,2779.0 1489.7,2779.0 1491.1,2779.0 1492.4,2779.0 1493.8,2779.0 1495.2,2778.9 1496.6,2778.9 1498.0,2778.9 1499.4,2778.9 1500.8,2778.9 1502.2,2778.8 1503.6,2778.8 1505.0,2778.8 1506.4,2778.8 1507.8,2778.8 1509.2,2778.7 1510.5,2778.7 1511.9,2778.7 1513.3,2778.7 1514.7,2778.7 1516.1,2778.6 1517.5,2778.6 1518.9,2778.6 1520.3,2778.6 1521.7,2778.6 1523.1,2778.6 1524.5,2778.5 1525.9,2778.5 1527.3,2778.5 1528.7,2778.5 1530.0,2778.5 1531.4,2778.4 1532.8,2778.4 1534.2,2778.4 1535.6,2778.4 1537.0,2778.4 1538.4,2778.3 1539.8,2778.3 1541.2,2778.3 1542.6,2778.3 1544.0,2778.3 1545.4,2778.2 1546.8,2778.2 1548.1,2778.2 1549.5,2778.2 1550.9,2778.2 1552.3,2778.1 1553.7,2778.1 1555.1,2778.1 1556.5,2778.1 1557.9,2778.1 1559.3,2778.0 1560.7,2778.0 1562.1,2778.0 1563.5,2778.0 1564.9,2778.0 1566.2,2777.9 1567.6,2777.9 1569.0,2777.9 1570.4,2777.9 1571.8,2777.9 1573.2,2777.8 1574.6,2777.8 1576.0,2777.8 1577.4,2777.8 1578.8,2777.8 1580.2,2777.7 1581.6,2777.7 1583.0,2777.7 1584.4,2777.7 1585.7,2777.7 1587.1,2777.7 1588.5,2777.6 1589.9,2777.6 1591.3,2777.6 1592.7,2777.6 1594.1,2777.6 1595.5,2777.5 1596.9,2777.5 1598.3,2777.5 1599.7,2777.5 1601.1,2777.5 1602.5,2777.4 1603.8,2777.4 1605.2,2777.4 1606.6,2777.4 1608.0,2777.4 1609.4,2777.3 1610.8,2777.3 1612.2,2777.3 1613.6,2777.3 1615.0,2777.3 1616.4,2777.2 1617.8,2777.2 1619.2,2777.2 1620.6,2777.2 1621.9,2777.2 1623.3,2777.1 1624.7,2777.1 1626.1,2777.1 1627.5,2777.1 1628.9,2777.1 1630.3,2777.0 1631.7,2777.0 1633.1,2777.0 1634.5,2777.0 1635.9,2777.0 1637.3,2776.9 1638.7,2776.9 1640.1,2776.9 1641.4,2776.9 1642.8,2776.9 1644.2,2776.8 1645.6,2776.8 1647.0,2776.8 1648.4,2776.8 1649.8,2776.8 1651.2,2776.8 1652.6,2776.7 1654.0,2776.7 1655.4,2776.7 1656.8,2776.7 1658.2,2776.7 1659.5,2776.6 1660.9,2776.6 1662.3,2776.6 1663.7,2776.6 1665.1,2776.6 1666.5,2776.5 1667.9,2776.5 1669.3,2776.5 1670.7,2776.5 1672.1,2776.5 1673.5,2776.4 1674.9,2776.4 1676.3,2776.4 1677.6,2776.4 1679.0,2776.4 1680.4,2776.3 1681.8,2776.3 1683.2,2776.3 1684.6,2776.3 1686.0,2776.3 1687.4,2776.2 1688.8,2776.2 1690.2,2776.2 1691.6,2776.2 1693.0,2776.2 1694.4,2776.1 1695.8,2776.1 1697.1,2776.1 1698.5,2776.1 1699.9,2776.1 1701.3,2776.0 1702.7,2776.0 1704.1,2776.0 1705.5,2776.0 1706.9,2776.0 1708.3,2776.0 1709.7,2775.9 1711.1,2775.9 1712.5,2775.9 1713.9,2775.9 1715.2,2775.9 1716.6,2775.8 1718.0,2775.8 1719.4,2775.8 1720.8,2775.8 1722.2,2775.8 1723.6,2775.7 1725.0,2775.7 1726.4,2775.7 1727.8,2775.7 1729.2,2775.7 1730.6,2775.6 1732.0,2775.6 1733.3,2775.6 1734.7,2775.6 1736.1,2775.6 1737.5,2775.5 1738.9,2775.5 1740.3,2775.5 1741.7,2775.5 1743.1,2775.5 1744.5,2775.4 1745.9,2775.4 1747.3,2775.4 1748.7,2775.4 1750.1,2775.4 1751.5,2775.3 1752.8,2775.3 1754.2,2775.3 1755.6,2775.3 1757.0,2775.3 1758.4,2775.2 1759.8,2775.2 1761.2,2775.2 1762.6,2775.2 1764.0,2775.2 1765.4,2775.1 1766.8,2775.1 1768.2,2775.1 1769.6,2775.1 1770.9,2775.1 1772.3,2775.1 1773.7,2775.0 1775.1,2775.0 1776.5,2775.0 1777.9,2775.0 1779.3,2775.0 1780.7,2774.9 1782.1,2774.9 1783.5,2774.9 1784.9,2774.9 1786.3,2774.9 1787.7,2774.8 1789.0,2774.8 1790.4,2774.8 1791.8,2774.8 1793.2,2774.8 1794.6,2774.7 1796.0,2774.7 1797.4,2774.7 1798.8,2774.7 1800.2,2774.7 1801.6,2774.6 1803.0,2774.6 1804.4,2774.6 1805.8,2774.6 1807.2,2774.6 1808.5,2774.5 1809.9,2774.5 1811.3,2774.5 1812.7,2774.5 1814.1,2774.5 1815.5,2774.4 1816.9,2774.4 1818.3,2774.4 1819.7,2774.4 1821.1,2774.4 1822.5,2774.3 1823.9,2774.3 1825.3,2774.3 1826.6,2774.3 1828.0,2774.3 1829.4,2774.2 1830.8,2774.2 1832.2,2774.2 1833.6,2774.2 1835.0,2774.2 1836.4,2774.2 1837.8,2774.1 1839.2,2774.1 1840.6,2774.1 1842.0,2774.1 1843.4,2774.1 1844.7,2774.0 1846.1,2774.0 1847.5,2774.0 1848.9,2774.0 1850.3,2774.0 1851.7,2773.9 1853.1,2773.9 1854.5,2773.9 1855.9,2773.9 1857.3,2773.9 1858.7,2773.8 1860.1,2773.8 1861.5,2773.8 1862.9,2773.8 1864.2,2773.8 1865.6,2773.7 1867.0,2773.7 1868.4,2773.7 1869.8,2773.7 1871.2,2773.7 1872.6,2773.6 1874.0,2773.6 1875.4,2773.6 1876.8,2773.6 1878.2,2773.6 1879.6,2773.5 1881.0,2773.5 1882.3,2773.5 1883.7,2773.5 1885.1,2773.5 1886.5,2773.4 1887.9,2773.4 1889.3,2773.4 1890.7,2773.4 1892.1,2773.4 1893.5,2773.3 1894.9,2773.3 1896.3,2773.3 1897.7,2773.3 1899.1,2773.3 1900.4,2773.3 1901.8,2773.2 1903.2,2773.2 1904.6,2773.2 1906.0,2773.2 1907.4,2773.2 1908.8,2773.1 1910.2,2773.1 1911.6,2773.1 1913.0,2773.1 1914.4,2773.1 1915.8,2773.0 1917.2,2773.0 1918.6,2773.0 1919.9,2773.0 1921.3,2773.0 1922.7,2772.9 1924.1,2772.9 1925.5,2772.9 1926.9,2772.9 1928.3,2772.9 1929.7,2772.8 1931.1,2772.8 1932.5,2772.8 1933.9,2772.8 1935.3,2772.8 1936.7,2772.7 1938.0,2772.7 1939.4,2772.7 1940.8,2772.7 1942.2,2772.7 1943.6,2772.6 1945.0,2772.6 1946.4,2772.6 1947.8,2772.6 1949.2,2772.6 1950.6,2772.5 1952.0,2772.5 1953.4,2772.5 1954.8,2772.5 1956.1,2772.5 1957.5,2772.4 1958.9,2772.4 1960.3,2772.4 1961.7,2772.4 1963.1,2772.4 1964.5,2772.4 1965.9,2772.3 1967.3,2772.3 1968.7,2772.3 1970.1,2772.3 1971.5,2772.3 1972.9,2772.2 1974.3,2772.2 1975.6,2772.2 1977.0,2772.2 1978.4,2772.2 1979.8,2772.1 1981.2,2772.1 1982.6,2772.1 1984.0,2772.1 1985.4,2772.1 1986.8,2772.0 1988.2,2772.0 1989.6,2772.0 1991.0,2772.0 1992.4,2772.0 1993.7,2771.9 1995.1,2771.9 1996.5,2771.9 1997.9,2771.9 1999.3,2771.9 2000.7,2771.8 2002.1,2771.8 2003.5,2771.8 2004.9,2771.8 2006.3,2771.8 2007.7,2771.7 2009.1,2771.7 2010.5,2771.7 2011.8,2771.7 2013.2,2771.6 2014.6,2771.6 2016.0,2771.6 2017.4,2771.6 2018.8,2771.6 2020.2,2771.5 2021.6,2771.5 2023.0,2771.5 2024.4,2771.5 2025.8,2771.4 2027.2,2771.4 2028.6,2771.4 2030.0,2771.4 2031.3,2771.4 2032.7,2771.3 2034.1,2771.3 2035.5,2771.3 2036.9,2771.3 2038.3,2771.2 2039.7,2771.2 2041.1,2771.2 2042.5,2771.1 2043.9,2771.1 2045.3,2771.1 2046.7,2771.1 2048.1,2771.0 2049.4,2771.0 2050.8,2771.0 2052.2,2770.9 2053.6,2770.9 2055.0,2770.9 2056.4,2770.8 2057.8,2770.8 2059.2,2770.8 2060.6,2770.7 2062.0,2770.7 2063.4,2770.6 2064.8,2770.6 2066.2,2770.5 2067.5,2770.5 2068.9,2770.4 2070.3,2770.4 2071.7,2770.3 2073.1,2770.3 2074.5,2770.2 2075.9,2770.2 2077.3,2770.1 2078.7,2770.0 2080.1,2770.0 2081.5,2769.9 2082.9,2769.8 2084.3,2769.7 2085.7,2769.6 2087.0,2769.6 2088.4,2769.5 2089.8,2769.4 2091.2,2769.3 2092.6,2769.2 2094.0,2769.0 2095.4,2768.9 2096.8,2768.8 2098.2,2768.7 2099.6,2768.5 2101.0,2768.4 2102.4,2768.2 2103.8,2768.1 2105.1,2767.9 2106.5,2767.7 2107.9,2767.5 2109.3,2767.3 2110.7,2767.1 2112.1,2766.9 2113.5,2766.7 2114.9,2766.4 2116.3,2766.1 2117.7,2765.9 2119.1,2765.6 2120.5,2765.3 2121.9,2765.0 2123.2,2764.6 2124.6,2764.3 2126.0,2763.9 2127.4,2763.5 2128.8,2763.1 2130.2,2762.7 2131.6,2762.2 2133.0,2761.7 2134.4,2761.2 2135.8,2760.7 2137.2,2760.1 2138.6,2759.5 2140.0,2758.9 2141.4,2758.3 2142.7,2757.6 2144.1,2756.8 2145.5,2756.1 2146.9,2755.3 2148.3,2754.4 2149.7,2753.6 2151.1,2752.6 2152.5,2751.7 2153.9,2750.6 2155.3,2749.6 2156.7,2748.4 2158.1,2747.3 2159.5,2746.0 2160.8,2744.7 2162.2,2743.3 2163.6,2741.9 2165.0,2740.4 2166.4,2738.8 2167.8,2737.1 2169.2,2735.4 2170.6,2733.6 2172.0,2731.6 2173.4,2729.6 2174.8,2727.5 2176.2,2725.3 2177.6,2723.0 2178.9,2720.6 2180.3,2718.0 2181.7,2715.4 2183.1,2712.6 2184.5,2709.6 2185.9,2706.6 2187.3,2703.4 2188.7,2700.0 2190.1,2696.5 2191.5,2692.8 2192.9,2688.9 2194.3,2684.9 2195.7,2680.7 2197.1,2676.3 2198.4,2671.6 2199.8,2666.8 2201.2,2661.7 2202.6,2656.5 2204.0,2650.9 2205.4,2645.2 2206.8,2639.2 2208.2,2632.9 2209.6,2626.3 2211.0,2619.4 2212.4,2612.3 2213.8,2604.9 2215.2,2597.1 2216.5,2589.0 2217.9,2580.6 2219.3,2571.9 2220.7,2562.8 2222.1,2553.4 2223.5,2543.6 2224.9,2533.4 2226.3,2523.0 2227.7,2512.1 2229.1,2500.9 2230.5,2489.4 2231.9,2477.5 2233.3,2465.3 2234.6,2452.8 2236.0,2440.1 2237.4,2427.0 2238.8,2413.8 2240.2,2400.3 2241.6,2386.7 2243.0,2373.0 2244.4,2359.2 2245.8,2345.5 2247.2,2331.9 2248.6,2318.4 2250.0,2305.1 2251.4,2292.2 2252.8,2279.7 2254.1,2267.7 2255.5,2256.4 2256.9,2245.7 2258.3,2235.8 2259.7,2226.9 2261.1,2218.9 2262.5,2212.0 2263.9,2206.2 2265.3,2201.7 2266.7,2198.4 2268.1,2196.4 2269.5,2195.7 2270.9,2196.3 2272.2,2198.3 2273.6,2201.5 2275.0,2206.1 2276.4,2211.8 2277.8,2218.7 2279.2,2226.6 2280.6,2235.5 2282.0,2245.3 2283.4,2256.0 2284.8,2267.3 2286.2,2279.3 2287.6,2291.7 2289.0,2304.6 2290.3,2317.8 2291.7,2331.2 2293.1,2344.8 2294.5,2358.5 2295.9,2372.2 2297.3,2385.9 2298.7,2399.5 2300.1,2412.9 2301.5,2426.1 2302.9,2439.1 2304.3,2451.9 2305.7,2464.3 2307.1,2476.5 2308.5,2488.3 2309.8,2499.8 2311.2,2510.9 2312.6,2521.7 2314.0,2532.2 2315.4,2542.3 2316.8,2552.0 2318.2,2561.4 2319.6,2570.5 2321.0,2579.2 2322.4,2587.5 2323.8,2595.6 2325.2,2603.3 2326.6,2610.7 2327.9,2617.8 2329.3,2624.6 2330.7,2631.1 2332.1,2637.4 2333.5,2643.4 2334.9,2649.1 2336.3,2654.6 2337.7,2659.8 2339.1,2664.8 2340.5,2669.6 2341.9,2674.2 2343.3,2678.6 2344.7,2682.8 2346.0,2686.8 2347.4,2690.6 2348.8,2694.3 2350.2,2697.7 2351.6,2701.1 2353.0,2704.2 2354.4,2707.3 2355.8,2710.1 2357.2,2712.9 2358.6,2715.5 2360.0,2718.0 2361.4,2720.4 2362.8,2722.7 2364.2,2724.9 2365.5,2726.9 2366.9,2728.9 2368.3,2730.8 2369.7,2732.6 2371.1,2734.3 2372.5,2735.9 2373.9,2737.5 2375.3,2738.9 2376.7,2740.3 2378.1,2741.7 2379.5,2742.9 2380.9,2744.1 2382.3,2745.3 2383.6,2746.4 2385.0,2747.4 2386.4,2748.4 2387.8,2749.3 2389.2,2750.2 2390.6,2751.0 2392.0,2751.8 2393.4,2752.6 2394.8,2753.3 2396.2,2754.0 2397.6,2754.7 2399.0,2755.3 2400.4,2755.8 2401.7,2756.4 2403.1,2756.9 2404.5,2757.4 2405.9,2757.9 2407.3,2758.3 2408.7,2758.7 2410.1,2759.1 2411.5,2759.5 2412.9,2759.9 2414.3,2760.2 2415.7,2760.5 2417.1,2760.8" fill="none" stroke="#00a45f" stroke-width="3.2" stroke-linejoin="round" stroke-linecap="butt" />
<polyline points="1418.6,2780.0 1420.0,2780.0 1421.4,2780.0 1422.8,2780.0 1424.2,2779.9 1425.6,2779.9 1427.0,2779.9 1428.4,2779.9 1429.8,2779.9 1431.2,2779.8 1432.6,2779.8 1434.0,2779.8 1435.4,2779.8 1436.7,2779.8 1438.1,2779.7 1439.5,2779.7 1440.9,2779.7 1442.3,2779.7 1443.7,2779.7 1445.1,2779.6 1446.5,2779.6 1447.9,2779.6 1449.3,2779.6 1450.7,2779.6 1452.1,2779.5 1453.5,2779.5 1454.8,2779.5 1456.2,2779.5 1457.6,2779.5 1459.0,2779.4 1460.4,2779.4 1461.8,2779.4 1463.2,2779.4 1464.6,2779.4 1466.0,2779.3 1467.4,2779.3 1468.8,2779.3 1470.2,2779.3 1471.6,2779.3 1473.0,2779.2 1474.3,2779.2 1475.7,2779.2 1477.1,2779.2 1478.5,2779.2 1479.9,2779.1 1481.3,2779.1 1482.7,2779.1 1484.1,2779.1 1485.5,2779.1 1486.9,2779.0 1488.3,2779.0 1489.7,2779.0 1491.1,2779.0 1492.4,2779.0 1493.8,2778.9 1495.2,2778.9 1496.6,2778.9 1498.0,2778.9 1499.4,2778.9 1500.8,2778.8 1502.2,2778.8 1503.6,2778.8 1505.0,2778.8 1506.4,2778.8 1507.8,2778.7 1509.2,2778.7 1510.5,2778.7 1511.9,2778.7 1513.3,2778.7 1514.7,2778.6 1516.1,2778.6 1517.5,2778.6 1518.9,2778.6 1520.3,2778.6 1521.7,2778.5 1523.1,2778.5 1524.5,2778.5 1525.9,2778.5 1527.3,2778.5 1528.7,2778.4 1530.0,2778.4 1531.4,2778.4 1532.8,2778.4 1534.2,2778.3 1535.6,2778.3 1537.0,2778.3 1538.4,2778.3 1539.8,2778.3 1541.2,2778.2 1542.6,2778.2 1544.0,2778.2 1545.4,2778.2 1546.8,2778.2 1548.1,2778.1 1549.5,2778.1 1550.9,2778.1 1552.3,2778.1 1553.7,2778.1 1555.1,2778.0 1556.5,2778.0 1557.9,2778.0 1559.3,2778.0 1560.7,2777.9 1562.1,2777.9 1563.5,2777.9 1564.9,2777.9 1566.2,2777.9 1567.6,2777.8 1569.0,2777.8 1570.4,2777.8 1571.8,2777.8 1573.2,2777.8 1574.6,2777.7 1576.0,2777.7 1577.4,2777.7 1578.8,2777.7 1580.2,2777.6 1581.6,2777.6 1583.0,2777.6 1584.4,2777.6 1585.7,2777.6 1587.1,2777.5 1588.5,2777.5 1589.9,2777.5 1591.3,2777.5 1592.7,2777.4 1594.1,2777.4 1595.5,2777.4 1596.9,2777.4 1598.3,2777.3 1599.7,2777.3 1601.1,2777.3 1602.5,2777.3 1603.8,2777.3 1605.2,2777.2 1606.6,2777.2 1608.0,2777.2 1609.4,2777.2 1610.8,2777.1 1612.2,2777.1 1613.6,2777.1 1615.0,2777.1 1616.4,2777.0 1617.8,2777.0 1619.2,2777.0 1620.6,2777.0 1621.9,2776.9 1623.3,2776.9 1624.7,2776.9 1626.1,2776.9 1627.5,2776.8 1628.9,2776.8 1630.3,2776.8 1631.7,2776.8 1633.1,2776.7 1634.5,2776.7 1635.9,2776.7 1637.3,2776.7 1638.7,2776.6 1640.1,2776.6 1641.4,2776.6 1642.8,2776.5 1644.2,2776.5 1645.6,2776.5 1647.0,2776.5 1648.4,2776.4 1649.8,2776.4 1651.2,2776.4 1652.6,2776.4 1654.0,2776.3 1655.4,2776.3 1656.8,2776.3 1658.2,2776.2 1659.5,2776.2 1660.9,2776.2 1662.3,2776.1 1663.7,2776.1 1665.1,2776.1 1666.5,2776.1 1667.9,2776.0 1669.3,2776.0 1670.7,2776.0 1672.1,2775.9 1673.5,2775.9 1674.9,2775.9 1676.3,2775.8 1677.6,2775.8 1679.0,2775.8 1680.4,2775.7 1681.8,2775.7 1683.2,2775.7 1684.6,2775.6 1686.0,2775.6 1687.4,2775.6 1688.8,2775.5 1690.2,2775.5 1691.6,2775.5 1693.0,2775.4 1694.4,2775.4 1695.8,2775.4 1697.1,2775.3 1698.5,2775.3 1699.9,2775.2 1701.3,2775.2 1702.7,2775.2 1704.1,2775.1 1705.5,2775.1 1706.9,2775.1 1708.3,2775.0 1709.7,2775.0 1711.1,2774.9 1712.5,2774.9 1713.9,2774.8 1715.2,2774.8 1716.6,2774.8 1718.0,2774.7 1719.4,2774.7 1720.8,2774.6 1722.2,2774.6 1723.6,2774.5 1725.0,2774.5 1726.4,2774.4 1727.8,2774.4 1729.2,2774.4 1730.6,2774.3 1732.0,2774.3 1733.3,2774.2 1734.7,2774.2 1736.1,2774.1 1737.5,2774.1 1738.9,2774.0 1740.3,2774.0 1741.7,2773.9 1743.1,2773.8 1744.5,2773.8 1745.9,2773.7 1747.3,2773.7 1748.7,2773.6 1750.1,2773.6 1751.5,2773.5 1752.8,2773.5 1754.2,2773.4 1755.6,2773.3 1757.0,2773.3 1758.4,2773.2 1759.8,2773.1 1761.2,2773.1 1762.6,2773.0 1764.0,2773.0 1765.4,2772.9 1766.8,2772.8 1768.2,2772.7 1769.6,2772.7 1770.9,2772.6 1772.3,2772.5 1773.7,2772.5 1775.1,2772.4 1776.5,2772.3 1777.9,2772.2 1779.3,2772.2 1780.7,2772.1 1782.1,2772.0 1783.5,2771.9 1784.9,2771.8 1786.3,2771.8 1787.7,2771.7 1789.0,2771.6 1790.4,2771.5 1791.8,2771.4 1793.2,2771.3 1794.6,2771.2 1796.0,2771.1 1797.4,2771.0 1798.8,2771.0 1800.2,2770.9 1801.6,2770.8 1803.0,2770.7 1804.4,2770.6 1805.8,2770.5 1807.2,2770.3 1808.5,2770.2 1809.9,2770.1 1811.3,2770.0 1812.7,2769.9 1814.1,2769.8 1815.5,2769.7 1816.9,2769.6 1818.3,2769.4 1819.7,2769.3 1821.1,2769.2 1822.5,2769.1 1823.9,2768.9 1825.3,2768.8 1826.6,2768.7 1828.0,2768.5 1829.4,2768.4 1830.8,2768.3 1832.2,2768.1 1833.6,2768.0 1835.0,2767.8 1836.4,2767.7 1837.8,2767.5 1839.2,2767.4 1840.6,2767.2 1842.0,2767.0 1843.4,2766.9 1844.7,2766.7 1846.1,2766.5 1847.5,2766.4 1848.9,2766.2 1850.3,2766.0 1851.7,2765.8 1853.1,2765.6 1854.5,2765.5 1855.9,2765.3 1857.3,2765.1 1858.7,2764.9 1860.1,2764.7 1861.5,2764.5 1862.9,2764.2 1864.2,2764.0 1865.6,2763.8 1867.0,2763.6 1868.4,2763.3 1869.8,2763.1 1871.2,2762.9 1872.6,2762.6 1874.0,2762.4 1875.4,2762.1 1876.8,2761.9 1878.2,2761.6 1879.6,2761.3 1881.0,2761.1 1882.3,2760.8 1883.7,2760.5 1885.1,2760.2 1886.5,2759.9 1887.9,2759.6 1889.3,2759.3 1890.7,2759.0 1892.1,2758.7 1893.5,2758.3 1894.9,2758.0 1896.3,2757.7 1897.7,2757.3 1899.1,2756.9 1900.4,2756.6 1901.8,2756.2 1903.2,2755.8 1904.6,2755.4 1906.0,2755.0 1907.4,2754.6 1908.8,2754.2 1910.2,2753.8 1911.6,2753.4 1913.0,2752.9 1914.4,2752.5 1915.8,2752.0 1917.2,2751.5 1918.6,2751.1 1919.9,2750.6 1921.3,2750.1 1922.7,2749.5 1924.1,2749.0 1925.5,2748.5 1926.9,2747.9 1928.3,2747.4 1929.7,2746.8 1931.1,2746.2 1932.5,2745.6 1933.9,2745.0 1935.3,2744.4 1936.7,2743.7 1938.0,2743.1 1939.4,2742.4 1940.8,2741.7 1942.2,2741.0 1943.6,2740.3 1945.0,2739.5 1946.4,2738.8 1947.8,2738.0 1949.2,2737.2 1950.6,2736.4 1952.0,2735.6 1953.4,2734.7 1954.8,2733.9 1956.1,2733.0 1957.5,2732.1 1958.9,2731.1 1960.3,2730.2 1961.7,2729.2 1963.1,2728.2 1964.5,2727.2 1965.9,2726.2 1967.3,2725.1 1968.7,2724.0 1970.1,2722.9 1971.5,2721.7 1972.9,2720.6 1974.3,2719.4 1975.6,2718.2 1977.0,2716.9 1978.4,2715.6 1979.8,2714.3 1981.2,2713.0 1982.6,2711.7 1984.0,2710.3 1985.4,2708.9 1986.8,2707.4 1988.2,2705.9 1989.6,2704.4 1991.0,2702.9 1992.4,2701.4 1993.7,2699.8 1995.1,2698.1 1996.5,2696.5 1997.9,2694.8 1999.3,2693.1 2000.7,2691.4 2002.1,2689.6 2003.5,2687.8 2004.9,2686.0 2006.3,2684.2 2007.7,2682.4 2009.1,2680.5 2010.5,2678.6 2011.8,2676.7 2013.2,2674.7 2014.6,2672.8 2016.0,2670.8 2017.4,2668.9 2018.8,2666.9 2020.2,2664.9 2021.6,2663.0 2023.0,2661.0 2024.4,2659.0 2025.8,2657.1 2027.2,2655.1 2028.6,2653.2 2030.0,2651.3 2031.3,2649.5 2032.7,2647.6 2034.1,2645.8 2035.5,2644.1 2036.9,2642.4 2038.3,2640.7 2039.7,2639.1 2041.1,2637.6 2042.5,2636.1 2043.9,2634.7 2045.3,2633.4 2046.7,2632.2 2048.1,2631.1 2049.4,2630.0 2050.8,2629.1 2052.2,2628.2 2053.6,2627.5 2055.0,2626.8 2056.4,2626.3 2057.8,2625.9 2059.2,2625.6 2060.6,2625.4 2062.0,2625.3 2063.4,2625.3 2064.8,2625.5 2066.2,2625.7 2067.5,2626.1 2068.9,2626.6 2070.3,2627.2 2071.7,2627.9 2073.1,2628.7 2074.5,2629.7 2075.9,2630.7 2077.3,2631.8 2078.7,2633.0 2080.1,2634.2 2081.5,2635.6 2082.9,2637.0 2084.3,2638.5 2085.7,2640.1 2087.0,2641.7 2088.4,2643.3 2089.8,2645.1 2091.2,2646.8 2092.6,2648.6 2094.0,2650.4 2095.4,2652.3 2096.8,2654.2 2098.2,2656.1 2099.6,2658.0 2101.0,2659.9 2102.4,2661.8 2103.8,2663.8 2105.1,2665.7 2106.5,2667.6 2107.9,2669.6 2109.3,2671.5 2110.7,2673.4 2112.1,2675.3 2113.5,2677.1 2114.9,2679.0 2116.3,2680.8 2117.7,2682.6 2119.1,2684.4 2120.5,2686.2 2121.9,2687.9 2123.2,2689.7 2124.6,2691.4 2126.0,2693.0 2127.4,2694.7 2128.8,2696.3 2130.2,2697.8 2131.6,2699.4 2133.0,2700.9 2134.4,2702.4 2135.8,2703.9 2137.2,2705.3 2138.6,2706.7 2140.0,2708.1 2141.4,2709.4 2142.7,2710.7 2144.1,2712.0 2145.5,2713.3 2146.9,2714.5 2148.3,2715.7 2149.7,2716.9 2151.1,2718.1 2152.5,2719.2 2153.9,2720.3 2155.3,2721.4 2156.7,2722.4 2158.1,2723.5 2159.5,2724.5 2160.8,2725.4 2162.2,2726.4 2163.6,2727.3 2165.0,2728.2 2166.4,2729.1 2167.8,2730.0 2169.2,2730.8 2170.6,2731.7 2172.0,2732.5 2173.4,2733.3 2174.8,2734.0 2176.2,2734.8 2177.6,2735.5 2178.9,2736.2 2180.3,2736.9 2181.7,2737.6 2183.1,2738.3 2184.5,2738.9 2185.9,2739.6 2187.3,2740.2 2188.7,2740.8 2190.1,2741.4 2191.5,2742.0 2192.9,2742.5 2194.3,2743.1 2195.7,2743.6 2197.1,2744.1 2198.4,2744.6 2199.8,2745.1 2201.2,2745.6 2202.6,2746.1 2204.0,2746.6 2205.4,2747.0 2206.8,2747.5 2208.2,2747.9 2209.6,2748.3 2211.0,2748.7 2212.4,2749.1 2213.8,2749.5 2215.2,2749.9 2216.5,2750.3 2217.9,2750.7 2219.3,2751.0 2220.7,2751.4 2222.1,2751.7 2223.5,2752.0 2224.9,2752.4 2226.3,2752.7 2227.7,2753.0 2229.1,2753.3 2230.5,2753.6 2231.9,2753.9 2233.3,2754.2 2234.6,2754.4 2236.0,2754.7 2237.4,2755.0 2238.8,2755.2 2240.2,2755.5 2241.6,2755.7 2243.0,2756.0 2244.4,2756.2 2245.8,2756.4 2247.2,2756.7 2248.6,2756.9 2250.0,2757.1 2251.4,2757.3 2252.8,2757.5 2254.1,2757.7 2255.5,2757.9 2256.9,2758.1 2258.3,2758.3 2259.7,2758.5 2261.1,2758.6 2262.5,2758.8 2263.9,2759.0 2265.3,2759.2 2266.7,2759.3 2268.1,2759.5 2269.5,2759.6 2270.9,2759.8 2272.2,2759.9 2273.6,2760.1 2275.0,2760.2 2276.4,2760.4 2277.8,2760.5 2279.2,2760.6 2280.6,2760.7 2282.0,2760.9 2283.4,2761.0 2284.8,2761.1 2286.2,2761.2 2287.6,2761.3 2289.0,2761.5 2290.3,2761.6 2291.7,2761.7 2293.1,2761.8 2294.5,2761.9 2295.9,2762.0 2297.3,2762.1 2298.7,2762.2 2300.1,2762.3 2301.5,2762.3 2302.9,2762.4 2304.3,2762.5 2305.7,2762.6 2307.1,2762.7 2308.5,2762.8 2309.8,2762.8 2311.2,2762.9 2312.6,2763.0 2314.0,2763.1 2315.4,2763.1 2316.8,2763.2 2318.2,2763.3 2319.6,2763.3 2321.0,2763.4 2322.4,2763.4 2323.8,2763.5 2325.2,2763.6 2326.6,2763.6 2327.9,2763.7 2329.3,2763.7 2330.7,2763.8 2332.1,2763.8 2333.5,2763.9 2334.9,2763.9 2336.3,2764.0 2337.7,2764.0 2339.1,2764.1 2340.5,2764.1 2341.9,2764.1 2343.3,2764.2 2344.7,2764.2 2346.0,2764.3 2347.4,2764.3 2348.8,2764.3 2350.2,2764.4 2351.6,2764.4 2353.0,2764.4 2354.4,2764.5 2355.8,2764.5 2357.2,2764.5 2358.6,2764.6 2360.0,2764.6 2361.4,2764.6 2362.8,2764.6 2364.2,2764.7 2365.5,2764.7 2366.9,2764.7 2368.3,2764.7 2369.7,2764.7 2371.1,2764.8 2372.5,2764.8 2373.9,2764.8 2375.3,2764.8 2376.7,2764.8 2378.1,2764.9 2379.5,2764.9 2380.9,2764.9 2382.3,2764.9 2383.6,2764.9 2385.0,2764.9 2386.4,2764.9 2387.8,2765.0 2389.2,2765.0 2390.6,2765.0 2392.0,2765.0 2393.4,2765.0 2394.8,2765.0 2396.2,2765.0 2397.6,2765.0 2399.0,2765.0 2400.4,2765.0 2401.7,2765.0 2403.1,2765.0 2404.5,2765.1 2405.9,2765.1 2407.3,2765.1 2408.7,2765.1 2410.1,2765.1 2411.5,2765.1 2412.9,2765.1 2414.3,2765.1 2415.7,2765.1 2417.1,2765.1" fill="none" stroke="#bf73e6" stroke-width="3" stroke-linejoin="round" stroke-linecap="butt" />
<polyline points="1418.6,2780.0 1420.0,2780.0 1421.4,2780.0 1422.8,2780.0 1424.2,2779.9 1425.6,2779.9 1427.0,2779.9 1428.4,2779.9 1429.8,2779.9 1431.2,2779.8 1432.6,2779.8 1434.0,2779.8 1435.4,2779.8 1436.7,2779.8 1438.1,2779.7 1439.5,2779.7 1440.9,2779.7 1442.3,2779.7 1443.7,2779.7 1445.1,2779.6 1446.5,2779.6 1447.9,2779.6 1449.3,2779.6 1450.7,2779.6 1452.1,2779.5 1453.5,2779.5 1454.8,2779.5 1456.2,2779.5 1457.6,2779.5 1459.0,2779.5 1460.4,2779.4 1461.8,2779.4 1463.2,2779.4 1464.6,2779.4 1466.0,2779.4 1467.4,2779.3 1468.8,2779.3 1470.2,2779.3 1471.6,2779.3 1473.0,2779.3 1474.3,2779.2 1475.7,2779.2 1477.1,2779.2 1478.5,2779.2 1479.9,2779.2 1481.3,2779.1 1482.7,2779.1 1484.1,2779.1 1485.5,2779.1 1486.9,2779.1 1488.3,2779.0 1489.7,2779.0 1491.1,2779.0 1492.4,2779.0 1493.8,2779.0 1495.2,2778.9 1496.6,2778.9 1498.0,2778.9 1499.4,2778.9 1500.8,2778.9 1502.2,2778.8 1503.6,2778.8 1505.0,2778.8 1506.4,2778.8 1507.8,2778.8 1509.2,2778.7 1510.5,2778.7 1511.9,2778.7 1513.3,2778.7 1514.7,2778.7 1516.1,2778.6 1517.5,2778.6 1518.9,2778.6 1520.3,2778.6 1521.7,2778.6 1523.1,2778.6 1524.5,2778.5 1525.9,2778.5 1527.3,2778.5 1528.7,2778.5 1530.0,2778.5 1531.4,2778.4 1532.8,2778.4 1534.2,2778.4 1535.6,2778.4 1537.0,2778.4 1538.4,2778.3 1539.8,2778.3 1541.2,2778.3 1542.6,2778.3 1544.0,2778.3 1545.4,2778.2 1546.8,2778.2 1548.1,2778.2 1549.5,2778.2 1550.9,2778.2 1552.3,2778.1 1553.7,2778.1 1555.1,2778.1 1556.5,2778.1 1557.9,2778.1 1559.3,2778.0 1560.7,2778.0 1562.1,2778.0 1563.5,2778.0 1564.9,2778.0 1566.2,2777.9 1567.6,2777.9 1569.0,2777.9 1570.4,2777.9 1571.8,2777.9 1573.2,2777.8 1574.6,2777.8 1576.0,2777.8 1577.4,2777.8 1578.8,2777.8 1580.2,2777.7 1581.6,2777.7 1583.0,2777.7 1584.4,2777.7 1585.7,2777.7 1587.1,2777.7 1588.5,2777.6 1589.9,2777.6 1591.3,2777.6 1592.7,2777.6 1594.1,2777.6 1595.5,2777.5 1596.9,2777.5 1598.3,2777.5 1599.7,2777.5 1601.1,2777.5 1602.5,2777.4 1603.8,2777.4 1605.2,2777.4 1606.6,2777.4 1608.0,2777.4 1609.4,2777.3 1610.8,2777.3 1612.2,2777.3 1613.6,2777.3 1615.0,2777.3 1616.4,2777.2 1617.8,2777.2 1619.2,2777.2 1620.6,2777.2 1621.9,2777.2 1623.3,2777.1 1624.7,2777.1 1626.1,2777.1 1627.5,2777.1 1628.9,2777.1 1630.3,2777.0 1631.7,2777.0 1633.1,2777.0 1634.5,2777.0 1635.9,2777.0 1637.3,2776.9 1638.7,2776.9 1640.1,2776.9 1641.4,2776.9 1642.8,2776.9 1644.2,2776.8 1645.6,2776.8 1647.0,2776.8 1648.4,2776.8 1649.8,2776.8 1651.2,2776.8 1652.6,2776.7 1654.0,2776.7 1655.4,2776.7 1656.8,2776.7 1658.2,2776.7 1659.5,2776.6 1660.9,2776.6 1662.3,2776.6 1663.7,2776.6 1665.1,2776.6 1666.5,2776.5 1667.9,2776.5 1669.3,2776.5 1670.7,2776.5 1672.1,2776.5 1673.5,2776.4 1674.9,2776.4 1676.3,2776.4 1677.6,2776.4 1679.0,2776.4 1680.4,2776.3 1681.8,2776.3 1683.2,2776.3 1684.6,2776.3 1686.0,2776.3 1687.4,2776.2 1688.8,2776.2 1690.2,2776.2 1691.6,2776.2 1693.0,2776.2 1694.4,2776.1 1695.8,2776.1 1697.1,2776.1 1698.5,2776.1 1699.9,2776.1 1701.3,2776.0 1702.7,2776.0 1704.1,2776.0 1705.5,2776.0 1706.9,2776.0 1708.3,2776.0 1709.7,2775.9 1711.1,2775.9 1712.5,2775.9 1713.9,2775.9 1715.2,2775.9 1716.6,2775.8 1718.0,2775.8 1719.4,2775.8 1720.8,2775.8 1722.2,2775.8 1723.6,2775.7 1725.0,2775.7 1726.4,2775.7 1727.8,2775.7 1729.2,2775.7 1730.6,2775.6 1732.0,2775.6 1733.3,2775.6 1734.7,2775.6 1736.1,2775.6 1737.5,2775.5 1738.9,2775.5 1740.3,2775.5 1741.7,2775.5 1743.1,2775.5 1744.5,2775.4 1745.9,2775.4 1747.3,2775.4 1748.7,2775.4 1750.1,2775.4 1751.5,2775.3 1752.8,2775.3 1754.2,2775.3 1755.6,2775.3 1757.0,2775.3 1758.4,2775.2 1759.8,2775.2 1761.2,2775.2 1762.6,2775.2 1764.0,2775.2 1765.4,2775.1 1766.8,2775.1 1768.2,2775.1 1769.6,2775.1 1770.9,2775.1 1772.3,2775.1 1773.7,2775.0 1775.1,2775.0 1776.5,2775.0 1777.9,2775.0 1779.3,2775.0 1780.7,2774.9 1782.1,2774.9 1783.5,2774.9 1784.9,2774.9 1786.3,2774.9 1787.7,2774.8 1789.0,2774.8 1790.4,2774.8 1791.8,2774.8 1793.2,2774.8 1794.6,2774.7 1796.0,2774.7 1797.4,2774.7 1798.8,2774.7 1800.2,2774.7 1801.6,2774.6 1803.0,2774.6 1804.4,2774.6 1805.8,2774.6 1807.2,2774.6 1808.5,2774.5 1809.9,2774.5 1811.3,2774.5 1812.7,2774.5 1814.1,2774.5 1815.5,2774.4 1816.9,2774.4 1818.3,2774.4 1819.7,2774.4 1821.1,2774.4 1822.5,2774.3 1823.9,2774.3 1825.3,2774.3 1826.6,2774.3 1828.0,2774.3 1829.4,2774.2 1830.8,2774.2 1832.2,2774.2 1833.6,2774.2 1835.0,2774.2 1836.4,2774.1 1837.8,2774.1 1839.2,2774.1 1840.6,2774.1 1842.0,2774.1 1843.4,2774.0 1844.7,2774.0 1846.1,2774.0 1847.5,2774.0 1848.9,2774.0 1850.3,2773.9 1851.7,2773.9 1853.1,2773.9 1854.5,2773.9 1855.9,2773.9 1857.3,2773.8 1858.7,2773.8 1860.1,2773.8 1861.5,2773.8 1862.9,2773.8 1864.2,2773.7 1865.6,2773.7 1867.0,2773.7 1868.4,2773.7 1869.8,2773.7 1871.2,2773.6 1872.6,2773.6 1874.0,2773.6 1875.4,2773.6 1876.8,2773.6 1878.2,2773.5 1879.6,2773.5 1881.0,2773.5 1882.3,2773.5 1883.7,2773.5 1885.1,2773.4 1886.5,2773.4 1887.9,2773.4 1889.3,2773.4 1890.7,2773.4 1892.1,2773.3 1893.5,2773.3 1894.9,2773.3 1896.3,2773.3 1897.7,2773.3 1899.1,2773.2 1900.4,2773.2 1901.8,2773.2 1903.2,2773.2 1904.6,2773.1 1906.0,2773.1 1907.4,2773.1 1908.8,2773.1 1910.2,2773.1 1911.6,2773.0 1913.0,2773.0 1914.4,2773.0 1915.8,2773.0 1917.2,2772.9 1918.6,2772.9 1919.9,2772.9 1921.3,2772.9 1922.7,2772.9 1924.1,2772.8 1925.5,2772.8 1926.9,2772.8 1928.3,2772.8 1929.7,2772.7 1931.1,2772.7 1932.5,2772.7 1933.9,2772.7 1935.3,2772.6 1936.7,2772.6 1938.0,2772.6 1939.4,2772.6 1940.8,2772.5 1942.2,2772.5 1943.6,2772.5 1945.0,2772.5 1946.4,2772.4 1947.8,2772.4 1949.2,2772.4 1950.6,2772.4 1952.0,2772.3 1953.4,2772.3 1954.8,2772.3 1956.1,2772.3 1957.5,2772.2 1958.9,2772.2 1960.3,2772.2 1961.7,2772.1 1963.1,2772.1 1964.5,2772.1 1965.9,2772.0 1967.3,2772.0 1968.7,2772.0 1970.1,2772.0 1971.5,2771.9 1972.9,2771.9 1974.3,2771.9 1975.6,2771.8 1977.0,2771.8 1978.4,2771.8 1979.8,2771.7 1981.2,2771.7 1982.6,2771.7 1984.0,2771.6 1985.4,2771.6 1986.8,2771.5 1988.2,2771.5 1989.6,2771.5 1991.0,2771.4 1992.4,2771.4 1993.7,2771.3 1995.1,2771.3 1996.5,2771.3 1997.9,2771.2 1999.3,2771.2 2000.7,2771.1 2002.1,2771.1 2003.5,2771.0 2004.9,2771.0 2006.3,2770.9 2007.7,2770.9 2009.1,2770.8 2010.5,2770.8 2011.8,2770.7 2013.2,2770.7 2014.6,2770.6 2016.0,2770.6 2017.4,2770.5 2018.8,2770.4 2020.2,2770.4 2021.6,2770.3 2023.0,2770.3 2024.4,2770.2 2025.8,2770.1 2027.2,2770.1 2028.6,2770.0 2030.0,2769.9 2031.3,2769.8 2032.7,2769.8 2034.1,2769.7 2035.5,2769.6 2036.9,2769.5 2038.3,2769.4 2039.7,2769.4 2041.1,2769.3 2042.5,2769.2 2043.9,2769.1 2045.3,2769.0 2046.7,2768.9 2048.1,2768.8 2049.4,2768.7 2050.8,2768.6 2052.2,2768.5 2053.6,2768.4 2055.0,2768.2 2056.4,2768.1 2057.8,2768.0 2059.2,2767.9 2060.6,2767.7 2062.0,2767.6 2063.4,2767.5 2064.8,2767.3 2066.2,2767.2 2067.5,2767.0 2068.9,2766.9 2070.3,2766.7 2071.7,2766.5 2073.1,2766.4 2074.5,2766.2 2075.9,2766.0 2077.3,2765.8 2078.7,2765.6 2080.1,2765.4 2081.5,2765.2 2082.9,2765.0 2084.3,2764.8 2085.7,2764.6 2087.0,2764.3 2088.4,2764.1 2089.8,2763.8 2091.2,2763.6 2092.6,2763.3 2094.0,2763.0 2095.4,2762.7 2096.8,2762.4 2098.2,2762.1 2099.6,2761.8 2101.0,2761.4 2102.4,2761.1 2103.8,2760.7 2105.1,2760.3 2106.5,2759.9 2107.9,2759.5 2109.3,2759.1 2110.7,2758.6 2112.1,2758.2 2113.5,2757.7 2114.9,2757.2 2116.3,2756.7 2117.7,2756.1 2119.1,2755.6 2120.5,2755.0 2121.9,2754.3 2123.2,2753.7 2124.6,2753.0 2126.0,2752.3 2127.4,2751.6 2128.8,2750.8 2130.2,2750.0 2131.6,2749.2 2133.0,2748.3 2134.4,2747.4 2135.8,2746.4 2137.2,2745.4 2138.6,2744.3 2140.0,2743.2 2141.4,2742.0 2142.7,2740.8 2144.1,2739.5 2145.5,2738.1 2146.9,2736.7 2148.3,2735.2 2149.7,2733.6 2151.1,2731.9 2152.5,2730.1 2153.9,2728.3 2155.3,2726.3 2156.7,2724.2 2158.1,2722.0 2159.5,2719.7 2160.8,2717.3 2162.2,2714.7 2163.6,2711.9 2165.0,2709.1 2166.4,2706.0 2167.8,2702.8 2169.2,2699.4 2170.6,2695.8 2172.0,2692.1 2173.4,2688.1 2174.8,2684.0 2176.2,2679.6 2177.6,2675.0 2178.9,2670.2 2180.3,2665.3 2181.7,2660.1 2183.1,2654.8 2184.5,2649.3 2185.9,2643.6 2187.3,2637.9 2188.7,2632.1 2190.1,2626.3 2191.5,2620.6 2192.9,2615.0 2194.3,2609.6 2195.7,2604.4 2197.1,2599.7 2198.4,2595.3 2199.8,2591.6 2201.2,2588.4 2202.6,2585.9 2204.0,2584.2 2205.4,2583.3 2206.8,2583.2 2208.2,2583.9 2209.6,2585.4 2211.0,2587.7 2212.4,2590.7 2213.8,2594.3 2215.2,2598.5 2216.5,2603.2 2217.9,2608.2 2219.3,2613.5 2220.7,2619.1 2222.1,2624.7 2223.5,2630.5 2224.9,2636.2 2226.3,2641.9 2227.7,2647.5 2229.1,2653.0 2230.5,2658.4 2231.9,2663.5 2233.3,2668.5 2234.6,2673.3 2236.0,2677.9 2237.4,2682.2 2238.8,2686.4 2240.2,2690.4 2241.6,2694.1 2243.0,2697.7 2244.4,2701.1 2245.8,2704.3 2247.2,2707.3 2248.6,2710.2 2250.0,2712.9 2251.4,2715.5 2252.8,2717.9 2254.1,2720.2 2255.5,2722.4 2256.9,2724.5 2258.3,2726.4 2259.7,2728.3 2261.1,2730.0 2262.5,2731.7 2263.9,2733.2 2265.3,2734.7 2266.7,2736.1 2268.1,2737.5 2269.5,2738.8 2270.9,2740.0 2272.2,2741.1 2273.6,2742.2 2275.0,2743.2 2276.4,2744.2 2277.8,2745.2 2279.2,2746.1 2280.6,2746.9 2282.0,2747.7 2283.4,2748.5 2284.8,2749.2 2286.2,2749.9 2287.6,2750.6 2289.0,2751.2 2290.3,2751.9 2291.7,2752.4 2293.1,2753.0 2294.5,2753.5 2295.9,2754.0 2297.3,2754.5 2298.7,2755.0 2300.1,2755.4 2301.5,2755.9 2302.9,2756.3 2304.3,2756.7 2305.7,2757.0 2307.1,2757.4 2308.5,2757.7 2309.8,2758.1 2311.2,2758.4 2312.6,2758.7 2314.0,2759.0 2315.4,2759.3 2316.8,2759.5 2318.2,2759.8 2319.6,2760.0 2321.0,2760.3 2322.4,2760.5 2323.8,2760.7 2325.2,2760.9 2326.6,2761.1 2327.9,2761.3 2329.3,2761.5 2330.7,2761.7 2332.1,2761.9 2333.5,2762.0 2334.9,2762.2 2336.3,2762.3 2337.7,2762.5 2339.1,2762.6 2340.5,2762.7 2341.9,2762.9 2343.3,2763.0 2344.7,2763.1 2346.0,2763.2 2347.4,2763.3 2348.8,2763.4 2350.2,2763.5 2351.6,2763.6 2353.0,2763.7 2354.4,2763.8 2355.8,2763.9 2357.2,2764.0 2358.6,2764.1 2360.0,2764.1 2361.4,2764.2 2362.8,2764.3 2364.2,2764.3 2365.5,2764.4 2366.9,2764.5 2368.3,2764.5 2369.7,2764.6 2371.1,2764.6 2372.5,2764.7 2373.9,2764.7 2375.3,2764.8 2376.7,2764.8 2378.1,2764.8 2379.5,2764.9 2380.9,2764.9 2382.3,2765.0 2383.6,2765.0 2385.0,2765.0 2386.4,2765.1 2387.8,2765.1 2389.2,2765.1 2390.6,2765.1 2392.0,2765.2 2393.4,2765.2 2394.8,2765.2 2396.2,2765.2 2397.6,2765.2 2399.0,2765.3 2400.4,2765.3 2401.7,2765.3 2403.1,2765.3 2404.5,2765.3 2405.9,2765.3 2407.3,2765.3 2408.7,2765.3 2410.1,2765.3 2411.5,2765.4 2412.9,2765.4 2414.3,2765.4 2415.7,2765.4 2417.1,2765.4" fill="none" stroke="#dc9a00" stroke-width="3" stroke-linejoin="round" stroke-linecap="butt" />
<polyline points="1418.6,2780.0 1420.0,2780.0 1421.4,2780.0 1422.8,2780.0 1424.2,2779.9 1425.6,2779.9 1427.0,2779.9 1428.4,2779.9 1429.8,2779.9 1431.2,2779.8 1432.6,2779.8 1434.0,2779.8 1435.4,2779.8 1436.7,2779.8 1438.1,2779.7 1439.5,2779.7 1440.9,2779.7 1442.3,2779.7 1443.7,2779.7 1445.1,2779.6 1446.5,2779.6 1447.9,2779.6 1449.3,2779.6 1450.7,2779.6 1452.1,2779.5 1453.5,2779.5 1454.8,2779.5 1456.2,2779.5 1457.6,2779.5 1459.0,2779.4 1460.4,2779.4 1461.8,2779.4 1463.2,2779.4 1464.6,2779.4 1466.0,2779.3 1467.4,2779.3 1468.8,2779.3 1470.2,2779.3 1471.6,2779.3 1473.0,2779.2 1474.3,2779.2 1475.7,2779.2 1477.1,2779.2 1478.5,2779.2 1479.9,2779.1 1481.3,2779.1 1482.7,2779.1 1484.1,2779.1 1485.5,2779.1 1486.9,2779.0 1488.3,2779.0 1489.7,2779.0 1491.1,2779.0 1492.4,2779.0 1493.8,2778.9 1495.2,2778.9 1496.6,2778.9 1498.0,2778.9 1499.4,2778.9 1500.8,2778.8 1502.2,2778.8 1503.6,2778.8 1505.0,2778.8 1506.4,2778.7 1507.8,2778.7 1509.2,2778.7 1510.5,2778.7 1511.9,2778.7 1513.3,2778.6 1514.7,2778.6 1516.1,2778.6 1517.5,2778.6 1518.9,2778.5 1520.3,2778.5 1521.7,2778.5 1523.1,2778.5 1524.5,2778.4 1525.9,2778.4 1527.3,2778.4 1528.7,2778.4 1530.0,2778.4 1531.4,2778.3 1532.8,2778.3 1534.2,2778.3 1535.6,2778.2 1537.0,2778.2 1538.4,2778.2 1539.8,2778.2 1541.2,2778.1 1542.6,2778.1 1544.0,2778.1 1545.4,2778.1 1546.8,2778.0 1548.1,2778.0 1549.5,2778.0 1550.9,2777.9 1552.3,2777.9 1553.7,2777.9 1555.1,2777.9 1556.5,2777.8 1557.9,2777.8 1559.3,2777.8 1560.7,2777.7 1562.1,2777.7 1563.5,2777.6 1564.9,2777.6 1566.2,2777.6 1567.6,2777.5 1569.0,2777.5 1570.4,2777.5 1571.8,2777.4 1573.2,2777.4 1574.6,2777.3 1576.0,2777.3 1577.4,2777.3 1578.8,2777.2 1580.2,2777.2 1581.6,2777.1 1583.0,2777.1 1584.4,2777.0 1585.7,2777.0 1587.1,2776.9 1588.5,2776.9 1589.9,2776.8 1591.3,2776.8 1592.7,2776.7 1594.1,2776.6 1595.5,2776.6 1596.9,2776.5 1598.3,2776.5 1599.7,2776.4 1601.1,2776.3 1602.5,2776.2 1603.8,2776.2 1605.2,2776.1 1606.6,2776.0 1608.0,2775.9 1609.4,2775.9 1610.8,2775.8 1612.2,2775.7 1613.6,2775.6 1615.0,2775.5 1616.4,2775.4 1617.8,2775.3 1619.2,2775.2 1620.6,2775.1 1621.9,2775.0 1623.3,2774.9 1624.7,2774.8 1626.1,2774.7 1627.5,2774.5 1628.9,2774.4 1630.3,2774.3 1631.7,2774.2 1633.1,2774.0 1634.5,2773.9 1635.9,2773.7 1637.3,2773.6 1638.7,2773.4 1640.1,2773.3 1641.4,2773.1 1642.8,2772.9 1644.2,2772.7 1645.6,2772.5 1647.0,2772.4 1648.4,2772.2 1649.8,2772.0 1651.2,2771.7 1652.6,2771.5 1654.0,2771.3 1655.4,2771.1 1656.8,2770.8 1658.2,2770.6 1659.5,2770.3 1660.9,2770.0 1662.3,2769.8 1663.7,2769.5 1665.1,2769.2 1666.5,2768.9 1667.9,2768.6 1669.3,2768.2 1670.7,2767.9 1672.1,2767.6 1673.5,2767.2 1674.9,2766.8 1676.3,2766.4 1677.6,2766.0 1679.0,2765.6 1680.4,2765.2 1681.8,2764.8 1683.2,2764.3 1684.6,2763.8 1686.0,2763.3 1687.4,2762.8 1688.8,2762.3 1690.2,2761.8 1691.6,2761.2 1693.0,2760.7 1694.4,2760.1 1695.8,2759.4 1697.1,2758.8 1698.5,2758.2 1699.9,2757.5 1701.3,2756.8 1702.7,2756.1 1704.1,2755.3 1705.5,2754.5 1706.9,2753.7 1708.3,2752.9 1709.7,2752.0 1711.1,2751.2 1712.5,2750.3 1713.9,2749.3 1715.2,2748.3 1716.6,2747.3 1718.0,2746.3 1719.4,2745.2 1720.8,2744.1 1722.2,2742.9 1723.6,2741.7 1725.0,2740.5 1726.4,2739.2 1727.8,2737.9 1729.2,2736.6 1730.6,2735.2 1732.0,2733.7 1733.3,2732.2 1734.7,2730.7 1736.1,2729.1 1737.5,2727.4 1738.9,2725.7 1740.3,2724.0 1741.7,2722.2 1743.1,2720.3 1744.5,2718.4 1745.9,2716.4 1747.3,2714.3 1748.7,2712.2 1750.1,2710.0 1751.5,2707.7 1752.8,2705.4 1754.2,2702.9 1755.6,2700.5 1757.0,2697.9 1758.4,2695.3 1759.8,2692.5 1761.2,2689.7 1762.6,2686.9 1764.0,2683.9 1765.4,2680.9 1766.8,2677.7 1768.2,2674.5 1769.6,2671.2 1770.9,2667.8 1772.3,2664.3 1773.7,2660.8 1775.1,2657.1 1776.5,2653.4 1777.9,2649.6 1779.3,2645.7 1780.7,2641.7 1782.1,2637.7 1783.5,2633.6 1784.9,2629.4 1786.3,2625.1 1787.7,2620.9 1789.0,2616.5 1790.4,2612.1 1791.8,2607.7 1793.2,2603.3 1794.6,2598.8 1796.0,2594.4 1797.4,2589.9 1798.8,2585.5 1800.2,2581.2 1801.6,2576.8 1803.0,2572.6 1804.4,2568.4 1805.8,2564.4 1807.2,2560.4 1808.5,2556.6 1809.9,2553.0 1811.3,2549.5 1812.7,2546.2 1814.1,2543.2 1815.5,2540.3 1816.9,2537.7 1818.3,2535.4 1819.7,2533.4 1821.1,2531.6 1822.5,2530.1 1823.9,2529.0 1825.3,2528.2 1826.6,2527.7 1828.0,2527.5 1829.4,2527.6 1830.8,2528.1 1832.2,2528.9 1833.6,2530.0 1835.0,2531.4 1836.4,2533.1 1837.8,2535.1 1839.2,2537.4 1840.6,2540.0 1842.0,2542.8 1843.4,2545.8 1844.7,2549.0 1846.1,2552.5 1847.5,2556.1 1848.9,2559.8 1850.3,2563.7 1851.7,2567.8 1853.1,2571.9 1854.5,2576.1 1855.9,2580.4 1857.3,2584.7 1858.7,2589.1 1860.1,2593.5 1861.5,2597.9 1862.9,2602.3 1864.2,2606.7 1865.6,2611.1 1867.0,2615.4 1868.4,2619.7 1869.8,2624.0 1871.2,2628.2 1872.6,2632.3 1874.0,2636.4 1875.4,2640.4 1876.8,2644.3 1878.2,2648.2 1879.6,2651.9 1881.0,2655.6 1882.3,2659.2 1883.7,2662.8 1885.1,2666.2 1886.5,2669.6 1887.9,2672.8 1889.3,2676.0 1890.7,2679.1 1892.1,2682.1 1893.5,2685.0 1894.9,2687.9 1896.3,2690.6 1897.7,2693.3 1899.1,2695.9 1900.4,2698.4 1901.8,2700.9 1903.2,2703.2 1904.6,2705.5 1906.0,2707.8 1907.4,2709.9 1908.8,2712.0 1910.2,2714.0 1911.6,2716.0 1913.0,2717.9 1914.4,2719.7 1915.8,2721.5 1917.2,2723.2 1918.6,2724.9 1919.9,2726.5 1921.3,2728.1 1922.7,2729.6 1924.1,2731.0 1925.5,2732.4 1926.9,2733.8 1928.3,2735.1 1929.7,2736.4 1931.1,2737.6 1932.5,2738.8 1933.9,2740.0 1935.3,2741.1 1936.7,2742.2 1938.0,2743.2 1939.4,2744.2 1940.8,2745.2 1942.2,2746.1 1943.6,2747.0 1945.0,2747.9 1946.4,2748.7 1947.8,2749.5 1949.2,2750.3 1950.6,2751.1 1952.0,2751.8 1953.4,2752.5 1954.8,2753.2 1956.1,2753.9 1957.5,2754.5 1958.9,2755.1 1960.3,2755.7 1961.7,2756.3 1963.1,2756.9 1964.5,2757.4 1965.9,2757.9 1967.3,2758.4 1968.7,2758.9 1970.1,2759.4 1971.5,2759.8 1972.9,2760.2 1974.3,2760.6 1975.6,2761.1 1977.0,2761.4 1978.4,2761.8 1979.8,2762.2 1981.2,2762.5 1982.6,2762.8 1984.0,2763.2 1985.4,2763.5 1986.8,2763.8 1988.2,2764.1 1989.6,2764.3 1991.0,2764.6 1992.4,2764.9 1993.7,2765.1 1995.1,2765.3 1996.5,2765.6 1997.9,2765.8 1999.3,2766.0 2000.7,2766.2 2002.1,2766.4 2003.5,2766.6 2004.9,2766.8 2006.3,2766.9 2007.7,2767.1 2009.1,2767.3 2010.5,2767.4 2011.8,2767.6 2013.2,2767.7 2014.6,2767.8 2016.0,2768.0 2017.4,2768.1 2018.8,2768.2 2020.2,2768.3 2021.6,2768.4 2023.0,2768.5 2024.4,2768.6 2025.8,2768.7 2027.2,2768.8 2028.6,2768.9 2030.0,2769.0 2031.3,2769.1 2032.7,2769.2 2034.1,2769.2 2035.5,2769.3 2036.9,2769.4 2038.3,2769.4 2039.7,2769.5 2041.1,2769.5 2042.5,2769.6 2043.9,2769.6 2045.3,2769.7 2046.7,2769.7 2048.1,2769.8 2049.4,2769.8 2050.8,2769.8 2052.2,2769.9 2053.6,2769.9 2055.0,2769.9 2056.4,2770.0 2057.8,2770.0 2059.2,2770.0 2060.6,2770.0 2062.0,2770.1 2063.4,2770.1 2064.8,2770.1 2066.2,2770.1 2067.5,2770.1 2068.9,2770.2 2070.3,2770.2 2071.7,2770.2 2073.1,2770.2 2074.5,2770.2 2075.9,2770.2 2077.3,2770.2 2078.7,2770.2 2080.1,2770.2 2081.5,2770.2 2082.9,2770.2 2084.3,2770.2 2085.7,2770.2 2087.0,2770.2 2088.4,2770.2 2089.8,2770.2 2091.2,2770.2 2092.6,2770.2 2094.0,2770.2 2095.4,2770.2 2096.8,2770.2 2098.2,2770.2 2099.6,2770.2 2101.0,2770.2 2102.4,2770.2 2103.8,2770.2 2105.1,2770.2 2106.5,2770.2 2107.9,2770.1 2109.3,2770.1 2110.7,2770.1 2112.1,2770.1 2113.5,2770.1 2114.9,2770.1 2116.3,2770.1 2117.7,2770.1 2119.1,2770.0 2120.5,2770.0 2121.9,2770.0 2123.2,2770.0 2124.6,2770.0 2126.0,2770.0 2127.4,2770.0 2128.8,2770.0 2130.2,2769.9 2131.6,2769.9 2133.0,2769.9 2134.4,2769.9 2135.8,2769.9 2137.2,2769.9 2138.6,2769.8 2140.0,2769.8 2141.4,2769.8 2142.7,2769.8 2144.1,2769.8 2145.5,2769.8 2146.9,2769.7 2148.3,2769.7 2149.7,2769.7 2151.1,2769.7 2152.5,2769.7 2153.9,2769.7 2155.3,2769.6 2156.7,2769.6 2158.1,2769.6 2159.5,2769.6 2160.8,2769.6 2162.2,2769.6 2163.6,2769.5 2165.0,2769.5 2166.4,2769.5 2167.8,2769.5 2169.2,2769.5 2170.6,2769.4 2172.0,2769.4 2173.4,2769.4 2174.8,2769.4 2176.2,2769.4 2177.6,2769.3 2178.9,2769.3 2180.3,2769.3 2181.7,2769.3 2183.1,2769.3 2184.5,2769.3 2185.9,2769.2 2187.3,2769.2 2188.7,2769.2 2190.1,2769.2 2191.5,2769.2 2192.9,2769.1 2194.3,2769.1 2195.7,2769.1 2197.1,2769.1 2198.4,2769.1 2199.8,2769.0 2201.2,2769.0 2202.6,2769.0 2204.0,2769.0 2205.4,2769.0 2206.8,2768.9 2208.2,2768.9 2209.6,2768.9 2211.0,2768.9 2212.4,2768.9 2213.8,2768.8 2215.2,2768.8 2216.5,2768.8 2217.9,2768.8 2219.3,2768.8 2220.7,2768.8 2222.1,2768.7 2223.5,2768.7 2224.9,2768.7 2226.3,2768.7 2227.7,2768.7 2229.1,2768.6 2230.5,2768.6 2231.9,2768.6 2233.3,2768.6 2234.6,2768.6 2236.0,2768.5 2237.4,2768.5 2238.8,2768.5 2240.2,2768.5 2241.6,2768.5 2243.0,2768.4 2244.4,2768.4 2245.8,2768.4 2247.2,2768.4 2248.6,2768.4 2250.0,2768.3 2251.4,2768.3 2252.8,2768.3 2254.1,2768.3 2255.5,2768.3 2256.9,2768.2 2258.3,2768.2 2259.7,2768.2 2261.1,2768.2 2262.5,2768.2 2263.9,2768.1 2265.3,2768.1 2266.7,2768.1 2268.1,2768.1 2269.5,2768.1 2270.9,2768.1 2272.2,2768.0 2273.6,2768.0 2275.0,2768.0 2276.4,2768.0 2277.8,2768.0 2279.2,2767.9 2280.6,2767.9 2282.0,2767.9 2283.4,2767.9 2284.8,2767.9 2286.2,2767.8 2287.6,2767.8 2289.0,2767.8 2290.3,2767.8 2291.7,2767.8 2293.1,2767.7 2294.5,2767.7 2295.9,2767.7 2297.3,2767.7 2298.7,2767.7 2300.1,2767.6 2301.5,2767.6 2302.9,2767.6 2304.3,2767.6 2305.7,2767.6 2307.1,2767.5 2308.5,2767.5 2309.8,2767.5 2311.2,2767.5 2312.6,2767.5 2314.0,2767.4 2315.4,2767.4 2316.8,2767.4 2318.2,2767.4 2319.6,2767.4 2321.0,2767.3 2322.4,2767.3 2323.8,2767.3 2325.2,2767.3 2326.6,2767.3 2327.9,2767.2 2329.3,2767.2 2330.7,2767.2 2332.1,2767.2 2333.5,2767.2 2334.9,2767.2 2336.3,2767.1 2337.7,2767.1 2339.1,2767.1 2340.5,2767.1 2341.9,2767.1 2343.3,2767.0 2344.7,2767.0 2346.0,2767.0 2347.4,2767.0 2348.8,2767.0 2350.2,2766.9 2351.6,2766.9 2353.0,2766.9 2354.4,2766.9 2355.8,2766.9 2357.2,2766.8 2358.6,2766.8 2360.0,2766.8 2361.4,2766.8 2362.8,2766.8 2364.2,2766.7 2365.5,2766.7 2366.9,2766.7 2368.3,2766.7 2369.7,2766.7 2371.1,2766.6 2372.5,2766.6 2373.9,2766.6 2375.3,2766.6 2376.7,2766.6 2378.1,2766.5 2379.5,2766.5 2380.9,2766.5 2382.3,2766.5 2383.6,2766.5 2385.0,2766.4 2386.4,2766.4 2387.8,2766.4 2389.2,2766.4 2390.6,2766.4 2392.0,2766.3 2393.4,2766.3 2394.8,2766.3 2396.2,2766.3 2397.6,2766.3 2399.0,2766.3 2400.4,2766.2 2401.7,2766.2 2403.1,2766.2 2404.5,2766.2 2405.9,2766.2 2407.3,2766.1 2408.7,2766.1 2410.1,2766.1 2411.5,2766.1 2412.9,2766.1 2414.3,2766.0 2415.7,2766.0 2417.1,2766.0" fill="none" stroke="#00cacb" stroke-width="3.6" stroke-linejoin="round" stroke-linecap="butt" />
<polyline points="1418.6,2771.3 1420.0,2771.0 1421.4,2770.7 1422.8,2770.4 1424.2,2770.0 1425.6,2769.7 1427.0,2769.4 1428.4,2769.0 1429.8,2768.7 1431.2,2768.3 1432.6,2767.9 1434.0,2767.5 1435.4,2767.1 1436.7,2766.7 1438.1,2766.3 1439.5,2765.9 1440.9,2765.4 1442.3,2765.0 1443.7,2764.5 1445.1,2764.0 1446.5,2763.6 1447.9,2763.1 1449.3,2762.5 1450.7,2762.0 1452.1,2761.5 1453.5,2760.9 1454.8,2760.4 1456.2,2759.8 1457.6,2759.2 1459.0,2758.6 1460.4,2758.0 1461.8,2757.4 1463.2,2756.7 1464.6,2756.1 1466.0,2755.4 1467.4,2754.7 1468.8,2754.0 1470.2,2753.3 1471.6,2752.5 1473.0,2751.8 1474.3,2751.0 1475.7,2750.2 1477.1,2749.4 1478.5,2748.6 1479.9,2747.7 1481.3,2746.9 1482.7,2746.0 1484.1,2745.1 1485.5,2744.2 1486.9,2743.3 1488.3,2742.3 1489.7,2741.3 1491.1,2740.4 1492.4,2739.4 1493.8,2738.3 1495.2,2737.3 1496.6,2736.2 1498.0,2735.2 1499.4,2734.1 1500.8,2732.9 1502.2,2731.8 1503.6,2730.7 1505.0,2729.5 1506.4,2728.3 1507.8,2727.1 1509.2,2725.9 1510.5,2724.6 1511.9,2723.4 1513.3,2722.1 1514.7,2720.8 1516.1,2719.5 1517.5,2718.2 1518.9,2716.8 1520.3,2715.5 1521.7,2714.1 1523.1,2712.7 1524.5,2711.3 1525.9,2709.9 1527.3,2708.5 1528.7,2707.1 1530.0,2705.7 1531.4,2704.2 1532.8,2702.8 1534.2,2701.3 1535.6,2699.9 1537.0,2698.4 1538.4,2696.9 1539.8,2695.5 1541.2,2694.0 1542.6,2692.6 1544.0,2691.1 1545.4,2689.7 1546.8,2688.2 1548.1,2686.8 1549.5,2685.4 1550.9,2684.0 1552.3,2682.6 1553.7,2681.2 1555.1,2679.9 1556.5,2678.6 1557.9,2677.3 1559.3,2676.0 1560.7,2674.7 1562.1,2673.5 1563.5,2672.3 1564.9,2671.1 1566.2,2670.0 1567.6,2668.9 1569.0,2667.9 1570.4,2666.9 1571.8,2665.9 1573.2,2665.0 1574.6,2664.2 1576.0,2663.4 1577.4,2662.6 1578.8,2661.9 1580.2,2661.2 1581.6,2660.6 1583.0,2660.1 1584.4,2659.6 1585.7,2659.2 1587.1,2658.8 1588.5,2658.5 1589.9,2658.3 1591.3,2658.1 1592.7,2658.0 1594.1,2658.0 1595.5,2658.0 1596.9,2658.0 1598.3,2658.2 1599.7,2658.4 1601.1,2658.6 1602.5,2659.0 1603.8,2659.3 1605.2,2659.8 1606.6,2660.3 1608.0,2660.8 1609.4,2661.5 1610.8,2662.1 1612.2,2662.9 1613.6,2663.6 1615.0,2664.5 1616.4,2665.3 1617.8,2666.2 1619.2,2667.2 1620.6,2668.2 1621.9,2669.2 1623.3,2670.3 1624.7,2671.4 1626.1,2672.6 1627.5,2673.8 1628.9,2675.0 1630.3,2676.2 1631.7,2677.5 1633.1,2678.8 1634.5,2680.1 1635.9,2681.4 1637.3,2682.8 1638.7,2684.1 1640.1,2685.5 1641.4,2686.9 1642.8,2688.3 1644.2,2689.7 1645.6,2691.1 1647.0,2692.5 1648.4,2694.0 1649.8,2695.4 1651.2,2696.8 1652.6,2698.2 1654.0,2699.6 1655.4,2701.1 1656.8,2702.5 1658.2,2703.9 1659.5,2705.3 1660.9,2706.6 1662.3,2708.0 1663.7,2709.4 1665.1,2710.7 1666.5,2712.1 1667.9,2713.4 1669.3,2714.7 1670.7,2716.0 1672.1,2717.3 1673.5,2718.6 1674.9,2719.8 1676.3,2721.1 1677.6,2722.3 1679.0,2723.5 1680.4,2724.7 1681.8,2725.8 1683.2,2727.0 1684.6,2728.1 1686.0,2729.2 1687.4,2730.3 1688.8,2731.4 1690.2,2732.5 1691.6,2733.5 1693.0,2734.5 1694.4,2735.5 1695.8,2736.5 1697.1,2737.5 1698.5,2738.4 1699.9,2739.3 1701.3,2740.2 1702.7,2741.1 1704.1,2742.0 1705.5,2742.9 1706.9,2743.7 1708.3,2744.5 1709.7,2745.3 1711.1,2746.1 1712.5,2746.9 1713.9,2747.6 1715.2,2748.4 1716.6,2749.1 1718.0,2749.8 1719.4,2750.5 1720.8,2751.1 1722.2,2751.8 1723.6,2752.4 1725.0,2753.0 1726.4,2753.6 1727.8,2754.2 1729.2,2754.8 1730.6,2755.4 1732.0,2755.9 1733.3,2756.5 1734.7,2757.0 1736.1,2757.5 1737.5,2758.0 1738.9,2758.5 1740.3,2759.0 1741.7,2759.4 1743.1,2759.9 1744.5,2760.3 1745.9,2760.7 1747.3,2761.1 1748.7,2761.5 1750.1,2761.9 1751.5,2762.3 1752.8,2762.7 1754.2,2763.0 1755.6,2763.4 1757.0,2763.7 1758.4,2764.0 1759.8,2764.4 1761.2,2764.7 1762.6,2765.0 1764.0,2765.3 1765.4,2765.6 1766.8,2765.8 1768.2,2766.1 1769.6,2766.4 1770.9,2766.6 1772.3,2766.9 1773.7,2767.1 1775.1,2767.3 1776.5,2767.6 1777.9,2767.8 1779.3,2768.0 1780.7,2768.2 1782.1,2768.4 1783.5,2768.6 1784.9,2768.8 1786.3,2768.9 1787.7,2769.1 1789.0,2769.3 1790.4,2769.4 1791.8,2769.6 1793.2,2769.7 1794.6,2769.9 1796.0,2770.0 1797.4,2770.2 1798.8,2770.3 1800.2,2770.4 1801.6,2770.5 1803.0,2770.7 1804.4,2770.8 1805.8,2770.9 1807.2,2771.0 1808.5,2771.1 1809.9,2771.2 1811.3,2771.3 1812.7,2771.4 1814.1,2771.5 1815.5,2771.6 1816.9,2771.6 1818.3,2771.7 1819.7,2771.8 1821.1,2771.9 1822.5,2771.9 1823.9,2772.0 1825.3,2772.1 1826.6,2772.1 1828.0,2772.2 1829.4,2772.2 1830.8,2772.3 1832.2,2772.3 1833.6,2772.4 1835.0,2772.4 1836.4,2772.5 1837.8,2772.5 1839.2,2772.6 1840.6,2772.6 1842.0,2772.6 1843.4,2772.7 1844.7,2772.7 1846.1,2772.7 1847.5,2772.8 1848.9,2772.8 1850.3,2772.8 1851.7,2772.8 1853.1,2772.9 1854.5,2772.9 1855.9,2772.9 1857.3,2772.9 1858.7,2772.9 1860.1,2772.9 1861.5,2773.0 1862.9,2773.0 1864.2,2773.0 1865.6,2773.0 1867.0,2773.0 1868.4,2773.0 1869.8,2773.0 1871.2,2773.0 1872.6,2773.0 1874.0,2773.0 1875.4,2773.0 1876.8,2773.0 1878.2,2773.0 1879.6,2773.0 1881.0,2773.0 1882.3,2773.0 1883.7,2773.0 1885.1,2773.0 1886.5,2773.0 1887.9,2773.0 1889.3,2773.0 1890.7,2773.0 1892.1,2773.0 1893.5,2773.0 1894.9,2773.0 1896.3,2773.0 1897.7,2773.0 1899.1,2773.0 1900.4,2773.0 1901.8,2773.0 1903.2,2773.0 1904.6,2773.0 1906.0,2772.9 1907.4,2772.9 1908.8,2772.9 1910.2,2772.9 1911.6,2772.9 1913.0,2772.9 1914.4,2772.9 1915.8,2772.9 1917.2,2772.9 1918.6,2772.8 1919.9,2772.8 1921.3,2772.8 1922.7,2772.8 1924.1,2772.8 1925.5,2772.8 1926.9,2772.8 1928.3,2772.7 1929.7,2772.7 1931.1,2772.7 1932.5,2772.7 1933.9,2772.7 1935.3,2772.7 1936.7,2772.7 1938.0,2772.6 1939.4,2772.6 1940.8,2772.6 1942.2,2772.6 1943.6,2772.6 1945.0,2772.6 1946.4,2772.5 1947.8,2772.5 1949.2,2772.5 1950.6,2772.5 1952.0,2772.5 1953.4,2772.5 1954.8,2772.4 1956.1,2772.4 1957.5,2772.4 1958.9,2772.4 1960.3,2772.4 1961.7,2772.4 1963.1,2772.3 1964.5,2772.3 1965.9,2772.3 1967.3,2772.3 1968.7,2772.3 1970.1,2772.2 1971.5,2772.2 1972.9,2772.2 1974.3,2772.2 1975.6,2772.2 1977.0,2772.2 1978.4,2772.1 1979.8,2772.1 1981.2,2772.1 1982.6,2772.1 1984.0,2772.1 1985.4,2772.0 1986.8,2772.0 1988.2,2772.0 1989.6,2772.0 1991.0,2772.0 1992.4,2771.9 1993.7,2771.9 1995.1,2771.9 1996.5,2771.9 1997.9,2771.9 1999.3,2771.9 2000.7,2771.8 2002.1,2771.8 2003.5,2771.8 2004.9,2771.8 2006.3,2771.8 2007.7,2771.7 2009.1,2771.7 2010.5,2771.7 2011.8,2771.7 2013.2,2771.7 2014.6,2771.6 2016.0,2771.6 2017.4,2771.6 2018.8,2771.6 2020.2,2771.6 2021.6,2771.5 2023.0,2771.5 2024.4,2771.5 2025.8,2771.5 2027.2,2771.5 2028.6,2771.5 2030.0,2771.4 2031.3,2771.4 2032.7,2771.4 2034.1,2771.4 2035.5,2771.4 2036.9,2771.3 2038.3,2771.3 2039.7,2771.3 2041.1,2771.3 2042.5,2771.3 2043.9,2771.2 2045.3,2771.2 2046.7,2771.2 2048.1,2771.2 2049.4,2771.2 2050.8,2771.1 2052.2,2771.1 2053.6,2771.1 2055.0,2771.1 2056.4,2771.1 2057.8,2771.0 2059.2,2771.0 2060.6,2771.0 2062.0,2771.0 2063.4,2771.0 2064.8,2770.9 2066.2,2770.9 2067.5,2770.9 2068.9,2770.9 2070.3,2770.9 2071.7,2770.8 2073.1,2770.8 2074.5,2770.8 2075.9,2770.8 2077.3,2770.8 2078.7,2770.7 2080.1,2770.7 2081.5,2770.7 2082.9,2770.7 2084.3,2770.7 2085.7,2770.7 2087.0,2770.6 2088.4,2770.6 2089.8,2770.6 2091.2,2770.6 2092.6,2770.6 2094.0,2770.5 2095.4,2770.5 2096.8,2770.5 2098.2,2770.5 2099.6,2770.5 2101.0,2770.4 2102.4,2770.4 2103.8,2770.4 2105.1,2770.4 2106.5,2770.4 2107.9,2770.3 2109.3,2770.3 2110.7,2770.3 2112.1,2770.3 2113.5,2770.3 2114.9,2770.2 2116.3,2770.2 2117.7,2770.2 2119.1,2770.2 2120.5,2770.2 2121.9,2770.1 2123.2,2770.1 2124.6,2770.1 2126.0,2770.1 2127.4,2770.1 2128.8,2770.0 2130.2,2770.0 2131.6,2770.0 2133.0,2770.0 2134.4,2770.0 2135.8,2769.9 2137.2,2769.9 2138.6,2769.9 2140.0,2769.9 2141.4,2769.9 2142.7,2769.8 2144.1,2769.8 2145.5,2769.8 2146.9,2769.8 2148.3,2769.8 2149.7,2769.8 2151.1,2769.7 2152.5,2769.7 2153.9,2769.7 2155.3,2769.7 2156.7,2769.7 2158.1,2769.6 2159.5,2769.6 2160.8,2769.6 2162.2,2769.6 2163.6,2769.6 2165.0,2769.5 2166.4,2769.5 2167.8,2769.5 2169.2,2769.5 2170.6,2769.5 2172.0,2769.4 2173.4,2769.4 2174.8,2769.4 2176.2,2769.4 2177.6,2769.4 2178.9,2769.3 2180.3,2769.3 2181.7,2769.3 2183.1,2769.3 2184.5,2769.3 2185.9,2769.2 2187.3,2769.2 2188.7,2769.2 2190.1,2769.2 2191.5,2769.2 2192.9,2769.1 2194.3,2769.1 2195.7,2769.1 2197.1,2769.1 2198.4,2769.1 2199.8,2769.0 2201.2,2769.0 2202.6,2769.0 2204.0,2769.0 2205.4,2769.0 2206.8,2769.0 2208.2,2768.9 2209.6,2768.9 2211.0,2768.9 2212.4,2768.9 2213.8,2768.9 2215.2,2768.8 2216.5,2768.8 2217.9,2768.8 2219.3,2768.8 2220.7,2768.8 2222.1,2768.7 2223.5,2768.7 2224.9,2768.7 2226.3,2768.7 2227.7,2768.7 2229.1,2768.6 2230.5,2768.6 2231.9,2768.6 2233.3,2768.6 2234.6,2768.6 2236.0,2768.5 2237.4,2768.5 2238.8,2768.5 2240.2,2768.5 2241.6,2768.5 2243.0,2768.4 2244.4,2768.4 2245.8,2768.4 2247.2,2768.4 2248.6,2768.4 2250.0,2768.3 2251.4,2768.3 2252.8,2768.3 2254.1,2768.3 2255.5,2768.3 2256.9,2768.2 2258.3,2768.2 2259.7,2768.2 2261.1,2768.2 2262.5,2768.2 2263.9,2768.1 2265.3,2768.1 2266.7,2768.1 2268.1,2768.1 2269.5,2768.1 2270.9,2768.1 2272.2,2768.0 2273.6,2768.0 2275.0,2768.0 2276.4,2768.0 2277.8,2768.0 2279.2,2767.9 2280.6,2767.9 2282.0,2767.9 2283.4,2767.9 2284.8,2767.9 2286.2,2767.8 2287.6,2767.8 2289.0,2767.8 2290.3,2767.8 2291.7,2767.8 2293.1,2767.7 2294.5,2767.7 2295.9,2767.7 2297.3,2767.7 2298.7,2767.7 2300.1,2767.6 2301.5,2767.6 2302.9,2767.6 2304.3,2767.6 2305.7,2767.6 2307.1,2767.5 2308.5,2767.5 2309.8,2767.5 2311.2,2767.5 2312.6,2767.5 2314.0,2767.4 2315.4,2767.4 2316.8,2767.4 2318.2,2767.4 2319.6,2767.4 2321.0,2767.3 2322.4,2767.3 2323.8,2767.3 2325.2,2767.3 2326.6,2767.3 2327.9,2767.2 2329.3,2767.2 2330.7,2767.2 2332.1,2767.2 2333.5,2767.2 2334.9,2767.2 2336.3,2767.1 2337.7,2767.1 2339.1,2767.1 2340.5,2767.1 2341.9,2767.1 2343.3,2767.0 2344.7,2767.0 2346.0,2767.0 2347.4,2767.0 2348.8,2767.0 2350.2,2766.9 2351.6,2766.9 2353.0,2766.9 2354.4,2766.9 2355.8,2766.9 2357.2,2766.8 2358.6,2766.8 2360.0,2766.8 2361.4,2766.8 2362.8,2766.8 2364.2,2766.7 2365.5,2766.7 2366.9,2766.7 2368.3,2766.7 2369.7,2766.7 2371.1,2766.6 2372.5,2766.6 2373.9,2766.6 2375.3,2766.6 2376.7,2766.6 2378.1,2766.5 2379.5,2766.5 2380.9,2766.5 2382.3,2766.5 2383.6,2766.5 2385.0,2766.4 2386.4,2766.4 2387.8,2766.4 2389.2,2766.4 2390.6,2766.4 2392.0,2766.3 2393.4,2766.3 2394.8,2766.3 2396.2,2766.3 2397.6,2766.3 2399.0,2766.3 2400.4,2766.2 2401.7,2766.2 2403.1,2766.2 2404.5,2766.2 2405.9,2766.2 2407.3,2766.1 2408.7,2766.1 2410.1,2766.1 2411.5,2766.1 2412.9,2766.1 2414.3,2766.0 2415.7,2766.0 2417.1,2766.0" fill="none" stroke="#8b4c4c" stroke-width="3.6" stroke-linejoin="round" stroke-linecap="butt" />
</g>
<text x="1438.2" y="2120.8" font-size="41" text-anchor="start" font-family="'Liberation Sans', sans-serif" font-weight="bold" >Co 2p</text>
<text x="2207.0" y="2139.8" font-size="42" text-anchor="start" font-family="'Liberation Sans', sans-serif" font-weight="bold" >Co 2p<tspan font-size="29" dy="12">3/2</tspan></text>
<text x="1772.5" y="2488.0" font-size="42" text-anchor="start" font-family="'Liberation Sans', sans-serif" font-weight="bold" >Co 2p<tspan font-size="29" dy="12">1/2</tspan></text>
<text x="1567.6" y="2625.0" font-size="42" text-anchor="start" font-family="'Liberation Sans', sans-serif" font-weight="bold" >Sat</text>
<text x="1966.5" y="2559.3" font-size="42.3" text-anchor="start" font-family="'Liberation Sans', sans-serif" font-weight="bold" >Co(II)</text>
<text x="2078.5" y="2439.3" font-size="42.3" text-anchor="start" font-family="'Liberation Sans', sans-serif" font-weight="bold" >Co(</text>
<text transform="translate(2149.6 2439.3) scale(0.74 1)" font-size="46.5" font-family="'Liberation Serif', serif">IV</text>
<text x="2187.0" y="2439.3" font-size="42.3" text-anchor="start" font-family="'Liberation Sans', sans-serif" font-weight="bold" >)</text>
<line x1="2079.8" y1="2639.5" x2="2027.5" y2="2580.7" stroke="#000" stroke-width="3.0"/>
<polygon points="2013.1,2564.6 2036.7,2579.8 2027.5,2580.7 2025.5,2589.8" fill="#000"/>
<line x1="2212.8" y1="2596.4" x2="2164.5" y2="2474.1" stroke="#000" stroke-width="3.0"/>
<polygon points="2156.6,2454.0 2173.5,2476.4 2164.5,2474.1 2159.5,2481.9" fill="#000"/>
</svg>
</body></html>
